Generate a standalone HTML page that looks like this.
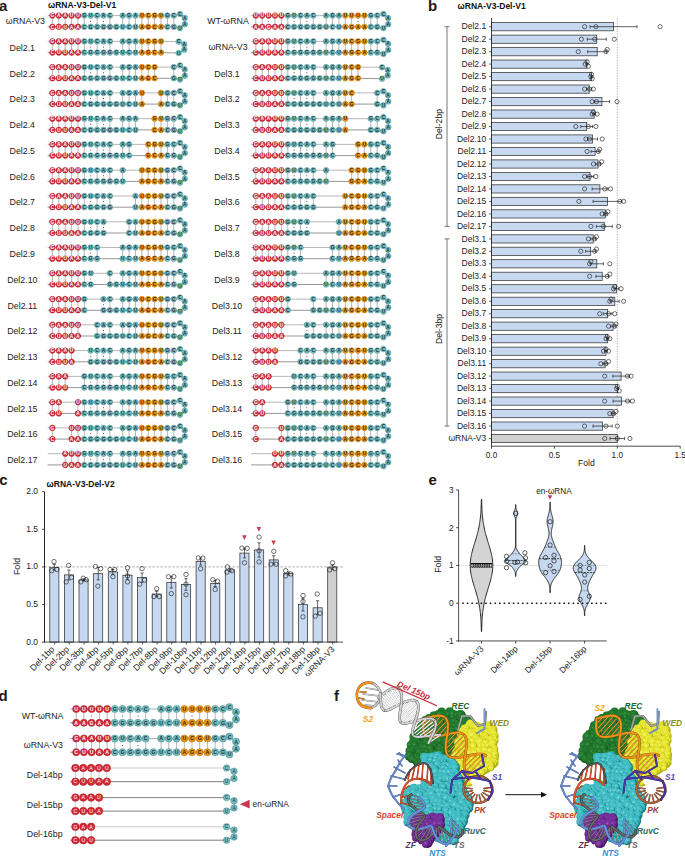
<!DOCTYPE html><html><head><meta charset="utf-8"><style>html,body{margin:0;padding:0;background:#fff;}svg{display:block;font-family:"Liberation Sans",sans-serif;}</style></head><body><svg width="685" height="856" viewBox="0 0 685 856"><rect width="685" height="856" fill="#fff"/><defs><g id="rG280"><circle r="2.8" fill="#d62a38" stroke="#a01e28" stroke-width="0.5"/><text y="1.7" font-size="4.8" text-anchor="middle" fill="#fff" font-weight="bold">G</text></g><g id="rA280"><circle r="2.8" fill="#d62a38" stroke="#a01e28" stroke-width="0.5"/><text y="1.7" font-size="4.8" text-anchor="middle" fill="#fff" font-weight="bold">A</text></g><g id="rU280"><circle r="2.8" fill="#d62a38" stroke="#a01e28" stroke-width="0.5"/><text y="1.7" font-size="4.8" text-anchor="middle" fill="#fff" font-weight="bold">U</text></g><g id="tG280"><circle r="2.8" fill="#74bdc1" stroke="#4a8e92" stroke-width="0.5"/><text y="1.7" font-size="4.8" text-anchor="middle" fill="#1a3436" font-weight="bold">G</text></g><g id="tU280"><circle r="2.8" fill="#74bdc1" stroke="#4a8e92" stroke-width="0.5"/><text y="1.7" font-size="4.8" text-anchor="middle" fill="#1a3436" font-weight="bold">U</text></g><g id="tC280"><circle r="2.8" fill="#74bdc1" stroke="#4a8e92" stroke-width="0.5"/><text y="1.7" font-size="4.8" text-anchor="middle" fill="#1a3436" font-weight="bold">C</text></g><g id="tA280"><circle r="2.8" fill="#74bdc1" stroke="#4a8e92" stroke-width="0.5"/><text y="1.7" font-size="4.8" text-anchor="middle" fill="#1a3436" font-weight="bold">A</text></g><g id="oU280"><circle r="2.8" fill="#e8961a" stroke="#bb7410" stroke-width="0.5"/><text y="1.7" font-size="4.8" text-anchor="middle" fill="#3a2400" font-weight="bold">U</text></g><g id="oC280"><circle r="2.8" fill="#e8961a" stroke="#bb7410" stroke-width="0.5"/><text y="1.7" font-size="4.8" text-anchor="middle" fill="#3a2400" font-weight="bold">C</text></g><g id="oG280"><circle r="2.8" fill="#e8961a" stroke="#bb7410" stroke-width="0.5"/><text y="1.7" font-size="4.8" text-anchor="middle" fill="#3a2400" font-weight="bold">G</text></g><g id="rC280"><circle r="2.8" fill="#d62a38" stroke="#a01e28" stroke-width="0.5"/><text y="1.7" font-size="4.8" text-anchor="middle" fill="#fff" font-weight="bold">C</text></g><g id="oA280"><circle r="2.8" fill="#e8961a" stroke="#bb7410" stroke-width="0.5"/><text y="1.7" font-size="4.8" text-anchor="middle" fill="#3a2400" font-weight="bold">A</text></g><g id="rU355"><circle r="3.55" fill="#d62a38" stroke="#a01e28" stroke-width="0.6"/><text y="1.9" font-size="5.2" text-anchor="middle" fill="#fff" font-weight="bold">U</text></g><g id="tG355"><circle r="3.55" fill="#74bdc1" stroke="#4a8e92" stroke-width="0.6"/><text y="1.9" font-size="5.2" text-anchor="middle" fill="#1a3436" font-weight="bold">G</text></g><g id="tU355"><circle r="3.55" fill="#74bdc1" stroke="#4a8e92" stroke-width="0.6"/><text y="1.9" font-size="5.2" text-anchor="middle" fill="#1a3436" font-weight="bold">U</text></g><g id="tC355"><circle r="3.55" fill="#74bdc1" stroke="#4a8e92" stroke-width="0.6"/><text y="1.9" font-size="5.2" text-anchor="middle" fill="#1a3436" font-weight="bold">C</text></g><g id="tA355"><circle r="3.55" fill="#74bdc1" stroke="#4a8e92" stroke-width="0.6"/><text y="1.9" font-size="5.2" text-anchor="middle" fill="#1a3436" font-weight="bold">A</text></g><g id="oU355"><circle r="3.55" fill="#e8961a" stroke="#bb7410" stroke-width="0.6"/><text y="1.9" font-size="5.2" text-anchor="middle" fill="#3a2400" font-weight="bold">U</text></g><g id="rA355"><circle r="3.55" fill="#d62a38" stroke="#a01e28" stroke-width="0.6"/><text y="1.9" font-size="5.2" text-anchor="middle" fill="#fff" font-weight="bold">A</text></g><g id="rG355"><circle r="3.55" fill="#d62a38" stroke="#a01e28" stroke-width="0.6"/><text y="1.9" font-size="5.2" text-anchor="middle" fill="#fff" font-weight="bold">G</text></g><g id="oA355"><circle r="3.55" fill="#e8961a" stroke="#bb7410" stroke-width="0.6"/><text y="1.9" font-size="5.2" text-anchor="middle" fill="#3a2400" font-weight="bold">A</text></g><g id="oG355"><circle r="3.55" fill="#e8961a" stroke="#bb7410" stroke-width="0.6"/><text y="1.9" font-size="5.2" text-anchor="middle" fill="#3a2400" font-weight="bold">G</text></g><g id="oC355"><circle r="3.55" fill="#e8961a" stroke="#bb7410" stroke-width="0.6"/><text y="1.9" font-size="5.2" text-anchor="middle" fill="#3a2400" font-weight="bold">C</text></g><g id="rC355"><circle r="3.55" fill="#d62a38" stroke="#a01e28" stroke-width="0.6"/><text y="1.9" font-size="5.2" text-anchor="middle" fill="#fff" font-weight="bold">C</text></g></defs><text x="-1.0" y="10.8" font-size="15" text-anchor="start" font-weight="bold" font-style="normal" fill="#231815" >a</text><text x="48.0" y="7.9" font-size="8.5" text-anchor="start" font-weight="bold" font-style="normal" fill="#111" >ωRNA-V3-Del-V1</text><line x1="52.4" y1="18.4" x2="52.4" y2="24.0" stroke="#ababab" stroke-width="0.85"/><line x1="58.8" y1="18.4" x2="58.8" y2="24.0" stroke="#ababab" stroke-width="0.85"/><line x1="65.2" y1="18.4" x2="65.2" y2="24.0" stroke="#ababab" stroke-width="0.85"/><line x1="71.6" y1="18.4" x2="71.6" y2="24.0" stroke="#ababab" stroke-width="0.85"/><line x1="78.0" y1="18.4" x2="78.0" y2="24.0" stroke="#ababab" stroke-width="0.85"/><line x1="84.3" y1="18.4" x2="84.3" y2="24.0" stroke="#ababab" stroke-width="0.85"/><circle cx="90.7" cy="21.2" r="0.5" fill="#222"/><line x1="97.1" y1="18.4" x2="97.1" y2="24.0" stroke="#ababab" stroke-width="0.85"/><circle cx="103.5" cy="21.2" r="0.5" fill="#222"/><line x1="109.9" y1="18.4" x2="109.9" y2="24.0" stroke="#ababab" stroke-width="0.85"/><line x1="122.7" y1="18.4" x2="122.7" y2="24.0" stroke="#ababab" stroke-width="0.85"/><line x1="129.1" y1="18.4" x2="129.1" y2="24.0" stroke="#ababab" stroke-width="0.85"/><line x1="135.5" y1="18.4" x2="135.5" y2="24.0" stroke="#ababab" stroke-width="0.85"/><line x1="141.9" y1="18.4" x2="141.9" y2="24.0" stroke="#ababab" stroke-width="0.85"/><line x1="148.2" y1="18.4" x2="148.2" y2="24.0" stroke="#ababab" stroke-width="0.85"/><line x1="154.6" y1="18.4" x2="154.6" y2="24.0" stroke="#ababab" stroke-width="0.85"/><line x1="161.0" y1="18.4" x2="161.0" y2="24.0" stroke="#ababab" stroke-width="0.85"/><line x1="167.4" y1="18.4" x2="167.4" y2="24.0" stroke="#ababab" stroke-width="0.85"/><line x1="173.8" y1="18.4" x2="173.8" y2="24.0" stroke="#ababab" stroke-width="0.85"/><path d="M47.7,15.6 L52.4,15.6 L58.8,15.6 L65.2,15.6 L71.6,15.6 L78.0,15.6 L84.3,15.6 L90.7,15.6 L97.1,15.6 L103.5,15.6 L109.9,15.6 L122.7,15.6 L129.1,15.6 L135.5,15.6 L141.9,15.6 L148.2,15.6 L154.6,15.6 L161.0,15.6 L167.4,15.6 L173.8,15.6 L180.0,14.0 " fill="none" stroke="#9a9a9a" stroke-width="0.7"/><path d="M47.7,26.8 L52.4,26.8 L58.8,26.8 L65.2,26.8 L71.6,26.8 L78.0,26.8 L84.3,26.8 L90.7,26.8 L97.1,26.8 L103.5,26.8 L109.9,26.8 L116.3,26.8 L122.7,26.8 L129.1,26.8 L135.5,26.8 L141.9,26.8 L148.2,26.8 L154.6,26.8 L161.0,26.8 L167.4,26.8 L173.8,26.8 L180.0,28.1 " fill="none" stroke="#6a6a6a" stroke-width="0.7"/><line x1="180.0" y1="14.0" x2="184.7" y2="17.9" stroke="#6a6a6a" stroke-width="0.7"/><line x1="184.7" y1="17.9" x2="184.8" y2="24.2" stroke="#6a6a6a" stroke-width="0.7"/><line x1="184.8" y1="24.2" x2="180.0" y2="28.1" stroke="#6a6a6a" stroke-width="0.7"/><use href="#rG280" x="52.4" y="15.6"/><use href="#rA280" x="58.8" y="15.6"/><use href="#rA280" x="65.2" y="15.6"/><use href="#rU280" x="71.6" y="15.6"/><use href="#rU280" x="78.0" y="15.6"/><use href="#tG280" x="84.3" y="15.6"/><use href="#tU280" x="90.7" y="15.6"/><use href="#tC280" x="97.1" y="15.6"/><use href="#tA280" x="103.5" y="15.6"/><use href="#tC280" x="109.9" y="15.6"/><use href="#tA280" x="122.7" y="15.6"/><use href="#tG280" x="129.1" y="15.6"/><use href="#tA280" x="135.5" y="15.6"/><use href="#oU280" x="141.9" y="15.6"/><use href="#oC280" x="148.2" y="15.6"/><use href="#oG280" x="154.6" y="15.6"/><use href="#oU280" x="161.0" y="15.6"/><use href="#tG280" x="167.4" y="15.6"/><use href="#tC280" x="173.8" y="15.6"/><use href="#rC280" x="52.4" y="26.8"/><use href="#rU280" x="58.8" y="26.8"/><use href="#rU280" x="65.2" y="26.8"/><use href="#rA280" x="71.6" y="26.8"/><use href="#rA280" x="78.0" y="26.8"/><use href="#tC280" x="84.3" y="26.8"/><use href="#tG280" x="90.7" y="26.8"/><use href="#tG280" x="97.1" y="26.8"/><use href="#tG280" x="103.5" y="26.8"/><use href="#tG280" x="109.9" y="26.8"/><use href="#tG280" x="116.3" y="26.8"/><use href="#tU280" x="122.7" y="26.8"/><use href="#tC280" x="129.1" y="26.8"/><use href="#tU280" x="135.5" y="26.8"/><use href="#oA280" x="141.9" y="26.8"/><use href="#oG280" x="148.2" y="26.8"/><use href="#oC280" x="154.6" y="26.8"/><use href="#oA280" x="161.0" y="26.8"/><use href="#tC280" x="167.4" y="26.8"/><use href="#tG280" x="173.8" y="26.8"/><use href="#tC280" x="180.0" y="14.0"/><use href="#tA280" x="184.7" y="17.9"/><use href="#tA280" x="184.8" y="24.2"/><use href="#tU280" x="180.0" y="28.1"/><text x="25.4" y="23.8" font-size="8.8" text-anchor="middle" font-weight="normal" font-style="normal" fill="#222" >ωRNA-V3</text><line x1="52.4" y1="44.2" x2="52.4" y2="49.8" stroke="#ababab" stroke-width="0.85"/><line x1="58.8" y1="44.2" x2="58.8" y2="49.8" stroke="#ababab" stroke-width="0.85"/><line x1="65.2" y1="44.2" x2="65.2" y2="49.8" stroke="#ababab" stroke-width="0.85"/><line x1="71.6" y1="44.2" x2="71.6" y2="49.8" stroke="#ababab" stroke-width="0.85"/><line x1="78.0" y1="44.2" x2="78.0" y2="49.8" stroke="#ababab" stroke-width="0.85"/><line x1="84.3" y1="44.2" x2="84.3" y2="49.8" stroke="#ababab" stroke-width="0.85"/><circle cx="90.7" cy="47.0" r="0.5" fill="#222"/><line x1="97.1" y1="44.2" x2="97.1" y2="49.8" stroke="#ababab" stroke-width="0.85"/><circle cx="103.5" cy="47.0" r="0.5" fill="#222"/><line x1="109.9" y1="44.2" x2="109.9" y2="49.8" stroke="#ababab" stroke-width="0.85"/><line x1="122.7" y1="44.2" x2="122.7" y2="49.8" stroke="#ababab" stroke-width="0.85"/><line x1="129.1" y1="44.2" x2="129.1" y2="49.8" stroke="#ababab" stroke-width="0.85"/><line x1="135.5" y1="44.2" x2="135.5" y2="49.8" stroke="#ababab" stroke-width="0.85"/><line x1="141.9" y1="44.2" x2="141.9" y2="49.8" stroke="#ababab" stroke-width="0.85"/><line x1="148.2" y1="44.2" x2="148.2" y2="49.8" stroke="#ababab" stroke-width="0.85"/><line x1="154.6" y1="44.2" x2="154.6" y2="49.8" stroke="#ababab" stroke-width="0.85"/><line x1="161.0" y1="44.2" x2="161.0" y2="49.8" stroke="#ababab" stroke-width="0.85"/><path d="M47.7,41.4 L52.4,41.4 L58.8,41.4 L65.2,41.4 L71.6,41.4 L78.0,41.4 L84.3,41.4 L90.7,41.4 L97.1,41.4 L103.5,41.4 L109.9,41.4 L122.7,41.4 L129.1,41.4 L135.5,41.4 L141.9,41.4 L148.2,41.4 L154.6,41.4 L161.0,41.4 L178.7,41.6 " fill="none" stroke="#9a9a9a" stroke-width="0.7"/><path d="M47.7,52.6 L52.4,52.6 L58.8,52.6 L65.2,52.6 L71.6,52.6 L78.0,52.6 L84.3,52.6 L90.7,52.6 L97.1,52.6 L103.5,52.6 L109.9,52.6 L116.3,52.6 L122.7,52.6 L129.1,52.6 L135.5,52.6 L141.9,52.6 L148.2,52.6 L154.6,52.6 L161.0,52.6 L178.7,53.0 " fill="none" stroke="#6a6a6a" stroke-width="0.7"/><line x1="178.7" y1="41.6" x2="184.3" y2="44.2" stroke="#6a6a6a" stroke-width="0.7"/><line x1="184.3" y1="44.2" x2="184.3" y2="49.7" stroke="#6a6a6a" stroke-width="0.7"/><line x1="184.3" y1="49.7" x2="178.7" y2="53.0" stroke="#6a6a6a" stroke-width="0.7"/><use href="#rG280" x="52.4" y="41.4"/><use href="#rA280" x="58.8" y="41.4"/><use href="#rA280" x="65.2" y="41.4"/><use href="#rU280" x="71.6" y="41.4"/><use href="#rU280" x="78.0" y="41.4"/><use href="#tG280" x="84.3" y="41.4"/><use href="#tU280" x="90.7" y="41.4"/><use href="#tC280" x="97.1" y="41.4"/><use href="#tA280" x="103.5" y="41.4"/><use href="#tC280" x="109.9" y="41.4"/><use href="#tA280" x="122.7" y="41.4"/><use href="#tG280" x="129.1" y="41.4"/><use href="#tA280" x="135.5" y="41.4"/><use href="#oU280" x="141.9" y="41.4"/><use href="#oC280" x="148.2" y="41.4"/><use href="#oG280" x="154.6" y="41.4"/><use href="#oU280" x="161.0" y="41.4"/><use href="#rC280" x="52.4" y="52.6"/><use href="#rU280" x="58.8" y="52.6"/><use href="#rU280" x="65.2" y="52.6"/><use href="#rA280" x="71.6" y="52.6"/><use href="#rA280" x="78.0" y="52.6"/><use href="#tC280" x="84.3" y="52.6"/><use href="#tG280" x="90.7" y="52.6"/><use href="#tG280" x="97.1" y="52.6"/><use href="#tG280" x="103.5" y="52.6"/><use href="#tG280" x="109.9" y="52.6"/><use href="#tG280" x="116.3" y="52.6"/><use href="#tU280" x="122.7" y="52.6"/><use href="#tC280" x="129.1" y="52.6"/><use href="#tU280" x="135.5" y="52.6"/><use href="#oA280" x="141.9" y="52.6"/><use href="#oG280" x="148.2" y="52.6"/><use href="#oC280" x="154.6" y="52.6"/><use href="#oA280" x="161.0" y="52.6"/><use href="#tC280" x="178.7" y="41.6"/><use href="#tA280" x="184.3" y="44.2"/><use href="#tA280" x="184.3" y="49.7"/><use href="#tU280" x="178.7" y="53.0"/><text x="22.3" y="50.8" font-size="8.8" text-anchor="middle" font-weight="normal" font-style="normal" fill="#222" >Del2.1</text><line x1="52.4" y1="69.9" x2="52.4" y2="75.5" stroke="#ababab" stroke-width="0.85"/><line x1="58.8" y1="69.9" x2="58.8" y2="75.5" stroke="#ababab" stroke-width="0.85"/><line x1="65.2" y1="69.9" x2="65.2" y2="75.5" stroke="#ababab" stroke-width="0.85"/><line x1="71.6" y1="69.9" x2="71.6" y2="75.5" stroke="#ababab" stroke-width="0.85"/><line x1="78.0" y1="69.9" x2="78.0" y2="75.5" stroke="#ababab" stroke-width="0.85"/><line x1="84.3" y1="69.9" x2="84.3" y2="75.5" stroke="#ababab" stroke-width="0.85"/><circle cx="90.7" cy="72.7" r="0.5" fill="#222"/><line x1="97.1" y1="69.9" x2="97.1" y2="75.5" stroke="#ababab" stroke-width="0.85"/><circle cx="103.5" cy="72.7" r="0.5" fill="#222"/><line x1="109.9" y1="69.9" x2="109.9" y2="75.5" stroke="#ababab" stroke-width="0.85"/><line x1="122.7" y1="69.9" x2="122.7" y2="75.5" stroke="#ababab" stroke-width="0.85"/><line x1="129.1" y1="69.9" x2="129.1" y2="75.5" stroke="#ababab" stroke-width="0.85"/><line x1="135.5" y1="69.9" x2="135.5" y2="75.5" stroke="#ababab" stroke-width="0.85"/><line x1="141.9" y1="69.9" x2="141.9" y2="75.5" stroke="#ababab" stroke-width="0.85"/><line x1="148.2" y1="69.9" x2="148.2" y2="75.5" stroke="#ababab" stroke-width="0.85"/><line x1="154.6" y1="69.9" x2="154.6" y2="75.5" stroke="#ababab" stroke-width="0.85"/><line x1="173.8" y1="69.9" x2="173.8" y2="75.5" stroke="#ababab" stroke-width="0.85"/><path d="M47.7,67.1 L52.4,67.1 L58.8,67.1 L65.2,67.1 L71.6,67.1 L78.0,67.1 L84.3,67.1 L90.7,67.1 L97.1,67.1 L103.5,67.1 L109.9,67.1 L122.7,67.1 L129.1,67.1 L135.5,67.1 L141.9,67.1 L148.2,67.1 L154.6,67.1 L173.8,67.1 L180.0,65.5 " fill="none" stroke="#9a9a9a" stroke-width="0.7"/><path d="M47.7,78.3 L52.4,78.3 L58.8,78.3 L65.2,78.3 L71.6,78.3 L78.0,78.3 L84.3,78.3 L90.7,78.3 L97.1,78.3 L103.5,78.3 L109.9,78.3 L116.3,78.3 L122.7,78.3 L129.1,78.3 L135.5,78.3 L141.9,78.3 L148.2,78.3 L154.6,78.3 L173.8,78.3 L180.0,79.6 " fill="none" stroke="#6a6a6a" stroke-width="0.7"/><line x1="180.0" y1="65.5" x2="184.7" y2="69.4" stroke="#6a6a6a" stroke-width="0.7"/><line x1="184.7" y1="69.4" x2="184.8" y2="75.7" stroke="#6a6a6a" stroke-width="0.7"/><line x1="184.8" y1="75.7" x2="180.0" y2="79.6" stroke="#6a6a6a" stroke-width="0.7"/><use href="#rG280" x="52.4" y="67.1"/><use href="#rA280" x="58.8" y="67.1"/><use href="#rA280" x="65.2" y="67.1"/><use href="#rU280" x="71.6" y="67.1"/><use href="#rU280" x="78.0" y="67.1"/><use href="#tG280" x="84.3" y="67.1"/><use href="#tU280" x="90.7" y="67.1"/><use href="#tC280" x="97.1" y="67.1"/><use href="#tA280" x="103.5" y="67.1"/><use href="#tC280" x="109.9" y="67.1"/><use href="#tA280" x="122.7" y="67.1"/><use href="#tG280" x="129.1" y="67.1"/><use href="#tA280" x="135.5" y="67.1"/><use href="#oU280" x="141.9" y="67.1"/><use href="#oC280" x="148.2" y="67.1"/><use href="#oG280" x="154.6" y="67.1"/><use href="#tC280" x="173.8" y="67.1"/><use href="#rC280" x="52.4" y="78.3"/><use href="#rU280" x="58.8" y="78.3"/><use href="#rU280" x="65.2" y="78.3"/><use href="#rA280" x="71.6" y="78.3"/><use href="#rA280" x="78.0" y="78.3"/><use href="#tC280" x="84.3" y="78.3"/><use href="#tG280" x="90.7" y="78.3"/><use href="#tG280" x="97.1" y="78.3"/><use href="#tG280" x="103.5" y="78.3"/><use href="#tG280" x="109.9" y="78.3"/><use href="#tG280" x="116.3" y="78.3"/><use href="#tU280" x="122.7" y="78.3"/><use href="#tC280" x="129.1" y="78.3"/><use href="#tU280" x="135.5" y="78.3"/><use href="#oA280" x="141.9" y="78.3"/><use href="#oG280" x="148.2" y="78.3"/><use href="#oC280" x="154.6" y="78.3"/><use href="#tG280" x="173.8" y="78.3"/><use href="#tC280" x="180.0" y="65.5"/><use href="#tA280" x="184.7" y="69.4"/><use href="#tA280" x="184.8" y="75.7"/><use href="#tU280" x="180.0" y="79.6"/><text x="22.3" y="76.5" font-size="8.8" text-anchor="middle" font-weight="normal" font-style="normal" fill="#222" >Del2.2</text><line x1="52.4" y1="95.7" x2="52.4" y2="101.3" stroke="#ababab" stroke-width="0.85"/><line x1="58.8" y1="95.7" x2="58.8" y2="101.3" stroke="#ababab" stroke-width="0.85"/><line x1="65.2" y1="95.7" x2="65.2" y2="101.3" stroke="#ababab" stroke-width="0.85"/><line x1="71.6" y1="95.7" x2="71.6" y2="101.3" stroke="#ababab" stroke-width="0.85"/><line x1="78.0" y1="95.7" x2="78.0" y2="101.3" stroke="#ababab" stroke-width="0.85"/><line x1="84.3" y1="95.7" x2="84.3" y2="101.3" stroke="#ababab" stroke-width="0.85"/><circle cx="90.7" cy="98.5" r="0.5" fill="#222"/><line x1="97.1" y1="95.7" x2="97.1" y2="101.3" stroke="#ababab" stroke-width="0.85"/><circle cx="103.5" cy="98.5" r="0.5" fill="#222"/><line x1="109.9" y1="95.7" x2="109.9" y2="101.3" stroke="#ababab" stroke-width="0.85"/><line x1="122.7" y1="95.7" x2="122.7" y2="101.3" stroke="#ababab" stroke-width="0.85"/><line x1="129.1" y1="95.7" x2="129.1" y2="101.3" stroke="#ababab" stroke-width="0.85"/><line x1="135.5" y1="95.7" x2="135.5" y2="101.3" stroke="#ababab" stroke-width="0.85"/><line x1="141.9" y1="95.7" x2="141.9" y2="101.3" stroke="#ababab" stroke-width="0.85"/><line x1="161.0" y1="95.7" x2="161.0" y2="101.3" stroke="#ababab" stroke-width="0.85"/><line x1="167.4" y1="95.7" x2="167.4" y2="101.3" stroke="#ababab" stroke-width="0.85"/><line x1="173.8" y1="95.7" x2="173.8" y2="101.3" stroke="#ababab" stroke-width="0.85"/><path d="M47.7,92.9 L52.4,92.9 L58.8,92.9 L65.2,92.9 L71.6,92.9 L78.0,92.9 L84.3,92.9 L90.7,92.9 L97.1,92.9 L103.5,92.9 L109.9,92.9 L122.7,92.9 L129.1,92.9 L135.5,92.9 L141.9,92.9 L161.0,92.9 L167.4,92.9 L173.8,92.9 L180.0,91.3 " fill="none" stroke="#9a9a9a" stroke-width="0.7"/><path d="M47.7,104.1 L52.4,104.1 L58.8,104.1 L65.2,104.1 L71.6,104.1 L78.0,104.1 L84.3,104.1 L90.7,104.1 L97.1,104.1 L103.5,104.1 L109.9,104.1 L116.3,104.1 L122.7,104.1 L129.1,104.1 L135.5,104.1 L141.9,104.1 L161.0,104.1 L167.4,104.1 L173.8,104.1 L180.0,105.4 " fill="none" stroke="#6a6a6a" stroke-width="0.7"/><line x1="180.0" y1="91.3" x2="184.7" y2="95.2" stroke="#6a6a6a" stroke-width="0.7"/><line x1="184.7" y1="95.2" x2="184.8" y2="101.5" stroke="#6a6a6a" stroke-width="0.7"/><line x1="184.8" y1="101.5" x2="180.0" y2="105.4" stroke="#6a6a6a" stroke-width="0.7"/><use href="#rG280" x="52.4" y="92.9"/><use href="#rA280" x="58.8" y="92.9"/><use href="#rA280" x="65.2" y="92.9"/><use href="#rU280" x="71.6" y="92.9"/><use href="#rU280" x="78.0" y="92.9"/><use href="#tG280" x="84.3" y="92.9"/><use href="#tU280" x="90.7" y="92.9"/><use href="#tC280" x="97.1" y="92.9"/><use href="#tA280" x="103.5" y="92.9"/><use href="#tC280" x="109.9" y="92.9"/><use href="#tA280" x="122.7" y="92.9"/><use href="#tG280" x="129.1" y="92.9"/><use href="#tA280" x="135.5" y="92.9"/><use href="#oU280" x="141.9" y="92.9"/><use href="#oU280" x="161.0" y="92.9"/><use href="#tG280" x="167.4" y="92.9"/><use href="#tC280" x="173.8" y="92.9"/><use href="#rC280" x="52.4" y="104.1"/><use href="#rU280" x="58.8" y="104.1"/><use href="#rU280" x="65.2" y="104.1"/><use href="#rA280" x="71.6" y="104.1"/><use href="#rA280" x="78.0" y="104.1"/><use href="#tC280" x="84.3" y="104.1"/><use href="#tG280" x="90.7" y="104.1"/><use href="#tG280" x="97.1" y="104.1"/><use href="#tG280" x="103.5" y="104.1"/><use href="#tG280" x="109.9" y="104.1"/><use href="#tG280" x="116.3" y="104.1"/><use href="#tU280" x="122.7" y="104.1"/><use href="#tC280" x="129.1" y="104.1"/><use href="#tU280" x="135.5" y="104.1"/><use href="#oA280" x="141.9" y="104.1"/><use href="#oA280" x="161.0" y="104.1"/><use href="#tC280" x="167.4" y="104.1"/><use href="#tG280" x="173.8" y="104.1"/><use href="#tC280" x="180.0" y="91.3"/><use href="#tA280" x="184.7" y="95.2"/><use href="#tA280" x="184.8" y="101.5"/><use href="#tU280" x="180.0" y="105.4"/><text x="22.3" y="102.3" font-size="8.8" text-anchor="middle" font-weight="normal" font-style="normal" fill="#222" >Del2.3</text><line x1="52.4" y1="121.5" x2="52.4" y2="127.1" stroke="#ababab" stroke-width="0.85"/><line x1="58.8" y1="121.5" x2="58.8" y2="127.1" stroke="#ababab" stroke-width="0.85"/><line x1="65.2" y1="121.5" x2="65.2" y2="127.1" stroke="#ababab" stroke-width="0.85"/><line x1="71.6" y1="121.5" x2="71.6" y2="127.1" stroke="#ababab" stroke-width="0.85"/><line x1="78.0" y1="121.5" x2="78.0" y2="127.1" stroke="#ababab" stroke-width="0.85"/><line x1="84.3" y1="121.5" x2="84.3" y2="127.1" stroke="#ababab" stroke-width="0.85"/><circle cx="90.7" cy="124.3" r="0.5" fill="#222"/><line x1="97.1" y1="121.5" x2="97.1" y2="127.1" stroke="#ababab" stroke-width="0.85"/><circle cx="103.5" cy="124.3" r="0.5" fill="#222"/><line x1="109.9" y1="121.5" x2="109.9" y2="127.1" stroke="#ababab" stroke-width="0.85"/><line x1="122.7" y1="121.5" x2="122.7" y2="127.1" stroke="#ababab" stroke-width="0.85"/><line x1="129.1" y1="121.5" x2="129.1" y2="127.1" stroke="#ababab" stroke-width="0.85"/><line x1="135.5" y1="121.5" x2="135.5" y2="127.1" stroke="#ababab" stroke-width="0.85"/><line x1="154.6" y1="121.5" x2="154.6" y2="127.1" stroke="#ababab" stroke-width="0.85"/><line x1="161.0" y1="121.5" x2="161.0" y2="127.1" stroke="#ababab" stroke-width="0.85"/><line x1="167.4" y1="121.5" x2="167.4" y2="127.1" stroke="#ababab" stroke-width="0.85"/><line x1="173.8" y1="121.5" x2="173.8" y2="127.1" stroke="#ababab" stroke-width="0.85"/><path d="M47.7,118.7 L52.4,118.7 L58.8,118.7 L65.2,118.7 L71.6,118.7 L78.0,118.7 L84.3,118.7 L90.7,118.7 L97.1,118.7 L103.5,118.7 L109.9,118.7 L122.7,118.7 L129.1,118.7 L135.5,118.7 L154.6,118.7 L161.0,118.7 L167.4,118.7 L173.8,118.7 L180.0,117.1 " fill="none" stroke="#9a9a9a" stroke-width="0.7"/><path d="M47.7,129.9 L52.4,129.9 L58.8,129.9 L65.2,129.9 L71.6,129.9 L78.0,129.9 L84.3,129.9 L90.7,129.9 L97.1,129.9 L103.5,129.9 L109.9,129.9 L116.3,129.9 L122.7,129.9 L129.1,129.9 L135.5,129.9 L154.6,129.9 L161.0,129.9 L167.4,129.9 L173.8,129.9 L180.0,131.2 " fill="none" stroke="#6a6a6a" stroke-width="0.7"/><line x1="180.0" y1="117.1" x2="184.7" y2="121.0" stroke="#6a6a6a" stroke-width="0.7"/><line x1="184.7" y1="121.0" x2="184.8" y2="127.3" stroke="#6a6a6a" stroke-width="0.7"/><line x1="184.8" y1="127.3" x2="180.0" y2="131.2" stroke="#6a6a6a" stroke-width="0.7"/><use href="#rG280" x="52.4" y="118.7"/><use href="#rA280" x="58.8" y="118.7"/><use href="#rA280" x="65.2" y="118.7"/><use href="#rU280" x="71.6" y="118.7"/><use href="#rU280" x="78.0" y="118.7"/><use href="#tG280" x="84.3" y="118.7"/><use href="#tU280" x="90.7" y="118.7"/><use href="#tC280" x="97.1" y="118.7"/><use href="#tA280" x="103.5" y="118.7"/><use href="#tC280" x="109.9" y="118.7"/><use href="#tA280" x="122.7" y="118.7"/><use href="#tG280" x="129.1" y="118.7"/><use href="#tA280" x="135.5" y="118.7"/><use href="#oG280" x="154.6" y="118.7"/><use href="#oU280" x="161.0" y="118.7"/><use href="#tG280" x="167.4" y="118.7"/><use href="#tC280" x="173.8" y="118.7"/><use href="#rC280" x="52.4" y="129.9"/><use href="#rU280" x="58.8" y="129.9"/><use href="#rU280" x="65.2" y="129.9"/><use href="#rA280" x="71.6" y="129.9"/><use href="#rA280" x="78.0" y="129.9"/><use href="#tC280" x="84.3" y="129.9"/><use href="#tG280" x="90.7" y="129.9"/><use href="#tG280" x="97.1" y="129.9"/><use href="#tG280" x="103.5" y="129.9"/><use href="#tG280" x="109.9" y="129.9"/><use href="#tG280" x="116.3" y="129.9"/><use href="#tU280" x="122.7" y="129.9"/><use href="#tC280" x="129.1" y="129.9"/><use href="#tU280" x="135.5" y="129.9"/><use href="#oC280" x="154.6" y="129.9"/><use href="#oA280" x="161.0" y="129.9"/><use href="#tC280" x="167.4" y="129.9"/><use href="#tG280" x="173.8" y="129.9"/><use href="#tC280" x="180.0" y="117.1"/><use href="#tA280" x="184.7" y="121.0"/><use href="#tA280" x="184.8" y="127.3"/><use href="#tU280" x="180.0" y="131.2"/><text x="22.3" y="128.1" font-size="8.8" text-anchor="middle" font-weight="normal" font-style="normal" fill="#222" >Del2.4</text><line x1="52.4" y1="147.2" x2="52.4" y2="152.8" stroke="#ababab" stroke-width="0.85"/><line x1="58.8" y1="147.2" x2="58.8" y2="152.8" stroke="#ababab" stroke-width="0.85"/><line x1="65.2" y1="147.2" x2="65.2" y2="152.8" stroke="#ababab" stroke-width="0.85"/><line x1="71.6" y1="147.2" x2="71.6" y2="152.8" stroke="#ababab" stroke-width="0.85"/><line x1="78.0" y1="147.2" x2="78.0" y2="152.8" stroke="#ababab" stroke-width="0.85"/><line x1="84.3" y1="147.2" x2="84.3" y2="152.8" stroke="#ababab" stroke-width="0.85"/><circle cx="90.7" cy="150.0" r="0.5" fill="#222"/><line x1="97.1" y1="147.2" x2="97.1" y2="152.8" stroke="#ababab" stroke-width="0.85"/><circle cx="103.5" cy="150.0" r="0.5" fill="#222"/><line x1="109.9" y1="147.2" x2="109.9" y2="152.8" stroke="#ababab" stroke-width="0.85"/><line x1="122.7" y1="147.2" x2="122.7" y2="152.8" stroke="#ababab" stroke-width="0.85"/><line x1="129.1" y1="147.2" x2="129.1" y2="152.8" stroke="#ababab" stroke-width="0.85"/><line x1="148.2" y1="147.2" x2="148.2" y2="152.8" stroke="#ababab" stroke-width="0.85"/><line x1="154.6" y1="147.2" x2="154.6" y2="152.8" stroke="#ababab" stroke-width="0.85"/><line x1="161.0" y1="147.2" x2="161.0" y2="152.8" stroke="#ababab" stroke-width="0.85"/><line x1="167.4" y1="147.2" x2="167.4" y2="152.8" stroke="#ababab" stroke-width="0.85"/><line x1="173.8" y1="147.2" x2="173.8" y2="152.8" stroke="#ababab" stroke-width="0.85"/><path d="M47.7,144.4 L52.4,144.4 L58.8,144.4 L65.2,144.4 L71.6,144.4 L78.0,144.4 L84.3,144.4 L90.7,144.4 L97.1,144.4 L103.5,144.4 L109.9,144.4 L122.7,144.4 L129.1,144.4 L148.2,144.4 L154.6,144.4 L161.0,144.4 L167.4,144.4 L173.8,144.4 L180.0,142.8 " fill="none" stroke="#9a9a9a" stroke-width="0.7"/><path d="M47.7,155.6 L52.4,155.6 L58.8,155.6 L65.2,155.6 L71.6,155.6 L78.0,155.6 L84.3,155.6 L90.7,155.6 L97.1,155.6 L103.5,155.6 L109.9,155.6 L116.3,155.6 L122.7,155.6 L129.1,155.6 L148.2,155.6 L154.6,155.6 L161.0,155.6 L167.4,155.6 L173.8,155.6 L180.0,156.9 " fill="none" stroke="#6a6a6a" stroke-width="0.7"/><line x1="180.0" y1="142.8" x2="184.7" y2="146.8" stroke="#6a6a6a" stroke-width="0.7"/><line x1="184.7" y1="146.8" x2="184.8" y2="153.0" stroke="#6a6a6a" stroke-width="0.7"/><line x1="184.8" y1="153.0" x2="180.0" y2="156.9" stroke="#6a6a6a" stroke-width="0.7"/><use href="#rG280" x="52.4" y="144.4"/><use href="#rA280" x="58.8" y="144.4"/><use href="#rA280" x="65.2" y="144.4"/><use href="#rU280" x="71.6" y="144.4"/><use href="#rU280" x="78.0" y="144.4"/><use href="#tG280" x="84.3" y="144.4"/><use href="#tU280" x="90.7" y="144.4"/><use href="#tC280" x="97.1" y="144.4"/><use href="#tA280" x="103.5" y="144.4"/><use href="#tC280" x="109.9" y="144.4"/><use href="#tA280" x="122.7" y="144.4"/><use href="#tG280" x="129.1" y="144.4"/><use href="#oC280" x="148.2" y="144.4"/><use href="#oG280" x="154.6" y="144.4"/><use href="#oU280" x="161.0" y="144.4"/><use href="#tG280" x="167.4" y="144.4"/><use href="#tC280" x="173.8" y="144.4"/><use href="#rC280" x="52.4" y="155.6"/><use href="#rU280" x="58.8" y="155.6"/><use href="#rU280" x="65.2" y="155.6"/><use href="#rA280" x="71.6" y="155.6"/><use href="#rA280" x="78.0" y="155.6"/><use href="#tC280" x="84.3" y="155.6"/><use href="#tG280" x="90.7" y="155.6"/><use href="#tG280" x="97.1" y="155.6"/><use href="#tG280" x="103.5" y="155.6"/><use href="#tG280" x="109.9" y="155.6"/><use href="#tG280" x="116.3" y="155.6"/><use href="#tU280" x="122.7" y="155.6"/><use href="#tC280" x="129.1" y="155.6"/><use href="#oG280" x="148.2" y="155.6"/><use href="#oC280" x="154.6" y="155.6"/><use href="#oA280" x="161.0" y="155.6"/><use href="#tC280" x="167.4" y="155.6"/><use href="#tG280" x="173.8" y="155.6"/><use href="#tC280" x="180.0" y="142.8"/><use href="#tA280" x="184.7" y="146.8"/><use href="#tA280" x="184.8" y="153.0"/><use href="#tU280" x="180.0" y="156.9"/><text x="22.3" y="153.8" font-size="8.8" text-anchor="middle" font-weight="normal" font-style="normal" fill="#222" >Del2.5</text><line x1="52.4" y1="173.0" x2="52.4" y2="178.6" stroke="#ababab" stroke-width="0.85"/><line x1="58.8" y1="173.0" x2="58.8" y2="178.6" stroke="#ababab" stroke-width="0.85"/><line x1="65.2" y1="173.0" x2="65.2" y2="178.6" stroke="#ababab" stroke-width="0.85"/><line x1="71.6" y1="173.0" x2="71.6" y2="178.6" stroke="#ababab" stroke-width="0.85"/><line x1="78.0" y1="173.0" x2="78.0" y2="178.6" stroke="#ababab" stroke-width="0.85"/><line x1="84.3" y1="173.0" x2="84.3" y2="178.6" stroke="#ababab" stroke-width="0.85"/><circle cx="90.7" cy="175.8" r="0.5" fill="#222"/><line x1="97.1" y1="173.0" x2="97.1" y2="178.6" stroke="#ababab" stroke-width="0.85"/><circle cx="103.5" cy="175.8" r="0.5" fill="#222"/><line x1="109.9" y1="173.0" x2="109.9" y2="178.6" stroke="#ababab" stroke-width="0.85"/><line x1="122.7" y1="173.0" x2="122.7" y2="178.6" stroke="#ababab" stroke-width="0.85"/><line x1="141.9" y1="173.0" x2="141.9" y2="178.6" stroke="#ababab" stroke-width="0.85"/><line x1="148.2" y1="173.0" x2="148.2" y2="178.6" stroke="#ababab" stroke-width="0.85"/><line x1="154.6" y1="173.0" x2="154.6" y2="178.6" stroke="#ababab" stroke-width="0.85"/><line x1="161.0" y1="173.0" x2="161.0" y2="178.6" stroke="#ababab" stroke-width="0.85"/><line x1="167.4" y1="173.0" x2="167.4" y2="178.6" stroke="#ababab" stroke-width="0.85"/><line x1="173.8" y1="173.0" x2="173.8" y2="178.6" stroke="#ababab" stroke-width="0.85"/><path d="M47.7,170.2 L52.4,170.2 L58.8,170.2 L65.2,170.2 L71.6,170.2 L78.0,170.2 L84.3,170.2 L90.7,170.2 L97.1,170.2 L103.5,170.2 L109.9,170.2 L122.7,170.2 L141.9,170.2 L148.2,170.2 L154.6,170.2 L161.0,170.2 L167.4,170.2 L173.8,170.2 L180.0,168.6 " fill="none" stroke="#9a9a9a" stroke-width="0.7"/><path d="M47.7,181.4 L52.4,181.4 L58.8,181.4 L65.2,181.4 L71.6,181.4 L78.0,181.4 L84.3,181.4 L90.7,181.4 L97.1,181.4 L103.5,181.4 L109.9,181.4 L116.3,181.4 L122.7,181.4 L141.9,181.4 L148.2,181.4 L154.6,181.4 L161.0,181.4 L167.4,181.4 L173.8,181.4 L180.0,182.7 " fill="none" stroke="#6a6a6a" stroke-width="0.7"/><line x1="180.0" y1="168.6" x2="184.7" y2="172.5" stroke="#6a6a6a" stroke-width="0.7"/><line x1="184.7" y1="172.5" x2="184.8" y2="178.8" stroke="#6a6a6a" stroke-width="0.7"/><line x1="184.8" y1="178.8" x2="180.0" y2="182.7" stroke="#6a6a6a" stroke-width="0.7"/><use href="#rG280" x="52.4" y="170.2"/><use href="#rA280" x="58.8" y="170.2"/><use href="#rA280" x="65.2" y="170.2"/><use href="#rU280" x="71.6" y="170.2"/><use href="#rU280" x="78.0" y="170.2"/><use href="#tG280" x="84.3" y="170.2"/><use href="#tU280" x="90.7" y="170.2"/><use href="#tC280" x="97.1" y="170.2"/><use href="#tA280" x="103.5" y="170.2"/><use href="#tC280" x="109.9" y="170.2"/><use href="#tA280" x="122.7" y="170.2"/><use href="#oU280" x="141.9" y="170.2"/><use href="#oC280" x="148.2" y="170.2"/><use href="#oG280" x="154.6" y="170.2"/><use href="#oU280" x="161.0" y="170.2"/><use href="#tG280" x="167.4" y="170.2"/><use href="#tC280" x="173.8" y="170.2"/><use href="#rC280" x="52.4" y="181.4"/><use href="#rU280" x="58.8" y="181.4"/><use href="#rU280" x="65.2" y="181.4"/><use href="#rA280" x="71.6" y="181.4"/><use href="#rA280" x="78.0" y="181.4"/><use href="#tC280" x="84.3" y="181.4"/><use href="#tG280" x="90.7" y="181.4"/><use href="#tG280" x="97.1" y="181.4"/><use href="#tG280" x="103.5" y="181.4"/><use href="#tG280" x="109.9" y="181.4"/><use href="#tG280" x="116.3" y="181.4"/><use href="#tU280" x="122.7" y="181.4"/><use href="#oA280" x="141.9" y="181.4"/><use href="#oG280" x="148.2" y="181.4"/><use href="#oC280" x="154.6" y="181.4"/><use href="#oA280" x="161.0" y="181.4"/><use href="#tC280" x="167.4" y="181.4"/><use href="#tG280" x="173.8" y="181.4"/><use href="#tC280" x="180.0" y="168.6"/><use href="#tA280" x="184.7" y="172.5"/><use href="#tA280" x="184.8" y="178.8"/><use href="#tU280" x="180.0" y="182.7"/><text x="22.3" y="179.6" font-size="8.8" text-anchor="middle" font-weight="normal" font-style="normal" fill="#222" >Del2.6</text><line x1="52.4" y1="198.8" x2="52.4" y2="204.4" stroke="#ababab" stroke-width="0.85"/><line x1="58.8" y1="198.8" x2="58.8" y2="204.4" stroke="#ababab" stroke-width="0.85"/><line x1="65.2" y1="198.8" x2="65.2" y2="204.4" stroke="#ababab" stroke-width="0.85"/><line x1="71.6" y1="198.8" x2="71.6" y2="204.4" stroke="#ababab" stroke-width="0.85"/><line x1="78.0" y1="198.8" x2="78.0" y2="204.4" stroke="#ababab" stroke-width="0.85"/><line x1="84.3" y1="198.8" x2="84.3" y2="204.4" stroke="#ababab" stroke-width="0.85"/><circle cx="90.7" cy="201.6" r="0.5" fill="#222"/><line x1="97.1" y1="198.8" x2="97.1" y2="204.4" stroke="#ababab" stroke-width="0.85"/><circle cx="103.5" cy="201.6" r="0.5" fill="#222"/><line x1="109.9" y1="198.8" x2="109.9" y2="204.4" stroke="#ababab" stroke-width="0.85"/><line x1="135.5" y1="198.8" x2="135.5" y2="204.4" stroke="#ababab" stroke-width="0.85"/><line x1="141.9" y1="198.8" x2="141.9" y2="204.4" stroke="#ababab" stroke-width="0.85"/><line x1="148.2" y1="198.8" x2="148.2" y2="204.4" stroke="#ababab" stroke-width="0.85"/><line x1="154.6" y1="198.8" x2="154.6" y2="204.4" stroke="#ababab" stroke-width="0.85"/><line x1="161.0" y1="198.8" x2="161.0" y2="204.4" stroke="#ababab" stroke-width="0.85"/><line x1="167.4" y1="198.8" x2="167.4" y2="204.4" stroke="#ababab" stroke-width="0.85"/><line x1="173.8" y1="198.8" x2="173.8" y2="204.4" stroke="#ababab" stroke-width="0.85"/><path d="M47.7,196.0 L52.4,196.0 L58.8,196.0 L65.2,196.0 L71.6,196.0 L78.0,196.0 L84.3,196.0 L90.7,196.0 L97.1,196.0 L103.5,196.0 L109.9,196.0 L135.5,196.0 L141.9,196.0 L148.2,196.0 L154.6,196.0 L161.0,196.0 L167.4,196.0 L173.8,196.0 L180.0,194.4 " fill="none" stroke="#9a9a9a" stroke-width="0.7"/><path d="M47.7,207.2 L52.4,207.2 L58.8,207.2 L65.2,207.2 L71.6,207.2 L78.0,207.2 L84.3,207.2 L90.7,207.2 L97.1,207.2 L103.5,207.2 L109.9,207.2 L135.5,207.2 L141.9,207.2 L148.2,207.2 L154.6,207.2 L161.0,207.2 L167.4,207.2 L173.8,207.2 L180.0,208.5 " fill="none" stroke="#6a6a6a" stroke-width="0.7"/><line x1="180.0" y1="194.4" x2="184.7" y2="198.3" stroke="#6a6a6a" stroke-width="0.7"/><line x1="184.7" y1="198.3" x2="184.8" y2="204.6" stroke="#6a6a6a" stroke-width="0.7"/><line x1="184.8" y1="204.6" x2="180.0" y2="208.5" stroke="#6a6a6a" stroke-width="0.7"/><use href="#rG280" x="52.4" y="196.0"/><use href="#rA280" x="58.8" y="196.0"/><use href="#rA280" x="65.2" y="196.0"/><use href="#rU280" x="71.6" y="196.0"/><use href="#rU280" x="78.0" y="196.0"/><use href="#tG280" x="84.3" y="196.0"/><use href="#tU280" x="90.7" y="196.0"/><use href="#tC280" x="97.1" y="196.0"/><use href="#tA280" x="103.5" y="196.0"/><use href="#tC280" x="109.9" y="196.0"/><use href="#tA280" x="135.5" y="196.0"/><use href="#oU280" x="141.9" y="196.0"/><use href="#oC280" x="148.2" y="196.0"/><use href="#oG280" x="154.6" y="196.0"/><use href="#oU280" x="161.0" y="196.0"/><use href="#tG280" x="167.4" y="196.0"/><use href="#tC280" x="173.8" y="196.0"/><use href="#rC280" x="52.4" y="207.2"/><use href="#rU280" x="58.8" y="207.2"/><use href="#rU280" x="65.2" y="207.2"/><use href="#rA280" x="71.6" y="207.2"/><use href="#rA280" x="78.0" y="207.2"/><use href="#tC280" x="84.3" y="207.2"/><use href="#tG280" x="90.7" y="207.2"/><use href="#tG280" x="97.1" y="207.2"/><use href="#tG280" x="103.5" y="207.2"/><use href="#tG280" x="109.9" y="207.2"/><use href="#tU280" x="135.5" y="207.2"/><use href="#oA280" x="141.9" y="207.2"/><use href="#oG280" x="148.2" y="207.2"/><use href="#oC280" x="154.6" y="207.2"/><use href="#oA280" x="161.0" y="207.2"/><use href="#tC280" x="167.4" y="207.2"/><use href="#tG280" x="173.8" y="207.2"/><use href="#tC280" x="180.0" y="194.4"/><use href="#tA280" x="184.7" y="198.3"/><use href="#tA280" x="184.8" y="204.6"/><use href="#tU280" x="180.0" y="208.5"/><text x="22.3" y="205.4" font-size="8.8" text-anchor="middle" font-weight="normal" font-style="normal" fill="#222" >Del2.7</text><line x1="52.4" y1="224.6" x2="52.4" y2="230.2" stroke="#ababab" stroke-width="0.85"/><line x1="58.8" y1="224.6" x2="58.8" y2="230.2" stroke="#ababab" stroke-width="0.85"/><line x1="65.2" y1="224.6" x2="65.2" y2="230.2" stroke="#ababab" stroke-width="0.85"/><line x1="71.6" y1="224.6" x2="71.6" y2="230.2" stroke="#ababab" stroke-width="0.85"/><line x1="78.0" y1="224.6" x2="78.0" y2="230.2" stroke="#ababab" stroke-width="0.85"/><line x1="84.3" y1="224.6" x2="84.3" y2="230.2" stroke="#ababab" stroke-width="0.85"/><circle cx="90.7" cy="227.4" r="0.5" fill="#222"/><line x1="97.1" y1="224.6" x2="97.1" y2="230.2" stroke="#ababab" stroke-width="0.85"/><circle cx="103.5" cy="227.4" r="0.5" fill="#222"/><line x1="129.1" y1="224.6" x2="129.1" y2="230.2" stroke="#ababab" stroke-width="0.85"/><line x1="135.5" y1="224.6" x2="135.5" y2="230.2" stroke="#ababab" stroke-width="0.85"/><line x1="141.9" y1="224.6" x2="141.9" y2="230.2" stroke="#ababab" stroke-width="0.85"/><line x1="148.2" y1="224.6" x2="148.2" y2="230.2" stroke="#ababab" stroke-width="0.85"/><line x1="154.6" y1="224.6" x2="154.6" y2="230.2" stroke="#ababab" stroke-width="0.85"/><line x1="161.0" y1="224.6" x2="161.0" y2="230.2" stroke="#ababab" stroke-width="0.85"/><line x1="167.4" y1="224.6" x2="167.4" y2="230.2" stroke="#ababab" stroke-width="0.85"/><line x1="173.8" y1="224.6" x2="173.8" y2="230.2" stroke="#ababab" stroke-width="0.85"/><path d="M47.7,221.8 L52.4,221.8 L58.8,221.8 L65.2,221.8 L71.6,221.8 L78.0,221.8 L84.3,221.8 L90.7,221.8 L97.1,221.8 L103.5,221.8 L129.1,221.8 L135.5,221.8 L141.9,221.8 L148.2,221.8 L154.6,221.8 L161.0,221.8 L167.4,221.8 L173.8,221.8 L180.0,220.2 " fill="none" stroke="#9a9a9a" stroke-width="0.7"/><path d="M47.7,233.0 L52.4,233.0 L58.8,233.0 L65.2,233.0 L71.6,233.0 L78.0,233.0 L84.3,233.0 L90.7,233.0 L97.1,233.0 L103.5,233.0 L129.1,233.0 L135.5,233.0 L141.9,233.0 L148.2,233.0 L154.6,233.0 L161.0,233.0 L167.4,233.0 L173.8,233.0 L180.0,234.3 " fill="none" stroke="#6a6a6a" stroke-width="0.7"/><line x1="180.0" y1="220.2" x2="184.7" y2="224.1" stroke="#6a6a6a" stroke-width="0.7"/><line x1="184.7" y1="224.1" x2="184.8" y2="230.4" stroke="#6a6a6a" stroke-width="0.7"/><line x1="184.8" y1="230.4" x2="180.0" y2="234.3" stroke="#6a6a6a" stroke-width="0.7"/><use href="#rG280" x="52.4" y="221.8"/><use href="#rA280" x="58.8" y="221.8"/><use href="#rA280" x="65.2" y="221.8"/><use href="#rU280" x="71.6" y="221.8"/><use href="#rU280" x="78.0" y="221.8"/><use href="#tG280" x="84.3" y="221.8"/><use href="#tU280" x="90.7" y="221.8"/><use href="#tC280" x="97.1" y="221.8"/><use href="#tA280" x="103.5" y="221.8"/><use href="#tG280" x="129.1" y="221.8"/><use href="#tA280" x="135.5" y="221.8"/><use href="#oU280" x="141.9" y="221.8"/><use href="#oC280" x="148.2" y="221.8"/><use href="#oG280" x="154.6" y="221.8"/><use href="#oU280" x="161.0" y="221.8"/><use href="#tG280" x="167.4" y="221.8"/><use href="#tC280" x="173.8" y="221.8"/><use href="#rC280" x="52.4" y="233.0"/><use href="#rU280" x="58.8" y="233.0"/><use href="#rU280" x="65.2" y="233.0"/><use href="#rA280" x="71.6" y="233.0"/><use href="#rA280" x="78.0" y="233.0"/><use href="#tC280" x="84.3" y="233.0"/><use href="#tG280" x="90.7" y="233.0"/><use href="#tG280" x="97.1" y="233.0"/><use href="#tG280" x="103.5" y="233.0"/><use href="#tC280" x="129.1" y="233.0"/><use href="#tU280" x="135.5" y="233.0"/><use href="#oA280" x="141.9" y="233.0"/><use href="#oG280" x="148.2" y="233.0"/><use href="#oC280" x="154.6" y="233.0"/><use href="#oA280" x="161.0" y="233.0"/><use href="#tC280" x="167.4" y="233.0"/><use href="#tG280" x="173.8" y="233.0"/><use href="#tC280" x="180.0" y="220.2"/><use href="#tA280" x="184.7" y="224.1"/><use href="#tA280" x="184.8" y="230.4"/><use href="#tU280" x="180.0" y="234.3"/><text x="22.3" y="231.2" font-size="8.8" text-anchor="middle" font-weight="normal" font-style="normal" fill="#222" >Del2.8</text><line x1="52.4" y1="250.3" x2="52.4" y2="255.9" stroke="#ababab" stroke-width="0.85"/><line x1="58.8" y1="250.3" x2="58.8" y2="255.9" stroke="#ababab" stroke-width="0.85"/><line x1="65.2" y1="250.3" x2="65.2" y2="255.9" stroke="#ababab" stroke-width="0.85"/><line x1="71.6" y1="250.3" x2="71.6" y2="255.9" stroke="#ababab" stroke-width="0.85"/><line x1="78.0" y1="250.3" x2="78.0" y2="255.9" stroke="#ababab" stroke-width="0.85"/><line x1="84.3" y1="250.3" x2="84.3" y2="255.9" stroke="#ababab" stroke-width="0.85"/><circle cx="90.7" cy="253.1" r="0.5" fill="#222"/><line x1="97.1" y1="250.3" x2="97.1" y2="255.9" stroke="#ababab" stroke-width="0.85"/><line x1="122.7" y1="250.3" x2="122.7" y2="255.9" stroke="#ababab" stroke-width="0.85"/><line x1="129.1" y1="250.3" x2="129.1" y2="255.9" stroke="#ababab" stroke-width="0.85"/><line x1="135.5" y1="250.3" x2="135.5" y2="255.9" stroke="#ababab" stroke-width="0.85"/><line x1="141.9" y1="250.3" x2="141.9" y2="255.9" stroke="#ababab" stroke-width="0.85"/><line x1="148.2" y1="250.3" x2="148.2" y2="255.9" stroke="#ababab" stroke-width="0.85"/><line x1="154.6" y1="250.3" x2="154.6" y2="255.9" stroke="#ababab" stroke-width="0.85"/><line x1="161.0" y1="250.3" x2="161.0" y2="255.9" stroke="#ababab" stroke-width="0.85"/><line x1="167.4" y1="250.3" x2="167.4" y2="255.9" stroke="#ababab" stroke-width="0.85"/><line x1="173.8" y1="250.3" x2="173.8" y2="255.9" stroke="#ababab" stroke-width="0.85"/><path d="M47.7,247.5 L52.4,247.5 L58.8,247.5 L65.2,247.5 L71.6,247.5 L78.0,247.5 L84.3,247.5 L90.7,247.5 L97.1,247.5 L122.7,247.5 L129.1,247.5 L135.5,247.5 L141.9,247.5 L148.2,247.5 L154.6,247.5 L161.0,247.5 L167.4,247.5 L173.8,247.5 L180.0,245.9 " fill="none" stroke="#9a9a9a" stroke-width="0.7"/><path d="M47.7,258.7 L52.4,258.7 L58.8,258.7 L65.2,258.7 L71.6,258.7 L78.0,258.7 L84.3,258.7 L90.7,258.7 L97.1,258.7 L122.7,258.7 L129.1,258.7 L135.5,258.7 L141.9,258.7 L148.2,258.7 L154.6,258.7 L161.0,258.7 L167.4,258.7 L173.8,258.7 L180.0,260.0 " fill="none" stroke="#6a6a6a" stroke-width="0.7"/><line x1="180.0" y1="245.9" x2="184.7" y2="249.8" stroke="#6a6a6a" stroke-width="0.7"/><line x1="184.7" y1="249.8" x2="184.8" y2="256.1" stroke="#6a6a6a" stroke-width="0.7"/><line x1="184.8" y1="256.1" x2="180.0" y2="260.0" stroke="#6a6a6a" stroke-width="0.7"/><use href="#rG280" x="52.4" y="247.5"/><use href="#rA280" x="58.8" y="247.5"/><use href="#rA280" x="65.2" y="247.5"/><use href="#rU280" x="71.6" y="247.5"/><use href="#rU280" x="78.0" y="247.5"/><use href="#tG280" x="84.3" y="247.5"/><use href="#tU280" x="90.7" y="247.5"/><use href="#tC280" x="97.1" y="247.5"/><use href="#tA280" x="122.7" y="247.5"/><use href="#tG280" x="129.1" y="247.5"/><use href="#tA280" x="135.5" y="247.5"/><use href="#oU280" x="141.9" y="247.5"/><use href="#oC280" x="148.2" y="247.5"/><use href="#oG280" x="154.6" y="247.5"/><use href="#oU280" x="161.0" y="247.5"/><use href="#tG280" x="167.4" y="247.5"/><use href="#tC280" x="173.8" y="247.5"/><use href="#rC280" x="52.4" y="258.7"/><use href="#rU280" x="58.8" y="258.7"/><use href="#rU280" x="65.2" y="258.7"/><use href="#rA280" x="71.6" y="258.7"/><use href="#rA280" x="78.0" y="258.7"/><use href="#tC280" x="84.3" y="258.7"/><use href="#tG280" x="90.7" y="258.7"/><use href="#tG280" x="97.1" y="258.7"/><use href="#tU280" x="122.7" y="258.7"/><use href="#tC280" x="129.1" y="258.7"/><use href="#tU280" x="135.5" y="258.7"/><use href="#oA280" x="141.9" y="258.7"/><use href="#oG280" x="148.2" y="258.7"/><use href="#oC280" x="154.6" y="258.7"/><use href="#oA280" x="161.0" y="258.7"/><use href="#tC280" x="167.4" y="258.7"/><use href="#tG280" x="173.8" y="258.7"/><use href="#tC280" x="180.0" y="245.9"/><use href="#tA280" x="184.7" y="249.8"/><use href="#tA280" x="184.8" y="256.1"/><use href="#tU280" x="180.0" y="260.0"/><text x="22.3" y="256.9" font-size="8.8" text-anchor="middle" font-weight="normal" font-style="normal" fill="#222" >Del2.9</text><line x1="52.4" y1="276.1" x2="52.4" y2="281.7" stroke="#ababab" stroke-width="0.85"/><line x1="58.8" y1="276.1" x2="58.8" y2="281.7" stroke="#ababab" stroke-width="0.85"/><line x1="65.2" y1="276.1" x2="65.2" y2="281.7" stroke="#ababab" stroke-width="0.85"/><line x1="71.6" y1="276.1" x2="71.6" y2="281.7" stroke="#ababab" stroke-width="0.85"/><line x1="78.0" y1="276.1" x2="78.0" y2="281.7" stroke="#ababab" stroke-width="0.85"/><line x1="84.3" y1="276.1" x2="84.3" y2="281.7" stroke="#ababab" stroke-width="0.85"/><circle cx="90.7" cy="278.9" r="0.5" fill="#222"/><line x1="109.9" y1="276.1" x2="109.9" y2="281.7" stroke="#ababab" stroke-width="0.85"/><line x1="122.7" y1="276.1" x2="122.7" y2="281.7" stroke="#ababab" stroke-width="0.85"/><line x1="129.1" y1="276.1" x2="129.1" y2="281.7" stroke="#ababab" stroke-width="0.85"/><line x1="135.5" y1="276.1" x2="135.5" y2="281.7" stroke="#ababab" stroke-width="0.85"/><line x1="141.9" y1="276.1" x2="141.9" y2="281.7" stroke="#ababab" stroke-width="0.85"/><line x1="148.2" y1="276.1" x2="148.2" y2="281.7" stroke="#ababab" stroke-width="0.85"/><line x1="154.6" y1="276.1" x2="154.6" y2="281.7" stroke="#ababab" stroke-width="0.85"/><line x1="161.0" y1="276.1" x2="161.0" y2="281.7" stroke="#ababab" stroke-width="0.85"/><line x1="167.4" y1="276.1" x2="167.4" y2="281.7" stroke="#ababab" stroke-width="0.85"/><line x1="173.8" y1="276.1" x2="173.8" y2="281.7" stroke="#ababab" stroke-width="0.85"/><path d="M47.7,273.3 L52.4,273.3 L58.8,273.3 L65.2,273.3 L71.6,273.3 L78.0,273.3 L84.3,273.3 L90.7,273.3 L109.9,273.3 L122.7,273.3 L129.1,273.3 L135.5,273.3 L141.9,273.3 L148.2,273.3 L154.6,273.3 L161.0,273.3 L167.4,273.3 L173.8,273.3 L180.0,271.7 " fill="none" stroke="#9a9a9a" stroke-width="0.7"/><path d="M47.7,284.5 L52.4,284.5 L58.8,284.5 L65.2,284.5 L71.6,284.5 L78.0,284.5 L84.3,284.5 L90.7,284.5 L109.9,284.5 L116.3,284.5 L122.7,284.5 L129.1,284.5 L135.5,284.5 L141.9,284.5 L148.2,284.5 L154.6,284.5 L161.0,284.5 L167.4,284.5 L173.8,284.5 L180.0,285.8 " fill="none" stroke="#6a6a6a" stroke-width="0.7"/><line x1="180.0" y1="271.7" x2="184.7" y2="275.6" stroke="#6a6a6a" stroke-width="0.7"/><line x1="184.7" y1="275.6" x2="184.8" y2="281.9" stroke="#6a6a6a" stroke-width="0.7"/><line x1="184.8" y1="281.9" x2="180.0" y2="285.8" stroke="#6a6a6a" stroke-width="0.7"/><use href="#rG280" x="52.4" y="273.3"/><use href="#rA280" x="58.8" y="273.3"/><use href="#rA280" x="65.2" y="273.3"/><use href="#rU280" x="71.6" y="273.3"/><use href="#rU280" x="78.0" y="273.3"/><use href="#tG280" x="84.3" y="273.3"/><use href="#tU280" x="90.7" y="273.3"/><use href="#tC280" x="109.9" y="273.3"/><use href="#tA280" x="122.7" y="273.3"/><use href="#tG280" x="129.1" y="273.3"/><use href="#tA280" x="135.5" y="273.3"/><use href="#oU280" x="141.9" y="273.3"/><use href="#oC280" x="148.2" y="273.3"/><use href="#oG280" x="154.6" y="273.3"/><use href="#oU280" x="161.0" y="273.3"/><use href="#tG280" x="167.4" y="273.3"/><use href="#tC280" x="173.8" y="273.3"/><use href="#rC280" x="52.4" y="284.5"/><use href="#rU280" x="58.8" y="284.5"/><use href="#rU280" x="65.2" y="284.5"/><use href="#rA280" x="71.6" y="284.5"/><use href="#rA280" x="78.0" y="284.5"/><use href="#tC280" x="84.3" y="284.5"/><use href="#tG280" x="90.7" y="284.5"/><use href="#tG280" x="109.9" y="284.5"/><use href="#tG280" x="116.3" y="284.5"/><use href="#tU280" x="122.7" y="284.5"/><use href="#tC280" x="129.1" y="284.5"/><use href="#tU280" x="135.5" y="284.5"/><use href="#oA280" x="141.9" y="284.5"/><use href="#oG280" x="148.2" y="284.5"/><use href="#oC280" x="154.6" y="284.5"/><use href="#oA280" x="161.0" y="284.5"/><use href="#tC280" x="167.4" y="284.5"/><use href="#tG280" x="173.8" y="284.5"/><use href="#tC280" x="180.0" y="271.7"/><use href="#tA280" x="184.7" y="275.6"/><use href="#tA280" x="184.8" y="281.9"/><use href="#tU280" x="180.0" y="285.8"/><text x="22.3" y="282.7" font-size="8.8" text-anchor="middle" font-weight="normal" font-style="normal" fill="#222" >Del2.10</text><line x1="52.4" y1="301.9" x2="52.4" y2="307.5" stroke="#ababab" stroke-width="0.85"/><line x1="58.8" y1="301.9" x2="58.8" y2="307.5" stroke="#ababab" stroke-width="0.85"/><line x1="65.2" y1="301.9" x2="65.2" y2="307.5" stroke="#ababab" stroke-width="0.85"/><line x1="71.6" y1="301.9" x2="71.6" y2="307.5" stroke="#ababab" stroke-width="0.85"/><line x1="78.0" y1="301.9" x2="78.0" y2="307.5" stroke="#ababab" stroke-width="0.85"/><line x1="84.3" y1="301.9" x2="84.3" y2="307.5" stroke="#ababab" stroke-width="0.85"/><circle cx="103.5" cy="304.7" r="0.5" fill="#222"/><line x1="109.9" y1="301.9" x2="109.9" y2="307.5" stroke="#ababab" stroke-width="0.85"/><line x1="122.7" y1="301.9" x2="122.7" y2="307.5" stroke="#ababab" stroke-width="0.85"/><line x1="129.1" y1="301.9" x2="129.1" y2="307.5" stroke="#ababab" stroke-width="0.85"/><line x1="135.5" y1="301.9" x2="135.5" y2="307.5" stroke="#ababab" stroke-width="0.85"/><line x1="141.9" y1="301.9" x2="141.9" y2="307.5" stroke="#ababab" stroke-width="0.85"/><line x1="148.2" y1="301.9" x2="148.2" y2="307.5" stroke="#ababab" stroke-width="0.85"/><line x1="154.6" y1="301.9" x2="154.6" y2="307.5" stroke="#ababab" stroke-width="0.85"/><line x1="161.0" y1="301.9" x2="161.0" y2="307.5" stroke="#ababab" stroke-width="0.85"/><line x1="167.4" y1="301.9" x2="167.4" y2="307.5" stroke="#ababab" stroke-width="0.85"/><line x1="173.8" y1="301.9" x2="173.8" y2="307.5" stroke="#ababab" stroke-width="0.85"/><path d="M47.7,299.1 L52.4,299.1 L58.8,299.1 L65.2,299.1 L71.6,299.1 L78.0,299.1 L84.3,299.1 L103.5,299.1 L109.9,299.1 L122.7,299.1 L129.1,299.1 L135.5,299.1 L141.9,299.1 L148.2,299.1 L154.6,299.1 L161.0,299.1 L167.4,299.1 L173.8,299.1 L180.0,297.5 " fill="none" stroke="#9a9a9a" stroke-width="0.7"/><path d="M47.7,310.3 L52.4,310.3 L58.8,310.3 L65.2,310.3 L71.6,310.3 L78.0,310.3 L84.3,310.3 L103.5,310.3 L109.9,310.3 L116.3,310.3 L122.7,310.3 L129.1,310.3 L135.5,310.3 L141.9,310.3 L148.2,310.3 L154.6,310.3 L161.0,310.3 L167.4,310.3 L173.8,310.3 L180.0,311.6 " fill="none" stroke="#6a6a6a" stroke-width="0.7"/><line x1="180.0" y1="297.5" x2="184.7" y2="301.4" stroke="#6a6a6a" stroke-width="0.7"/><line x1="184.7" y1="301.4" x2="184.8" y2="307.7" stroke="#6a6a6a" stroke-width="0.7"/><line x1="184.8" y1="307.7" x2="180.0" y2="311.6" stroke="#6a6a6a" stroke-width="0.7"/><use href="#rG280" x="52.4" y="299.1"/><use href="#rA280" x="58.8" y="299.1"/><use href="#rA280" x="65.2" y="299.1"/><use href="#rU280" x="71.6" y="299.1"/><use href="#rU280" x="78.0" y="299.1"/><use href="#tG280" x="84.3" y="299.1"/><use href="#tA280" x="103.5" y="299.1"/><use href="#tC280" x="109.9" y="299.1"/><use href="#tA280" x="122.7" y="299.1"/><use href="#tG280" x="129.1" y="299.1"/><use href="#tA280" x="135.5" y="299.1"/><use href="#oU280" x="141.9" y="299.1"/><use href="#oC280" x="148.2" y="299.1"/><use href="#oG280" x="154.6" y="299.1"/><use href="#oU280" x="161.0" y="299.1"/><use href="#tG280" x="167.4" y="299.1"/><use href="#tC280" x="173.8" y="299.1"/><use href="#rC280" x="52.4" y="310.3"/><use href="#rU280" x="58.8" y="310.3"/><use href="#rU280" x="65.2" y="310.3"/><use href="#rA280" x="71.6" y="310.3"/><use href="#rA280" x="78.0" y="310.3"/><use href="#tC280" x="84.3" y="310.3"/><use href="#tG280" x="103.5" y="310.3"/><use href="#tG280" x="109.9" y="310.3"/><use href="#tG280" x="116.3" y="310.3"/><use href="#tU280" x="122.7" y="310.3"/><use href="#tC280" x="129.1" y="310.3"/><use href="#tU280" x="135.5" y="310.3"/><use href="#oA280" x="141.9" y="310.3"/><use href="#oG280" x="148.2" y="310.3"/><use href="#oC280" x="154.6" y="310.3"/><use href="#oA280" x="161.0" y="310.3"/><use href="#tC280" x="167.4" y="310.3"/><use href="#tG280" x="173.8" y="310.3"/><use href="#tC280" x="180.0" y="297.5"/><use href="#tA280" x="184.7" y="301.4"/><use href="#tA280" x="184.8" y="307.7"/><use href="#tU280" x="180.0" y="311.6"/><text x="22.3" y="308.5" font-size="8.8" text-anchor="middle" font-weight="normal" font-style="normal" fill="#222" >Del2.11</text><line x1="52.4" y1="327.6" x2="52.4" y2="333.2" stroke="#ababab" stroke-width="0.85"/><line x1="58.8" y1="327.6" x2="58.8" y2="333.2" stroke="#ababab" stroke-width="0.85"/><line x1="65.2" y1="327.6" x2="65.2" y2="333.2" stroke="#ababab" stroke-width="0.85"/><line x1="71.6" y1="327.6" x2="71.6" y2="333.2" stroke="#ababab" stroke-width="0.85"/><line x1="78.0" y1="327.6" x2="78.0" y2="333.2" stroke="#ababab" stroke-width="0.85"/><line x1="97.1" y1="327.6" x2="97.1" y2="333.2" stroke="#ababab" stroke-width="0.85"/><circle cx="103.5" cy="330.4" r="0.5" fill="#222"/><line x1="109.9" y1="327.6" x2="109.9" y2="333.2" stroke="#ababab" stroke-width="0.85"/><line x1="122.7" y1="327.6" x2="122.7" y2="333.2" stroke="#ababab" stroke-width="0.85"/><line x1="129.1" y1="327.6" x2="129.1" y2="333.2" stroke="#ababab" stroke-width="0.85"/><line x1="135.5" y1="327.6" x2="135.5" y2="333.2" stroke="#ababab" stroke-width="0.85"/><line x1="141.9" y1="327.6" x2="141.9" y2="333.2" stroke="#ababab" stroke-width="0.85"/><line x1="148.2" y1="327.6" x2="148.2" y2="333.2" stroke="#ababab" stroke-width="0.85"/><line x1="154.6" y1="327.6" x2="154.6" y2="333.2" stroke="#ababab" stroke-width="0.85"/><line x1="161.0" y1="327.6" x2="161.0" y2="333.2" stroke="#ababab" stroke-width="0.85"/><line x1="167.4" y1="327.6" x2="167.4" y2="333.2" stroke="#ababab" stroke-width="0.85"/><line x1="173.8" y1="327.6" x2="173.8" y2="333.2" stroke="#ababab" stroke-width="0.85"/><path d="M47.7,324.8 L52.4,324.8 L58.8,324.8 L65.2,324.8 L71.6,324.8 L78.0,324.8 L97.1,324.8 L103.5,324.8 L109.9,324.8 L122.7,324.8 L129.1,324.8 L135.5,324.8 L141.9,324.8 L148.2,324.8 L154.6,324.8 L161.0,324.8 L167.4,324.8 L173.8,324.8 L180.0,323.2 " fill="none" stroke="#9a9a9a" stroke-width="0.7"/><path d="M47.7,336.0 L52.4,336.0 L58.8,336.0 L65.2,336.0 L71.6,336.0 L78.0,336.0 L97.1,336.0 L103.5,336.0 L109.9,336.0 L116.3,336.0 L122.7,336.0 L129.1,336.0 L135.5,336.0 L141.9,336.0 L148.2,336.0 L154.6,336.0 L161.0,336.0 L167.4,336.0 L173.8,336.0 L180.0,337.3 " fill="none" stroke="#6a6a6a" stroke-width="0.7"/><line x1="180.0" y1="323.2" x2="184.7" y2="327.1" stroke="#6a6a6a" stroke-width="0.7"/><line x1="184.7" y1="327.1" x2="184.8" y2="333.4" stroke="#6a6a6a" stroke-width="0.7"/><line x1="184.8" y1="333.4" x2="180.0" y2="337.3" stroke="#6a6a6a" stroke-width="0.7"/><use href="#rG280" x="52.4" y="324.8"/><use href="#rA280" x="58.8" y="324.8"/><use href="#rA280" x="65.2" y="324.8"/><use href="#rU280" x="71.6" y="324.8"/><use href="#rU280" x="78.0" y="324.8"/><use href="#tC280" x="97.1" y="324.8"/><use href="#tA280" x="103.5" y="324.8"/><use href="#tC280" x="109.9" y="324.8"/><use href="#tA280" x="122.7" y="324.8"/><use href="#tG280" x="129.1" y="324.8"/><use href="#tA280" x="135.5" y="324.8"/><use href="#oU280" x="141.9" y="324.8"/><use href="#oC280" x="148.2" y="324.8"/><use href="#oG280" x="154.6" y="324.8"/><use href="#oU280" x="161.0" y="324.8"/><use href="#tG280" x="167.4" y="324.8"/><use href="#tC280" x="173.8" y="324.8"/><use href="#rC280" x="52.4" y="336.0"/><use href="#rU280" x="58.8" y="336.0"/><use href="#rU280" x="65.2" y="336.0"/><use href="#rA280" x="71.6" y="336.0"/><use href="#rA280" x="78.0" y="336.0"/><use href="#tG280" x="97.1" y="336.0"/><use href="#tG280" x="103.5" y="336.0"/><use href="#tG280" x="109.9" y="336.0"/><use href="#tG280" x="116.3" y="336.0"/><use href="#tU280" x="122.7" y="336.0"/><use href="#tC280" x="129.1" y="336.0"/><use href="#tU280" x="135.5" y="336.0"/><use href="#oA280" x="141.9" y="336.0"/><use href="#oG280" x="148.2" y="336.0"/><use href="#oC280" x="154.6" y="336.0"/><use href="#oA280" x="161.0" y="336.0"/><use href="#tC280" x="167.4" y="336.0"/><use href="#tG280" x="173.8" y="336.0"/><use href="#tC280" x="180.0" y="323.2"/><use href="#tA280" x="184.7" y="327.1"/><use href="#tA280" x="184.8" y="333.4"/><use href="#tU280" x="180.0" y="337.3"/><text x="22.3" y="334.2" font-size="8.8" text-anchor="middle" font-weight="normal" font-style="normal" fill="#222" >Del2.12</text><line x1="52.4" y1="353.4" x2="52.4" y2="359.0" stroke="#ababab" stroke-width="0.85"/><line x1="58.8" y1="353.4" x2="58.8" y2="359.0" stroke="#ababab" stroke-width="0.85"/><line x1="65.2" y1="353.4" x2="65.2" y2="359.0" stroke="#ababab" stroke-width="0.85"/><line x1="71.6" y1="353.4" x2="71.6" y2="359.0" stroke="#ababab" stroke-width="0.85"/><circle cx="90.7" cy="356.2" r="0.5" fill="#222"/><line x1="97.1" y1="353.4" x2="97.1" y2="359.0" stroke="#ababab" stroke-width="0.85"/><circle cx="103.5" cy="356.2" r="0.5" fill="#222"/><line x1="109.9" y1="353.4" x2="109.9" y2="359.0" stroke="#ababab" stroke-width="0.85"/><line x1="122.7" y1="353.4" x2="122.7" y2="359.0" stroke="#ababab" stroke-width="0.85"/><line x1="129.1" y1="353.4" x2="129.1" y2="359.0" stroke="#ababab" stroke-width="0.85"/><line x1="135.5" y1="353.4" x2="135.5" y2="359.0" stroke="#ababab" stroke-width="0.85"/><line x1="141.9" y1="353.4" x2="141.9" y2="359.0" stroke="#ababab" stroke-width="0.85"/><line x1="148.2" y1="353.4" x2="148.2" y2="359.0" stroke="#ababab" stroke-width="0.85"/><line x1="154.6" y1="353.4" x2="154.6" y2="359.0" stroke="#ababab" stroke-width="0.85"/><line x1="161.0" y1="353.4" x2="161.0" y2="359.0" stroke="#ababab" stroke-width="0.85"/><line x1="167.4" y1="353.4" x2="167.4" y2="359.0" stroke="#ababab" stroke-width="0.85"/><line x1="173.8" y1="353.4" x2="173.8" y2="359.0" stroke="#ababab" stroke-width="0.85"/><path d="M47.7,350.6 L52.4,350.6 L58.8,350.6 L65.2,350.6 L71.6,350.6 L90.7,350.6 L97.1,350.6 L103.5,350.6 L109.9,350.6 L122.7,350.6 L129.1,350.6 L135.5,350.6 L141.9,350.6 L148.2,350.6 L154.6,350.6 L161.0,350.6 L167.4,350.6 L173.8,350.6 L180.0,349.0 " fill="none" stroke="#9a9a9a" stroke-width="0.7"/><path d="M47.7,361.8 L52.4,361.8 L58.8,361.8 L65.2,361.8 L71.6,361.8 L90.7,361.8 L97.1,361.8 L103.5,361.8 L109.9,361.8 L116.3,361.8 L122.7,361.8 L129.1,361.8 L135.5,361.8 L141.9,361.8 L148.2,361.8 L154.6,361.8 L161.0,361.8 L167.4,361.8 L173.8,361.8 L180.0,363.1 " fill="none" stroke="#6a6a6a" stroke-width="0.7"/><line x1="180.0" y1="349.0" x2="184.7" y2="352.9" stroke="#6a6a6a" stroke-width="0.7"/><line x1="184.7" y1="352.9" x2="184.8" y2="359.2" stroke="#6a6a6a" stroke-width="0.7"/><line x1="184.8" y1="359.2" x2="180.0" y2="363.1" stroke="#6a6a6a" stroke-width="0.7"/><use href="#rG280" x="52.4" y="350.6"/><use href="#rA280" x="58.8" y="350.6"/><use href="#rA280" x="65.2" y="350.6"/><use href="#rU280" x="71.6" y="350.6"/><use href="#tU280" x="90.7" y="350.6"/><use href="#tC280" x="97.1" y="350.6"/><use href="#tA280" x="103.5" y="350.6"/><use href="#tC280" x="109.9" y="350.6"/><use href="#tA280" x="122.7" y="350.6"/><use href="#tG280" x="129.1" y="350.6"/><use href="#tA280" x="135.5" y="350.6"/><use href="#oU280" x="141.9" y="350.6"/><use href="#oC280" x="148.2" y="350.6"/><use href="#oG280" x="154.6" y="350.6"/><use href="#oU280" x="161.0" y="350.6"/><use href="#tG280" x="167.4" y="350.6"/><use href="#tC280" x="173.8" y="350.6"/><use href="#rC280" x="52.4" y="361.8"/><use href="#rU280" x="58.8" y="361.8"/><use href="#rU280" x="65.2" y="361.8"/><use href="#rA280" x="71.6" y="361.8"/><use href="#tG280" x="90.7" y="361.8"/><use href="#tG280" x="97.1" y="361.8"/><use href="#tG280" x="103.5" y="361.8"/><use href="#tG280" x="109.9" y="361.8"/><use href="#tG280" x="116.3" y="361.8"/><use href="#tU280" x="122.7" y="361.8"/><use href="#tC280" x="129.1" y="361.8"/><use href="#tU280" x="135.5" y="361.8"/><use href="#oA280" x="141.9" y="361.8"/><use href="#oG280" x="148.2" y="361.8"/><use href="#oC280" x="154.6" y="361.8"/><use href="#oA280" x="161.0" y="361.8"/><use href="#tC280" x="167.4" y="361.8"/><use href="#tG280" x="173.8" y="361.8"/><use href="#tC280" x="180.0" y="349.0"/><use href="#tA280" x="184.7" y="352.9"/><use href="#tA280" x="184.8" y="359.2"/><use href="#tU280" x="180.0" y="363.1"/><text x="22.3" y="360.0" font-size="8.8" text-anchor="middle" font-weight="normal" font-style="normal" fill="#222" >Del2.13</text><line x1="52.4" y1="379.2" x2="52.4" y2="384.8" stroke="#ababab" stroke-width="0.85"/><line x1="58.8" y1="379.2" x2="58.8" y2="384.8" stroke="#ababab" stroke-width="0.85"/><line x1="65.2" y1="379.2" x2="65.2" y2="384.8" stroke="#ababab" stroke-width="0.85"/><line x1="84.3" y1="379.2" x2="84.3" y2="384.8" stroke="#ababab" stroke-width="0.85"/><circle cx="90.7" cy="382.0" r="0.5" fill="#222"/><line x1="97.1" y1="379.2" x2="97.1" y2="384.8" stroke="#ababab" stroke-width="0.85"/><circle cx="103.5" cy="382.0" r="0.5" fill="#222"/><line x1="109.9" y1="379.2" x2="109.9" y2="384.8" stroke="#ababab" stroke-width="0.85"/><line x1="122.7" y1="379.2" x2="122.7" y2="384.8" stroke="#ababab" stroke-width="0.85"/><line x1="129.1" y1="379.2" x2="129.1" y2="384.8" stroke="#ababab" stroke-width="0.85"/><line x1="135.5" y1="379.2" x2="135.5" y2="384.8" stroke="#ababab" stroke-width="0.85"/><line x1="141.9" y1="379.2" x2="141.9" y2="384.8" stroke="#ababab" stroke-width="0.85"/><line x1="148.2" y1="379.2" x2="148.2" y2="384.8" stroke="#ababab" stroke-width="0.85"/><line x1="154.6" y1="379.2" x2="154.6" y2="384.8" stroke="#ababab" stroke-width="0.85"/><line x1="161.0" y1="379.2" x2="161.0" y2="384.8" stroke="#ababab" stroke-width="0.85"/><line x1="167.4" y1="379.2" x2="167.4" y2="384.8" stroke="#ababab" stroke-width="0.85"/><line x1="173.8" y1="379.2" x2="173.8" y2="384.8" stroke="#ababab" stroke-width="0.85"/><path d="M47.7,376.4 L52.4,376.4 L58.8,376.4 L65.2,376.4 L84.3,376.4 L90.7,376.4 L97.1,376.4 L103.5,376.4 L109.9,376.4 L122.7,376.4 L129.1,376.4 L135.5,376.4 L141.9,376.4 L148.2,376.4 L154.6,376.4 L161.0,376.4 L167.4,376.4 L173.8,376.4 L180.0,374.8 " fill="none" stroke="#9a9a9a" stroke-width="0.7"/><path d="M47.7,387.6 L52.4,387.6 L58.8,387.6 L65.2,387.6 L84.3,387.6 L90.7,387.6 L97.1,387.6 L103.5,387.6 L109.9,387.6 L116.3,387.6 L122.7,387.6 L129.1,387.6 L135.5,387.6 L141.9,387.6 L148.2,387.6 L154.6,387.6 L161.0,387.6 L167.4,387.6 L173.8,387.6 L180.0,388.9 " fill="none" stroke="#6a6a6a" stroke-width="0.7"/><line x1="180.0" y1="374.8" x2="184.7" y2="378.7" stroke="#6a6a6a" stroke-width="0.7"/><line x1="184.7" y1="378.7" x2="184.8" y2="385.0" stroke="#6a6a6a" stroke-width="0.7"/><line x1="184.8" y1="385.0" x2="180.0" y2="388.9" stroke="#6a6a6a" stroke-width="0.7"/><use href="#rG280" x="52.4" y="376.4"/><use href="#rA280" x="58.8" y="376.4"/><use href="#rA280" x="65.2" y="376.4"/><use href="#tG280" x="84.3" y="376.4"/><use href="#tU280" x="90.7" y="376.4"/><use href="#tC280" x="97.1" y="376.4"/><use href="#tA280" x="103.5" y="376.4"/><use href="#tC280" x="109.9" y="376.4"/><use href="#tA280" x="122.7" y="376.4"/><use href="#tG280" x="129.1" y="376.4"/><use href="#tA280" x="135.5" y="376.4"/><use href="#oU280" x="141.9" y="376.4"/><use href="#oC280" x="148.2" y="376.4"/><use href="#oG280" x="154.6" y="376.4"/><use href="#oU280" x="161.0" y="376.4"/><use href="#tG280" x="167.4" y="376.4"/><use href="#tC280" x="173.8" y="376.4"/><use href="#rC280" x="52.4" y="387.6"/><use href="#rU280" x="58.8" y="387.6"/><use href="#rU280" x="65.2" y="387.6"/><use href="#tC280" x="84.3" y="387.6"/><use href="#tG280" x="90.7" y="387.6"/><use href="#tG280" x="97.1" y="387.6"/><use href="#tG280" x="103.5" y="387.6"/><use href="#tG280" x="109.9" y="387.6"/><use href="#tG280" x="116.3" y="387.6"/><use href="#tU280" x="122.7" y="387.6"/><use href="#tC280" x="129.1" y="387.6"/><use href="#tU280" x="135.5" y="387.6"/><use href="#oA280" x="141.9" y="387.6"/><use href="#oG280" x="148.2" y="387.6"/><use href="#oC280" x="154.6" y="387.6"/><use href="#oA280" x="161.0" y="387.6"/><use href="#tC280" x="167.4" y="387.6"/><use href="#tG280" x="173.8" y="387.6"/><use href="#tC280" x="180.0" y="374.8"/><use href="#tA280" x="184.7" y="378.7"/><use href="#tA280" x="184.8" y="385.0"/><use href="#tU280" x="180.0" y="388.9"/><text x="22.3" y="385.8" font-size="8.8" text-anchor="middle" font-weight="normal" font-style="normal" fill="#222" >Del2.14</text><line x1="52.4" y1="405.0" x2="52.4" y2="410.6" stroke="#ababab" stroke-width="0.85"/><line x1="58.8" y1="405.0" x2="58.8" y2="410.6" stroke="#ababab" stroke-width="0.85"/><line x1="78.0" y1="405.0" x2="78.0" y2="410.6" stroke="#ababab" stroke-width="0.85"/><line x1="84.3" y1="405.0" x2="84.3" y2="410.6" stroke="#ababab" stroke-width="0.85"/><circle cx="90.7" cy="407.8" r="0.5" fill="#222"/><line x1="97.1" y1="405.0" x2="97.1" y2="410.6" stroke="#ababab" stroke-width="0.85"/><circle cx="103.5" cy="407.8" r="0.5" fill="#222"/><line x1="109.9" y1="405.0" x2="109.9" y2="410.6" stroke="#ababab" stroke-width="0.85"/><line x1="122.7" y1="405.0" x2="122.7" y2="410.6" stroke="#ababab" stroke-width="0.85"/><line x1="129.1" y1="405.0" x2="129.1" y2="410.6" stroke="#ababab" stroke-width="0.85"/><line x1="135.5" y1="405.0" x2="135.5" y2="410.6" stroke="#ababab" stroke-width="0.85"/><line x1="141.9" y1="405.0" x2="141.9" y2="410.6" stroke="#ababab" stroke-width="0.85"/><line x1="148.2" y1="405.0" x2="148.2" y2="410.6" stroke="#ababab" stroke-width="0.85"/><line x1="154.6" y1="405.0" x2="154.6" y2="410.6" stroke="#ababab" stroke-width="0.85"/><line x1="161.0" y1="405.0" x2="161.0" y2="410.6" stroke="#ababab" stroke-width="0.85"/><line x1="167.4" y1="405.0" x2="167.4" y2="410.6" stroke="#ababab" stroke-width="0.85"/><line x1="173.8" y1="405.0" x2="173.8" y2="410.6" stroke="#ababab" stroke-width="0.85"/><path d="M47.7,402.2 L52.4,402.2 L58.8,402.2 L78.0,402.2 L84.3,402.2 L90.7,402.2 L97.1,402.2 L103.5,402.2 L109.9,402.2 L122.7,402.2 L129.1,402.2 L135.5,402.2 L141.9,402.2 L148.2,402.2 L154.6,402.2 L161.0,402.2 L167.4,402.2 L173.8,402.2 L180.0,400.6 " fill="none" stroke="#9a9a9a" stroke-width="0.7"/><path d="M47.7,413.4 L52.4,413.4 L58.8,413.4 L78.0,413.4 L84.3,413.4 L90.7,413.4 L97.1,413.4 L103.5,413.4 L109.9,413.4 L116.3,413.4 L122.7,413.4 L129.1,413.4 L135.5,413.4 L141.9,413.4 L148.2,413.4 L154.6,413.4 L161.0,413.4 L167.4,413.4 L173.8,413.4 L180.0,414.7 " fill="none" stroke="#6a6a6a" stroke-width="0.7"/><line x1="180.0" y1="400.6" x2="184.7" y2="404.5" stroke="#6a6a6a" stroke-width="0.7"/><line x1="184.7" y1="404.5" x2="184.8" y2="410.8" stroke="#6a6a6a" stroke-width="0.7"/><line x1="184.8" y1="410.8" x2="180.0" y2="414.7" stroke="#6a6a6a" stroke-width="0.7"/><use href="#rG280" x="52.4" y="402.2"/><use href="#rA280" x="58.8" y="402.2"/><use href="#rU280" x="78.0" y="402.2"/><use href="#tG280" x="84.3" y="402.2"/><use href="#tU280" x="90.7" y="402.2"/><use href="#tC280" x="97.1" y="402.2"/><use href="#tA280" x="103.5" y="402.2"/><use href="#tC280" x="109.9" y="402.2"/><use href="#tA280" x="122.7" y="402.2"/><use href="#tG280" x="129.1" y="402.2"/><use href="#tA280" x="135.5" y="402.2"/><use href="#oU280" x="141.9" y="402.2"/><use href="#oC280" x="148.2" y="402.2"/><use href="#oG280" x="154.6" y="402.2"/><use href="#oU280" x="161.0" y="402.2"/><use href="#tG280" x="167.4" y="402.2"/><use href="#tC280" x="173.8" y="402.2"/><use href="#rC280" x="52.4" y="413.4"/><use href="#rU280" x="58.8" y="413.4"/><use href="#rA280" x="78.0" y="413.4"/><use href="#tC280" x="84.3" y="413.4"/><use href="#tG280" x="90.7" y="413.4"/><use href="#tG280" x="97.1" y="413.4"/><use href="#tG280" x="103.5" y="413.4"/><use href="#tG280" x="109.9" y="413.4"/><use href="#tG280" x="116.3" y="413.4"/><use href="#tU280" x="122.7" y="413.4"/><use href="#tC280" x="129.1" y="413.4"/><use href="#tU280" x="135.5" y="413.4"/><use href="#oA280" x="141.9" y="413.4"/><use href="#oG280" x="148.2" y="413.4"/><use href="#oC280" x="154.6" y="413.4"/><use href="#oA280" x="161.0" y="413.4"/><use href="#tC280" x="167.4" y="413.4"/><use href="#tG280" x="173.8" y="413.4"/><use href="#tC280" x="180.0" y="400.6"/><use href="#tA280" x="184.7" y="404.5"/><use href="#tA280" x="184.8" y="410.8"/><use href="#tU280" x="180.0" y="414.7"/><text x="22.3" y="411.6" font-size="8.8" text-anchor="middle" font-weight="normal" font-style="normal" fill="#222" >Del2.15</text><line x1="52.4" y1="430.7" x2="52.4" y2="436.3" stroke="#ababab" stroke-width="0.85"/><line x1="71.6" y1="430.7" x2="71.6" y2="436.3" stroke="#ababab" stroke-width="0.85"/><line x1="78.0" y1="430.7" x2="78.0" y2="436.3" stroke="#ababab" stroke-width="0.85"/><line x1="84.3" y1="430.7" x2="84.3" y2="436.3" stroke="#ababab" stroke-width="0.85"/><circle cx="90.7" cy="433.5" r="0.5" fill="#222"/><line x1="97.1" y1="430.7" x2="97.1" y2="436.3" stroke="#ababab" stroke-width="0.85"/><circle cx="103.5" cy="433.5" r="0.5" fill="#222"/><line x1="109.9" y1="430.7" x2="109.9" y2="436.3" stroke="#ababab" stroke-width="0.85"/><line x1="122.7" y1="430.7" x2="122.7" y2="436.3" stroke="#ababab" stroke-width="0.85"/><line x1="129.1" y1="430.7" x2="129.1" y2="436.3" stroke="#ababab" stroke-width="0.85"/><line x1="135.5" y1="430.7" x2="135.5" y2="436.3" stroke="#ababab" stroke-width="0.85"/><line x1="141.9" y1="430.7" x2="141.9" y2="436.3" stroke="#ababab" stroke-width="0.85"/><line x1="148.2" y1="430.7" x2="148.2" y2="436.3" stroke="#ababab" stroke-width="0.85"/><line x1="154.6" y1="430.7" x2="154.6" y2="436.3" stroke="#ababab" stroke-width="0.85"/><line x1="161.0" y1="430.7" x2="161.0" y2="436.3" stroke="#ababab" stroke-width="0.85"/><line x1="167.4" y1="430.7" x2="167.4" y2="436.3" stroke="#ababab" stroke-width="0.85"/><line x1="173.8" y1="430.7" x2="173.8" y2="436.3" stroke="#ababab" stroke-width="0.85"/><path d="M47.7,427.9 L52.4,427.9 L71.6,427.9 L78.0,427.9 L84.3,427.9 L90.7,427.9 L97.1,427.9 L103.5,427.9 L109.9,427.9 L122.7,427.9 L129.1,427.9 L135.5,427.9 L141.9,427.9 L148.2,427.9 L154.6,427.9 L161.0,427.9 L167.4,427.9 L173.8,427.9 L180.0,426.3 " fill="none" stroke="#9a9a9a" stroke-width="0.7"/><path d="M47.7,439.1 L52.4,439.1 L71.6,439.1 L78.0,439.1 L84.3,439.1 L90.7,439.1 L97.1,439.1 L103.5,439.1 L109.9,439.1 L116.3,439.1 L122.7,439.1 L129.1,439.1 L135.5,439.1 L141.9,439.1 L148.2,439.1 L154.6,439.1 L161.0,439.1 L167.4,439.1 L173.8,439.1 L180.0,440.4 " fill="none" stroke="#6a6a6a" stroke-width="0.7"/><line x1="180.0" y1="426.3" x2="184.7" y2="430.2" stroke="#6a6a6a" stroke-width="0.7"/><line x1="184.7" y1="430.2" x2="184.8" y2="436.5" stroke="#6a6a6a" stroke-width="0.7"/><line x1="184.8" y1="436.5" x2="180.0" y2="440.4" stroke="#6a6a6a" stroke-width="0.7"/><use href="#rG280" x="52.4" y="427.9"/><use href="#rU280" x="71.6" y="427.9"/><use href="#rU280" x="78.0" y="427.9"/><use href="#tG280" x="84.3" y="427.9"/><use href="#tU280" x="90.7" y="427.9"/><use href="#tC280" x="97.1" y="427.9"/><use href="#tA280" x="103.5" y="427.9"/><use href="#tC280" x="109.9" y="427.9"/><use href="#tA280" x="122.7" y="427.9"/><use href="#tG280" x="129.1" y="427.9"/><use href="#tA280" x="135.5" y="427.9"/><use href="#oU280" x="141.9" y="427.9"/><use href="#oC280" x="148.2" y="427.9"/><use href="#oG280" x="154.6" y="427.9"/><use href="#oU280" x="161.0" y="427.9"/><use href="#tG280" x="167.4" y="427.9"/><use href="#tC280" x="173.8" y="427.9"/><use href="#rC280" x="52.4" y="439.1"/><use href="#rA280" x="71.6" y="439.1"/><use href="#rA280" x="78.0" y="439.1"/><use href="#tC280" x="84.3" y="439.1"/><use href="#tG280" x="90.7" y="439.1"/><use href="#tG280" x="97.1" y="439.1"/><use href="#tG280" x="103.5" y="439.1"/><use href="#tG280" x="109.9" y="439.1"/><use href="#tG280" x="116.3" y="439.1"/><use href="#tU280" x="122.7" y="439.1"/><use href="#tC280" x="129.1" y="439.1"/><use href="#tU280" x="135.5" y="439.1"/><use href="#oA280" x="141.9" y="439.1"/><use href="#oG280" x="148.2" y="439.1"/><use href="#oC280" x="154.6" y="439.1"/><use href="#oA280" x="161.0" y="439.1"/><use href="#tC280" x="167.4" y="439.1"/><use href="#tG280" x="173.8" y="439.1"/><use href="#tC280" x="180.0" y="426.3"/><use href="#tA280" x="184.7" y="430.2"/><use href="#tA280" x="184.8" y="436.5"/><use href="#tU280" x="180.0" y="440.4"/><text x="22.3" y="437.3" font-size="8.8" text-anchor="middle" font-weight="normal" font-style="normal" fill="#222" >Del2.16</text><line x1="65.2" y1="456.5" x2="65.2" y2="462.1" stroke="#ababab" stroke-width="0.85"/><line x1="71.6" y1="456.5" x2="71.6" y2="462.1" stroke="#ababab" stroke-width="0.85"/><line x1="78.0" y1="456.5" x2="78.0" y2="462.1" stroke="#ababab" stroke-width="0.85"/><line x1="84.3" y1="456.5" x2="84.3" y2="462.1" stroke="#ababab" stroke-width="0.85"/><circle cx="90.7" cy="459.3" r="0.5" fill="#222"/><line x1="97.1" y1="456.5" x2="97.1" y2="462.1" stroke="#ababab" stroke-width="0.85"/><circle cx="103.5" cy="459.3" r="0.5" fill="#222"/><line x1="109.9" y1="456.5" x2="109.9" y2="462.1" stroke="#ababab" stroke-width="0.85"/><line x1="122.7" y1="456.5" x2="122.7" y2="462.1" stroke="#ababab" stroke-width="0.85"/><line x1="129.1" y1="456.5" x2="129.1" y2="462.1" stroke="#ababab" stroke-width="0.85"/><line x1="135.5" y1="456.5" x2="135.5" y2="462.1" stroke="#ababab" stroke-width="0.85"/><line x1="141.9" y1="456.5" x2="141.9" y2="462.1" stroke="#ababab" stroke-width="0.85"/><line x1="148.2" y1="456.5" x2="148.2" y2="462.1" stroke="#ababab" stroke-width="0.85"/><line x1="154.6" y1="456.5" x2="154.6" y2="462.1" stroke="#ababab" stroke-width="0.85"/><line x1="161.0" y1="456.5" x2="161.0" y2="462.1" stroke="#ababab" stroke-width="0.85"/><line x1="167.4" y1="456.5" x2="167.4" y2="462.1" stroke="#ababab" stroke-width="0.85"/><line x1="173.8" y1="456.5" x2="173.8" y2="462.1" stroke="#ababab" stroke-width="0.85"/><path d="M47.7,453.7 L65.2,453.7 L71.6,453.7 L78.0,453.7 L84.3,453.7 L90.7,453.7 L97.1,453.7 L103.5,453.7 L109.9,453.7 L122.7,453.7 L129.1,453.7 L135.5,453.7 L141.9,453.7 L148.2,453.7 L154.6,453.7 L161.0,453.7 L167.4,453.7 L173.8,453.7 L180.0,452.1 " fill="none" stroke="#9a9a9a" stroke-width="0.7"/><path d="M47.7,464.9 L65.2,464.9 L71.6,464.9 L78.0,464.9 L84.3,464.9 L90.7,464.9 L97.1,464.9 L103.5,464.9 L109.9,464.9 L116.3,464.9 L122.7,464.9 L129.1,464.9 L135.5,464.9 L141.9,464.9 L148.2,464.9 L154.6,464.9 L161.0,464.9 L167.4,464.9 L173.8,464.9 L180.0,466.2 " fill="none" stroke="#6a6a6a" stroke-width="0.7"/><line x1="180.0" y1="452.1" x2="184.7" y2="456.0" stroke="#6a6a6a" stroke-width="0.7"/><line x1="184.7" y1="456.0" x2="184.8" y2="462.3" stroke="#6a6a6a" stroke-width="0.7"/><line x1="184.8" y1="462.3" x2="180.0" y2="466.2" stroke="#6a6a6a" stroke-width="0.7"/><use href="#rA280" x="65.2" y="453.7"/><use href="#rU280" x="71.6" y="453.7"/><use href="#rU280" x="78.0" y="453.7"/><use href="#tG280" x="84.3" y="453.7"/><use href="#tU280" x="90.7" y="453.7"/><use href="#tC280" x="97.1" y="453.7"/><use href="#tA280" x="103.5" y="453.7"/><use href="#tC280" x="109.9" y="453.7"/><use href="#tA280" x="122.7" y="453.7"/><use href="#tG280" x="129.1" y="453.7"/><use href="#tA280" x="135.5" y="453.7"/><use href="#oU280" x="141.9" y="453.7"/><use href="#oC280" x="148.2" y="453.7"/><use href="#oG280" x="154.6" y="453.7"/><use href="#oU280" x="161.0" y="453.7"/><use href="#tG280" x="167.4" y="453.7"/><use href="#tC280" x="173.8" y="453.7"/><use href="#rU280" x="65.2" y="464.9"/><use href="#rA280" x="71.6" y="464.9"/><use href="#rA280" x="78.0" y="464.9"/><use href="#tC280" x="84.3" y="464.9"/><use href="#tG280" x="90.7" y="464.9"/><use href="#tG280" x="97.1" y="464.9"/><use href="#tG280" x="103.5" y="464.9"/><use href="#tG280" x="109.9" y="464.9"/><use href="#tG280" x="116.3" y="464.9"/><use href="#tU280" x="122.7" y="464.9"/><use href="#tC280" x="129.1" y="464.9"/><use href="#tU280" x="135.5" y="464.9"/><use href="#oA280" x="141.9" y="464.9"/><use href="#oG280" x="148.2" y="464.9"/><use href="#oC280" x="154.6" y="464.9"/><use href="#oA280" x="161.0" y="464.9"/><use href="#tC280" x="167.4" y="464.9"/><use href="#tG280" x="173.8" y="464.9"/><use href="#tC280" x="180.0" y="452.1"/><use href="#tA280" x="184.7" y="456.0"/><use href="#tA280" x="184.8" y="462.3"/><use href="#tU280" x="180.0" y="466.2"/><text x="22.3" y="463.1" font-size="8.8" text-anchor="middle" font-weight="normal" font-style="normal" fill="#222" >Del2.17</text><line x1="255.8" y1="18.4" x2="255.8" y2="24.0" stroke="#ababab" stroke-width="0.85"/><line x1="262.2" y1="18.4" x2="262.2" y2="24.0" stroke="#ababab" stroke-width="0.85"/><circle cx="268.6" cy="21.2" r="0.5" fill="#222"/><line x1="275.0" y1="18.4" x2="275.0" y2="24.0" stroke="#ababab" stroke-width="0.85"/><line x1="281.4" y1="18.4" x2="281.4" y2="24.0" stroke="#ababab" stroke-width="0.85"/><line x1="287.8" y1="18.4" x2="287.8" y2="24.0" stroke="#ababab" stroke-width="0.85"/><circle cx="294.1" cy="21.2" r="0.5" fill="#222"/><line x1="300.5" y1="18.4" x2="300.5" y2="24.0" stroke="#ababab" stroke-width="0.85"/><circle cx="306.9" cy="21.2" r="0.5" fill="#222"/><line x1="313.3" y1="18.4" x2="313.3" y2="24.0" stroke="#ababab" stroke-width="0.85"/><line x1="326.1" y1="18.4" x2="326.1" y2="24.0" stroke="#ababab" stroke-width="0.85"/><line x1="332.5" y1="18.4" x2="332.5" y2="24.0" stroke="#ababab" stroke-width="0.85"/><line x1="338.9" y1="18.4" x2="338.9" y2="24.0" stroke="#ababab" stroke-width="0.85"/><line x1="345.3" y1="18.4" x2="345.3" y2="24.0" stroke="#ababab" stroke-width="0.85"/><line x1="351.6" y1="18.4" x2="351.6" y2="24.0" stroke="#ababab" stroke-width="0.85"/><circle cx="358.0" cy="21.2" r="0.5" fill="#222"/><line x1="364.4" y1="18.4" x2="364.4" y2="24.0" stroke="#ababab" stroke-width="0.85"/><line x1="370.8" y1="18.4" x2="370.8" y2="24.0" stroke="#ababab" stroke-width="0.85"/><line x1="377.2" y1="18.4" x2="377.2" y2="24.0" stroke="#ababab" stroke-width="0.85"/><path d="M251.1,15.6 L255.8,15.6 L262.2,15.6 L268.6,15.6 L275.0,15.6 L281.4,15.6 L287.8,15.6 L294.1,15.6 L300.5,15.6 L306.9,15.6 L313.3,15.6 L326.1,15.6 L332.5,15.6 L338.9,15.6 L345.3,15.6 L351.6,15.6 L358.0,15.6 L364.4,15.6 L370.8,15.6 L377.2,15.6 L383.4,14.0 " fill="none" stroke="#9a9a9a" stroke-width="0.7"/><path d="M251.1,26.8 L255.8,26.8 L262.2,26.8 L268.6,26.8 L275.0,26.8 L281.4,26.8 L287.8,26.8 L294.1,26.8 L300.5,26.8 L306.9,26.8 L313.3,26.8 L319.7,26.8 L326.1,26.8 L332.5,26.8 L338.9,26.8 L345.3,26.8 L351.6,26.8 L358.0,26.8 L364.4,26.8 L370.8,26.8 L377.2,26.8 L383.4,28.1 " fill="none" stroke="#6a6a6a" stroke-width="0.7"/><line x1="383.4" y1="14.0" x2="388.1" y2="17.9" stroke="#6a6a6a" stroke-width="0.7"/><line x1="388.1" y1="17.9" x2="388.2" y2="24.2" stroke="#6a6a6a" stroke-width="0.7"/><line x1="388.2" y1="24.2" x2="383.4" y2="28.1" stroke="#6a6a6a" stroke-width="0.7"/><use href="#rU280" x="255.8" y="15.6"/><use href="#rU280" x="262.2" y="15.6"/><use href="#rU280" x="268.6" y="15.6"/><use href="#rU280" x="275.0" y="15.6"/><use href="#rU280" x="281.4" y="15.6"/><use href="#tG280" x="287.8" y="15.6"/><use href="#tU280" x="294.1" y="15.6"/><use href="#tC280" x="300.5" y="15.6"/><use href="#tA280" x="306.9" y="15.6"/><use href="#tC280" x="313.3" y="15.6"/><use href="#tA280" x="326.1" y="15.6"/><use href="#tG280" x="332.5" y="15.6"/><use href="#tA280" x="338.9" y="15.6"/><use href="#oU280" x="345.3" y="15.6"/><use href="#oU280" x="351.6" y="15.6"/><use href="#oU280" x="358.0" y="15.6"/><use href="#oU280" x="364.4" y="15.6"/><use href="#tG280" x="370.8" y="15.6"/><use href="#tC280" x="377.2" y="15.6"/><use href="#rA280" x="255.8" y="26.8"/><use href="#rA280" x="262.2" y="26.8"/><use href="#rG280" x="268.6" y="26.8"/><use href="#rA280" x="275.0" y="26.8"/><use href="#rA280" x="281.4" y="26.8"/><use href="#tC280" x="287.8" y="26.8"/><use href="#tG280" x="294.1" y="26.8"/><use href="#tG280" x="300.5" y="26.8"/><use href="#tG280" x="306.9" y="26.8"/><use href="#tG280" x="313.3" y="26.8"/><use href="#tG280" x="319.7" y="26.8"/><use href="#tU280" x="326.1" y="26.8"/><use href="#tC280" x="332.5" y="26.8"/><use href="#tU280" x="338.9" y="26.8"/><use href="#oA280" x="345.3" y="26.8"/><use href="#oG280" x="351.6" y="26.8"/><use href="#oA280" x="358.0" y="26.8"/><use href="#oA280" x="364.4" y="26.8"/><use href="#tC280" x="370.8" y="26.8"/><use href="#tG280" x="377.2" y="26.8"/><use href="#tC280" x="383.4" y="14.0"/><use href="#tA280" x="388.1" y="17.9"/><use href="#tA280" x="388.2" y="24.2"/><use href="#tU280" x="383.4" y="28.1"/><text x="228.0" y="23.8" font-size="8.8" text-anchor="middle" font-weight="normal" font-style="normal" fill="#222" >WT-ωRNA</text><line x1="255.8" y1="44.2" x2="255.8" y2="49.8" stroke="#ababab" stroke-width="0.85"/><line x1="262.2" y1="44.2" x2="262.2" y2="49.8" stroke="#ababab" stroke-width="0.85"/><line x1="268.6" y1="44.2" x2="268.6" y2="49.8" stroke="#ababab" stroke-width="0.85"/><line x1="275.0" y1="44.2" x2="275.0" y2="49.8" stroke="#ababab" stroke-width="0.85"/><line x1="281.4" y1="44.2" x2="281.4" y2="49.8" stroke="#ababab" stroke-width="0.85"/><line x1="287.8" y1="44.2" x2="287.8" y2="49.8" stroke="#ababab" stroke-width="0.85"/><circle cx="294.1" cy="47.0" r="0.5" fill="#222"/><line x1="300.5" y1="44.2" x2="300.5" y2="49.8" stroke="#ababab" stroke-width="0.85"/><circle cx="306.9" cy="47.0" r="0.5" fill="#222"/><line x1="313.3" y1="44.2" x2="313.3" y2="49.8" stroke="#ababab" stroke-width="0.85"/><line x1="326.1" y1="44.2" x2="326.1" y2="49.8" stroke="#ababab" stroke-width="0.85"/><line x1="332.5" y1="44.2" x2="332.5" y2="49.8" stroke="#ababab" stroke-width="0.85"/><line x1="338.9" y1="44.2" x2="338.9" y2="49.8" stroke="#ababab" stroke-width="0.85"/><line x1="345.3" y1="44.2" x2="345.3" y2="49.8" stroke="#ababab" stroke-width="0.85"/><line x1="351.6" y1="44.2" x2="351.6" y2="49.8" stroke="#ababab" stroke-width="0.85"/><line x1="358.0" y1="44.2" x2="358.0" y2="49.8" stroke="#ababab" stroke-width="0.85"/><line x1="364.4" y1="44.2" x2="364.4" y2="49.8" stroke="#ababab" stroke-width="0.85"/><line x1="370.8" y1="44.2" x2="370.8" y2="49.8" stroke="#ababab" stroke-width="0.85"/><line x1="377.2" y1="44.2" x2="377.2" y2="49.8" stroke="#ababab" stroke-width="0.85"/><path d="M251.1,41.4 L255.8,41.4 L262.2,41.4 L268.6,41.4 L275.0,41.4 L281.4,41.4 L287.8,41.4 L294.1,41.4 L300.5,41.4 L306.9,41.4 L313.3,41.4 L326.1,41.4 L332.5,41.4 L338.9,41.4 L345.3,41.4 L351.6,41.4 L358.0,41.4 L364.4,41.4 L370.8,41.4 L377.2,41.4 L383.4,39.8 " fill="none" stroke="#9a9a9a" stroke-width="0.7"/><path d="M251.1,52.6 L255.8,52.6 L262.2,52.6 L268.6,52.6 L275.0,52.6 L281.4,52.6 L287.8,52.6 L294.1,52.6 L300.5,52.6 L306.9,52.6 L313.3,52.6 L319.7,52.6 L326.1,52.6 L332.5,52.6 L338.9,52.6 L345.3,52.6 L351.6,52.6 L358.0,52.6 L364.4,52.6 L370.8,52.6 L377.2,52.6 L383.4,53.9 " fill="none" stroke="#6a6a6a" stroke-width="0.7"/><line x1="383.4" y1="39.8" x2="388.1" y2="43.7" stroke="#6a6a6a" stroke-width="0.7"/><line x1="388.1" y1="43.7" x2="388.2" y2="50.0" stroke="#6a6a6a" stroke-width="0.7"/><line x1="388.2" y1="50.0" x2="383.4" y2="53.9" stroke="#6a6a6a" stroke-width="0.7"/><use href="#rG280" x="255.8" y="41.4"/><use href="#rA280" x="262.2" y="41.4"/><use href="#rA280" x="268.6" y="41.4"/><use href="#rU280" x="275.0" y="41.4"/><use href="#rU280" x="281.4" y="41.4"/><use href="#tG280" x="287.8" y="41.4"/><use href="#tU280" x="294.1" y="41.4"/><use href="#tC280" x="300.5" y="41.4"/><use href="#tA280" x="306.9" y="41.4"/><use href="#tC280" x="313.3" y="41.4"/><use href="#tA280" x="326.1" y="41.4"/><use href="#tG280" x="332.5" y="41.4"/><use href="#tA280" x="338.9" y="41.4"/><use href="#oU280" x="345.3" y="41.4"/><use href="#oC280" x="351.6" y="41.4"/><use href="#oG280" x="358.0" y="41.4"/><use href="#oU280" x="364.4" y="41.4"/><use href="#tG280" x="370.8" y="41.4"/><use href="#tC280" x="377.2" y="41.4"/><use href="#rC280" x="255.8" y="52.6"/><use href="#rU280" x="262.2" y="52.6"/><use href="#rU280" x="268.6" y="52.6"/><use href="#rA280" x="275.0" y="52.6"/><use href="#rA280" x="281.4" y="52.6"/><use href="#tC280" x="287.8" y="52.6"/><use href="#tG280" x="294.1" y="52.6"/><use href="#tG280" x="300.5" y="52.6"/><use href="#tG280" x="306.9" y="52.6"/><use href="#tG280" x="313.3" y="52.6"/><use href="#tG280" x="319.7" y="52.6"/><use href="#tU280" x="326.1" y="52.6"/><use href="#tC280" x="332.5" y="52.6"/><use href="#tU280" x="338.9" y="52.6"/><use href="#oA280" x="345.3" y="52.6"/><use href="#oG280" x="351.6" y="52.6"/><use href="#oC280" x="358.0" y="52.6"/><use href="#oA280" x="364.4" y="52.6"/><use href="#tC280" x="370.8" y="52.6"/><use href="#tG280" x="377.2" y="52.6"/><use href="#tC280" x="383.4" y="39.8"/><use href="#tA280" x="388.1" y="43.7"/><use href="#tA280" x="388.2" y="50.0"/><use href="#tU280" x="383.4" y="53.9"/><text x="228.0" y="49.6" font-size="8.8" text-anchor="middle" font-weight="normal" font-style="normal" fill="#222" >ωRNA-V3</text><line x1="255.8" y1="69.9" x2="255.8" y2="75.5" stroke="#ababab" stroke-width="0.85"/><line x1="262.2" y1="69.9" x2="262.2" y2="75.5" stroke="#ababab" stroke-width="0.85"/><line x1="268.6" y1="69.9" x2="268.6" y2="75.5" stroke="#ababab" stroke-width="0.85"/><line x1="275.0" y1="69.9" x2="275.0" y2="75.5" stroke="#ababab" stroke-width="0.85"/><line x1="281.4" y1="69.9" x2="281.4" y2="75.5" stroke="#ababab" stroke-width="0.85"/><line x1="287.8" y1="69.9" x2="287.8" y2="75.5" stroke="#ababab" stroke-width="0.85"/><circle cx="294.1" cy="72.7" r="0.5" fill="#222"/><line x1="300.5" y1="69.9" x2="300.5" y2="75.5" stroke="#ababab" stroke-width="0.85"/><circle cx="306.9" cy="72.7" r="0.5" fill="#222"/><line x1="313.3" y1="69.9" x2="313.3" y2="75.5" stroke="#ababab" stroke-width="0.85"/><line x1="326.1" y1="69.9" x2="326.1" y2="75.5" stroke="#ababab" stroke-width="0.85"/><line x1="332.5" y1="69.9" x2="332.5" y2="75.5" stroke="#ababab" stroke-width="0.85"/><line x1="338.9" y1="69.9" x2="338.9" y2="75.5" stroke="#ababab" stroke-width="0.85"/><line x1="345.3" y1="69.9" x2="345.3" y2="75.5" stroke="#ababab" stroke-width="0.85"/><line x1="351.6" y1="69.9" x2="351.6" y2="75.5" stroke="#ababab" stroke-width="0.85"/><line x1="358.0" y1="69.9" x2="358.0" y2="75.5" stroke="#ababab" stroke-width="0.85"/><path d="M251.1,67.1 L255.8,67.1 L262.2,67.1 L268.6,67.1 L275.0,67.1 L281.4,67.1 L287.8,67.1 L294.1,67.1 L300.5,67.1 L306.9,67.1 L313.3,67.1 L326.1,67.1 L332.5,67.1 L338.9,67.1 L345.3,67.1 L351.6,67.1 L358.0,67.1 L382.1,67.3 " fill="none" stroke="#9a9a9a" stroke-width="0.7"/><path d="M251.1,78.3 L255.8,78.3 L262.2,78.3 L268.6,78.3 L275.0,78.3 L281.4,78.3 L287.8,78.3 L294.1,78.3 L300.5,78.3 L306.9,78.3 L313.3,78.3 L319.7,78.3 L326.1,78.3 L332.5,78.3 L338.9,78.3 L345.3,78.3 L351.6,78.3 L358.0,78.3 L382.1,78.7 " fill="none" stroke="#6a6a6a" stroke-width="0.7"/><line x1="382.1" y1="67.3" x2="387.7" y2="69.9" stroke="#6a6a6a" stroke-width="0.7"/><line x1="387.7" y1="69.9" x2="387.7" y2="75.4" stroke="#6a6a6a" stroke-width="0.7"/><line x1="387.7" y1="75.4" x2="382.1" y2="78.7" stroke="#6a6a6a" stroke-width="0.7"/><use href="#rG280" x="255.8" y="67.1"/><use href="#rA280" x="262.2" y="67.1"/><use href="#rA280" x="268.6" y="67.1"/><use href="#rU280" x="275.0" y="67.1"/><use href="#rU280" x="281.4" y="67.1"/><use href="#tG280" x="287.8" y="67.1"/><use href="#tU280" x="294.1" y="67.1"/><use href="#tC280" x="300.5" y="67.1"/><use href="#tA280" x="306.9" y="67.1"/><use href="#tC280" x="313.3" y="67.1"/><use href="#tA280" x="326.1" y="67.1"/><use href="#tG280" x="332.5" y="67.1"/><use href="#tA280" x="338.9" y="67.1"/><use href="#oU280" x="345.3" y="67.1"/><use href="#oC280" x="351.6" y="67.1"/><use href="#oG280" x="358.0" y="67.1"/><use href="#rC280" x="255.8" y="78.3"/><use href="#rU280" x="262.2" y="78.3"/><use href="#rU280" x="268.6" y="78.3"/><use href="#rA280" x="275.0" y="78.3"/><use href="#rA280" x="281.4" y="78.3"/><use href="#tC280" x="287.8" y="78.3"/><use href="#tG280" x="294.1" y="78.3"/><use href="#tG280" x="300.5" y="78.3"/><use href="#tG280" x="306.9" y="78.3"/><use href="#tG280" x="313.3" y="78.3"/><use href="#tG280" x="319.7" y="78.3"/><use href="#tU280" x="326.1" y="78.3"/><use href="#tC280" x="332.5" y="78.3"/><use href="#tU280" x="338.9" y="78.3"/><use href="#oA280" x="345.3" y="78.3"/><use href="#oG280" x="351.6" y="78.3"/><use href="#oC280" x="358.0" y="78.3"/><use href="#tC280" x="382.1" y="67.3"/><use href="#tA280" x="387.7" y="69.9"/><use href="#tA280" x="387.7" y="75.4"/><use href="#tU280" x="382.1" y="78.7"/><text x="227.0" y="76.5" font-size="8.8" text-anchor="middle" font-weight="normal" font-style="normal" fill="#222" >Del3.1</text><line x1="255.8" y1="95.7" x2="255.8" y2="101.3" stroke="#ababab" stroke-width="0.85"/><line x1="262.2" y1="95.7" x2="262.2" y2="101.3" stroke="#ababab" stroke-width="0.85"/><line x1="268.6" y1="95.7" x2="268.6" y2="101.3" stroke="#ababab" stroke-width="0.85"/><line x1="275.0" y1="95.7" x2="275.0" y2="101.3" stroke="#ababab" stroke-width="0.85"/><line x1="281.4" y1="95.7" x2="281.4" y2="101.3" stroke="#ababab" stroke-width="0.85"/><line x1="287.8" y1="95.7" x2="287.8" y2="101.3" stroke="#ababab" stroke-width="0.85"/><circle cx="294.1" cy="98.5" r="0.5" fill="#222"/><line x1="300.5" y1="95.7" x2="300.5" y2="101.3" stroke="#ababab" stroke-width="0.85"/><circle cx="306.9" cy="98.5" r="0.5" fill="#222"/><line x1="313.3" y1="95.7" x2="313.3" y2="101.3" stroke="#ababab" stroke-width="0.85"/><line x1="326.1" y1="95.7" x2="326.1" y2="101.3" stroke="#ababab" stroke-width="0.85"/><line x1="332.5" y1="95.7" x2="332.5" y2="101.3" stroke="#ababab" stroke-width="0.85"/><line x1="338.9" y1="95.7" x2="338.9" y2="101.3" stroke="#ababab" stroke-width="0.85"/><line x1="345.3" y1="95.7" x2="345.3" y2="101.3" stroke="#ababab" stroke-width="0.85"/><line x1="351.6" y1="95.7" x2="351.6" y2="101.3" stroke="#ababab" stroke-width="0.85"/><line x1="377.2" y1="95.7" x2="377.2" y2="101.3" stroke="#ababab" stroke-width="0.85"/><path d="M251.1,92.9 L255.8,92.9 L262.2,92.9 L268.6,92.9 L275.0,92.9 L281.4,92.9 L287.8,92.9 L294.1,92.9 L300.5,92.9 L306.9,92.9 L313.3,92.9 L326.1,92.9 L332.5,92.9 L338.9,92.9 L345.3,92.9 L351.6,92.9 L377.2,92.9 L383.4,91.3 " fill="none" stroke="#9a9a9a" stroke-width="0.7"/><path d="M251.1,104.1 L255.8,104.1 L262.2,104.1 L268.6,104.1 L275.0,104.1 L281.4,104.1 L287.8,104.1 L294.1,104.1 L300.5,104.1 L306.9,104.1 L313.3,104.1 L319.7,104.1 L326.1,104.1 L332.5,104.1 L338.9,104.1 L345.3,104.1 L351.6,104.1 L377.2,104.1 L383.4,105.4 " fill="none" stroke="#6a6a6a" stroke-width="0.7"/><line x1="383.4" y1="91.3" x2="388.1" y2="95.2" stroke="#6a6a6a" stroke-width="0.7"/><line x1="388.1" y1="95.2" x2="388.2" y2="101.5" stroke="#6a6a6a" stroke-width="0.7"/><line x1="388.2" y1="101.5" x2="383.4" y2="105.4" stroke="#6a6a6a" stroke-width="0.7"/><use href="#rG280" x="255.8" y="92.9"/><use href="#rA280" x="262.2" y="92.9"/><use href="#rA280" x="268.6" y="92.9"/><use href="#rU280" x="275.0" y="92.9"/><use href="#rU280" x="281.4" y="92.9"/><use href="#tG280" x="287.8" y="92.9"/><use href="#tU280" x="294.1" y="92.9"/><use href="#tC280" x="300.5" y="92.9"/><use href="#tA280" x="306.9" y="92.9"/><use href="#tC280" x="313.3" y="92.9"/><use href="#tA280" x="326.1" y="92.9"/><use href="#tG280" x="332.5" y="92.9"/><use href="#tA280" x="338.9" y="92.9"/><use href="#oU280" x="345.3" y="92.9"/><use href="#oC280" x="351.6" y="92.9"/><use href="#tC280" x="377.2" y="92.9"/><use href="#rC280" x="255.8" y="104.1"/><use href="#rU280" x="262.2" y="104.1"/><use href="#rU280" x="268.6" y="104.1"/><use href="#rA280" x="275.0" y="104.1"/><use href="#rA280" x="281.4" y="104.1"/><use href="#tC280" x="287.8" y="104.1"/><use href="#tG280" x="294.1" y="104.1"/><use href="#tG280" x="300.5" y="104.1"/><use href="#tG280" x="306.9" y="104.1"/><use href="#tG280" x="313.3" y="104.1"/><use href="#tG280" x="319.7" y="104.1"/><use href="#tU280" x="326.1" y="104.1"/><use href="#tC280" x="332.5" y="104.1"/><use href="#tU280" x="338.9" y="104.1"/><use href="#oA280" x="345.3" y="104.1"/><use href="#oG280" x="351.6" y="104.1"/><use href="#tG280" x="377.2" y="104.1"/><use href="#tC280" x="383.4" y="91.3"/><use href="#tA280" x="388.1" y="95.2"/><use href="#tA280" x="388.2" y="101.5"/><use href="#tU280" x="383.4" y="105.4"/><text x="227.0" y="102.3" font-size="8.8" text-anchor="middle" font-weight="normal" font-style="normal" fill="#222" >Del3.2</text><line x1="255.8" y1="121.5" x2="255.8" y2="127.1" stroke="#ababab" stroke-width="0.85"/><line x1="262.2" y1="121.5" x2="262.2" y2="127.1" stroke="#ababab" stroke-width="0.85"/><line x1="268.6" y1="121.5" x2="268.6" y2="127.1" stroke="#ababab" stroke-width="0.85"/><line x1="275.0" y1="121.5" x2="275.0" y2="127.1" stroke="#ababab" stroke-width="0.85"/><line x1="281.4" y1="121.5" x2="281.4" y2="127.1" stroke="#ababab" stroke-width="0.85"/><line x1="287.8" y1="121.5" x2="287.8" y2="127.1" stroke="#ababab" stroke-width="0.85"/><circle cx="294.1" cy="124.3" r="0.5" fill="#222"/><line x1="300.5" y1="121.5" x2="300.5" y2="127.1" stroke="#ababab" stroke-width="0.85"/><circle cx="306.9" cy="124.3" r="0.5" fill="#222"/><line x1="313.3" y1="121.5" x2="313.3" y2="127.1" stroke="#ababab" stroke-width="0.85"/><line x1="326.1" y1="121.5" x2="326.1" y2="127.1" stroke="#ababab" stroke-width="0.85"/><line x1="332.5" y1="121.5" x2="332.5" y2="127.1" stroke="#ababab" stroke-width="0.85"/><line x1="338.9" y1="121.5" x2="338.9" y2="127.1" stroke="#ababab" stroke-width="0.85"/><line x1="345.3" y1="121.5" x2="345.3" y2="127.1" stroke="#ababab" stroke-width="0.85"/><line x1="370.8" y1="121.5" x2="370.8" y2="127.1" stroke="#ababab" stroke-width="0.85"/><line x1="377.2" y1="121.5" x2="377.2" y2="127.1" stroke="#ababab" stroke-width="0.85"/><path d="M251.1,118.7 L255.8,118.7 L262.2,118.7 L268.6,118.7 L275.0,118.7 L281.4,118.7 L287.8,118.7 L294.1,118.7 L300.5,118.7 L306.9,118.7 L313.3,118.7 L326.1,118.7 L332.5,118.7 L338.9,118.7 L345.3,118.7 L370.8,118.7 L377.2,118.7 L383.4,117.1 " fill="none" stroke="#9a9a9a" stroke-width="0.7"/><path d="M251.1,129.9 L255.8,129.9 L262.2,129.9 L268.6,129.9 L275.0,129.9 L281.4,129.9 L287.8,129.9 L294.1,129.9 L300.5,129.9 L306.9,129.9 L313.3,129.9 L319.7,129.9 L326.1,129.9 L332.5,129.9 L338.9,129.9 L345.3,129.9 L370.8,129.9 L377.2,129.9 L383.4,131.2 " fill="none" stroke="#6a6a6a" stroke-width="0.7"/><line x1="383.4" y1="117.1" x2="388.1" y2="121.0" stroke="#6a6a6a" stroke-width="0.7"/><line x1="388.1" y1="121.0" x2="388.2" y2="127.3" stroke="#6a6a6a" stroke-width="0.7"/><line x1="388.2" y1="127.3" x2="383.4" y2="131.2" stroke="#6a6a6a" stroke-width="0.7"/><use href="#rG280" x="255.8" y="118.7"/><use href="#rA280" x="262.2" y="118.7"/><use href="#rA280" x="268.6" y="118.7"/><use href="#rU280" x="275.0" y="118.7"/><use href="#rU280" x="281.4" y="118.7"/><use href="#tG280" x="287.8" y="118.7"/><use href="#tU280" x="294.1" y="118.7"/><use href="#tC280" x="300.5" y="118.7"/><use href="#tA280" x="306.9" y="118.7"/><use href="#tC280" x="313.3" y="118.7"/><use href="#tA280" x="326.1" y="118.7"/><use href="#tG280" x="332.5" y="118.7"/><use href="#tA280" x="338.9" y="118.7"/><use href="#oU280" x="345.3" y="118.7"/><use href="#tG280" x="370.8" y="118.7"/><use href="#tC280" x="377.2" y="118.7"/><use href="#rC280" x="255.8" y="129.9"/><use href="#rU280" x="262.2" y="129.9"/><use href="#rU280" x="268.6" y="129.9"/><use href="#rA280" x="275.0" y="129.9"/><use href="#rA280" x="281.4" y="129.9"/><use href="#tC280" x="287.8" y="129.9"/><use href="#tG280" x="294.1" y="129.9"/><use href="#tG280" x="300.5" y="129.9"/><use href="#tG280" x="306.9" y="129.9"/><use href="#tG280" x="313.3" y="129.9"/><use href="#tG280" x="319.7" y="129.9"/><use href="#tU280" x="326.1" y="129.9"/><use href="#tC280" x="332.5" y="129.9"/><use href="#tU280" x="338.9" y="129.9"/><use href="#oA280" x="345.3" y="129.9"/><use href="#tC280" x="370.8" y="129.9"/><use href="#tG280" x="377.2" y="129.9"/><use href="#tC280" x="383.4" y="117.1"/><use href="#tA280" x="388.1" y="121.0"/><use href="#tA280" x="388.2" y="127.3"/><use href="#tU280" x="383.4" y="131.2"/><text x="227.0" y="128.1" font-size="8.8" text-anchor="middle" font-weight="normal" font-style="normal" fill="#222" >Del3.3</text><line x1="255.8" y1="147.2" x2="255.8" y2="152.8" stroke="#ababab" stroke-width="0.85"/><line x1="262.2" y1="147.2" x2="262.2" y2="152.8" stroke="#ababab" stroke-width="0.85"/><line x1="268.6" y1="147.2" x2="268.6" y2="152.8" stroke="#ababab" stroke-width="0.85"/><line x1="275.0" y1="147.2" x2="275.0" y2="152.8" stroke="#ababab" stroke-width="0.85"/><line x1="281.4" y1="147.2" x2="281.4" y2="152.8" stroke="#ababab" stroke-width="0.85"/><line x1="287.8" y1="147.2" x2="287.8" y2="152.8" stroke="#ababab" stroke-width="0.85"/><circle cx="294.1" cy="150.0" r="0.5" fill="#222"/><line x1="300.5" y1="147.2" x2="300.5" y2="152.8" stroke="#ababab" stroke-width="0.85"/><circle cx="306.9" cy="150.0" r="0.5" fill="#222"/><line x1="313.3" y1="147.2" x2="313.3" y2="152.8" stroke="#ababab" stroke-width="0.85"/><line x1="326.1" y1="147.2" x2="326.1" y2="152.8" stroke="#ababab" stroke-width="0.85"/><line x1="332.5" y1="147.2" x2="332.5" y2="152.8" stroke="#ababab" stroke-width="0.85"/><line x1="358.0" y1="147.2" x2="358.0" y2="152.8" stroke="#ababab" stroke-width="0.85"/><line x1="364.4" y1="147.2" x2="364.4" y2="152.8" stroke="#ababab" stroke-width="0.85"/><line x1="370.8" y1="147.2" x2="370.8" y2="152.8" stroke="#ababab" stroke-width="0.85"/><line x1="377.2" y1="147.2" x2="377.2" y2="152.8" stroke="#ababab" stroke-width="0.85"/><path d="M251.1,144.4 L255.8,144.4 L262.2,144.4 L268.6,144.4 L275.0,144.4 L281.4,144.4 L287.8,144.4 L294.1,144.4 L300.5,144.4 L306.9,144.4 L313.3,144.4 L326.1,144.4 L332.5,144.4 L358.0,144.4 L364.4,144.4 L370.8,144.4 L377.2,144.4 L383.4,142.8 " fill="none" stroke="#9a9a9a" stroke-width="0.7"/><path d="M251.1,155.6 L255.8,155.6 L262.2,155.6 L268.6,155.6 L275.0,155.6 L281.4,155.6 L287.8,155.6 L294.1,155.6 L300.5,155.6 L306.9,155.6 L313.3,155.6 L319.7,155.6 L326.1,155.6 L332.5,155.6 L358.0,155.6 L364.4,155.6 L370.8,155.6 L377.2,155.6 L383.4,156.9 " fill="none" stroke="#6a6a6a" stroke-width="0.7"/><line x1="383.4" y1="142.8" x2="388.1" y2="146.8" stroke="#6a6a6a" stroke-width="0.7"/><line x1="388.1" y1="146.8" x2="388.2" y2="153.0" stroke="#6a6a6a" stroke-width="0.7"/><line x1="388.2" y1="153.0" x2="383.4" y2="156.9" stroke="#6a6a6a" stroke-width="0.7"/><use href="#rG280" x="255.8" y="144.4"/><use href="#rA280" x="262.2" y="144.4"/><use href="#rA280" x="268.6" y="144.4"/><use href="#rU280" x="275.0" y="144.4"/><use href="#rU280" x="281.4" y="144.4"/><use href="#tG280" x="287.8" y="144.4"/><use href="#tU280" x="294.1" y="144.4"/><use href="#tC280" x="300.5" y="144.4"/><use href="#tA280" x="306.9" y="144.4"/><use href="#tC280" x="313.3" y="144.4"/><use href="#tA280" x="326.1" y="144.4"/><use href="#tG280" x="332.5" y="144.4"/><use href="#oG280" x="358.0" y="144.4"/><use href="#oU280" x="364.4" y="144.4"/><use href="#tG280" x="370.8" y="144.4"/><use href="#tC280" x="377.2" y="144.4"/><use href="#rC280" x="255.8" y="155.6"/><use href="#rU280" x="262.2" y="155.6"/><use href="#rU280" x="268.6" y="155.6"/><use href="#rA280" x="275.0" y="155.6"/><use href="#rA280" x="281.4" y="155.6"/><use href="#tC280" x="287.8" y="155.6"/><use href="#tG280" x="294.1" y="155.6"/><use href="#tG280" x="300.5" y="155.6"/><use href="#tG280" x="306.9" y="155.6"/><use href="#tG280" x="313.3" y="155.6"/><use href="#tG280" x="319.7" y="155.6"/><use href="#tU280" x="326.1" y="155.6"/><use href="#tC280" x="332.5" y="155.6"/><use href="#oC280" x="358.0" y="155.6"/><use href="#oA280" x="364.4" y="155.6"/><use href="#tC280" x="370.8" y="155.6"/><use href="#tG280" x="377.2" y="155.6"/><use href="#tC280" x="383.4" y="142.8"/><use href="#tA280" x="388.1" y="146.8"/><use href="#tA280" x="388.2" y="153.0"/><use href="#tU280" x="383.4" y="156.9"/><text x="227.0" y="153.8" font-size="8.8" text-anchor="middle" font-weight="normal" font-style="normal" fill="#222" >Del3.4</text><line x1="255.8" y1="173.0" x2="255.8" y2="178.6" stroke="#ababab" stroke-width="0.85"/><line x1="262.2" y1="173.0" x2="262.2" y2="178.6" stroke="#ababab" stroke-width="0.85"/><line x1="268.6" y1="173.0" x2="268.6" y2="178.6" stroke="#ababab" stroke-width="0.85"/><line x1="275.0" y1="173.0" x2="275.0" y2="178.6" stroke="#ababab" stroke-width="0.85"/><line x1="281.4" y1="173.0" x2="281.4" y2="178.6" stroke="#ababab" stroke-width="0.85"/><line x1="287.8" y1="173.0" x2="287.8" y2="178.6" stroke="#ababab" stroke-width="0.85"/><circle cx="294.1" cy="175.8" r="0.5" fill="#222"/><line x1="300.5" y1="173.0" x2="300.5" y2="178.6" stroke="#ababab" stroke-width="0.85"/><circle cx="306.9" cy="175.8" r="0.5" fill="#222"/><line x1="313.3" y1="173.0" x2="313.3" y2="178.6" stroke="#ababab" stroke-width="0.85"/><line x1="326.1" y1="173.0" x2="326.1" y2="178.6" stroke="#ababab" stroke-width="0.85"/><line x1="351.6" y1="173.0" x2="351.6" y2="178.6" stroke="#ababab" stroke-width="0.85"/><line x1="358.0" y1="173.0" x2="358.0" y2="178.6" stroke="#ababab" stroke-width="0.85"/><line x1="364.4" y1="173.0" x2="364.4" y2="178.6" stroke="#ababab" stroke-width="0.85"/><line x1="370.8" y1="173.0" x2="370.8" y2="178.6" stroke="#ababab" stroke-width="0.85"/><line x1="377.2" y1="173.0" x2="377.2" y2="178.6" stroke="#ababab" stroke-width="0.85"/><path d="M251.1,170.2 L255.8,170.2 L262.2,170.2 L268.6,170.2 L275.0,170.2 L281.4,170.2 L287.8,170.2 L294.1,170.2 L300.5,170.2 L306.9,170.2 L313.3,170.2 L326.1,170.2 L351.6,170.2 L358.0,170.2 L364.4,170.2 L370.8,170.2 L377.2,170.2 L383.4,168.6 " fill="none" stroke="#9a9a9a" stroke-width="0.7"/><path d="M251.1,181.4 L255.8,181.4 L262.2,181.4 L268.6,181.4 L275.0,181.4 L281.4,181.4 L287.8,181.4 L294.1,181.4 L300.5,181.4 L306.9,181.4 L313.3,181.4 L319.7,181.4 L326.1,181.4 L351.6,181.4 L358.0,181.4 L364.4,181.4 L370.8,181.4 L377.2,181.4 L383.4,182.7 " fill="none" stroke="#6a6a6a" stroke-width="0.7"/><line x1="383.4" y1="168.6" x2="388.1" y2="172.5" stroke="#6a6a6a" stroke-width="0.7"/><line x1="388.1" y1="172.5" x2="388.2" y2="178.8" stroke="#6a6a6a" stroke-width="0.7"/><line x1="388.2" y1="178.8" x2="383.4" y2="182.7" stroke="#6a6a6a" stroke-width="0.7"/><use href="#rG280" x="255.8" y="170.2"/><use href="#rA280" x="262.2" y="170.2"/><use href="#rA280" x="268.6" y="170.2"/><use href="#rU280" x="275.0" y="170.2"/><use href="#rU280" x="281.4" y="170.2"/><use href="#tG280" x="287.8" y="170.2"/><use href="#tU280" x="294.1" y="170.2"/><use href="#tC280" x="300.5" y="170.2"/><use href="#tA280" x="306.9" y="170.2"/><use href="#tC280" x="313.3" y="170.2"/><use href="#tA280" x="326.1" y="170.2"/><use href="#oC280" x="351.6" y="170.2"/><use href="#oG280" x="358.0" y="170.2"/><use href="#oU280" x="364.4" y="170.2"/><use href="#tG280" x="370.8" y="170.2"/><use href="#tC280" x="377.2" y="170.2"/><use href="#rC280" x="255.8" y="181.4"/><use href="#rU280" x="262.2" y="181.4"/><use href="#rU280" x="268.6" y="181.4"/><use href="#rA280" x="275.0" y="181.4"/><use href="#rA280" x="281.4" y="181.4"/><use href="#tC280" x="287.8" y="181.4"/><use href="#tG280" x="294.1" y="181.4"/><use href="#tG280" x="300.5" y="181.4"/><use href="#tG280" x="306.9" y="181.4"/><use href="#tG280" x="313.3" y="181.4"/><use href="#tG280" x="319.7" y="181.4"/><use href="#tU280" x="326.1" y="181.4"/><use href="#oG280" x="351.6" y="181.4"/><use href="#oC280" x="358.0" y="181.4"/><use href="#oA280" x="364.4" y="181.4"/><use href="#tC280" x="370.8" y="181.4"/><use href="#tG280" x="377.2" y="181.4"/><use href="#tC280" x="383.4" y="168.6"/><use href="#tA280" x="388.1" y="172.5"/><use href="#tA280" x="388.2" y="178.8"/><use href="#tU280" x="383.4" y="182.7"/><text x="227.0" y="179.6" font-size="8.8" text-anchor="middle" font-weight="normal" font-style="normal" fill="#222" >Del3.5</text><line x1="255.8" y1="198.8" x2="255.8" y2="204.4" stroke="#ababab" stroke-width="0.85"/><line x1="262.2" y1="198.8" x2="262.2" y2="204.4" stroke="#ababab" stroke-width="0.85"/><line x1="268.6" y1="198.8" x2="268.6" y2="204.4" stroke="#ababab" stroke-width="0.85"/><line x1="275.0" y1="198.8" x2="275.0" y2="204.4" stroke="#ababab" stroke-width="0.85"/><line x1="281.4" y1="198.8" x2="281.4" y2="204.4" stroke="#ababab" stroke-width="0.85"/><line x1="287.8" y1="198.8" x2="287.8" y2="204.4" stroke="#ababab" stroke-width="0.85"/><circle cx="294.1" cy="201.6" r="0.5" fill="#222"/><line x1="300.5" y1="198.8" x2="300.5" y2="204.4" stroke="#ababab" stroke-width="0.85"/><circle cx="306.9" cy="201.6" r="0.5" fill="#222"/><line x1="313.3" y1="198.8" x2="313.3" y2="204.4" stroke="#ababab" stroke-width="0.85"/><line x1="345.3" y1="198.8" x2="345.3" y2="204.4" stroke="#ababab" stroke-width="0.85"/><line x1="351.6" y1="198.8" x2="351.6" y2="204.4" stroke="#ababab" stroke-width="0.85"/><line x1="358.0" y1="198.8" x2="358.0" y2="204.4" stroke="#ababab" stroke-width="0.85"/><line x1="364.4" y1="198.8" x2="364.4" y2="204.4" stroke="#ababab" stroke-width="0.85"/><line x1="370.8" y1="198.8" x2="370.8" y2="204.4" stroke="#ababab" stroke-width="0.85"/><line x1="377.2" y1="198.8" x2="377.2" y2="204.4" stroke="#ababab" stroke-width="0.85"/><path d="M251.1,196.0 L255.8,196.0 L262.2,196.0 L268.6,196.0 L275.0,196.0 L281.4,196.0 L287.8,196.0 L294.1,196.0 L300.5,196.0 L306.9,196.0 L313.3,196.0 L345.3,196.0 L351.6,196.0 L358.0,196.0 L364.4,196.0 L370.8,196.0 L377.2,196.0 L383.4,194.4 " fill="none" stroke="#9a9a9a" stroke-width="0.7"/><path d="M251.1,207.2 L255.8,207.2 L262.2,207.2 L268.6,207.2 L275.0,207.2 L281.4,207.2 L287.8,207.2 L294.1,207.2 L300.5,207.2 L306.9,207.2 L313.3,207.2 L345.3,207.2 L351.6,207.2 L358.0,207.2 L364.4,207.2 L370.8,207.2 L377.2,207.2 L383.4,208.5 " fill="none" stroke="#6a6a6a" stroke-width="0.7"/><line x1="383.4" y1="194.4" x2="388.1" y2="198.3" stroke="#6a6a6a" stroke-width="0.7"/><line x1="388.1" y1="198.3" x2="388.2" y2="204.6" stroke="#6a6a6a" stroke-width="0.7"/><line x1="388.2" y1="204.6" x2="383.4" y2="208.5" stroke="#6a6a6a" stroke-width="0.7"/><use href="#rG280" x="255.8" y="196.0"/><use href="#rA280" x="262.2" y="196.0"/><use href="#rA280" x="268.6" y="196.0"/><use href="#rU280" x="275.0" y="196.0"/><use href="#rU280" x="281.4" y="196.0"/><use href="#tG280" x="287.8" y="196.0"/><use href="#tU280" x="294.1" y="196.0"/><use href="#tC280" x="300.5" y="196.0"/><use href="#tA280" x="306.9" y="196.0"/><use href="#tC280" x="313.3" y="196.0"/><use href="#oU280" x="345.3" y="196.0"/><use href="#oC280" x="351.6" y="196.0"/><use href="#oG280" x="358.0" y="196.0"/><use href="#oU280" x="364.4" y="196.0"/><use href="#tG280" x="370.8" y="196.0"/><use href="#tC280" x="377.2" y="196.0"/><use href="#rC280" x="255.8" y="207.2"/><use href="#rU280" x="262.2" y="207.2"/><use href="#rU280" x="268.6" y="207.2"/><use href="#rA280" x="275.0" y="207.2"/><use href="#rA280" x="281.4" y="207.2"/><use href="#tC280" x="287.8" y="207.2"/><use href="#tG280" x="294.1" y="207.2"/><use href="#tG280" x="300.5" y="207.2"/><use href="#tG280" x="306.9" y="207.2"/><use href="#tG280" x="313.3" y="207.2"/><use href="#oA280" x="345.3" y="207.2"/><use href="#oG280" x="351.6" y="207.2"/><use href="#oC280" x="358.0" y="207.2"/><use href="#oA280" x="364.4" y="207.2"/><use href="#tC280" x="370.8" y="207.2"/><use href="#tG280" x="377.2" y="207.2"/><use href="#tC280" x="383.4" y="194.4"/><use href="#tA280" x="388.1" y="198.3"/><use href="#tA280" x="388.2" y="204.6"/><use href="#tU280" x="383.4" y="208.5"/><text x="227.0" y="205.4" font-size="8.8" text-anchor="middle" font-weight="normal" font-style="normal" fill="#222" >Del3.6</text><line x1="255.8" y1="224.6" x2="255.8" y2="230.2" stroke="#ababab" stroke-width="0.85"/><line x1="262.2" y1="224.6" x2="262.2" y2="230.2" stroke="#ababab" stroke-width="0.85"/><line x1="268.6" y1="224.6" x2="268.6" y2="230.2" stroke="#ababab" stroke-width="0.85"/><line x1="275.0" y1="224.6" x2="275.0" y2="230.2" stroke="#ababab" stroke-width="0.85"/><line x1="281.4" y1="224.6" x2="281.4" y2="230.2" stroke="#ababab" stroke-width="0.85"/><line x1="287.8" y1="224.6" x2="287.8" y2="230.2" stroke="#ababab" stroke-width="0.85"/><circle cx="294.1" cy="227.4" r="0.5" fill="#222"/><line x1="300.5" y1="224.6" x2="300.5" y2="230.2" stroke="#ababab" stroke-width="0.85"/><circle cx="306.9" cy="227.4" r="0.5" fill="#222"/><line x1="338.9" y1="224.6" x2="338.9" y2="230.2" stroke="#ababab" stroke-width="0.85"/><line x1="345.3" y1="224.6" x2="345.3" y2="230.2" stroke="#ababab" stroke-width="0.85"/><line x1="351.6" y1="224.6" x2="351.6" y2="230.2" stroke="#ababab" stroke-width="0.85"/><line x1="358.0" y1="224.6" x2="358.0" y2="230.2" stroke="#ababab" stroke-width="0.85"/><line x1="364.4" y1="224.6" x2="364.4" y2="230.2" stroke="#ababab" stroke-width="0.85"/><line x1="370.8" y1="224.6" x2="370.8" y2="230.2" stroke="#ababab" stroke-width="0.85"/><line x1="377.2" y1="224.6" x2="377.2" y2="230.2" stroke="#ababab" stroke-width="0.85"/><path d="M251.1,221.8 L255.8,221.8 L262.2,221.8 L268.6,221.8 L275.0,221.8 L281.4,221.8 L287.8,221.8 L294.1,221.8 L300.5,221.8 L306.9,221.8 L338.9,221.8 L345.3,221.8 L351.6,221.8 L358.0,221.8 L364.4,221.8 L370.8,221.8 L377.2,221.8 L383.4,220.2 " fill="none" stroke="#9a9a9a" stroke-width="0.7"/><path d="M251.1,233.0 L255.8,233.0 L262.2,233.0 L268.6,233.0 L275.0,233.0 L281.4,233.0 L287.8,233.0 L294.1,233.0 L300.5,233.0 L306.9,233.0 L338.9,233.0 L345.3,233.0 L351.6,233.0 L358.0,233.0 L364.4,233.0 L370.8,233.0 L377.2,233.0 L383.4,234.3 " fill="none" stroke="#6a6a6a" stroke-width="0.7"/><line x1="383.4" y1="220.2" x2="388.1" y2="224.1" stroke="#6a6a6a" stroke-width="0.7"/><line x1="388.1" y1="224.1" x2="388.2" y2="230.4" stroke="#6a6a6a" stroke-width="0.7"/><line x1="388.2" y1="230.4" x2="383.4" y2="234.3" stroke="#6a6a6a" stroke-width="0.7"/><use href="#rG280" x="255.8" y="221.8"/><use href="#rA280" x="262.2" y="221.8"/><use href="#rA280" x="268.6" y="221.8"/><use href="#rU280" x="275.0" y="221.8"/><use href="#rU280" x="281.4" y="221.8"/><use href="#tG280" x="287.8" y="221.8"/><use href="#tU280" x="294.1" y="221.8"/><use href="#tC280" x="300.5" y="221.8"/><use href="#tA280" x="306.9" y="221.8"/><use href="#tA280" x="338.9" y="221.8"/><use href="#oU280" x="345.3" y="221.8"/><use href="#oC280" x="351.6" y="221.8"/><use href="#oG280" x="358.0" y="221.8"/><use href="#oU280" x="364.4" y="221.8"/><use href="#tG280" x="370.8" y="221.8"/><use href="#tC280" x="377.2" y="221.8"/><use href="#rC280" x="255.8" y="233.0"/><use href="#rU280" x="262.2" y="233.0"/><use href="#rU280" x="268.6" y="233.0"/><use href="#rA280" x="275.0" y="233.0"/><use href="#rA280" x="281.4" y="233.0"/><use href="#tC280" x="287.8" y="233.0"/><use href="#tG280" x="294.1" y="233.0"/><use href="#tG280" x="300.5" y="233.0"/><use href="#tG280" x="306.9" y="233.0"/><use href="#tU280" x="338.9" y="233.0"/><use href="#oA280" x="345.3" y="233.0"/><use href="#oG280" x="351.6" y="233.0"/><use href="#oC280" x="358.0" y="233.0"/><use href="#oA280" x="364.4" y="233.0"/><use href="#tC280" x="370.8" y="233.0"/><use href="#tG280" x="377.2" y="233.0"/><use href="#tC280" x="383.4" y="220.2"/><use href="#tA280" x="388.1" y="224.1"/><use href="#tA280" x="388.2" y="230.4"/><use href="#tU280" x="383.4" y="234.3"/><text x="227.0" y="231.2" font-size="8.8" text-anchor="middle" font-weight="normal" font-style="normal" fill="#222" >Del3.7</text><line x1="255.8" y1="250.3" x2="255.8" y2="255.9" stroke="#ababab" stroke-width="0.85"/><line x1="262.2" y1="250.3" x2="262.2" y2="255.9" stroke="#ababab" stroke-width="0.85"/><line x1="268.6" y1="250.3" x2="268.6" y2="255.9" stroke="#ababab" stroke-width="0.85"/><line x1="275.0" y1="250.3" x2="275.0" y2="255.9" stroke="#ababab" stroke-width="0.85"/><line x1="281.4" y1="250.3" x2="281.4" y2="255.9" stroke="#ababab" stroke-width="0.85"/><line x1="287.8" y1="250.3" x2="287.8" y2="255.9" stroke="#ababab" stroke-width="0.85"/><circle cx="294.1" cy="253.1" r="0.5" fill="#222"/><line x1="300.5" y1="250.3" x2="300.5" y2="255.9" stroke="#ababab" stroke-width="0.85"/><line x1="332.5" y1="250.3" x2="332.5" y2="255.9" stroke="#ababab" stroke-width="0.85"/><line x1="338.9" y1="250.3" x2="338.9" y2="255.9" stroke="#ababab" stroke-width="0.85"/><line x1="345.3" y1="250.3" x2="345.3" y2="255.9" stroke="#ababab" stroke-width="0.85"/><line x1="351.6" y1="250.3" x2="351.6" y2="255.9" stroke="#ababab" stroke-width="0.85"/><line x1="358.0" y1="250.3" x2="358.0" y2="255.9" stroke="#ababab" stroke-width="0.85"/><line x1="364.4" y1="250.3" x2="364.4" y2="255.9" stroke="#ababab" stroke-width="0.85"/><line x1="370.8" y1="250.3" x2="370.8" y2="255.9" stroke="#ababab" stroke-width="0.85"/><line x1="377.2" y1="250.3" x2="377.2" y2="255.9" stroke="#ababab" stroke-width="0.85"/><path d="M251.1,247.5 L255.8,247.5 L262.2,247.5 L268.6,247.5 L275.0,247.5 L281.4,247.5 L287.8,247.5 L294.1,247.5 L300.5,247.5 L332.5,247.5 L338.9,247.5 L345.3,247.5 L351.6,247.5 L358.0,247.5 L364.4,247.5 L370.8,247.5 L377.2,247.5 L383.4,245.9 " fill="none" stroke="#9a9a9a" stroke-width="0.7"/><path d="M251.1,258.7 L255.8,258.7 L262.2,258.7 L268.6,258.7 L275.0,258.7 L281.4,258.7 L287.8,258.7 L294.1,258.7 L300.5,258.7 L332.5,258.7 L338.9,258.7 L345.3,258.7 L351.6,258.7 L358.0,258.7 L364.4,258.7 L370.8,258.7 L377.2,258.7 L383.4,260.0 " fill="none" stroke="#6a6a6a" stroke-width="0.7"/><line x1="383.4" y1="245.9" x2="388.1" y2="249.8" stroke="#6a6a6a" stroke-width="0.7"/><line x1="388.1" y1="249.8" x2="388.2" y2="256.1" stroke="#6a6a6a" stroke-width="0.7"/><line x1="388.2" y1="256.1" x2="383.4" y2="260.0" stroke="#6a6a6a" stroke-width="0.7"/><use href="#rG280" x="255.8" y="247.5"/><use href="#rA280" x="262.2" y="247.5"/><use href="#rA280" x="268.6" y="247.5"/><use href="#rU280" x="275.0" y="247.5"/><use href="#rU280" x="281.4" y="247.5"/><use href="#tG280" x="287.8" y="247.5"/><use href="#tU280" x="294.1" y="247.5"/><use href="#tC280" x="300.5" y="247.5"/><use href="#tG280" x="332.5" y="247.5"/><use href="#tA280" x="338.9" y="247.5"/><use href="#oU280" x="345.3" y="247.5"/><use href="#oC280" x="351.6" y="247.5"/><use href="#oG280" x="358.0" y="247.5"/><use href="#oU280" x="364.4" y="247.5"/><use href="#tG280" x="370.8" y="247.5"/><use href="#tC280" x="377.2" y="247.5"/><use href="#rC280" x="255.8" y="258.7"/><use href="#rU280" x="262.2" y="258.7"/><use href="#rU280" x="268.6" y="258.7"/><use href="#rA280" x="275.0" y="258.7"/><use href="#rA280" x="281.4" y="258.7"/><use href="#tC280" x="287.8" y="258.7"/><use href="#tG280" x="294.1" y="258.7"/><use href="#tG280" x="300.5" y="258.7"/><use href="#tC280" x="332.5" y="258.7"/><use href="#tU280" x="338.9" y="258.7"/><use href="#oA280" x="345.3" y="258.7"/><use href="#oG280" x="351.6" y="258.7"/><use href="#oC280" x="358.0" y="258.7"/><use href="#oA280" x="364.4" y="258.7"/><use href="#tC280" x="370.8" y="258.7"/><use href="#tG280" x="377.2" y="258.7"/><use href="#tC280" x="383.4" y="245.9"/><use href="#tA280" x="388.1" y="249.8"/><use href="#tA280" x="388.2" y="256.1"/><use href="#tU280" x="383.4" y="260.0"/><text x="227.0" y="256.9" font-size="8.8" text-anchor="middle" font-weight="normal" font-style="normal" fill="#222" >Del3.8</text><line x1="255.8" y1="276.1" x2="255.8" y2="281.7" stroke="#ababab" stroke-width="0.85"/><line x1="262.2" y1="276.1" x2="262.2" y2="281.7" stroke="#ababab" stroke-width="0.85"/><line x1="268.6" y1="276.1" x2="268.6" y2="281.7" stroke="#ababab" stroke-width="0.85"/><line x1="275.0" y1="276.1" x2="275.0" y2="281.7" stroke="#ababab" stroke-width="0.85"/><line x1="281.4" y1="276.1" x2="281.4" y2="281.7" stroke="#ababab" stroke-width="0.85"/><line x1="287.8" y1="276.1" x2="287.8" y2="281.7" stroke="#ababab" stroke-width="0.85"/><circle cx="294.1" cy="278.9" r="0.5" fill="#222"/><line x1="326.1" y1="276.1" x2="326.1" y2="281.7" stroke="#ababab" stroke-width="0.85"/><line x1="332.5" y1="276.1" x2="332.5" y2="281.7" stroke="#ababab" stroke-width="0.85"/><line x1="338.9" y1="276.1" x2="338.9" y2="281.7" stroke="#ababab" stroke-width="0.85"/><line x1="345.3" y1="276.1" x2="345.3" y2="281.7" stroke="#ababab" stroke-width="0.85"/><line x1="351.6" y1="276.1" x2="351.6" y2="281.7" stroke="#ababab" stroke-width="0.85"/><line x1="358.0" y1="276.1" x2="358.0" y2="281.7" stroke="#ababab" stroke-width="0.85"/><line x1="364.4" y1="276.1" x2="364.4" y2="281.7" stroke="#ababab" stroke-width="0.85"/><line x1="370.8" y1="276.1" x2="370.8" y2="281.7" stroke="#ababab" stroke-width="0.85"/><line x1="377.2" y1="276.1" x2="377.2" y2="281.7" stroke="#ababab" stroke-width="0.85"/><path d="M251.1,273.3 L255.8,273.3 L262.2,273.3 L268.6,273.3 L275.0,273.3 L281.4,273.3 L287.8,273.3 L294.1,273.3 L326.1,273.3 L332.5,273.3 L338.9,273.3 L345.3,273.3 L351.6,273.3 L358.0,273.3 L364.4,273.3 L370.8,273.3 L377.2,273.3 L383.4,271.7 " fill="none" stroke="#9a9a9a" stroke-width="0.7"/><path d="M251.1,284.5 L255.8,284.5 L262.2,284.5 L268.6,284.5 L275.0,284.5 L281.4,284.5 L287.8,284.5 L294.1,284.5 L326.1,284.5 L332.5,284.5 L338.9,284.5 L345.3,284.5 L351.6,284.5 L358.0,284.5 L364.4,284.5 L370.8,284.5 L377.2,284.5 L383.4,285.8 " fill="none" stroke="#6a6a6a" stroke-width="0.7"/><line x1="383.4" y1="271.7" x2="388.1" y2="275.6" stroke="#6a6a6a" stroke-width="0.7"/><line x1="388.1" y1="275.6" x2="388.2" y2="281.9" stroke="#6a6a6a" stroke-width="0.7"/><line x1="388.2" y1="281.9" x2="383.4" y2="285.8" stroke="#6a6a6a" stroke-width="0.7"/><use href="#rG280" x="255.8" y="273.3"/><use href="#rA280" x="262.2" y="273.3"/><use href="#rA280" x="268.6" y="273.3"/><use href="#rU280" x="275.0" y="273.3"/><use href="#rU280" x="281.4" y="273.3"/><use href="#tG280" x="287.8" y="273.3"/><use href="#tU280" x="294.1" y="273.3"/><use href="#tA280" x="326.1" y="273.3"/><use href="#tG280" x="332.5" y="273.3"/><use href="#tA280" x="338.9" y="273.3"/><use href="#oU280" x="345.3" y="273.3"/><use href="#oC280" x="351.6" y="273.3"/><use href="#oG280" x="358.0" y="273.3"/><use href="#oU280" x="364.4" y="273.3"/><use href="#tG280" x="370.8" y="273.3"/><use href="#tC280" x="377.2" y="273.3"/><use href="#rC280" x="255.8" y="284.5"/><use href="#rU280" x="262.2" y="284.5"/><use href="#rU280" x="268.6" y="284.5"/><use href="#rA280" x="275.0" y="284.5"/><use href="#rA280" x="281.4" y="284.5"/><use href="#tC280" x="287.8" y="284.5"/><use href="#tG280" x="294.1" y="284.5"/><use href="#tU280" x="326.1" y="284.5"/><use href="#tC280" x="332.5" y="284.5"/><use href="#tU280" x="338.9" y="284.5"/><use href="#oA280" x="345.3" y="284.5"/><use href="#oG280" x="351.6" y="284.5"/><use href="#oC280" x="358.0" y="284.5"/><use href="#oA280" x="364.4" y="284.5"/><use href="#tC280" x="370.8" y="284.5"/><use href="#tG280" x="377.2" y="284.5"/><use href="#tC280" x="383.4" y="271.7"/><use href="#tA280" x="388.1" y="275.6"/><use href="#tA280" x="388.2" y="281.9"/><use href="#tU280" x="383.4" y="285.8"/><text x="227.0" y="282.7" font-size="8.8" text-anchor="middle" font-weight="normal" font-style="normal" fill="#222" >Del3.9</text><line x1="255.8" y1="301.9" x2="255.8" y2="307.5" stroke="#ababab" stroke-width="0.85"/><line x1="262.2" y1="301.9" x2="262.2" y2="307.5" stroke="#ababab" stroke-width="0.85"/><line x1="268.6" y1="301.9" x2="268.6" y2="307.5" stroke="#ababab" stroke-width="0.85"/><line x1="275.0" y1="301.9" x2="275.0" y2="307.5" stroke="#ababab" stroke-width="0.85"/><line x1="281.4" y1="301.9" x2="281.4" y2="307.5" stroke="#ababab" stroke-width="0.85"/><line x1="287.8" y1="301.9" x2="287.8" y2="307.5" stroke="#ababab" stroke-width="0.85"/><line x1="313.3" y1="301.9" x2="313.3" y2="307.5" stroke="#ababab" stroke-width="0.85"/><line x1="326.1" y1="301.9" x2="326.1" y2="307.5" stroke="#ababab" stroke-width="0.85"/><line x1="332.5" y1="301.9" x2="332.5" y2="307.5" stroke="#ababab" stroke-width="0.85"/><line x1="338.9" y1="301.9" x2="338.9" y2="307.5" stroke="#ababab" stroke-width="0.85"/><line x1="345.3" y1="301.9" x2="345.3" y2="307.5" stroke="#ababab" stroke-width="0.85"/><line x1="351.6" y1="301.9" x2="351.6" y2="307.5" stroke="#ababab" stroke-width="0.85"/><line x1="358.0" y1="301.9" x2="358.0" y2="307.5" stroke="#ababab" stroke-width="0.85"/><line x1="364.4" y1="301.9" x2="364.4" y2="307.5" stroke="#ababab" stroke-width="0.85"/><line x1="370.8" y1="301.9" x2="370.8" y2="307.5" stroke="#ababab" stroke-width="0.85"/><line x1="377.2" y1="301.9" x2="377.2" y2="307.5" stroke="#ababab" stroke-width="0.85"/><path d="M251.1,299.1 L255.8,299.1 L262.2,299.1 L268.6,299.1 L275.0,299.1 L281.4,299.1 L287.8,299.1 L313.3,299.1 L326.1,299.1 L332.5,299.1 L338.9,299.1 L345.3,299.1 L351.6,299.1 L358.0,299.1 L364.4,299.1 L370.8,299.1 L377.2,299.1 L383.4,297.5 " fill="none" stroke="#9a9a9a" stroke-width="0.7"/><path d="M251.1,310.3 L255.8,310.3 L262.2,310.3 L268.6,310.3 L275.0,310.3 L281.4,310.3 L287.8,310.3 L313.3,310.3 L319.7,310.3 L326.1,310.3 L332.5,310.3 L338.9,310.3 L345.3,310.3 L351.6,310.3 L358.0,310.3 L364.4,310.3 L370.8,310.3 L377.2,310.3 L383.4,311.6 " fill="none" stroke="#6a6a6a" stroke-width="0.7"/><line x1="383.4" y1="297.5" x2="388.1" y2="301.4" stroke="#6a6a6a" stroke-width="0.7"/><line x1="388.1" y1="301.4" x2="388.2" y2="307.7" stroke="#6a6a6a" stroke-width="0.7"/><line x1="388.2" y1="307.7" x2="383.4" y2="311.6" stroke="#6a6a6a" stroke-width="0.7"/><use href="#rG280" x="255.8" y="299.1"/><use href="#rA280" x="262.2" y="299.1"/><use href="#rA280" x="268.6" y="299.1"/><use href="#rU280" x="275.0" y="299.1"/><use href="#rU280" x="281.4" y="299.1"/><use href="#tG280" x="287.8" y="299.1"/><use href="#tC280" x="313.3" y="299.1"/><use href="#tA280" x="326.1" y="299.1"/><use href="#tG280" x="332.5" y="299.1"/><use href="#tA280" x="338.9" y="299.1"/><use href="#oU280" x="345.3" y="299.1"/><use href="#oC280" x="351.6" y="299.1"/><use href="#oG280" x="358.0" y="299.1"/><use href="#oU280" x="364.4" y="299.1"/><use href="#tG280" x="370.8" y="299.1"/><use href="#tC280" x="377.2" y="299.1"/><use href="#rC280" x="255.8" y="310.3"/><use href="#rU280" x="262.2" y="310.3"/><use href="#rU280" x="268.6" y="310.3"/><use href="#rA280" x="275.0" y="310.3"/><use href="#rA280" x="281.4" y="310.3"/><use href="#tC280" x="287.8" y="310.3"/><use href="#tG280" x="313.3" y="310.3"/><use href="#tG280" x="319.7" y="310.3"/><use href="#tU280" x="326.1" y="310.3"/><use href="#tC280" x="332.5" y="310.3"/><use href="#tU280" x="338.9" y="310.3"/><use href="#oA280" x="345.3" y="310.3"/><use href="#oG280" x="351.6" y="310.3"/><use href="#oC280" x="358.0" y="310.3"/><use href="#oA280" x="364.4" y="310.3"/><use href="#tC280" x="370.8" y="310.3"/><use href="#tG280" x="377.2" y="310.3"/><use href="#tC280" x="383.4" y="297.5"/><use href="#tA280" x="388.1" y="301.4"/><use href="#tA280" x="388.2" y="307.7"/><use href="#tU280" x="383.4" y="311.6"/><text x="227.0" y="308.5" font-size="8.8" text-anchor="middle" font-weight="normal" font-style="normal" fill="#222" >Del3.10</text><line x1="255.8" y1="327.6" x2="255.8" y2="333.2" stroke="#ababab" stroke-width="0.85"/><line x1="262.2" y1="327.6" x2="262.2" y2="333.2" stroke="#ababab" stroke-width="0.85"/><line x1="268.6" y1="327.6" x2="268.6" y2="333.2" stroke="#ababab" stroke-width="0.85"/><line x1="275.0" y1="327.6" x2="275.0" y2="333.2" stroke="#ababab" stroke-width="0.85"/><line x1="281.4" y1="327.6" x2="281.4" y2="333.2" stroke="#ababab" stroke-width="0.85"/><circle cx="306.9" cy="330.4" r="0.5" fill="#222"/><line x1="313.3" y1="327.6" x2="313.3" y2="333.2" stroke="#ababab" stroke-width="0.85"/><line x1="326.1" y1="327.6" x2="326.1" y2="333.2" stroke="#ababab" stroke-width="0.85"/><line x1="332.5" y1="327.6" x2="332.5" y2="333.2" stroke="#ababab" stroke-width="0.85"/><line x1="338.9" y1="327.6" x2="338.9" y2="333.2" stroke="#ababab" stroke-width="0.85"/><line x1="345.3" y1="327.6" x2="345.3" y2="333.2" stroke="#ababab" stroke-width="0.85"/><line x1="351.6" y1="327.6" x2="351.6" y2="333.2" stroke="#ababab" stroke-width="0.85"/><line x1="358.0" y1="327.6" x2="358.0" y2="333.2" stroke="#ababab" stroke-width="0.85"/><line x1="364.4" y1="327.6" x2="364.4" y2="333.2" stroke="#ababab" stroke-width="0.85"/><line x1="370.8" y1="327.6" x2="370.8" y2="333.2" stroke="#ababab" stroke-width="0.85"/><line x1="377.2" y1="327.6" x2="377.2" y2="333.2" stroke="#ababab" stroke-width="0.85"/><path d="M251.1,324.8 L255.8,324.8 L262.2,324.8 L268.6,324.8 L275.0,324.8 L281.4,324.8 L306.9,324.8 L313.3,324.8 L326.1,324.8 L332.5,324.8 L338.9,324.8 L345.3,324.8 L351.6,324.8 L358.0,324.8 L364.4,324.8 L370.8,324.8 L377.2,324.8 L383.4,323.2 " fill="none" stroke="#9a9a9a" stroke-width="0.7"/><path d="M251.1,336.0 L255.8,336.0 L262.2,336.0 L268.6,336.0 L275.0,336.0 L281.4,336.0 L306.9,336.0 L313.3,336.0 L319.7,336.0 L326.1,336.0 L332.5,336.0 L338.9,336.0 L345.3,336.0 L351.6,336.0 L358.0,336.0 L364.4,336.0 L370.8,336.0 L377.2,336.0 L383.4,337.3 " fill="none" stroke="#6a6a6a" stroke-width="0.7"/><line x1="383.4" y1="323.2" x2="388.1" y2="327.1" stroke="#6a6a6a" stroke-width="0.7"/><line x1="388.1" y1="327.1" x2="388.2" y2="333.4" stroke="#6a6a6a" stroke-width="0.7"/><line x1="388.2" y1="333.4" x2="383.4" y2="337.3" stroke="#6a6a6a" stroke-width="0.7"/><use href="#rG280" x="255.8" y="324.8"/><use href="#rA280" x="262.2" y="324.8"/><use href="#rA280" x="268.6" y="324.8"/><use href="#rU280" x="275.0" y="324.8"/><use href="#rU280" x="281.4" y="324.8"/><use href="#tA280" x="306.9" y="324.8"/><use href="#tC280" x="313.3" y="324.8"/><use href="#tA280" x="326.1" y="324.8"/><use href="#tG280" x="332.5" y="324.8"/><use href="#tA280" x="338.9" y="324.8"/><use href="#oU280" x="345.3" y="324.8"/><use href="#oC280" x="351.6" y="324.8"/><use href="#oG280" x="358.0" y="324.8"/><use href="#oU280" x="364.4" y="324.8"/><use href="#tG280" x="370.8" y="324.8"/><use href="#tC280" x="377.2" y="324.8"/><use href="#rC280" x="255.8" y="336.0"/><use href="#rU280" x="262.2" y="336.0"/><use href="#rU280" x="268.6" y="336.0"/><use href="#rA280" x="275.0" y="336.0"/><use href="#rA280" x="281.4" y="336.0"/><use href="#tG280" x="306.9" y="336.0"/><use href="#tG280" x="313.3" y="336.0"/><use href="#tG280" x="319.7" y="336.0"/><use href="#tU280" x="326.1" y="336.0"/><use href="#tC280" x="332.5" y="336.0"/><use href="#tU280" x="338.9" y="336.0"/><use href="#oA280" x="345.3" y="336.0"/><use href="#oG280" x="351.6" y="336.0"/><use href="#oC280" x="358.0" y="336.0"/><use href="#oA280" x="364.4" y="336.0"/><use href="#tC280" x="370.8" y="336.0"/><use href="#tG280" x="377.2" y="336.0"/><use href="#tC280" x="383.4" y="323.2"/><use href="#tA280" x="388.1" y="327.1"/><use href="#tA280" x="388.2" y="333.4"/><use href="#tU280" x="383.4" y="337.3"/><text x="227.0" y="334.2" font-size="8.8" text-anchor="middle" font-weight="normal" font-style="normal" fill="#222" >Del3.11</text><line x1="255.8" y1="353.4" x2="255.8" y2="359.0" stroke="#ababab" stroke-width="0.85"/><line x1="262.2" y1="353.4" x2="262.2" y2="359.0" stroke="#ababab" stroke-width="0.85"/><line x1="268.6" y1="353.4" x2="268.6" y2="359.0" stroke="#ababab" stroke-width="0.85"/><line x1="275.0" y1="353.4" x2="275.0" y2="359.0" stroke="#ababab" stroke-width="0.85"/><line x1="300.5" y1="353.4" x2="300.5" y2="359.0" stroke="#ababab" stroke-width="0.85"/><circle cx="306.9" cy="356.2" r="0.5" fill="#222"/><line x1="313.3" y1="353.4" x2="313.3" y2="359.0" stroke="#ababab" stroke-width="0.85"/><line x1="326.1" y1="353.4" x2="326.1" y2="359.0" stroke="#ababab" stroke-width="0.85"/><line x1="332.5" y1="353.4" x2="332.5" y2="359.0" stroke="#ababab" stroke-width="0.85"/><line x1="338.9" y1="353.4" x2="338.9" y2="359.0" stroke="#ababab" stroke-width="0.85"/><line x1="345.3" y1="353.4" x2="345.3" y2="359.0" stroke="#ababab" stroke-width="0.85"/><line x1="351.6" y1="353.4" x2="351.6" y2="359.0" stroke="#ababab" stroke-width="0.85"/><line x1="358.0" y1="353.4" x2="358.0" y2="359.0" stroke="#ababab" stroke-width="0.85"/><line x1="364.4" y1="353.4" x2="364.4" y2="359.0" stroke="#ababab" stroke-width="0.85"/><line x1="370.8" y1="353.4" x2="370.8" y2="359.0" stroke="#ababab" stroke-width="0.85"/><line x1="377.2" y1="353.4" x2="377.2" y2="359.0" stroke="#ababab" stroke-width="0.85"/><path d="M251.1,350.6 L255.8,350.6 L262.2,350.6 L268.6,350.6 L275.0,350.6 L300.5,350.6 L306.9,350.6 L313.3,350.6 L326.1,350.6 L332.5,350.6 L338.9,350.6 L345.3,350.6 L351.6,350.6 L358.0,350.6 L364.4,350.6 L370.8,350.6 L377.2,350.6 L383.4,349.0 " fill="none" stroke="#9a9a9a" stroke-width="0.7"/><path d="M251.1,361.8 L255.8,361.8 L262.2,361.8 L268.6,361.8 L275.0,361.8 L300.5,361.8 L306.9,361.8 L313.3,361.8 L319.7,361.8 L326.1,361.8 L332.5,361.8 L338.9,361.8 L345.3,361.8 L351.6,361.8 L358.0,361.8 L364.4,361.8 L370.8,361.8 L377.2,361.8 L383.4,363.1 " fill="none" stroke="#6a6a6a" stroke-width="0.7"/><line x1="383.4" y1="349.0" x2="388.1" y2="352.9" stroke="#6a6a6a" stroke-width="0.7"/><line x1="388.1" y1="352.9" x2="388.2" y2="359.2" stroke="#6a6a6a" stroke-width="0.7"/><line x1="388.2" y1="359.2" x2="383.4" y2="363.1" stroke="#6a6a6a" stroke-width="0.7"/><use href="#rG280" x="255.8" y="350.6"/><use href="#rA280" x="262.2" y="350.6"/><use href="#rA280" x="268.6" y="350.6"/><use href="#rU280" x="275.0" y="350.6"/><use href="#tC280" x="300.5" y="350.6"/><use href="#tA280" x="306.9" y="350.6"/><use href="#tC280" x="313.3" y="350.6"/><use href="#tA280" x="326.1" y="350.6"/><use href="#tG280" x="332.5" y="350.6"/><use href="#tA280" x="338.9" y="350.6"/><use href="#oU280" x="345.3" y="350.6"/><use href="#oC280" x="351.6" y="350.6"/><use href="#oG280" x="358.0" y="350.6"/><use href="#oU280" x="364.4" y="350.6"/><use href="#tG280" x="370.8" y="350.6"/><use href="#tC280" x="377.2" y="350.6"/><use href="#rC280" x="255.8" y="361.8"/><use href="#rU280" x="262.2" y="361.8"/><use href="#rU280" x="268.6" y="361.8"/><use href="#rA280" x="275.0" y="361.8"/><use href="#tG280" x="300.5" y="361.8"/><use href="#tG280" x="306.9" y="361.8"/><use href="#tG280" x="313.3" y="361.8"/><use href="#tG280" x="319.7" y="361.8"/><use href="#tU280" x="326.1" y="361.8"/><use href="#tC280" x="332.5" y="361.8"/><use href="#tU280" x="338.9" y="361.8"/><use href="#oA280" x="345.3" y="361.8"/><use href="#oG280" x="351.6" y="361.8"/><use href="#oC280" x="358.0" y="361.8"/><use href="#oA280" x="364.4" y="361.8"/><use href="#tC280" x="370.8" y="361.8"/><use href="#tG280" x="377.2" y="361.8"/><use href="#tC280" x="383.4" y="349.0"/><use href="#tA280" x="388.1" y="352.9"/><use href="#tA280" x="388.2" y="359.2"/><use href="#tU280" x="383.4" y="363.1"/><text x="227.0" y="360.0" font-size="8.8" text-anchor="middle" font-weight="normal" font-style="normal" fill="#222" >Del3.12</text><line x1="255.8" y1="379.2" x2="255.8" y2="384.8" stroke="#ababab" stroke-width="0.85"/><line x1="262.2" y1="379.2" x2="262.2" y2="384.8" stroke="#ababab" stroke-width="0.85"/><line x1="268.6" y1="379.2" x2="268.6" y2="384.8" stroke="#ababab" stroke-width="0.85"/><circle cx="294.1" cy="382.0" r="0.5" fill="#222"/><line x1="300.5" y1="379.2" x2="300.5" y2="384.8" stroke="#ababab" stroke-width="0.85"/><circle cx="306.9" cy="382.0" r="0.5" fill="#222"/><line x1="313.3" y1="379.2" x2="313.3" y2="384.8" stroke="#ababab" stroke-width="0.85"/><line x1="326.1" y1="379.2" x2="326.1" y2="384.8" stroke="#ababab" stroke-width="0.85"/><line x1="332.5" y1="379.2" x2="332.5" y2="384.8" stroke="#ababab" stroke-width="0.85"/><line x1="338.9" y1="379.2" x2="338.9" y2="384.8" stroke="#ababab" stroke-width="0.85"/><line x1="345.3" y1="379.2" x2="345.3" y2="384.8" stroke="#ababab" stroke-width="0.85"/><line x1="351.6" y1="379.2" x2="351.6" y2="384.8" stroke="#ababab" stroke-width="0.85"/><line x1="358.0" y1="379.2" x2="358.0" y2="384.8" stroke="#ababab" stroke-width="0.85"/><line x1="364.4" y1="379.2" x2="364.4" y2="384.8" stroke="#ababab" stroke-width="0.85"/><line x1="370.8" y1="379.2" x2="370.8" y2="384.8" stroke="#ababab" stroke-width="0.85"/><line x1="377.2" y1="379.2" x2="377.2" y2="384.8" stroke="#ababab" stroke-width="0.85"/><path d="M251.1,376.4 L255.8,376.4 L262.2,376.4 L268.6,376.4 L294.1,376.4 L300.5,376.4 L306.9,376.4 L313.3,376.4 L326.1,376.4 L332.5,376.4 L338.9,376.4 L345.3,376.4 L351.6,376.4 L358.0,376.4 L364.4,376.4 L370.8,376.4 L377.2,376.4 L383.4,374.8 " fill="none" stroke="#9a9a9a" stroke-width="0.7"/><path d="M251.1,387.6 L255.8,387.6 L262.2,387.6 L268.6,387.6 L294.1,387.6 L300.5,387.6 L306.9,387.6 L313.3,387.6 L319.7,387.6 L326.1,387.6 L332.5,387.6 L338.9,387.6 L345.3,387.6 L351.6,387.6 L358.0,387.6 L364.4,387.6 L370.8,387.6 L377.2,387.6 L383.4,388.9 " fill="none" stroke="#6a6a6a" stroke-width="0.7"/><line x1="383.4" y1="374.8" x2="388.1" y2="378.7" stroke="#6a6a6a" stroke-width="0.7"/><line x1="388.1" y1="378.7" x2="388.2" y2="385.0" stroke="#6a6a6a" stroke-width="0.7"/><line x1="388.2" y1="385.0" x2="383.4" y2="388.9" stroke="#6a6a6a" stroke-width="0.7"/><use href="#rG280" x="255.8" y="376.4"/><use href="#rA280" x="262.2" y="376.4"/><use href="#rA280" x="268.6" y="376.4"/><use href="#tU280" x="294.1" y="376.4"/><use href="#tC280" x="300.5" y="376.4"/><use href="#tA280" x="306.9" y="376.4"/><use href="#tC280" x="313.3" y="376.4"/><use href="#tA280" x="326.1" y="376.4"/><use href="#tG280" x="332.5" y="376.4"/><use href="#tA280" x="338.9" y="376.4"/><use href="#oU280" x="345.3" y="376.4"/><use href="#oC280" x="351.6" y="376.4"/><use href="#oG280" x="358.0" y="376.4"/><use href="#oU280" x="364.4" y="376.4"/><use href="#tG280" x="370.8" y="376.4"/><use href="#tC280" x="377.2" y="376.4"/><use href="#rC280" x="255.8" y="387.6"/><use href="#rU280" x="262.2" y="387.6"/><use href="#rU280" x="268.6" y="387.6"/><use href="#tG280" x="294.1" y="387.6"/><use href="#tG280" x="300.5" y="387.6"/><use href="#tG280" x="306.9" y="387.6"/><use href="#tG280" x="313.3" y="387.6"/><use href="#tG280" x="319.7" y="387.6"/><use href="#tU280" x="326.1" y="387.6"/><use href="#tC280" x="332.5" y="387.6"/><use href="#tU280" x="338.9" y="387.6"/><use href="#oA280" x="345.3" y="387.6"/><use href="#oG280" x="351.6" y="387.6"/><use href="#oC280" x="358.0" y="387.6"/><use href="#oA280" x="364.4" y="387.6"/><use href="#tC280" x="370.8" y="387.6"/><use href="#tG280" x="377.2" y="387.6"/><use href="#tC280" x="383.4" y="374.8"/><use href="#tA280" x="388.1" y="378.7"/><use href="#tA280" x="388.2" y="385.0"/><use href="#tU280" x="383.4" y="388.9"/><text x="227.0" y="385.8" font-size="8.8" text-anchor="middle" font-weight="normal" font-style="normal" fill="#222" >Del3.13</text><line x1="255.8" y1="405.0" x2="255.8" y2="410.6" stroke="#ababab" stroke-width="0.85"/><line x1="262.2" y1="405.0" x2="262.2" y2="410.6" stroke="#ababab" stroke-width="0.85"/><line x1="287.8" y1="405.0" x2="287.8" y2="410.6" stroke="#ababab" stroke-width="0.85"/><circle cx="294.1" cy="407.8" r="0.5" fill="#222"/><line x1="300.5" y1="405.0" x2="300.5" y2="410.6" stroke="#ababab" stroke-width="0.85"/><circle cx="306.9" cy="407.8" r="0.5" fill="#222"/><line x1="313.3" y1="405.0" x2="313.3" y2="410.6" stroke="#ababab" stroke-width="0.85"/><line x1="326.1" y1="405.0" x2="326.1" y2="410.6" stroke="#ababab" stroke-width="0.85"/><line x1="332.5" y1="405.0" x2="332.5" y2="410.6" stroke="#ababab" stroke-width="0.85"/><line x1="338.9" y1="405.0" x2="338.9" y2="410.6" stroke="#ababab" stroke-width="0.85"/><line x1="345.3" y1="405.0" x2="345.3" y2="410.6" stroke="#ababab" stroke-width="0.85"/><line x1="351.6" y1="405.0" x2="351.6" y2="410.6" stroke="#ababab" stroke-width="0.85"/><line x1="358.0" y1="405.0" x2="358.0" y2="410.6" stroke="#ababab" stroke-width="0.85"/><line x1="364.4" y1="405.0" x2="364.4" y2="410.6" stroke="#ababab" stroke-width="0.85"/><line x1="370.8" y1="405.0" x2="370.8" y2="410.6" stroke="#ababab" stroke-width="0.85"/><line x1="377.2" y1="405.0" x2="377.2" y2="410.6" stroke="#ababab" stroke-width="0.85"/><path d="M251.1,402.2 L255.8,402.2 L262.2,402.2 L287.8,402.2 L294.1,402.2 L300.5,402.2 L306.9,402.2 L313.3,402.2 L326.1,402.2 L332.5,402.2 L338.9,402.2 L345.3,402.2 L351.6,402.2 L358.0,402.2 L364.4,402.2 L370.8,402.2 L377.2,402.2 L383.4,400.6 " fill="none" stroke="#9a9a9a" stroke-width="0.7"/><path d="M251.1,413.4 L255.8,413.4 L262.2,413.4 L287.8,413.4 L294.1,413.4 L300.5,413.4 L306.9,413.4 L313.3,413.4 L319.7,413.4 L326.1,413.4 L332.5,413.4 L338.9,413.4 L345.3,413.4 L351.6,413.4 L358.0,413.4 L364.4,413.4 L370.8,413.4 L377.2,413.4 L383.4,414.7 " fill="none" stroke="#6a6a6a" stroke-width="0.7"/><line x1="383.4" y1="400.6" x2="388.1" y2="404.5" stroke="#6a6a6a" stroke-width="0.7"/><line x1="388.1" y1="404.5" x2="388.2" y2="410.8" stroke="#6a6a6a" stroke-width="0.7"/><line x1="388.2" y1="410.8" x2="383.4" y2="414.7" stroke="#6a6a6a" stroke-width="0.7"/><use href="#rG280" x="255.8" y="402.2"/><use href="#rA280" x="262.2" y="402.2"/><use href="#tG280" x="287.8" y="402.2"/><use href="#tU280" x="294.1" y="402.2"/><use href="#tC280" x="300.5" y="402.2"/><use href="#tA280" x="306.9" y="402.2"/><use href="#tC280" x="313.3" y="402.2"/><use href="#tA280" x="326.1" y="402.2"/><use href="#tG280" x="332.5" y="402.2"/><use href="#tA280" x="338.9" y="402.2"/><use href="#oU280" x="345.3" y="402.2"/><use href="#oC280" x="351.6" y="402.2"/><use href="#oG280" x="358.0" y="402.2"/><use href="#oU280" x="364.4" y="402.2"/><use href="#tG280" x="370.8" y="402.2"/><use href="#tC280" x="377.2" y="402.2"/><use href="#rC280" x="255.8" y="413.4"/><use href="#rU280" x="262.2" y="413.4"/><use href="#tC280" x="287.8" y="413.4"/><use href="#tG280" x="294.1" y="413.4"/><use href="#tG280" x="300.5" y="413.4"/><use href="#tG280" x="306.9" y="413.4"/><use href="#tG280" x="313.3" y="413.4"/><use href="#tG280" x="319.7" y="413.4"/><use href="#tU280" x="326.1" y="413.4"/><use href="#tC280" x="332.5" y="413.4"/><use href="#tU280" x="338.9" y="413.4"/><use href="#oA280" x="345.3" y="413.4"/><use href="#oG280" x="351.6" y="413.4"/><use href="#oC280" x="358.0" y="413.4"/><use href="#oA280" x="364.4" y="413.4"/><use href="#tC280" x="370.8" y="413.4"/><use href="#tG280" x="377.2" y="413.4"/><use href="#tC280" x="383.4" y="400.6"/><use href="#tA280" x="388.1" y="404.5"/><use href="#tA280" x="388.2" y="410.8"/><use href="#tU280" x="383.4" y="414.7"/><text x="227.0" y="411.6" font-size="8.8" text-anchor="middle" font-weight="normal" font-style="normal" fill="#222" >Del3.14</text><line x1="255.8" y1="430.7" x2="255.8" y2="436.3" stroke="#ababab" stroke-width="0.85"/><line x1="281.4" y1="430.7" x2="281.4" y2="436.3" stroke="#ababab" stroke-width="0.85"/><line x1="287.8" y1="430.7" x2="287.8" y2="436.3" stroke="#ababab" stroke-width="0.85"/><circle cx="294.1" cy="433.5" r="0.5" fill="#222"/><line x1="300.5" y1="430.7" x2="300.5" y2="436.3" stroke="#ababab" stroke-width="0.85"/><circle cx="306.9" cy="433.5" r="0.5" fill="#222"/><line x1="313.3" y1="430.7" x2="313.3" y2="436.3" stroke="#ababab" stroke-width="0.85"/><line x1="326.1" y1="430.7" x2="326.1" y2="436.3" stroke="#ababab" stroke-width="0.85"/><line x1="332.5" y1="430.7" x2="332.5" y2="436.3" stroke="#ababab" stroke-width="0.85"/><line x1="338.9" y1="430.7" x2="338.9" y2="436.3" stroke="#ababab" stroke-width="0.85"/><line x1="345.3" y1="430.7" x2="345.3" y2="436.3" stroke="#ababab" stroke-width="0.85"/><line x1="351.6" y1="430.7" x2="351.6" y2="436.3" stroke="#ababab" stroke-width="0.85"/><line x1="358.0" y1="430.7" x2="358.0" y2="436.3" stroke="#ababab" stroke-width="0.85"/><line x1="364.4" y1="430.7" x2="364.4" y2="436.3" stroke="#ababab" stroke-width="0.85"/><line x1="370.8" y1="430.7" x2="370.8" y2="436.3" stroke="#ababab" stroke-width="0.85"/><line x1="377.2" y1="430.7" x2="377.2" y2="436.3" stroke="#ababab" stroke-width="0.85"/><path d="M251.1,427.9 L255.8,427.9 L281.4,427.9 L287.8,427.9 L294.1,427.9 L300.5,427.9 L306.9,427.9 L313.3,427.9 L326.1,427.9 L332.5,427.9 L338.9,427.9 L345.3,427.9 L351.6,427.9 L358.0,427.9 L364.4,427.9 L370.8,427.9 L377.2,427.9 L383.4,426.3 " fill="none" stroke="#9a9a9a" stroke-width="0.7"/><path d="M251.1,439.1 L255.8,439.1 L281.4,439.1 L287.8,439.1 L294.1,439.1 L300.5,439.1 L306.9,439.1 L313.3,439.1 L319.7,439.1 L326.1,439.1 L332.5,439.1 L338.9,439.1 L345.3,439.1 L351.6,439.1 L358.0,439.1 L364.4,439.1 L370.8,439.1 L377.2,439.1 L383.4,440.4 " fill="none" stroke="#6a6a6a" stroke-width="0.7"/><line x1="383.4" y1="426.3" x2="388.1" y2="430.2" stroke="#6a6a6a" stroke-width="0.7"/><line x1="388.1" y1="430.2" x2="388.2" y2="436.5" stroke="#6a6a6a" stroke-width="0.7"/><line x1="388.2" y1="436.5" x2="383.4" y2="440.4" stroke="#6a6a6a" stroke-width="0.7"/><use href="#rG280" x="255.8" y="427.9"/><use href="#rU280" x="281.4" y="427.9"/><use href="#tG280" x="287.8" y="427.9"/><use href="#tU280" x="294.1" y="427.9"/><use href="#tC280" x="300.5" y="427.9"/><use href="#tA280" x="306.9" y="427.9"/><use href="#tC280" x="313.3" y="427.9"/><use href="#tA280" x="326.1" y="427.9"/><use href="#tG280" x="332.5" y="427.9"/><use href="#tA280" x="338.9" y="427.9"/><use href="#oU280" x="345.3" y="427.9"/><use href="#oC280" x="351.6" y="427.9"/><use href="#oG280" x="358.0" y="427.9"/><use href="#oU280" x="364.4" y="427.9"/><use href="#tG280" x="370.8" y="427.9"/><use href="#tC280" x="377.2" y="427.9"/><use href="#rC280" x="255.8" y="439.1"/><use href="#rA280" x="281.4" y="439.1"/><use href="#tC280" x="287.8" y="439.1"/><use href="#tG280" x="294.1" y="439.1"/><use href="#tG280" x="300.5" y="439.1"/><use href="#tG280" x="306.9" y="439.1"/><use href="#tG280" x="313.3" y="439.1"/><use href="#tG280" x="319.7" y="439.1"/><use href="#tU280" x="326.1" y="439.1"/><use href="#tC280" x="332.5" y="439.1"/><use href="#tU280" x="338.9" y="439.1"/><use href="#oA280" x="345.3" y="439.1"/><use href="#oG280" x="351.6" y="439.1"/><use href="#oC280" x="358.0" y="439.1"/><use href="#oA280" x="364.4" y="439.1"/><use href="#tC280" x="370.8" y="439.1"/><use href="#tG280" x="377.2" y="439.1"/><use href="#tC280" x="383.4" y="426.3"/><use href="#tA280" x="388.1" y="430.2"/><use href="#tA280" x="388.2" y="436.5"/><use href="#tU280" x="383.4" y="440.4"/><text x="227.0" y="437.3" font-size="8.8" text-anchor="middle" font-weight="normal" font-style="normal" fill="#222" >Del3.15</text><line x1="275.0" y1="456.5" x2="275.0" y2="462.1" stroke="#ababab" stroke-width="0.85"/><line x1="281.4" y1="456.5" x2="281.4" y2="462.1" stroke="#ababab" stroke-width="0.85"/><line x1="287.8" y1="456.5" x2="287.8" y2="462.1" stroke="#ababab" stroke-width="0.85"/><circle cx="294.1" cy="459.3" r="0.5" fill="#222"/><line x1="300.5" y1="456.5" x2="300.5" y2="462.1" stroke="#ababab" stroke-width="0.85"/><circle cx="306.9" cy="459.3" r="0.5" fill="#222"/><line x1="313.3" y1="456.5" x2="313.3" y2="462.1" stroke="#ababab" stroke-width="0.85"/><line x1="326.1" y1="456.5" x2="326.1" y2="462.1" stroke="#ababab" stroke-width="0.85"/><line x1="332.5" y1="456.5" x2="332.5" y2="462.1" stroke="#ababab" stroke-width="0.85"/><line x1="338.9" y1="456.5" x2="338.9" y2="462.1" stroke="#ababab" stroke-width="0.85"/><line x1="345.3" y1="456.5" x2="345.3" y2="462.1" stroke="#ababab" stroke-width="0.85"/><line x1="351.6" y1="456.5" x2="351.6" y2="462.1" stroke="#ababab" stroke-width="0.85"/><line x1="358.0" y1="456.5" x2="358.0" y2="462.1" stroke="#ababab" stroke-width="0.85"/><line x1="364.4" y1="456.5" x2="364.4" y2="462.1" stroke="#ababab" stroke-width="0.85"/><line x1="370.8" y1="456.5" x2="370.8" y2="462.1" stroke="#ababab" stroke-width="0.85"/><line x1="377.2" y1="456.5" x2="377.2" y2="462.1" stroke="#ababab" stroke-width="0.85"/><path d="M251.1,453.7 L275.0,453.7 L281.4,453.7 L287.8,453.7 L294.1,453.7 L300.5,453.7 L306.9,453.7 L313.3,453.7 L326.1,453.7 L332.5,453.7 L338.9,453.7 L345.3,453.7 L351.6,453.7 L358.0,453.7 L364.4,453.7 L370.8,453.7 L377.2,453.7 L383.4,452.1 " fill="none" stroke="#9a9a9a" stroke-width="0.7"/><path d="M251.1,464.9 L275.0,464.9 L281.4,464.9 L287.8,464.9 L294.1,464.9 L300.5,464.9 L306.9,464.9 L313.3,464.9 L319.7,464.9 L326.1,464.9 L332.5,464.9 L338.9,464.9 L345.3,464.9 L351.6,464.9 L358.0,464.9 L364.4,464.9 L370.8,464.9 L377.2,464.9 L383.4,466.2 " fill="none" stroke="#6a6a6a" stroke-width="0.7"/><line x1="383.4" y1="452.1" x2="388.1" y2="456.0" stroke="#6a6a6a" stroke-width="0.7"/><line x1="388.1" y1="456.0" x2="388.2" y2="462.3" stroke="#6a6a6a" stroke-width="0.7"/><line x1="388.2" y1="462.3" x2="383.4" y2="466.2" stroke="#6a6a6a" stroke-width="0.7"/><use href="#rU280" x="275.0" y="453.7"/><use href="#rU280" x="281.4" y="453.7"/><use href="#tG280" x="287.8" y="453.7"/><use href="#tU280" x="294.1" y="453.7"/><use href="#tC280" x="300.5" y="453.7"/><use href="#tA280" x="306.9" y="453.7"/><use href="#tC280" x="313.3" y="453.7"/><use href="#tA280" x="326.1" y="453.7"/><use href="#tG280" x="332.5" y="453.7"/><use href="#tA280" x="338.9" y="453.7"/><use href="#oU280" x="345.3" y="453.7"/><use href="#oC280" x="351.6" y="453.7"/><use href="#oG280" x="358.0" y="453.7"/><use href="#oU280" x="364.4" y="453.7"/><use href="#tG280" x="370.8" y="453.7"/><use href="#tC280" x="377.2" y="453.7"/><use href="#rA280" x="275.0" y="464.9"/><use href="#rA280" x="281.4" y="464.9"/><use href="#tC280" x="287.8" y="464.9"/><use href="#tG280" x="294.1" y="464.9"/><use href="#tG280" x="300.5" y="464.9"/><use href="#tG280" x="306.9" y="464.9"/><use href="#tG280" x="313.3" y="464.9"/><use href="#tG280" x="319.7" y="464.9"/><use href="#tU280" x="326.1" y="464.9"/><use href="#tC280" x="332.5" y="464.9"/><use href="#tU280" x="338.9" y="464.9"/><use href="#oA280" x="345.3" y="464.9"/><use href="#oG280" x="351.6" y="464.9"/><use href="#oC280" x="358.0" y="464.9"/><use href="#oA280" x="364.4" y="464.9"/><use href="#tC280" x="370.8" y="464.9"/><use href="#tG280" x="377.2" y="464.9"/><use href="#tC280" x="383.4" y="452.1"/><use href="#tA280" x="388.1" y="456.0"/><use href="#tA280" x="388.2" y="462.3"/><use href="#tU280" x="383.4" y="466.2"/><text x="227.0" y="463.1" font-size="8.8" text-anchor="middle" font-weight="normal" font-style="normal" fill="#222" >Del3.16</text><text x="427.9" y="10.7" font-size="15" text-anchor="start" font-weight="bold" font-style="normal" fill="#231815" >b</text><text x="457.6" y="9.2" font-size="8.5" text-anchor="start" font-weight="bold" font-style="normal" fill="#111" >ωRNA-V3-Del-V1</text><line x1="617.3" y1="18" x2="617.3" y2="446.2" stroke="#9a9a9a" stroke-width="0.7" stroke-dasharray="1.4,1.2"/><rect x="491.5" y="22.6" width="122.0" height="8.2" fill="#c6d9f0" stroke="#333" stroke-width="0.75"/><path d="M590.0,26.7H637.0M590.0,25.1V28.3M637.0,25.1V28.3" stroke="#222" stroke-width="0.7" fill="none"/><circle cx="584.6" cy="26.7" r="2.1" fill="none" stroke="#222" stroke-width="0.65"/><circle cx="595.9" cy="26.7" r="2.1" fill="none" stroke="#222" stroke-width="0.65"/><circle cx="660.1" cy="26.7" r="2.1" fill="none" stroke="#222" stroke-width="0.65"/><line x1="489.0" y1="26.7" x2="491.5" y2="26.7" stroke="#333" stroke-width="0.7"/><text x="486.2" y="29.3" font-size="8.5" text-anchor="end" font-weight="normal" font-style="normal" fill="#222" >Del2.1</text><rect x="491.5" y="35.1" width="105.3" height="8.2" fill="#c6d9f0" stroke="#333" stroke-width="0.75"/><path d="M587.3,39.2H606.3M587.3,37.6V40.8M606.3,37.6V40.8" stroke="#222" stroke-width="0.7" fill="none"/><circle cx="581.4" cy="39.2" r="2.1" fill="none" stroke="#222" stroke-width="0.65"/><circle cx="594.7" cy="39.2" r="2.1" fill="none" stroke="#222" stroke-width="0.65"/><circle cx="614.3" cy="39.2" r="2.1" fill="none" stroke="#222" stroke-width="0.65"/><line x1="489.0" y1="39.2" x2="491.5" y2="39.2" stroke="#333" stroke-width="0.7"/><text x="486.2" y="41.8" font-size="8.5" text-anchor="end" font-weight="normal" font-style="normal" fill="#222" >Del2.2</text><rect x="491.5" y="47.6" width="105.7" height="8.2" fill="#c6d9f0" stroke="#333" stroke-width="0.75"/><path d="M587.7,51.7H606.6M587.7,50.1V53.3M606.6,50.1V53.3" stroke="#222" stroke-width="0.7" fill="none"/><circle cx="578.3" cy="51.7" r="2.1" fill="none" stroke="#222" stroke-width="0.65"/><circle cx="606.0" cy="51.7" r="2.1" fill="none" stroke="#222" stroke-width="0.65"/><circle cx="607.2" cy="49.5" r="2.1" fill="none" stroke="#222" stroke-width="0.65"/><line x1="489.0" y1="51.7" x2="491.5" y2="51.7" stroke="#333" stroke-width="0.7"/><text x="486.2" y="54.3" font-size="8.5" text-anchor="end" font-weight="normal" font-style="normal" fill="#222" >Del2.3</text><rect x="491.5" y="60.0" width="95.4" height="8.2" fill="#c6d9f0" stroke="#333" stroke-width="0.75"/><path d="M586.0,64.1H587.8M586.0,62.5V65.7M587.8,62.5V65.7" stroke="#222" stroke-width="0.7" fill="none"/><circle cx="585.2" cy="64.1" r="2.1" fill="none" stroke="#222" stroke-width="0.65"/><circle cx="587.1" cy="61.9" r="2.1" fill="none" stroke="#222" stroke-width="0.65"/><circle cx="588.4" cy="66.3" r="2.1" fill="none" stroke="#222" stroke-width="0.65"/><line x1="489.0" y1="64.1" x2="491.5" y2="64.1" stroke="#333" stroke-width="0.7"/><text x="486.2" y="66.7" font-size="8.5" text-anchor="end" font-weight="normal" font-style="normal" fill="#222" >Del2.4</text><rect x="491.5" y="72.5" width="100.0" height="8.2" fill="#c6d9f0" stroke="#333" stroke-width="0.75"/><path d="M591.1,76.6H591.9M591.1,75.0V78.2M591.9,75.0V78.2" stroke="#222" stroke-width="0.7" fill="none"/><circle cx="590.9" cy="76.6" r="2.1" fill="none" stroke="#222" stroke-width="0.65"/><circle cx="591.5" cy="74.4" r="2.1" fill="none" stroke="#222" stroke-width="0.65"/><circle cx="592.1" cy="78.8" r="2.1" fill="none" stroke="#222" stroke-width="0.65"/><line x1="489.0" y1="76.6" x2="491.5" y2="76.6" stroke="#333" stroke-width="0.7"/><text x="486.2" y="79.2" font-size="8.5" text-anchor="end" font-weight="normal" font-style="normal" fill="#222" >Del2.5</text><rect x="491.5" y="85.0" width="97.7" height="8.2" fill="#c6d9f0" stroke="#333" stroke-width="0.75"/><path d="M586.7,89.1H591.8M586.7,87.5V90.7M591.8,87.5V90.7" stroke="#222" stroke-width="0.7" fill="none"/><circle cx="584.6" cy="89.1" r="2.1" fill="none" stroke="#222" stroke-width="0.65"/><circle cx="589.6" cy="89.1" r="2.1" fill="none" stroke="#222" stroke-width="0.65"/><circle cx="593.4" cy="89.1" r="2.1" fill="none" stroke="#222" stroke-width="0.65"/><line x1="489.0" y1="89.1" x2="491.5" y2="89.1" stroke="#333" stroke-width="0.7"/><text x="486.2" y="91.7" font-size="8.5" text-anchor="end" font-weight="normal" font-style="normal" fill="#222" >Del2.6</text><rect x="491.5" y="97.5" width="110.4" height="8.2" fill="#c6d9f0" stroke="#333" stroke-width="0.75"/><path d="M594.2,101.6H609.6M594.2,100.0V103.2M609.6,100.0V103.2" stroke="#222" stroke-width="0.7" fill="none"/><circle cx="592.1" cy="101.6" r="2.1" fill="none" stroke="#222" stroke-width="0.65"/><circle cx="596.5" cy="101.6" r="2.1" fill="none" stroke="#222" stroke-width="0.65"/><circle cx="617.0" cy="101.6" r="2.1" fill="none" stroke="#222" stroke-width="0.65"/><line x1="489.0" y1="101.6" x2="491.5" y2="101.6" stroke="#333" stroke-width="0.7"/><text x="486.2" y="104.2" font-size="8.5" text-anchor="end" font-weight="normal" font-style="normal" fill="#222" >Del2.7</text><rect x="491.5" y="110.0" width="102.7" height="8.2" fill="#c6d9f0" stroke="#333" stroke-width="0.75"/><path d="M592.7,114.1H595.7M592.7,112.5V115.7M595.7,112.5V115.7" stroke="#222" stroke-width="0.7" fill="none"/><circle cx="592.1" cy="114.1" r="2.1" fill="none" stroke="#222" stroke-width="0.65"/><circle cx="593.4" cy="111.9" r="2.1" fill="none" stroke="#222" stroke-width="0.65"/><circle cx="597.2" cy="114.1" r="2.1" fill="none" stroke="#222" stroke-width="0.65"/><line x1="489.0" y1="114.1" x2="491.5" y2="114.1" stroke="#333" stroke-width="0.7"/><text x="486.2" y="116.7" font-size="8.5" text-anchor="end" font-weight="normal" font-style="normal" fill="#222" >Del2.8</text><rect x="491.5" y="122.4" width="95.2" height="8.2" fill="#c6d9f0" stroke="#333" stroke-width="0.75"/><path d="M580.8,126.5H592.6M580.8,124.9V128.1M592.6,124.9V128.1" stroke="#222" stroke-width="0.7" fill="none"/><circle cx="575.8" cy="126.5" r="2.1" fill="none" stroke="#222" stroke-width="0.65"/><circle cx="588.4" cy="126.5" r="2.1" fill="none" stroke="#222" stroke-width="0.65"/><circle cx="595.9" cy="126.5" r="2.1" fill="none" stroke="#222" stroke-width="0.65"/><line x1="489.0" y1="126.5" x2="491.5" y2="126.5" stroke="#333" stroke-width="0.7"/><text x="486.2" y="129.1" font-size="8.5" text-anchor="end" font-weight="normal" font-style="normal" fill="#222" >Del2.9</text><rect x="491.5" y="134.9" width="101.1" height="8.2" fill="#c6d9f0" stroke="#333" stroke-width="0.75"/><path d="M587.6,139.0H597.5M587.6,137.4V140.6M597.5,137.4V140.6" stroke="#222" stroke-width="0.7" fill="none"/><circle cx="585.9" cy="139.0" r="2.1" fill="none" stroke="#222" stroke-width="0.65"/><circle cx="589.6" cy="139.0" r="2.1" fill="none" stroke="#222" stroke-width="0.65"/><circle cx="602.2" cy="139.0" r="2.1" fill="none" stroke="#222" stroke-width="0.65"/><line x1="489.0" y1="139.0" x2="491.5" y2="139.0" stroke="#333" stroke-width="0.7"/><text x="486.2" y="141.6" font-size="8.5" text-anchor="end" font-weight="normal" font-style="normal" fill="#222" >Del2.10</text><rect x="491.5" y="147.4" width="103.6" height="8.2" fill="#c6d9f0" stroke="#333" stroke-width="0.75"/><path d="M591.1,151.5H599.1M591.1,149.9V153.1M599.1,149.9V153.1" stroke="#222" stroke-width="0.7" fill="none"/><circle cx="587.1" cy="151.5" r="2.1" fill="none" stroke="#222" stroke-width="0.65"/><circle cx="598.4" cy="151.5" r="2.1" fill="none" stroke="#222" stroke-width="0.65"/><circle cx="599.7" cy="149.3" r="2.1" fill="none" stroke="#222" stroke-width="0.65"/><line x1="489.0" y1="151.5" x2="491.5" y2="151.5" stroke="#333" stroke-width="0.7"/><text x="486.2" y="154.1" font-size="8.5" text-anchor="end" font-weight="normal" font-style="normal" fill="#222" >Del2.11</text><rect x="491.5" y="159.9" width="106.5" height="8.2" fill="#c6d9f0" stroke="#333" stroke-width="0.75"/><path d="M595.6,164.0H600.4M595.6,162.4V165.6M600.4,162.4V165.6" stroke="#222" stroke-width="0.7" fill="none"/><circle cx="593.4" cy="164.0" r="2.1" fill="none" stroke="#222" stroke-width="0.65"/><circle cx="599.1" cy="164.0" r="2.1" fill="none" stroke="#222" stroke-width="0.65"/><circle cx="601.6" cy="161.8" r="2.1" fill="none" stroke="#222" stroke-width="0.65"/><line x1="489.0" y1="164.0" x2="491.5" y2="164.0" stroke="#333" stroke-width="0.7"/><text x="486.2" y="166.6" font-size="8.5" text-anchor="end" font-weight="normal" font-style="normal" fill="#222" >Del2.12</text><rect x="491.5" y="172.4" width="98.5" height="8.2" fill="#c6d9f0" stroke="#333" stroke-width="0.75"/><path d="M586.8,176.5H593.3M586.8,174.9V178.1M593.3,174.9V178.1" stroke="#222" stroke-width="0.7" fill="none"/><circle cx="584.6" cy="176.5" r="2.1" fill="none" stroke="#222" stroke-width="0.65"/><circle cx="589.6" cy="176.5" r="2.1" fill="none" stroke="#222" stroke-width="0.65"/><circle cx="595.9" cy="176.5" r="2.1" fill="none" stroke="#222" stroke-width="0.65"/><line x1="489.0" y1="176.5" x2="491.5" y2="176.5" stroke="#333" stroke-width="0.7"/><text x="486.2" y="179.1" font-size="8.5" text-anchor="end" font-weight="normal" font-style="normal" fill="#222" >Del2.13</text><rect x="491.5" y="184.8" width="108.4" height="8.2" fill="#c6d9f0" stroke="#333" stroke-width="0.75"/><path d="M592.1,188.9H607.8M592.1,187.3V190.5M607.8,187.3V190.5" stroke="#222" stroke-width="0.7" fill="none"/><circle cx="584.6" cy="188.9" r="2.1" fill="none" stroke="#222" stroke-width="0.65"/><circle cx="604.7" cy="188.9" r="2.1" fill="none" stroke="#222" stroke-width="0.65"/><circle cx="610.5" cy="188.9" r="2.1" fill="none" stroke="#222" stroke-width="0.65"/><line x1="489.0" y1="188.9" x2="491.5" y2="188.9" stroke="#333" stroke-width="0.7"/><text x="486.2" y="191.5" font-size="8.5" text-anchor="end" font-weight="normal" font-style="normal" fill="#222" >Del2.14</text><rect x="491.5" y="197.3" width="115.9" height="8.2" fill="#c6d9f0" stroke="#333" stroke-width="0.75"/><path d="M593.1,201.4H621.7M593.1,199.8V203.0M621.7,199.8V203.0" stroke="#222" stroke-width="0.7" fill="none"/><circle cx="578.9" cy="201.4" r="2.1" fill="none" stroke="#222" stroke-width="0.65"/><circle cx="619.8" cy="201.4" r="2.1" fill="none" stroke="#222" stroke-width="0.65"/><circle cx="623.6" cy="201.4" r="2.1" fill="none" stroke="#222" stroke-width="0.65"/><line x1="489.0" y1="201.4" x2="491.5" y2="201.4" stroke="#333" stroke-width="0.7"/><text x="486.2" y="204.0" font-size="8.5" text-anchor="end" font-weight="normal" font-style="normal" fill="#222" >Del2.15</text><rect x="491.5" y="209.8" width="113.8" height="8.2" fill="#c6d9f0" stroke="#333" stroke-width="0.75"/><path d="M603.7,213.9H607.0M603.7,212.3V215.5M607.0,212.3V215.5" stroke="#222" stroke-width="0.7" fill="none"/><circle cx="602.2" cy="213.9" r="2.1" fill="none" stroke="#222" stroke-width="0.65"/><circle cx="606.0" cy="213.9" r="2.1" fill="none" stroke="#222" stroke-width="0.65"/><circle cx="607.9" cy="211.7" r="2.1" fill="none" stroke="#222" stroke-width="0.65"/><line x1="489.0" y1="213.9" x2="491.5" y2="213.9" stroke="#333" stroke-width="0.7"/><text x="486.2" y="216.5" font-size="8.5" text-anchor="end" font-weight="normal" font-style="normal" fill="#222" >Del2.16</text><rect x="491.5" y="222.3" width="112.8" height="8.2" fill="#c6d9f0" stroke="#333" stroke-width="0.75"/><path d="M596.3,226.4H612.3M596.3,224.8V228.0M612.3,224.8V228.0" stroke="#222" stroke-width="0.7" fill="none"/><circle cx="590.9" cy="226.4" r="2.1" fill="none" stroke="#222" stroke-width="0.65"/><circle cx="603.5" cy="226.4" r="2.1" fill="none" stroke="#222" stroke-width="0.65"/><circle cx="618.6" cy="226.4" r="2.1" fill="none" stroke="#222" stroke-width="0.65"/><line x1="489.0" y1="226.4" x2="491.5" y2="226.4" stroke="#333" stroke-width="0.7"/><text x="486.2" y="229.0" font-size="8.5" text-anchor="end" font-weight="normal" font-style="normal" fill="#222" >Del2.17</text><rect x="491.5" y="234.8" width="101.7" height="8.2" fill="#c6d9f0" stroke="#333" stroke-width="0.75"/><path d="M590.7,238.9H595.7M590.7,237.3V240.5M595.7,237.3V240.5" stroke="#222" stroke-width="0.7" fill="none"/><circle cx="588.4" cy="238.9" r="2.1" fill="none" stroke="#222" stroke-width="0.65"/><circle cx="594.7" cy="238.9" r="2.1" fill="none" stroke="#222" stroke-width="0.65"/><circle cx="596.5" cy="236.7" r="2.1" fill="none" stroke="#222" stroke-width="0.65"/><line x1="489.0" y1="238.9" x2="491.5" y2="238.9" stroke="#333" stroke-width="0.7"/><text x="486.2" y="241.5" font-size="8.5" text-anchor="end" font-weight="normal" font-style="normal" fill="#222" >Del3.1</text><rect x="491.5" y="247.2" width="99.2" height="8.2" fill="#c6d9f0" stroke="#333" stroke-width="0.75"/><path d="M585.7,251.3H595.6M585.7,249.7V252.9M595.6,249.7V252.9" stroke="#222" stroke-width="0.7" fill="none"/><circle cx="580.8" cy="251.3" r="2.1" fill="none" stroke="#222" stroke-width="0.65"/><circle cx="594.7" cy="251.3" r="2.1" fill="none" stroke="#222" stroke-width="0.65"/><circle cx="596.5" cy="249.1" r="2.1" fill="none" stroke="#222" stroke-width="0.65"/><line x1="489.0" y1="251.3" x2="491.5" y2="251.3" stroke="#333" stroke-width="0.7"/><text x="486.2" y="253.9" font-size="8.5" text-anchor="end" font-weight="normal" font-style="normal" fill="#222" >Del3.2</text><rect x="491.5" y="259.7" width="105.3" height="8.2" fill="#c6d9f0" stroke="#333" stroke-width="0.75"/><path d="M590.2,263.8H603.3M590.2,262.2V265.4M603.3,262.2V265.4" stroke="#222" stroke-width="0.7" fill="none"/><circle cx="589.6" cy="263.8" r="2.1" fill="none" stroke="#222" stroke-width="0.65"/><circle cx="590.9" cy="261.6" r="2.1" fill="none" stroke="#222" stroke-width="0.65"/><circle cx="609.8" cy="263.8" r="2.1" fill="none" stroke="#222" stroke-width="0.65"/><line x1="489.0" y1="263.8" x2="491.5" y2="263.8" stroke="#333" stroke-width="0.7"/><text x="486.2" y="266.4" font-size="8.5" text-anchor="end" font-weight="normal" font-style="normal" fill="#222" >Del3.3</text><rect x="491.5" y="272.2" width="110.7" height="8.2" fill="#c6d9f0" stroke="#333" stroke-width="0.75"/><path d="M595.9,276.3H608.5M595.9,274.7V277.9M608.5,274.7V277.9" stroke="#222" stroke-width="0.7" fill="none"/><circle cx="589.6" cy="276.3" r="2.1" fill="none" stroke="#222" stroke-width="0.65"/><circle cx="607.2" cy="276.3" r="2.1" fill="none" stroke="#222" stroke-width="0.65"/><circle cx="609.8" cy="274.1" r="2.1" fill="none" stroke="#222" stroke-width="0.65"/><line x1="489.0" y1="276.3" x2="491.5" y2="276.3" stroke="#333" stroke-width="0.7"/><text x="486.2" y="278.9" font-size="8.5" text-anchor="end" font-weight="normal" font-style="normal" fill="#222" >Del3.4</text><rect x="491.5" y="284.7" width="125.0" height="8.2" fill="#c6d9f0" stroke="#333" stroke-width="0.75"/><path d="M614.1,288.8H618.8M614.1,287.2V290.4M618.8,287.2V290.4" stroke="#222" stroke-width="0.7" fill="none"/><circle cx="613.5" cy="288.8" r="2.1" fill="none" stroke="#222" stroke-width="0.65"/><circle cx="614.8" cy="286.6" r="2.1" fill="none" stroke="#222" stroke-width="0.65"/><circle cx="621.1" cy="288.8" r="2.1" fill="none" stroke="#222" stroke-width="0.65"/><line x1="489.0" y1="288.8" x2="491.5" y2="288.8" stroke="#333" stroke-width="0.7"/><text x="486.2" y="291.4" font-size="8.5" text-anchor="end" font-weight="normal" font-style="normal" fill="#222" >Del3.5</text><rect x="491.5" y="297.2" width="123.3" height="8.2" fill="#c6d9f0" stroke="#333" stroke-width="0.75"/><path d="M610.4,301.3H619.2M610.4,299.7V302.9M619.2,299.7V302.9" stroke="#222" stroke-width="0.7" fill="none"/><circle cx="609.8" cy="301.3" r="2.1" fill="none" stroke="#222" stroke-width="0.65"/><circle cx="611.0" cy="299.1" r="2.1" fill="none" stroke="#222" stroke-width="0.65"/><circle cx="623.6" cy="301.3" r="2.1" fill="none" stroke="#222" stroke-width="0.65"/><line x1="489.0" y1="301.3" x2="491.5" y2="301.3" stroke="#333" stroke-width="0.7"/><text x="486.2" y="303.9" font-size="8.5" text-anchor="end" font-weight="normal" font-style="normal" fill="#222" >Del3.6</text><rect x="491.5" y="309.6" width="116.2" height="8.2" fill="#c6d9f0" stroke="#333" stroke-width="0.75"/><path d="M603.3,313.7H612.0M603.3,312.1V315.3M612.0,312.1V315.3" stroke="#222" stroke-width="0.7" fill="none"/><circle cx="599.7" cy="313.7" r="2.1" fill="none" stroke="#222" stroke-width="0.65"/><circle cx="608.5" cy="313.7" r="2.1" fill="none" stroke="#222" stroke-width="0.65"/><circle cx="614.8" cy="313.7" r="2.1" fill="none" stroke="#222" stroke-width="0.65"/><line x1="489.0" y1="313.7" x2="491.5" y2="313.7" stroke="#333" stroke-width="0.7"/><text x="486.2" y="316.3" font-size="8.5" text-anchor="end" font-weight="normal" font-style="normal" fill="#222" >Del3.7</text><rect x="491.5" y="322.1" width="121.6" height="8.2" fill="#c6d9f0" stroke="#333" stroke-width="0.75"/><path d="M610.8,326.2H615.4M610.8,324.6V327.8M615.4,324.6V327.8" stroke="#222" stroke-width="0.7" fill="none"/><circle cx="608.5" cy="326.2" r="2.1" fill="none" stroke="#222" stroke-width="0.65"/><circle cx="614.8" cy="326.2" r="2.1" fill="none" stroke="#222" stroke-width="0.65"/><circle cx="616.0" cy="324.0" r="2.1" fill="none" stroke="#222" stroke-width="0.65"/><line x1="489.0" y1="326.2" x2="491.5" y2="326.2" stroke="#333" stroke-width="0.7"/><text x="486.2" y="328.8" font-size="8.5" text-anchor="end" font-weight="normal" font-style="normal" fill="#222" >Del3.8</text><rect x="491.5" y="334.6" width="116.2" height="8.2" fill="#c6d9f0" stroke="#333" stroke-width="0.75"/><path d="M606.5,338.7H608.8M606.5,337.1V340.3M608.8,337.1V340.3" stroke="#222" stroke-width="0.7" fill="none"/><circle cx="606.0" cy="338.7" r="2.1" fill="none" stroke="#222" stroke-width="0.65"/><circle cx="607.2" cy="336.5" r="2.1" fill="none" stroke="#222" stroke-width="0.65"/><circle cx="609.8" cy="338.7" r="2.1" fill="none" stroke="#222" stroke-width="0.65"/><line x1="489.0" y1="338.7" x2="491.5" y2="338.7" stroke="#333" stroke-width="0.7"/><text x="486.2" y="341.3" font-size="8.5" text-anchor="end" font-weight="normal" font-style="normal" fill="#222" >Del3.9</text><rect x="491.5" y="347.1" width="114.5" height="8.2" fill="#c6d9f0" stroke="#333" stroke-width="0.75"/><path d="M604.5,351.2H607.4M604.5,349.6V352.8M607.4,349.6V352.8" stroke="#222" stroke-width="0.7" fill="none"/><circle cx="603.5" cy="351.2" r="2.1" fill="none" stroke="#222" stroke-width="0.65"/><circle cx="606.0" cy="349.0" r="2.1" fill="none" stroke="#222" stroke-width="0.65"/><circle cx="608.5" cy="351.2" r="2.1" fill="none" stroke="#222" stroke-width="0.65"/><line x1="489.0" y1="351.2" x2="491.5" y2="351.2" stroke="#333" stroke-width="0.7"/><text x="486.2" y="353.8" font-size="8.5" text-anchor="end" font-weight="normal" font-style="normal" fill="#222" >Del3.10</text><rect x="491.5" y="359.6" width="113.6" height="8.2" fill="#c6d9f0" stroke="#333" stroke-width="0.75"/><path d="M602.9,363.7H607.4M602.9,362.1V365.3M607.4,362.1V365.3" stroke="#222" stroke-width="0.7" fill="none"/><circle cx="600.9" cy="363.7" r="2.1" fill="none" stroke="#222" stroke-width="0.65"/><circle cx="606.0" cy="363.7" r="2.1" fill="none" stroke="#222" stroke-width="0.65"/><circle cx="608.5" cy="361.5" r="2.1" fill="none" stroke="#222" stroke-width="0.65"/><line x1="489.0" y1="363.7" x2="491.5" y2="363.7" stroke="#333" stroke-width="0.7"/><text x="486.2" y="366.3" font-size="8.5" text-anchor="end" font-weight="normal" font-style="normal" fill="#222" >Del3.11</text><rect x="491.5" y="372.0" width="129.6" height="8.2" fill="#c6d9f0" stroke="#333" stroke-width="0.75"/><path d="M612.8,376.1H629.3M612.8,374.5V377.7M629.3,374.5V377.7" stroke="#222" stroke-width="0.7" fill="none"/><circle cx="604.7" cy="376.1" r="2.1" fill="none" stroke="#222" stroke-width="0.65"/><circle cx="627.4" cy="376.1" r="2.1" fill="none" stroke="#222" stroke-width="0.65"/><circle cx="631.1" cy="376.1" r="2.1" fill="none" stroke="#222" stroke-width="0.65"/><line x1="489.0" y1="376.1" x2="491.5" y2="376.1" stroke="#333" stroke-width="0.7"/><text x="486.2" y="378.7" font-size="8.5" text-anchor="end" font-weight="normal" font-style="normal" fill="#222" >Del3.12</text><rect x="491.5" y="384.5" width="126.2" height="8.2" fill="#c6d9f0" stroke="#333" stroke-width="0.75"/><path d="M617.0,388.6H618.5M617.0,387.0V390.2M618.5,387.0V390.2" stroke="#222" stroke-width="0.7" fill="none"/><circle cx="616.7" cy="388.6" r="2.1" fill="none" stroke="#222" stroke-width="0.65"/><circle cx="617.3" cy="386.4" r="2.1" fill="none" stroke="#222" stroke-width="0.65"/><circle cx="619.2" cy="390.8" r="2.1" fill="none" stroke="#222" stroke-width="0.65"/><line x1="489.0" y1="388.6" x2="491.5" y2="388.6" stroke="#333" stroke-width="0.7"/><text x="486.2" y="391.2" font-size="8.5" text-anchor="end" font-weight="normal" font-style="normal" fill="#222" >Del3.13</text><rect x="491.5" y="397.0" width="130.0" height="8.2" fill="#c6d9f0" stroke="#333" stroke-width="0.75"/><path d="M613.0,401.1H630.0M613.0,399.5V402.7M630.0,399.5V402.7" stroke="#222" stroke-width="0.7" fill="none"/><circle cx="604.7" cy="401.1" r="2.1" fill="none" stroke="#222" stroke-width="0.65"/><circle cx="627.4" cy="401.1" r="2.1" fill="none" stroke="#222" stroke-width="0.65"/><circle cx="632.4" cy="401.1" r="2.1" fill="none" stroke="#222" stroke-width="0.65"/><line x1="489.0" y1="401.1" x2="491.5" y2="401.1" stroke="#333" stroke-width="0.7"/><text x="486.2" y="403.7" font-size="8.5" text-anchor="end" font-weight="normal" font-style="normal" fill="#222" >Del3.14</text><rect x="491.5" y="409.5" width="121.6" height="8.2" fill="#c6d9f0" stroke="#333" stroke-width="0.75"/><path d="M611.3,413.6H614.9M611.3,412.0V415.2M614.9,412.0V415.2" stroke="#222" stroke-width="0.7" fill="none"/><circle cx="609.8" cy="413.6" r="2.1" fill="none" stroke="#222" stroke-width="0.65"/><circle cx="613.5" cy="413.6" r="2.1" fill="none" stroke="#222" stroke-width="0.65"/><circle cx="616.0" cy="411.4" r="2.1" fill="none" stroke="#222" stroke-width="0.65"/><line x1="489.0" y1="413.6" x2="491.5" y2="413.6" stroke="#333" stroke-width="0.7"/><text x="486.2" y="416.2" font-size="8.5" text-anchor="end" font-weight="normal" font-style="normal" fill="#222" >Del3.15</text><rect x="491.5" y="422.0" width="111.1" height="8.2" fill="#c6d9f0" stroke="#333" stroke-width="0.75"/><path d="M593.0,426.1H612.2M593.0,424.5V427.7M612.2,424.5V427.7" stroke="#222" stroke-width="0.7" fill="none"/><circle cx="584.6" cy="426.1" r="2.1" fill="none" stroke="#222" stroke-width="0.65"/><circle cx="606.0" cy="426.1" r="2.1" fill="none" stroke="#222" stroke-width="0.65"/><circle cx="617.3" cy="426.1" r="2.1" fill="none" stroke="#222" stroke-width="0.65"/><line x1="489.0" y1="426.1" x2="491.5" y2="426.1" stroke="#333" stroke-width="0.7"/><text x="486.2" y="428.7" font-size="8.5" text-anchor="end" font-weight="normal" font-style="normal" fill="#222" >Del3.16</text><rect x="491.5" y="434.4" width="125.8" height="8.2" fill="#d0d0d0" stroke="#333" stroke-width="0.75"/><path d="M610.0,438.5H624.6M610.0,436.9V440.1M624.6,436.9V440.1" stroke="#222" stroke-width="0.7" fill="none"/><circle cx="604.7" cy="438.5" r="2.1" fill="none" stroke="#222" stroke-width="0.65"/><circle cx="617.3" cy="438.5" r="2.1" fill="none" stroke="#222" stroke-width="0.65"/><circle cx="629.9" cy="438.5" r="2.1" fill="none" stroke="#222" stroke-width="0.65"/><line x1="489.0" y1="438.5" x2="491.5" y2="438.5" stroke="#333" stroke-width="0.7"/><text x="486.2" y="441.1" font-size="8.5" text-anchor="end" font-weight="normal" font-style="normal" fill="#222" >ωRNA-V3</text><line x1="491.5" y1="18" x2="491.5" y2="446.2" stroke="#222" stroke-width="0.8"/><line x1="491.1" y1="446.2" x2="680.2" y2="446.2" stroke="#222" stroke-width="0.8"/><line x1="491.5" y1="446.2" x2="491.5" y2="448.7" stroke="#222" stroke-width="0.8"/><text x="491.5" y="457.7" font-size="8.2" text-anchor="middle" font-weight="normal" font-style="normal" fill="#222" >0.0</text><line x1="554.4" y1="446.2" x2="554.4" y2="448.7" stroke="#222" stroke-width="0.8"/><text x="554.4" y="457.7" font-size="8.2" text-anchor="middle" font-weight="normal" font-style="normal" fill="#222" >0.5</text><line x1="617.3" y1="446.2" x2="617.3" y2="448.7" stroke="#222" stroke-width="0.8"/><text x="617.3" y="457.7" font-size="8.2" text-anchor="middle" font-weight="normal" font-style="normal" fill="#222" >1.0</text><line x1="680.2" y1="446.2" x2="680.2" y2="448.7" stroke="#222" stroke-width="0.8"/><text x="680.2" y="457.7" font-size="8.2" text-anchor="middle" font-weight="normal" font-style="normal" fill="#222" >1.5</text><text x="586.3" y="465.6" font-size="8.6" text-anchor="middle" font-weight="normal" font-style="normal" fill="#222" >Fold</text><path d="M447,26.7V226.4M444.5,26.7H449.5M444.5,226.4H449.5" stroke="#555" stroke-width="0.8" fill="none"/><text x="0.0" y="0.0" font-size="8.6" text-anchor="middle" font-weight="normal" font-style="normal" fill="#222" transform="translate(442.3,124.1) rotate(-90)">Del-2bp</text><path d="M447,238.9V426.1M444.5,238.9H449.5M444.5,426.1H449.5" stroke="#555" stroke-width="0.8" fill="none"/><text x="0.0" y="0.0" font-size="8.6" text-anchor="middle" font-weight="normal" font-style="normal" fill="#222" transform="translate(442.3,329.0) rotate(-90)">Del-3bp</text><text x="-0.8" y="484.6" font-size="15" text-anchor="start" font-weight="bold" font-style="normal" fill="#231815" >c</text><text x="46.6" y="487.0" font-size="8.5" text-anchor="start" font-weight="bold" font-style="normal" fill="#111" >ωRNA-V3-Del-V2</text><line x1="44.5" y1="566.9" x2="343" y2="566.9" stroke="#8a8a8a" stroke-width="0.8" stroke-dasharray="2.2,1.8"/><rect x="49.8" y="567.3" width="9.1" height="74.8" fill="#c6d9f0" stroke="#333" stroke-width="0.75"/><path d="M54.3,570.1V564.4M52.7,570.1H55.9M52.7,564.4H55.9" stroke="#222" stroke-width="0.7" fill="none"/><circle cx="54.0" cy="561.6" r="2.2" fill="none" stroke="#222" stroke-width="0.65"/><circle cx="51.7" cy="570.7" r="2.2" fill="none" stroke="#222" stroke-width="0.65"/><circle cx="56.8" cy="569.5" r="2.2" fill="none" stroke="#222" stroke-width="0.65"/><line x1="54.7" y1="642.1" x2="54.7" y2="644.6" stroke="#222" stroke-width="0.7"/><text x="0.0" y="0.0" font-size="8.7" text-anchor="end" font-weight="normal" font-style="normal" fill="#222" transform="translate(55.0,649.9) rotate(-45)">Del-1bp</text><rect x="64.4" y="574.9" width="9.1" height="67.2" fill="#c6d9f0" stroke="#333" stroke-width="0.75"/><path d="M68.9,579.9V570.0M67.3,579.9H70.5M67.3,570.0H70.5" stroke="#222" stroke-width="0.7" fill="none"/><circle cx="68.7" cy="565.4" r="2.2" fill="none" stroke="#222" stroke-width="0.65"/><circle cx="66.2" cy="581.9" r="2.2" fill="none" stroke="#222" stroke-width="0.65"/><circle cx="71.5" cy="577.4" r="2.2" fill="none" stroke="#222" stroke-width="0.65"/><line x1="69.3" y1="642.1" x2="69.3" y2="644.6" stroke="#222" stroke-width="0.7"/><text x="0.0" y="0.0" font-size="8.7" text-anchor="end" font-weight="normal" font-style="normal" fill="#222" transform="translate(69.7,649.9) rotate(-45)">Del-2bp</text><rect x="79.0" y="579.9" width="9.1" height="62.2" fill="#c6d9f0" stroke="#333" stroke-width="0.75"/><path d="M83.6,581.0V578.8M82.0,581.0H85.2M82.0,578.8H85.2" stroke="#222" stroke-width="0.7" fill="none"/><circle cx="83.2" cy="578.2" r="2.2" fill="none" stroke="#222" stroke-width="0.65"/><circle cx="80.9" cy="581.9" r="2.2" fill="none" stroke="#222" stroke-width="0.65"/><circle cx="86.3" cy="579.7" r="2.2" fill="none" stroke="#222" stroke-width="0.65"/><line x1="84.0" y1="642.1" x2="84.0" y2="644.6" stroke="#222" stroke-width="0.7"/><text x="0.0" y="0.0" font-size="8.7" text-anchor="end" font-weight="normal" font-style="normal" fill="#222" transform="translate(84.5,649.9) rotate(-45)">Del-3bp</text><rect x="93.6" y="573.7" width="9.1" height="68.4" fill="#c6d9f0" stroke="#333" stroke-width="0.75"/><path d="M98.2,579.9V567.5M96.6,579.9H99.8M96.6,567.5H99.8" stroke="#222" stroke-width="0.7" fill="none"/><circle cx="95.4" cy="566.5" r="2.2" fill="none" stroke="#222" stroke-width="0.65"/><circle cx="100.7" cy="568.6" r="2.2" fill="none" stroke="#222" stroke-width="0.65"/><circle cx="97.9" cy="586.1" r="2.2" fill="none" stroke="#222" stroke-width="0.65"/><line x1="98.6" y1="642.1" x2="98.6" y2="644.6" stroke="#222" stroke-width="0.7"/><text x="0.0" y="0.0" font-size="8.7" text-anchor="end" font-weight="normal" font-style="normal" fill="#222" transform="translate(99.2,649.9) rotate(-45)">Del-4bp</text><rect x="108.3" y="571.9" width="9.1" height="70.2" fill="#c6d9f0" stroke="#333" stroke-width="0.75"/><path d="M112.8,574.3V569.5M111.2,574.3H114.4M111.2,569.5H114.4" stroke="#222" stroke-width="0.7" fill="none"/><circle cx="110.1" cy="569.5" r="2.2" fill="none" stroke="#222" stroke-width="0.65"/><circle cx="114.7" cy="569.5" r="2.2" fill="none" stroke="#222" stroke-width="0.65"/><circle cx="112.9" cy="576.7" r="2.2" fill="none" stroke="#222" stroke-width="0.65"/><line x1="113.2" y1="642.1" x2="113.2" y2="644.6" stroke="#222" stroke-width="0.7"/><text x="0.0" y="0.0" font-size="8.7" text-anchor="end" font-weight="normal" font-style="normal" fill="#222" transform="translate(114.0,649.9) rotate(-45)">Del-5bp</text><rect x="122.9" y="575.2" width="9.1" height="66.9" fill="#c6d9f0" stroke="#333" stroke-width="0.75"/><path d="M127.5,579.3V571.0M125.9,579.3H129.1M125.9,571.0H129.1" stroke="#222" stroke-width="0.7" fill="none"/><circle cx="127.5" cy="567.7" r="2.2" fill="none" stroke="#222" stroke-width="0.65"/><circle cx="127.5" cy="575.9" r="2.2" fill="none" stroke="#222" stroke-width="0.65"/><circle cx="127.5" cy="581.9" r="2.2" fill="none" stroke="#222" stroke-width="0.65"/><line x1="127.9" y1="642.1" x2="127.9" y2="644.6" stroke="#222" stroke-width="0.7"/><text x="0.0" y="0.0" font-size="8.7" text-anchor="end" font-weight="normal" font-style="normal" fill="#222" transform="translate(128.7,649.9) rotate(-45)">Del-6bp</text><rect x="137.5" y="577.6" width="9.1" height="64.5" fill="#c6d9f0" stroke="#333" stroke-width="0.75"/><path d="M142.1,582.3V573.0M140.5,582.3H143.7M140.5,573.0H143.7" stroke="#222" stroke-width="0.7" fill="none"/><circle cx="142.1" cy="568.6" r="2.2" fill="none" stroke="#222" stroke-width="0.65"/><circle cx="139.7" cy="584.2" r="2.2" fill="none" stroke="#222" stroke-width="0.65"/><circle cx="144.6" cy="580.1" r="2.2" fill="none" stroke="#222" stroke-width="0.65"/><line x1="142.5" y1="642.1" x2="142.5" y2="644.6" stroke="#222" stroke-width="0.7"/><text x="0.0" y="0.0" font-size="8.7" text-anchor="end" font-weight="normal" font-style="normal" fill="#222" transform="translate(143.5,649.9) rotate(-45)">Del-7bp</text><rect x="152.2" y="594.0" width="9.1" height="48.1" fill="#c6d9f0" stroke="#333" stroke-width="0.75"/><path d="M156.7,596.6V591.3M155.1,596.6H158.3M155.1,591.3H158.3" stroke="#222" stroke-width="0.7" fill="none"/><circle cx="156.7" cy="588.7" r="2.2" fill="none" stroke="#222" stroke-width="0.65"/><circle cx="154.0" cy="596.6" r="2.2" fill="none" stroke="#222" stroke-width="0.65"/><circle cx="159.1" cy="596.6" r="2.2" fill="none" stroke="#222" stroke-width="0.65"/><line x1="157.1" y1="642.1" x2="157.1" y2="644.6" stroke="#222" stroke-width="0.7"/><text x="0.0" y="0.0" font-size="8.7" text-anchor="end" font-weight="normal" font-style="normal" fill="#222" transform="translate(158.2,649.9) rotate(-45)">Del-8bp</text><rect x="166.8" y="582.3" width="9.1" height="59.8" fill="#c6d9f0" stroke="#333" stroke-width="0.75"/><path d="M171.3,588.0V576.7M169.7,588.0H172.9M169.7,576.7H172.9" stroke="#222" stroke-width="0.7" fill="none"/><circle cx="168.5" cy="576.7" r="2.2" fill="none" stroke="#222" stroke-width="0.65"/><circle cx="173.8" cy="576.7" r="2.2" fill="none" stroke="#222" stroke-width="0.65"/><circle cx="171.3" cy="593.6" r="2.2" fill="none" stroke="#222" stroke-width="0.65"/><line x1="171.7" y1="642.1" x2="171.7" y2="644.6" stroke="#222" stroke-width="0.7"/><text x="0.0" y="0.0" font-size="8.7" text-anchor="end" font-weight="normal" font-style="normal" fill="#222" transform="translate(173.0,649.9) rotate(-45)">Del-9bp</text><rect x="181.4" y="584.4" width="9.1" height="57.7" fill="#c6d9f0" stroke="#333" stroke-width="0.75"/><path d="M186.0,590.3V578.6M184.4,590.3H187.6M184.4,578.6H187.6" stroke="#222" stroke-width="0.7" fill="none"/><circle cx="186.0" cy="574.4" r="2.2" fill="none" stroke="#222" stroke-width="0.65"/><circle cx="186.0" cy="584.2" r="2.2" fill="none" stroke="#222" stroke-width="0.65"/><circle cx="186.0" cy="594.7" r="2.2" fill="none" stroke="#222" stroke-width="0.65"/><line x1="186.4" y1="642.1" x2="186.4" y2="644.6" stroke="#222" stroke-width="0.7"/><text x="0.0" y="0.0" font-size="8.7" text-anchor="end" font-weight="normal" font-style="normal" fill="#222" transform="translate(187.7,649.9) rotate(-45)">Del-10bp</text><rect x="196.1" y="561.6" width="9.1" height="80.5" fill="#c6d9f0" stroke="#333" stroke-width="0.75"/><path d="M200.6,565.1V558.0M199.0,565.1H202.2M199.0,558.0H202.2" stroke="#222" stroke-width="0.7" fill="none"/><circle cx="198.3" cy="557.9" r="2.2" fill="none" stroke="#222" stroke-width="0.65"/><circle cx="202.9" cy="558.1" r="2.2" fill="none" stroke="#222" stroke-width="0.65"/><circle cx="200.6" cy="568.7" r="2.2" fill="none" stroke="#222" stroke-width="0.65"/><line x1="201.0" y1="642.1" x2="201.0" y2="644.6" stroke="#222" stroke-width="0.7"/><text x="0.0" y="0.0" font-size="8.7" text-anchor="end" font-weight="normal" font-style="normal" fill="#222" transform="translate(202.5,649.9) rotate(-45)">Del-11bp</text><rect x="210.7" y="583.4" width="9.1" height="58.7" fill="#c6d9f0" stroke="#333" stroke-width="0.75"/><path d="M215.2,586.5V580.4M213.6,586.5H216.8M213.6,580.4H216.8" stroke="#222" stroke-width="0.7" fill="none"/><circle cx="212.8" cy="579.7" r="2.2" fill="none" stroke="#222" stroke-width="0.65"/><circle cx="217.5" cy="581.2" r="2.2" fill="none" stroke="#222" stroke-width="0.65"/><circle cx="215.2" cy="589.5" r="2.2" fill="none" stroke="#222" stroke-width="0.65"/><line x1="215.6" y1="642.1" x2="215.6" y2="644.6" stroke="#222" stroke-width="0.7"/><text x="0.0" y="0.0" font-size="8.7" text-anchor="end" font-weight="normal" font-style="normal" fill="#222" transform="translate(217.2,649.9) rotate(-45)">Del-12bp</text><rect x="225.3" y="569.9" width="9.1" height="72.2" fill="#c6d9f0" stroke="#333" stroke-width="0.75"/><path d="M229.9,571.5V568.3M228.3,571.5H231.5M228.3,568.3H231.5" stroke="#222" stroke-width="0.7" fill="none"/><circle cx="227.4" cy="566.9" r="2.2" fill="none" stroke="#222" stroke-width="0.65"/><circle cx="226.9" cy="572.2" r="2.2" fill="none" stroke="#222" stroke-width="0.65"/><circle cx="232.0" cy="570.7" r="2.2" fill="none" stroke="#222" stroke-width="0.65"/><line x1="230.3" y1="642.1" x2="230.3" y2="644.6" stroke="#222" stroke-width="0.7"/><text x="0.0" y="0.0" font-size="8.7" text-anchor="end" font-weight="normal" font-style="normal" fill="#222" transform="translate(231.9,649.9) rotate(-45)">Del-12bp</text><rect x="239.9" y="553.1" width="9.1" height="89.0" fill="#c6d9f0" stroke="#333" stroke-width="0.75"/><path d="M244.5,557.9V548.2M242.9,557.9H246.1M242.9,548.2H246.1" stroke="#222" stroke-width="0.7" fill="none"/><circle cx="241.9" cy="548.1" r="2.2" fill="none" stroke="#222" stroke-width="0.65"/><circle cx="247.2" cy="548.3" r="2.2" fill="none" stroke="#222" stroke-width="0.65"/><circle cx="244.5" cy="562.8" r="2.2" fill="none" stroke="#222" stroke-width="0.65"/><line x1="244.9" y1="642.1" x2="244.9" y2="644.6" stroke="#222" stroke-width="0.7"/><text x="0.0" y="0.0" font-size="8.7" text-anchor="end" font-weight="normal" font-style="normal" fill="#222" transform="translate(246.7,649.9) rotate(-45)">Del-14bp</text><rect x="254.6" y="549.9" width="9.1" height="92.2" fill="#c6d9f0" stroke="#333" stroke-width="0.75"/><path d="M259.1,557.1V542.8M257.5,557.1H260.7M257.5,542.8H260.7" stroke="#222" stroke-width="0.7" fill="none"/><circle cx="259.1" cy="537.1" r="2.2" fill="none" stroke="#222" stroke-width="0.65"/><circle cx="259.1" cy="550.7" r="2.2" fill="none" stroke="#222" stroke-width="0.65"/><circle cx="259.1" cy="561.9" r="2.2" fill="none" stroke="#222" stroke-width="0.65"/><line x1="259.5" y1="642.1" x2="259.5" y2="644.6" stroke="#222" stroke-width="0.7"/><text x="0.0" y="0.0" font-size="8.7" text-anchor="end" font-weight="normal" font-style="normal" fill="#222" transform="translate(261.4,649.9) rotate(-45)">Del-15bp</text><rect x="269.2" y="559.9" width="9.1" height="82.2" fill="#c6d9f0" stroke="#333" stroke-width="0.75"/><path d="M273.8,564.2V555.7M272.1,564.2H275.4M272.1,555.7H275.4" stroke="#222" stroke-width="0.7" fill="none"/><circle cx="273.8" cy="551.4" r="2.2" fill="none" stroke="#222" stroke-width="0.65"/><circle cx="271.1" cy="564.2" r="2.2" fill="none" stroke="#222" stroke-width="0.65"/><circle cx="275.9" cy="564.2" r="2.2" fill="none" stroke="#222" stroke-width="0.65"/><line x1="274.1" y1="642.1" x2="274.1" y2="644.6" stroke="#222" stroke-width="0.7"/><text x="0.0" y="0.0" font-size="8.7" text-anchor="end" font-weight="normal" font-style="normal" fill="#222" transform="translate(276.2,649.9) rotate(-45)">Del-16bp</text><rect x="283.8" y="573.5" width="9.1" height="68.6" fill="#c6d9f0" stroke="#333" stroke-width="0.75"/><path d="M288.4,575.1V572.0M286.8,575.1H290.0M286.8,572.0H290.0" stroke="#222" stroke-width="0.7" fill="none"/><circle cx="285.7" cy="570.7" r="2.2" fill="none" stroke="#222" stroke-width="0.65"/><circle cx="285.7" cy="575.9" r="2.2" fill="none" stroke="#222" stroke-width="0.65"/><circle cx="290.8" cy="574.0" r="2.2" fill="none" stroke="#222" stroke-width="0.65"/><line x1="288.8" y1="642.1" x2="288.8" y2="644.6" stroke="#222" stroke-width="0.7"/><text x="0.0" y="0.0" font-size="8.7" text-anchor="end" font-weight="normal" font-style="normal" fill="#222" transform="translate(290.9,649.9) rotate(-45)">Del-17bp</text><rect x="298.5" y="604.6" width="9.1" height="37.5" fill="#c6d9f0" stroke="#333" stroke-width="0.75"/><path d="M303.0,611.0V598.2M301.4,611.0H304.6M301.4,598.2H304.6" stroke="#222" stroke-width="0.7" fill="none"/><circle cx="303.0" cy="595.5" r="2.2" fill="none" stroke="#222" stroke-width="0.65"/><circle cx="303.0" cy="601.5" r="2.2" fill="none" stroke="#222" stroke-width="0.65"/><circle cx="303.0" cy="616.8" r="2.2" fill="none" stroke="#222" stroke-width="0.65"/><line x1="303.4" y1="642.1" x2="303.4" y2="644.6" stroke="#222" stroke-width="0.7"/><text x="0.0" y="0.0" font-size="8.7" text-anchor="end" font-weight="normal" font-style="normal" fill="#222" transform="translate(305.7,649.9) rotate(-45)">Del-18bp</text><rect x="313.1" y="607.8" width="9.1" height="34.3" fill="#c6d9f0" stroke="#333" stroke-width="0.75"/><path d="M317.6,614.7V600.8M316.0,614.7H319.2M316.0,600.8H319.2" stroke="#222" stroke-width="0.7" fill="none"/><circle cx="317.2" cy="594.0" r="2.2" fill="none" stroke="#222" stroke-width="0.65"/><circle cx="315.3" cy="616.1" r="2.2" fill="none" stroke="#222" stroke-width="0.65"/><circle cx="320.0" cy="613.3" r="2.2" fill="none" stroke="#222" stroke-width="0.65"/><line x1="318.0" y1="642.1" x2="318.0" y2="644.6" stroke="#222" stroke-width="0.7"/><text x="0.0" y="0.0" font-size="8.7" text-anchor="end" font-weight="normal" font-style="normal" fill="#222" transform="translate(320.4,649.9) rotate(-45)">Del-19bp</text><rect x="327.7" y="567.1" width="9.1" height="75.0" fill="#d0d0d0" stroke="#333" stroke-width="0.75"/><path d="M332.3,569.3V564.9M330.7,569.3H333.9M330.7,564.9H333.9" stroke="#222" stroke-width="0.7" fill="none"/><circle cx="332.5" cy="562.8" r="2.2" fill="none" stroke="#222" stroke-width="0.65"/><circle cx="329.7" cy="569.9" r="2.2" fill="none" stroke="#222" stroke-width="0.65"/><circle cx="334.8" cy="568.7" r="2.2" fill="none" stroke="#222" stroke-width="0.65"/><line x1="332.7" y1="642.1" x2="332.7" y2="644.6" stroke="#222" stroke-width="0.7"/><text x="0.0" y="0.0" font-size="8.7" text-anchor="end" font-weight="normal" font-style="normal" fill="#222" transform="translate(335.2,649.9) rotate(-45)">ωRNA-V3</text><line x1="44.5" y1="491.7" x2="44.5" y2="642.5" stroke="#111" stroke-width="0.9"/><line x1="44.1" y1="642.1" x2="343" y2="642.1" stroke="#222" stroke-width="0.8"/><line x1="42.0" y1="642.1" x2="44.5" y2="642.1" stroke="#222" stroke-width="0.8"/><text x="38.1" y="644.5" font-size="8.5" text-anchor="end" font-weight="normal" font-style="normal" fill="#222" >0.0</text><line x1="42.0" y1="604.5" x2="44.5" y2="604.5" stroke="#222" stroke-width="0.8"/><text x="38.1" y="606.9" font-size="8.5" text-anchor="end" font-weight="normal" font-style="normal" fill="#222" >0.5</text><line x1="42.0" y1="566.9" x2="44.5" y2="566.9" stroke="#222" stroke-width="0.8"/><text x="38.1" y="569.3" font-size="8.5" text-anchor="end" font-weight="normal" font-style="normal" fill="#222" >1.0</text><line x1="42.0" y1="529.3" x2="44.5" y2="529.3" stroke="#222" stroke-width="0.8"/><text x="38.1" y="531.7" font-size="8.5" text-anchor="end" font-weight="normal" font-style="normal" fill="#222" >1.5</text><line x1="42.0" y1="491.7" x2="44.5" y2="491.7" stroke="#222" stroke-width="0.8"/><text x="38.1" y="494.1" font-size="8.5" text-anchor="end" font-weight="normal" font-style="normal" fill="#222" >2.0</text><text x="0.0" y="0.0" font-size="8.8" text-anchor="middle" font-weight="normal" font-style="normal" fill="#222" transform="translate(19.9,566.5) rotate(-90)">Fold</text><path d="M242.2,535.2H246.6L244.4,539.9Z" fill="#c8384f"/><path d="M256.7,527.0H261.1L258.9,531.7Z" fill="#c8384f"/><path d="M271.4,540.6H275.8L273.6,545.3Z" fill="#c8384f"/><text x="428.6" y="484.5" font-size="15" text-anchor="start" font-weight="bold" font-style="normal" fill="#231815" >e</text><line x1="458.6" y1="565.45" x2="606.8" y2="565.45" stroke="#b0b0b0" stroke-width="0.6" stroke-dasharray="1.2,0.8"/><path d="M481.64,499.39 L481.66,500.49 L481.69,501.59 L481.71,502.69 L481.74,503.79 L481.78,504.89 L481.82,505.99 L481.87,507.09 L481.92,508.20 L481.97,509.30 L482.03,510.40 L482.10,511.50 L482.18,512.60 L482.26,513.70 L482.35,514.80 L482.45,515.90 L482.56,517.00 L482.68,518.11 L482.81,519.21 L482.95,520.31 L483.10,521.41 L483.26,522.51 L483.44,523.61 L483.62,524.71 L483.82,525.81 L484.03,526.91 L484.25,528.01 L484.49,529.12 L484.73,530.22 L484.99,531.32 L485.26,532.42 L485.54,533.52 L485.84,534.62 L486.14,535.72 L486.45,536.82 L486.77,537.92 L487.09,539.03 L487.42,540.13 L487.76,541.23 L488.09,542.33 L488.43,543.43 L488.77,544.53 L489.11,545.63 L489.44,546.73 L489.76,547.83 L490.08,548.93 L490.39,550.04 L490.69,551.14 L490.98,552.24 L491.25,553.34 L491.50,554.44 L491.74,555.54 L491.95,556.64 L492.14,557.74 L492.31,558.84 L492.46,559.94 L492.58,561.05 L492.68,562.15 L492.74,563.25 L492.79,564.35 L492.80,565.45 L492.79,566.55 L492.74,567.65 L492.68,568.75 L492.58,569.85 L492.46,570.96 L492.31,572.06 L492.14,573.16 L491.95,574.26 L491.74,575.36 L491.50,576.46 L491.25,577.56 L490.98,578.66 L490.69,579.76 L490.39,580.86 L490.08,581.97 L489.76,583.07 L489.44,584.17 L489.11,585.27 L488.77,586.37 L488.43,587.47 L488.09,588.57 L487.76,589.67 L487.42,590.77 L487.09,591.88 L486.77,592.98 L486.45,594.08 L486.14,595.18 L485.84,596.28 L485.54,597.38 L485.26,598.48 L484.99,599.58 L484.73,600.68 L484.49,601.78 L484.25,602.89 L484.03,603.99 L483.82,605.09 L483.62,606.19 L483.44,607.29 L483.26,608.39 L483.10,609.49 L482.95,610.59 L482.81,611.69 L482.68,612.79 L482.56,613.90 L482.45,615.00 L482.35,616.10 L482.26,617.20 L482.18,618.30 L482.10,619.40 L482.03,620.50 L481.97,621.60 L481.92,622.70 L481.87,623.81 L481.82,624.91 L481.78,626.01 L481.74,627.11 L481.71,628.21 L481.69,629.31 L481.66,630.41 L481.64,631.51 L481.36,631.51 L481.34,630.41 L481.31,629.31 L481.29,628.21 L481.26,627.11 L481.22,626.01 L481.18,624.91 L481.13,623.81 L481.08,622.70 L481.03,621.60 L480.97,620.50 L480.90,619.40 L480.82,618.30 L480.74,617.20 L480.65,616.10 L480.55,615.00 L480.44,613.90 L480.32,612.79 L480.19,611.69 L480.05,610.59 L479.90,609.49 L479.74,608.39 L479.56,607.29 L479.38,606.19 L479.18,605.09 L478.97,603.99 L478.75,602.89 L478.51,601.78 L478.27,600.68 L478.01,599.58 L477.74,598.48 L477.46,597.38 L477.16,596.28 L476.86,595.18 L476.55,594.08 L476.23,592.98 L475.91,591.88 L475.58,590.77 L475.24,589.67 L474.91,588.57 L474.57,587.47 L474.23,586.37 L473.89,585.27 L473.56,584.17 L473.24,583.07 L472.92,581.97 L472.61,580.86 L472.31,579.76 L472.02,578.66 L471.75,577.56 L471.50,576.46 L471.26,575.36 L471.05,574.26 L470.86,573.16 L470.69,572.06 L470.54,570.96 L470.42,569.85 L470.32,568.75 L470.26,567.65 L470.21,566.55 L470.20,565.45 L470.21,564.35 L470.26,563.25 L470.32,562.15 L470.42,561.05 L470.54,559.94 L470.69,558.84 L470.86,557.74 L471.05,556.64 L471.26,555.54 L471.50,554.44 L471.75,553.34 L472.02,552.24 L472.31,551.14 L472.61,550.04 L472.92,548.93 L473.24,547.83 L473.56,546.73 L473.89,545.63 L474.23,544.53 L474.57,543.43 L474.91,542.33 L475.24,541.23 L475.58,540.13 L475.91,539.03 L476.23,537.92 L476.55,536.82 L476.86,535.72 L477.16,534.62 L477.46,533.52 L477.74,532.42 L478.01,531.32 L478.27,530.22 L478.51,529.12 L478.75,528.01 L478.97,526.91 L479.18,525.81 L479.38,524.71 L479.56,523.61 L479.74,522.51 L479.90,521.41 L480.05,520.31 L480.19,519.21 L480.32,518.11 L480.44,517.00 L480.55,515.90 L480.65,514.80 L480.74,513.70 L480.82,512.60 L480.90,511.50 L480.97,510.40 L481.03,509.30 L481.08,508.20 L481.13,507.09 L481.18,505.99 L481.22,504.89 L481.26,503.79 L481.29,502.69 L481.31,501.59 L481.34,500.49 L481.36,499.39Z" fill="#d3d4d4" stroke="#111" stroke-width="0.9"/><path d="M515.85,504.67 L515.85,504.91 L515.85,505.15 L515.85,505.39 L515.85,505.63 L515.85,505.87 L515.85,506.11 L515.85,506.35 L515.85,506.59 L515.85,506.82 L515.86,507.06 L515.89,507.30 L515.93,507.54 L515.97,507.78 L516.02,508.02 L516.08,508.26 L516.14,508.50 L516.20,508.74 L516.27,508.98 L516.35,509.22 L516.44,509.45 L516.52,509.69 L516.62,509.93 L516.71,510.17 L516.81,510.41 L516.90,510.65 L517.00,510.89 L517.09,511.13 L517.19,511.37 L517.27,511.61 L517.35,511.85 L517.42,512.08 L517.48,512.32 L517.53,512.56 L517.56,512.80 L517.59,513.04 L517.60,513.28 L517.60,513.52 L517.58,513.76 L517.55,514.00 L517.51,514.24 L517.46,514.47 L517.39,514.71 L517.32,514.95 L517.24,515.19 L517.15,515.43 L517.06,515.67 L516.96,515.91 L516.87,516.15 L516.77,516.39 L516.67,516.63 L516.58,516.87 L516.49,517.10 L516.40,517.34 L516.32,517.58 L516.25,517.82 L516.18,518.06 L516.11,518.30 L516.06,518.54 L516.00,518.78 L515.96,519.02 L515.92,519.26 L515.88,519.50 L515.85,519.73 L515.85,519.97 L515.85,520.21 L515.85,520.45 L515.85,520.69 L515.85,520.93 L515.85,521.17 L515.85,521.41 L515.85,521.65 L515.85,521.89 L515.85,522.13 L515.85,522.36 L515.85,522.60 L515.85,522.84 L515.85,523.08 L515.85,523.32 L515.85,523.56 L515.85,523.80 L515.85,524.04 L515.85,524.28 L515.85,524.52 L515.85,524.76 L515.85,524.99 L515.85,525.23 L515.85,525.47 L515.85,525.71 L515.85,525.95 L515.85,526.19 L515.85,526.43 L515.85,526.67 L515.85,526.91 L515.85,527.15 L515.85,527.39 L515.85,527.62 L515.85,527.86 L515.85,528.10 L515.85,528.34 L515.85,528.58 L515.85,528.82 L515.85,529.06 L515.85,529.30 L515.85,529.54 L515.85,529.78 L515.85,530.02 L515.85,530.25 L515.85,530.49 L515.85,530.73 L515.85,530.97 L515.85,531.21 L515.85,531.45 L515.85,531.69 L515.85,531.93 L515.85,532.17 L515.85,532.41 L515.85,532.65 L515.85,532.88 L515.85,533.12 L515.85,533.36 L515.85,533.60 L515.85,533.84 L515.85,534.08 L515.85,534.32 L515.85,534.56 L515.85,534.80 L515.85,535.04 L515.85,535.28 L515.85,535.51 L515.85,535.75 L515.85,535.99 L515.85,536.23 L515.85,536.47 L515.85,536.71 L515.85,536.95 L515.85,537.19 L515.85,537.43 L515.85,537.67 L515.85,537.91 L515.85,538.14 L515.85,538.38 L515.85,538.62 L515.85,538.86 L515.85,539.10 L515.85,539.34 L515.85,539.58 L515.85,539.82 L515.85,540.06 L515.85,540.30 L515.85,540.54 L515.85,540.77 L515.85,541.01 L515.85,541.25 L515.85,541.49 L515.85,541.73 L515.85,541.97 L515.85,542.21 L515.85,542.45 L515.85,542.69 L515.85,542.93 L515.85,543.16 L515.85,543.40 L515.85,543.64 L515.85,543.88 L515.85,544.12 L515.85,544.36 L515.85,544.60 L515.85,544.84 L515.85,545.08 L515.85,545.32 L515.85,545.56 L515.85,545.79 L515.85,546.03 L515.85,546.27 L515.87,546.51 L515.90,546.75 L515.94,546.99 L515.99,547.23 L516.04,547.47 L516.10,547.71 L516.16,547.95 L516.24,548.19 L516.32,548.42 L516.41,548.66 L516.51,548.90 L516.61,549.14 L516.73,549.38 L516.85,549.62 L516.98,549.86 L517.12,550.10 L517.26,550.34 L517.41,550.58 L517.56,550.82 L517.72,551.05 L517.89,551.29 L518.05,551.53 L518.22,551.77 L518.40,552.01 L518.57,552.25 L518.75,552.49 L518.94,552.73 L519.12,552.97 L519.31,553.21 L519.50,553.45 L519.69,553.68 L519.89,553.92 L520.09,554.16 L520.29,554.40 L520.50,554.64 L520.72,554.88 L520.94,555.12 L521.17,555.36 L521.40,555.60 L521.63,555.84 L521.87,556.08 L522.12,556.31 L522.37,556.55 L522.62,556.79 L522.88,557.03 L523.13,557.27 L523.39,557.51 L523.64,557.75 L523.89,557.99 L524.14,558.23 L524.38,558.47 L524.62,558.71 L524.84,558.94 L525.04,559.18 L525.24,559.42 L525.41,559.66 L525.56,559.90 L525.69,560.14 L525.79,560.38 L525.86,560.62 L525.89,560.86 L525.90,561.10 L525.87,561.34 L525.80,561.57 L525.69,561.81 L525.55,562.05 L525.38,562.29 L525.17,562.53 L524.93,562.77 L524.66,563.01 L524.37,563.25 L524.05,563.49 L523.72,563.73 L523.38,563.97 L523.03,564.20 L522.67,564.44 L522.32,564.68 L521.96,564.92 L521.62,565.16 L521.29,565.40 L520.97,565.64 L520.66,565.88 L520.37,566.12 L520.09,566.36 L519.83,566.60 L519.58,566.83 L519.35,567.07 L519.13,567.31 L518.92,567.55 L518.73,567.79 L518.54,568.03 L518.37,568.27 L518.20,568.51 L518.03,568.75 L517.87,568.99 L517.72,569.23 L517.57,569.46 L517.43,569.70 L517.29,569.94 L517.16,570.18 L517.03,570.42 L516.90,570.66 L516.78,570.90 L516.67,571.14 L516.57,571.38 L516.47,571.62 L516.38,571.85 L516.29,572.09 L516.22,572.33 L516.15,572.57 L516.08,572.81 L516.03,573.05 L515.98,573.29 L515.93,573.53 L515.90,573.77 L515.86,574.01 L515.85,574.25 L515.85,574.48 L515.85,574.72 L515.85,574.96 L515.85,575.20 L515.85,575.44 L515.85,575.68 L515.85,575.92 L515.85,576.16 L515.85,576.40 L515.55,576.40 L515.55,576.16 L515.55,575.92 L515.55,575.68 L515.55,575.44 L515.55,575.20 L515.55,574.96 L515.55,574.72 L515.55,574.48 L515.55,574.25 L515.54,574.01 L515.50,573.77 L515.47,573.53 L515.42,573.29 L515.37,573.05 L515.32,572.81 L515.25,572.57 L515.18,572.33 L515.11,572.09 L515.02,571.85 L514.93,571.62 L514.83,571.38 L514.73,571.14 L514.62,570.90 L514.50,570.66 L514.37,570.42 L514.24,570.18 L514.11,569.94 L513.97,569.70 L513.83,569.46 L513.68,569.23 L513.53,568.99 L513.37,568.75 L513.20,568.51 L513.03,568.27 L512.86,568.03 L512.67,567.79 L512.48,567.55 L512.27,567.31 L512.05,567.07 L511.82,566.83 L511.57,566.60 L511.31,566.36 L511.03,566.12 L510.74,565.88 L510.43,565.64 L510.11,565.40 L509.78,565.16 L509.44,564.92 L509.08,564.68 L508.73,564.44 L508.37,564.20 L508.02,563.97 L507.68,563.73 L507.35,563.49 L507.03,563.25 L506.74,563.01 L506.47,562.77 L506.23,562.53 L506.02,562.29 L505.85,562.05 L505.71,561.81 L505.60,561.57 L505.53,561.34 L505.50,561.10 L505.51,560.86 L505.54,560.62 L505.61,560.38 L505.71,560.14 L505.84,559.90 L505.99,559.66 L506.16,559.42 L506.36,559.18 L506.56,558.94 L506.78,558.71 L507.02,558.47 L507.26,558.23 L507.51,557.99 L507.76,557.75 L508.01,557.51 L508.27,557.27 L508.52,557.03 L508.78,556.79 L509.03,556.55 L509.28,556.31 L509.53,556.08 L509.77,555.84 L510.00,555.60 L510.23,555.36 L510.46,555.12 L510.68,554.88 L510.90,554.64 L511.11,554.40 L511.31,554.16 L511.51,553.92 L511.71,553.68 L511.90,553.45 L512.09,553.21 L512.28,552.97 L512.46,552.73 L512.65,552.49 L512.83,552.25 L513.00,552.01 L513.18,551.77 L513.35,551.53 L513.51,551.29 L513.68,551.05 L513.84,550.82 L513.99,550.58 L514.14,550.34 L514.28,550.10 L514.42,549.86 L514.55,549.62 L514.67,549.38 L514.79,549.14 L514.89,548.90 L514.99,548.66 L515.08,548.42 L515.16,548.19 L515.24,547.95 L515.30,547.71 L515.36,547.47 L515.41,547.23 L515.46,546.99 L515.50,546.75 L515.53,546.51 L515.55,546.27 L515.55,546.03 L515.55,545.79 L515.55,545.56 L515.55,545.32 L515.55,545.08 L515.55,544.84 L515.55,544.60 L515.55,544.36 L515.55,544.12 L515.55,543.88 L515.55,543.64 L515.55,543.40 L515.55,543.16 L515.55,542.93 L515.55,542.69 L515.55,542.45 L515.55,542.21 L515.55,541.97 L515.55,541.73 L515.55,541.49 L515.55,541.25 L515.55,541.01 L515.55,540.77 L515.55,540.54 L515.55,540.30 L515.55,540.06 L515.55,539.82 L515.55,539.58 L515.55,539.34 L515.55,539.10 L515.55,538.86 L515.55,538.62 L515.55,538.38 L515.55,538.14 L515.55,537.91 L515.55,537.67 L515.55,537.43 L515.55,537.19 L515.55,536.95 L515.55,536.71 L515.55,536.47 L515.55,536.23 L515.55,535.99 L515.55,535.75 L515.55,535.51 L515.55,535.28 L515.55,535.04 L515.55,534.80 L515.55,534.56 L515.55,534.32 L515.55,534.08 L515.55,533.84 L515.55,533.60 L515.55,533.36 L515.55,533.12 L515.55,532.88 L515.55,532.65 L515.55,532.41 L515.55,532.17 L515.55,531.93 L515.55,531.69 L515.55,531.45 L515.55,531.21 L515.55,530.97 L515.55,530.73 L515.55,530.49 L515.55,530.25 L515.55,530.02 L515.55,529.78 L515.55,529.54 L515.55,529.30 L515.55,529.06 L515.55,528.82 L515.55,528.58 L515.55,528.34 L515.55,528.10 L515.55,527.86 L515.55,527.62 L515.55,527.39 L515.55,527.15 L515.55,526.91 L515.55,526.67 L515.55,526.43 L515.55,526.19 L515.55,525.95 L515.55,525.71 L515.55,525.47 L515.55,525.23 L515.55,524.99 L515.55,524.76 L515.55,524.52 L515.55,524.28 L515.55,524.04 L515.55,523.80 L515.55,523.56 L515.55,523.32 L515.55,523.08 L515.55,522.84 L515.55,522.60 L515.55,522.36 L515.55,522.13 L515.55,521.89 L515.55,521.65 L515.55,521.41 L515.55,521.17 L515.55,520.93 L515.55,520.69 L515.55,520.45 L515.55,520.21 L515.55,519.97 L515.55,519.73 L515.52,519.50 L515.48,519.26 L515.44,519.02 L515.40,518.78 L515.34,518.54 L515.29,518.30 L515.22,518.06 L515.15,517.82 L515.08,517.58 L515.00,517.34 L514.91,517.10 L514.82,516.87 L514.73,516.63 L514.63,516.39 L514.53,516.15 L514.44,515.91 L514.34,515.67 L514.25,515.43 L514.16,515.19 L514.08,514.95 L514.01,514.71 L513.94,514.47 L513.89,514.24 L513.85,514.00 L513.82,513.76 L513.80,513.52 L513.80,513.28 L513.81,513.04 L513.84,512.80 L513.87,512.56 L513.92,512.32 L513.98,512.08 L514.05,511.85 L514.13,511.61 L514.21,511.37 L514.31,511.13 L514.40,510.89 L514.50,510.65 L514.59,510.41 L514.69,510.17 L514.78,509.93 L514.88,509.69 L514.96,509.45 L515.05,509.22 L515.13,508.98 L515.20,508.74 L515.26,508.50 L515.32,508.26 L515.38,508.02 L515.43,507.78 L515.47,507.54 L515.51,507.30 L515.54,507.06 L515.55,506.82 L515.55,506.59 L515.55,506.35 L515.55,506.11 L515.55,505.87 L515.55,505.63 L515.55,505.39 L515.55,505.15 L515.55,504.91 L515.55,504.67Z" fill="#c6d9f0" stroke="#111" stroke-width="0.9"/><line x1="511.66" y1="553.75" x2="519.74" y2="553.75" stroke="#333" stroke-width="0.6" stroke-dasharray="0.8,0.8"/><line x1="505.56" y1="560.54" x2="525.84" y2="560.54" stroke="#111" stroke-width="0.8" stroke-dasharray="2,1"/><line x1="507.45" y1="563.56" x2="523.95" y2="563.56" stroke="#333" stroke-width="0.6" stroke-dasharray="0.8,0.8"/><path d="M550.25,502.22 L550.25,502.52 L550.25,502.82 L550.25,503.12 L550.25,503.42 L550.25,503.73 L550.25,504.03 L550.25,504.33 L550.25,504.63 L550.25,504.93 L550.25,505.23 L550.25,505.53 L550.25,505.84 L550.26,506.14 L550.28,506.44 L550.30,506.74 L550.32,507.04 L550.35,507.34 L550.38,507.64 L550.41,507.94 L550.44,508.25 L550.47,508.55 L550.51,508.85 L550.55,509.15 L550.59,509.45 L550.64,509.75 L550.68,510.05 L550.74,510.36 L550.79,510.66 L550.85,510.96 L550.91,511.26 L550.97,511.56 L551.03,511.86 L551.10,512.16 L551.17,512.47 L551.25,512.77 L551.32,513.07 L551.40,513.37 L551.48,513.67 L551.56,513.97 L551.65,514.27 L551.73,514.57 L551.81,514.88 L551.90,515.18 L551.99,515.48 L552.07,515.78 L552.15,516.08 L552.24,516.38 L552.32,516.68 L552.40,516.99 L552.48,517.29 L552.55,517.59 L552.62,517.89 L552.69,518.19 L552.75,518.49 L552.81,518.79 L552.87,519.10 L552.92,519.40 L552.96,519.70 L553.00,520.00 L553.03,520.30 L553.06,520.60 L553.08,520.90 L553.09,521.21 L553.10,521.51 L553.10,521.81 L553.10,522.11 L553.08,522.41 L553.06,522.71 L553.04,523.01 L553.01,523.31 L552.97,523.62 L552.93,523.92 L552.88,524.22 L552.83,524.52 L552.78,524.82 L552.72,525.12 L552.65,525.42 L552.58,525.73 L552.52,526.03 L552.44,526.33 L552.37,526.63 L552.29,526.93 L552.22,527.23 L552.14,527.53 L552.07,527.84 L551.99,528.14 L551.92,528.44 L551.85,528.74 L551.78,529.04 L551.71,529.34 L551.65,529.64 L551.59,529.94 L551.54,530.25 L551.48,530.55 L551.44,530.85 L551.39,531.15 L551.36,531.45 L551.32,531.75 L551.30,532.05 L551.28,532.36 L551.26,532.66 L551.25,532.96 L551.25,533.26 L551.25,533.56 L551.26,533.86 L551.28,534.16 L551.30,534.47 L551.32,534.77 L551.36,535.07 L551.40,535.37 L551.44,535.67 L551.49,535.97 L551.55,536.27 L551.61,536.58 L551.68,536.88 L551.75,537.18 L551.83,537.48 L551.91,537.78 L551.99,538.08 L552.08,538.38 L552.17,538.68 L552.27,538.99 L552.37,539.29 L552.47,539.59 L552.57,539.89 L552.68,540.19 L552.79,540.49 L552.90,540.79 L553.01,541.10 L553.12,541.40 L553.24,541.70 L553.35,542.00 L553.47,542.30 L553.58,542.60 L553.70,542.90 L553.82,543.21 L553.94,543.51 L554.06,543.81 L554.18,544.11 L554.30,544.41 L554.42,544.71 L554.54,545.01 L554.67,545.31 L554.79,545.62 L554.92,545.92 L555.05,546.22 L555.18,546.52 L555.31,546.82 L555.44,547.12 L555.58,547.42 L555.72,547.73 L555.86,548.03 L556.00,548.33 L556.15,548.63 L556.29,548.93 L556.45,549.23 L556.60,549.53 L556.76,549.84 L556.92,550.14 L557.08,550.44 L557.25,550.74 L557.42,551.04 L557.58,551.34 L557.76,551.64 L557.93,551.94 L558.10,552.25 L558.27,552.55 L558.45,552.85 L558.62,553.15 L558.79,553.45 L558.96,553.75 L559.13,554.05 L559.29,554.36 L559.46,554.66 L559.61,554.96 L559.77,555.26 L559.92,555.56 L560.06,555.86 L560.20,556.16 L560.33,556.47 L560.46,556.77 L560.58,557.07 L560.69,557.37 L560.79,557.67 L560.89,557.97 L560.98,558.27 L561.06,558.58 L561.14,558.88 L561.21,559.18 L561.27,559.48 L561.32,559.78 L561.36,560.08 L561.40,560.38 L561.43,560.68 L561.46,560.99 L561.48,561.29 L561.49,561.59 L561.50,561.89 L561.50,562.19 L561.50,562.49 L561.49,562.79 L561.47,563.10 L561.46,563.40 L561.43,563.70 L561.41,564.00 L561.38,564.30 L561.34,564.60 L561.30,564.90 L561.26,565.21 L561.22,565.51 L561.17,565.81 L561.11,566.11 L561.06,566.41 L560.99,566.71 L560.93,567.01 L560.85,567.31 L560.78,567.62 L560.70,567.92 L560.61,568.22 L560.52,568.52 L560.42,568.82 L560.31,569.12 L560.20,569.42 L560.09,569.73 L559.96,570.03 L559.83,570.33 L559.69,570.63 L559.55,570.93 L559.39,571.23 L559.23,571.53 L559.06,571.84 L558.89,572.14 L558.71,572.44 L558.52,572.74 L558.33,573.04 L558.13,573.34 L557.92,573.64 L557.71,573.95 L557.49,574.25 L557.27,574.55 L557.04,574.85 L556.82,575.15 L556.58,575.45 L556.35,575.75 L556.12,576.05 L555.88,576.36 L555.64,576.66 L555.41,576.96 L555.18,577.26 L554.94,577.56 L554.71,577.86 L554.49,578.16 L554.26,578.47 L554.04,578.77 L553.83,579.07 L553.62,579.37 L553.41,579.67 L553.22,579.97 L553.02,580.27 L552.84,580.58 L552.66,580.88 L552.49,581.18 L552.32,581.48 L552.17,581.78 L552.02,582.08 L551.87,582.38 L551.74,582.68 L551.61,582.99 L551.49,583.29 L551.37,583.59 L551.27,583.89 L551.17,584.19 L551.07,584.49 L550.99,584.79 L550.91,585.10 L550.83,585.40 L550.76,585.70 L550.70,586.00 L550.64,586.30 L550.58,586.60 L550.53,586.90 L550.49,587.21 L550.45,587.51 L550.41,587.81 L550.38,588.11 L550.34,588.41 L550.32,588.71 L550.29,589.01 L550.27,589.31 L550.25,589.62 L550.25,589.92 L550.25,590.22 L550.25,590.52 L550.25,590.82 L550.25,591.12 L550.25,591.42 L550.25,591.73 L550.25,592.03 L550.25,592.33 L550.25,592.63 L549.95,592.63 L549.95,592.33 L549.95,592.03 L549.95,591.73 L549.95,591.42 L549.95,591.12 L549.95,590.82 L549.95,590.52 L549.95,590.22 L549.95,589.92 L549.95,589.62 L549.93,589.31 L549.91,589.01 L549.88,588.71 L549.86,588.41 L549.82,588.11 L549.79,587.81 L549.75,587.51 L549.71,587.21 L549.67,586.90 L549.62,586.60 L549.56,586.30 L549.50,586.00 L549.44,585.70 L549.37,585.40 L549.29,585.10 L549.21,584.79 L549.13,584.49 L549.03,584.19 L548.93,583.89 L548.83,583.59 L548.71,583.29 L548.59,582.99 L548.46,582.68 L548.33,582.38 L548.18,582.08 L548.03,581.78 L547.88,581.48 L547.71,581.18 L547.54,580.88 L547.36,580.58 L547.18,580.27 L546.98,579.97 L546.79,579.67 L546.58,579.37 L546.37,579.07 L546.16,578.77 L545.94,578.47 L545.71,578.16 L545.49,577.86 L545.26,577.56 L545.02,577.26 L544.79,576.96 L544.56,576.66 L544.32,576.36 L544.08,576.05 L543.85,575.75 L543.62,575.45 L543.38,575.15 L543.16,574.85 L542.93,574.55 L542.71,574.25 L542.49,573.95 L542.28,573.64 L542.07,573.34 L541.87,573.04 L541.68,572.74 L541.49,572.44 L541.31,572.14 L541.14,571.84 L540.97,571.53 L540.81,571.23 L540.65,570.93 L540.51,570.63 L540.37,570.33 L540.24,570.03 L540.11,569.73 L540.00,569.42 L539.89,569.12 L539.78,568.82 L539.68,568.52 L539.59,568.22 L539.50,567.92 L539.42,567.62 L539.35,567.31 L539.27,567.01 L539.21,566.71 L539.14,566.41 L539.09,566.11 L539.03,565.81 L538.98,565.51 L538.94,565.21 L538.90,564.90 L538.86,564.60 L538.82,564.30 L538.79,564.00 L538.77,563.70 L538.74,563.40 L538.73,563.10 L538.71,562.79 L538.70,562.49 L538.70,562.19 L538.70,561.89 L538.71,561.59 L538.72,561.29 L538.74,560.99 L538.77,560.68 L538.80,560.38 L538.84,560.08 L538.88,559.78 L538.93,559.48 L538.99,559.18 L539.06,558.88 L539.14,558.58 L539.22,558.27 L539.31,557.97 L539.41,557.67 L539.51,557.37 L539.62,557.07 L539.74,556.77 L539.87,556.47 L540.00,556.16 L540.14,555.86 L540.28,555.56 L540.43,555.26 L540.59,554.96 L540.74,554.66 L540.91,554.36 L541.07,554.05 L541.24,553.75 L541.41,553.45 L541.58,553.15 L541.75,552.85 L541.93,552.55 L542.10,552.25 L542.27,551.94 L542.44,551.64 L542.62,551.34 L542.78,551.04 L542.95,550.74 L543.12,550.44 L543.28,550.14 L543.44,549.84 L543.60,549.53 L543.75,549.23 L543.91,548.93 L544.05,548.63 L544.20,548.33 L544.34,548.03 L544.48,547.73 L544.62,547.42 L544.76,547.12 L544.89,546.82 L545.02,546.52 L545.15,546.22 L545.28,545.92 L545.41,545.62 L545.53,545.31 L545.66,545.01 L545.78,544.71 L545.90,544.41 L546.02,544.11 L546.14,543.81 L546.26,543.51 L546.38,543.21 L546.50,542.90 L546.62,542.60 L546.73,542.30 L546.85,542.00 L546.96,541.70 L547.08,541.40 L547.19,541.10 L547.30,540.79 L547.41,540.49 L547.52,540.19 L547.63,539.89 L547.73,539.59 L547.83,539.29 L547.93,538.99 L548.03,538.68 L548.12,538.38 L548.21,538.08 L548.29,537.78 L548.37,537.48 L548.45,537.18 L548.52,536.88 L548.59,536.58 L548.65,536.27 L548.71,535.97 L548.76,535.67 L548.80,535.37 L548.84,535.07 L548.88,534.77 L548.90,534.47 L548.92,534.16 L548.94,533.86 L548.95,533.56 L548.95,533.26 L548.95,532.96 L548.94,532.66 L548.92,532.36 L548.90,532.05 L548.88,531.75 L548.84,531.45 L548.81,531.15 L548.76,530.85 L548.72,530.55 L548.66,530.25 L548.61,529.94 L548.55,529.64 L548.49,529.34 L548.42,529.04 L548.35,528.74 L548.28,528.44 L548.21,528.14 L548.13,527.84 L548.06,527.53 L547.98,527.23 L547.91,526.93 L547.83,526.63 L547.76,526.33 L547.68,526.03 L547.62,525.73 L547.55,525.42 L547.48,525.12 L547.42,524.82 L547.37,524.52 L547.32,524.22 L547.27,523.92 L547.23,523.62 L547.19,523.31 L547.16,523.01 L547.14,522.71 L547.12,522.41 L547.10,522.11 L547.10,521.81 L547.10,521.51 L547.11,521.21 L547.12,520.90 L547.14,520.60 L547.17,520.30 L547.20,520.00 L547.24,519.70 L547.28,519.40 L547.33,519.10 L547.39,518.79 L547.45,518.49 L547.51,518.19 L547.58,517.89 L547.65,517.59 L547.72,517.29 L547.80,516.99 L547.88,516.68 L547.96,516.38 L548.05,516.08 L548.13,515.78 L548.21,515.48 L548.30,515.18 L548.39,514.88 L548.47,514.57 L548.55,514.27 L548.64,513.97 L548.72,513.67 L548.80,513.37 L548.88,513.07 L548.95,512.77 L549.03,512.47 L549.10,512.16 L549.17,511.86 L549.23,511.56 L549.29,511.26 L549.35,510.96 L549.41,510.66 L549.46,510.36 L549.52,510.05 L549.56,509.75 L549.61,509.45 L549.65,509.15 L549.69,508.85 L549.73,508.55 L549.76,508.25 L549.79,507.94 L549.82,507.64 L549.85,507.34 L549.88,507.04 L549.90,506.74 L549.92,506.44 L549.94,506.14 L549.95,505.84 L549.95,505.53 L549.95,505.23 L549.95,504.93 L549.95,504.63 L549.95,504.33 L549.95,504.03 L549.95,503.73 L549.95,503.42 L549.95,503.12 L549.95,502.82 L549.95,502.52 L549.95,502.22Z" fill="#c6d9f0" stroke="#111" stroke-width="0.9"/><line x1="544.67" y1="547.33" x2="555.53" y2="547.33" stroke="#333" stroke-width="0.6" stroke-dasharray="0.8,0.8"/><line x1="539.12" y1="558.66" x2="561.08" y2="558.66" stroke="#111" stroke-width="0.8" stroke-dasharray="2,1"/><line x1="540.38" y1="570.36" x2="559.82" y2="570.36" stroke="#333" stroke-width="0.6" stroke-dasharray="0.8,0.8"/><path d="M584.75,545.44 L584.75,545.68 L584.75,545.91 L584.75,546.14 L584.75,546.38 L584.75,546.61 L584.75,546.85 L584.75,547.08 L584.75,547.31 L584.75,547.55 L584.75,547.78 L584.75,548.02 L584.75,548.25 L584.75,548.49 L584.76,548.72 L584.78,548.95 L584.80,549.19 L584.82,549.42 L584.85,549.66 L584.88,549.89 L584.91,550.12 L584.94,550.36 L584.98,550.59 L585.02,550.83 L585.06,551.06 L585.10,551.29 L585.15,551.53 L585.21,551.76 L585.27,552.00 L585.33,552.23 L585.40,552.46 L585.47,552.70 L585.54,552.93 L585.63,553.17 L585.71,553.40 L585.81,553.63 L585.91,553.87 L586.01,554.10 L586.12,554.34 L586.24,554.57 L586.36,554.80 L586.49,555.04 L586.62,555.27 L586.77,555.51 L586.91,555.74 L587.07,555.97 L587.23,556.21 L587.40,556.44 L587.57,556.68 L587.75,556.91 L587.94,557.15 L588.13,557.38 L588.33,557.61 L588.53,557.85 L588.74,558.08 L588.96,558.32 L589.18,558.55 L589.40,558.78 L589.62,559.02 L589.85,559.25 L590.09,559.49 L590.32,559.72 L590.56,559.95 L590.80,560.19 L591.04,560.42 L591.28,560.66 L591.52,560.89 L591.76,561.12 L592.00,561.36 L592.23,561.59 L592.47,561.83 L592.70,562.06 L592.93,562.29 L593.15,562.53 L593.37,562.76 L593.58,563.00 L593.79,563.23 L593.99,563.46 L594.18,563.70 L594.36,563.93 L594.54,564.17 L594.71,564.40 L594.87,564.63 L595.02,564.87 L595.16,565.10 L595.29,565.34 L595.41,565.57 L595.52,565.80 L595.62,566.04 L595.70,566.27 L595.78,566.51 L595.84,566.74 L595.90,566.98 L595.94,567.21 L595.97,567.44 L595.99,567.68 L596.00,567.91 L596.00,568.15 L595.99,568.38 L595.96,568.61 L595.93,568.85 L595.89,569.08 L595.84,569.32 L595.77,569.55 L595.70,569.78 L595.63,570.02 L595.54,570.25 L595.45,570.49 L595.34,570.72 L595.24,570.95 L595.12,571.19 L595.01,571.42 L594.88,571.66 L594.75,571.89 L594.62,572.12 L594.49,572.36 L594.35,572.59 L594.21,572.83 L594.06,573.06 L593.92,573.29 L593.77,573.53 L593.62,573.76 L593.47,574.00 L593.33,574.23 L593.18,574.46 L593.03,574.70 L592.88,574.93 L592.74,575.17 L592.59,575.40 L592.45,575.63 L592.31,575.87 L592.17,576.10 L592.03,576.34 L591.90,576.57 L591.76,576.81 L591.63,577.04 L591.50,577.27 L591.38,577.51 L591.25,577.74 L591.13,577.98 L591.01,578.21 L590.89,578.44 L590.77,578.68 L590.66,578.91 L590.55,579.15 L590.44,579.38 L590.33,579.61 L590.22,579.85 L590.11,580.08 L590.01,580.32 L589.91,580.55 L589.80,580.78 L589.70,581.02 L589.60,581.25 L589.50,581.49 L589.40,581.72 L589.31,581.95 L589.21,582.19 L589.12,582.42 L589.02,582.66 L588.93,582.89 L588.84,583.12 L588.75,583.36 L588.66,583.59 L588.58,583.83 L588.50,584.06 L588.42,584.29 L588.34,584.53 L588.26,584.76 L588.19,585.00 L588.12,585.23 L588.06,585.47 L588.00,585.70 L587.94,585.93 L587.89,586.17 L587.84,586.40 L587.80,586.64 L587.76,586.87 L587.73,587.10 L587.71,587.34 L587.69,587.57 L587.67,587.81 L587.67,588.04 L587.67,588.27 L587.67,588.51 L587.69,588.74 L587.71,588.98 L587.73,589.21 L587.77,589.44 L587.81,589.68 L587.85,589.91 L587.90,590.15 L587.96,590.38 L588.03,590.61 L588.10,590.85 L588.17,591.08 L588.25,591.32 L588.33,591.55 L588.42,591.78 L588.51,592.02 L588.60,592.25 L588.70,592.49 L588.80,592.72 L588.90,592.95 L589.00,593.19 L589.09,593.42 L589.19,593.66 L589.29,593.89 L589.39,594.12 L589.48,594.36 L589.57,594.59 L589.66,594.83 L589.74,595.06 L589.82,595.30 L589.89,595.53 L589.95,595.76 L590.01,596.00 L590.07,596.23 L590.11,596.47 L590.15,596.70 L590.18,596.93 L590.20,597.17 L590.22,597.40 L590.22,597.64 L590.22,597.87 L590.21,598.10 L590.19,598.34 L590.16,598.57 L590.12,598.81 L590.07,599.04 L590.02,599.27 L589.95,599.51 L589.88,599.74 L589.81,599.98 L589.72,600.21 L589.63,600.44 L589.53,600.68 L589.42,600.91 L589.31,601.15 L589.20,601.38 L589.08,601.61 L588.95,601.85 L588.83,602.08 L588.70,602.32 L588.56,602.55 L588.43,602.78 L588.29,603.02 L588.15,603.25 L588.01,603.49 L587.88,603.72 L587.74,603.96 L587.60,604.19 L587.46,604.42 L587.33,604.66 L587.20,604.89 L587.07,605.13 L586.94,605.36 L586.81,605.59 L586.69,605.83 L586.57,606.06 L586.46,606.30 L586.35,606.53 L586.24,606.76 L586.14,607.00 L586.04,607.23 L585.94,607.47 L585.85,607.70 L585.76,607.93 L585.68,608.17 L585.60,608.40 L585.53,608.64 L585.46,608.87 L585.39,609.10 L585.33,609.34 L585.27,609.57 L585.21,609.81 L585.16,610.04 L585.12,610.27 L585.07,610.51 L585.03,610.74 L584.99,610.98 L584.95,611.21 L584.92,611.44 L584.89,611.68 L584.86,611.91 L584.84,612.15 L584.81,612.38 L584.79,612.61 L584.77,612.85 L584.75,613.08 L584.75,613.32 L584.75,613.55 L584.75,613.79 L584.75,614.02 L584.75,614.25 L584.75,614.49 L584.75,614.72 L584.75,614.96 L584.75,615.19 L584.75,615.42 L584.75,615.66 L584.45,615.66 L584.45,615.42 L584.45,615.19 L584.45,614.96 L584.45,614.72 L584.45,614.49 L584.45,614.25 L584.45,614.02 L584.45,613.79 L584.45,613.55 L584.45,613.32 L584.45,613.08 L584.43,612.85 L584.41,612.61 L584.39,612.38 L584.36,612.15 L584.34,611.91 L584.31,611.68 L584.28,611.44 L584.25,611.21 L584.21,610.98 L584.17,610.74 L584.13,610.51 L584.08,610.27 L584.04,610.04 L583.99,609.81 L583.93,609.57 L583.87,609.34 L583.81,609.10 L583.74,608.87 L583.67,608.64 L583.60,608.40 L583.52,608.17 L583.44,607.93 L583.35,607.70 L583.26,607.47 L583.16,607.23 L583.06,607.00 L582.96,606.76 L582.85,606.53 L582.74,606.30 L582.63,606.06 L582.51,605.83 L582.39,605.59 L582.26,605.36 L582.13,605.13 L582.00,604.89 L581.87,604.66 L581.74,604.42 L581.60,604.19 L581.46,603.96 L581.32,603.72 L581.19,603.49 L581.05,603.25 L580.91,603.02 L580.77,602.78 L580.64,602.55 L580.50,602.32 L580.37,602.08 L580.25,601.85 L580.12,601.61 L580.00,601.38 L579.89,601.15 L579.78,600.91 L579.67,600.68 L579.57,600.44 L579.48,600.21 L579.39,599.98 L579.32,599.74 L579.25,599.51 L579.18,599.27 L579.13,599.04 L579.08,598.81 L579.04,598.57 L579.01,598.34 L578.99,598.10 L578.98,597.87 L578.98,597.64 L578.98,597.40 L579.00,597.17 L579.02,596.93 L579.05,596.70 L579.09,596.47 L579.13,596.23 L579.19,596.00 L579.25,595.76 L579.31,595.53 L579.38,595.30 L579.46,595.06 L579.54,594.83 L579.63,594.59 L579.72,594.36 L579.81,594.12 L579.91,593.89 L580.01,593.66 L580.11,593.42 L580.20,593.19 L580.30,592.95 L580.40,592.72 L580.50,592.49 L580.60,592.25 L580.69,592.02 L580.78,591.78 L580.87,591.55 L580.95,591.32 L581.03,591.08 L581.10,590.85 L581.17,590.61 L581.24,590.38 L581.30,590.15 L581.35,589.91 L581.39,589.68 L581.43,589.44 L581.47,589.21 L581.49,588.98 L581.51,588.74 L581.53,588.51 L581.53,588.27 L581.53,588.04 L581.53,587.81 L581.51,587.57 L581.49,587.34 L581.47,587.10 L581.44,586.87 L581.40,586.64 L581.36,586.40 L581.31,586.17 L581.26,585.93 L581.20,585.70 L581.14,585.47 L581.08,585.23 L581.01,585.00 L580.94,584.76 L580.86,584.53 L580.78,584.29 L580.70,584.06 L580.62,583.83 L580.54,583.59 L580.45,583.36 L580.36,583.12 L580.27,582.89 L580.18,582.66 L580.08,582.42 L579.99,582.19 L579.89,581.95 L579.80,581.72 L579.70,581.49 L579.60,581.25 L579.50,581.02 L579.40,580.78 L579.29,580.55 L579.19,580.32 L579.09,580.08 L578.98,579.85 L578.87,579.61 L578.76,579.38 L578.65,579.15 L578.54,578.91 L578.43,578.68 L578.31,578.44 L578.19,578.21 L578.07,577.98 L577.95,577.74 L577.82,577.51 L577.70,577.27 L577.57,577.04 L577.44,576.81 L577.30,576.57 L577.17,576.34 L577.03,576.10 L576.89,575.87 L576.75,575.63 L576.61,575.40 L576.46,575.17 L576.32,574.93 L576.17,574.70 L576.02,574.46 L575.87,574.23 L575.73,574.00 L575.58,573.76 L575.43,573.53 L575.28,573.29 L575.14,573.06 L574.99,572.83 L574.85,572.59 L574.71,572.36 L574.58,572.12 L574.45,571.89 L574.32,571.66 L574.19,571.42 L574.08,571.19 L573.96,570.95 L573.86,570.72 L573.75,570.49 L573.66,570.25 L573.57,570.02 L573.50,569.78 L573.43,569.55 L573.36,569.32 L573.31,569.08 L573.27,568.85 L573.24,568.61 L573.21,568.38 L573.20,568.15 L573.20,567.91 L573.21,567.68 L573.23,567.44 L573.26,567.21 L573.30,566.98 L573.36,566.74 L573.42,566.51 L573.50,566.27 L573.58,566.04 L573.68,565.80 L573.79,565.57 L573.91,565.34 L574.04,565.10 L574.18,564.87 L574.33,564.63 L574.49,564.40 L574.66,564.17 L574.84,563.93 L575.02,563.70 L575.21,563.46 L575.41,563.23 L575.62,563.00 L575.83,562.76 L576.05,562.53 L576.27,562.29 L576.50,562.06 L576.73,561.83 L576.97,561.59 L577.20,561.36 L577.44,561.12 L577.68,560.89 L577.92,560.66 L578.16,560.42 L578.40,560.19 L578.64,559.95 L578.88,559.72 L579.11,559.49 L579.35,559.25 L579.58,559.02 L579.80,558.78 L580.02,558.55 L580.24,558.32 L580.46,558.08 L580.67,557.85 L580.87,557.61 L581.07,557.38 L581.26,557.15 L581.45,556.91 L581.63,556.68 L581.80,556.44 L581.97,556.21 L582.13,555.97 L582.29,555.74 L582.43,555.51 L582.58,555.27 L582.71,555.04 L582.84,554.80 L582.96,554.57 L583.08,554.34 L583.19,554.10 L583.29,553.87 L583.39,553.63 L583.49,553.40 L583.57,553.17 L583.66,552.93 L583.73,552.70 L583.80,552.46 L583.87,552.23 L583.93,552.00 L583.99,551.76 L584.05,551.53 L584.10,551.29 L584.14,551.06 L584.18,550.83 L584.22,550.59 L584.26,550.36 L584.29,550.12 L584.32,549.89 L584.35,549.66 L584.38,549.42 L584.40,549.19 L584.42,548.95 L584.44,548.72 L584.45,548.49 L584.45,548.25 L584.45,548.02 L584.45,547.78 L584.45,547.55 L584.45,547.31 L584.45,547.08 L584.45,546.85 L584.45,546.61 L584.45,546.38 L584.45,546.14 L584.45,545.91 L584.45,545.68 L584.45,545.44Z" fill="#c6d9f0" stroke="#111" stroke-width="0.9"/><line x1="573.85" y1="565.45" x2="595.35" y2="565.45" stroke="#333" stroke-width="0.6" stroke-dasharray="0.8,0.8"/><line x1="574.87" y1="572.62" x2="594.33" y2="572.62" stroke="#111" stroke-width="0.8" stroke-dasharray="2,1"/><line x1="581.14" y1="590.74" x2="588.06" y2="590.74" stroke="#333" stroke-width="0.6" stroke-dasharray="0.8,0.8"/><circle cx="515.70" cy="513.36" r="2.15" fill="none" stroke="#1a1a1a" stroke-width="0.7"/><circle cx="506.50" cy="556.39" r="2.15" fill="none" stroke="#1a1a1a" stroke-width="0.7"/><circle cx="524.90" cy="552.80" r="2.15" fill="none" stroke="#1a1a1a" stroke-width="0.7"/><circle cx="506.50" cy="561.30" r="2.15" fill="none" stroke="#1a1a1a" stroke-width="0.7"/><circle cx="514.90" cy="562.43" r="2.15" fill="none" stroke="#1a1a1a" stroke-width="0.7"/><circle cx="525.50" cy="557.90" r="2.15" fill="none" stroke="#1a1a1a" stroke-width="0.7"/><circle cx="525.70" cy="562.81" r="2.15" fill="none" stroke="#1a1a1a" stroke-width="0.7"/><circle cx="506.50" cy="567.72" r="2.15" fill="none" stroke="#1a1a1a" stroke-width="0.7"/><circle cx="517.50" cy="562.05" r="2.15" fill="none" stroke="#1a1a1a" stroke-width="0.7"/><circle cx="550.10" cy="521.66" r="2.15" fill="none" stroke="#1a1a1a" stroke-width="0.7"/><circle cx="550.10" cy="545.07" r="2.15" fill="none" stroke="#1a1a1a" stroke-width="0.7"/><circle cx="545.60" cy="557.52" r="2.15" fill="none" stroke="#1a1a1a" stroke-width="0.7"/><circle cx="554.00" cy="555.26" r="2.15" fill="none" stroke="#1a1a1a" stroke-width="0.7"/><circle cx="554.00" cy="560.92" r="2.15" fill="none" stroke="#1a1a1a" stroke-width="0.7"/><circle cx="550.10" cy="565.83" r="2.15" fill="none" stroke="#1a1a1a" stroke-width="0.7"/><circle cx="545.60" cy="572.62" r="2.15" fill="none" stroke="#1a1a1a" stroke-width="0.7"/><circle cx="554.00" cy="571.49" r="2.15" fill="none" stroke="#1a1a1a" stroke-width="0.7"/><circle cx="580.10" cy="565.45" r="2.15" fill="none" stroke="#1a1a1a" stroke-width="0.7"/><circle cx="589.30" cy="562.43" r="2.15" fill="none" stroke="#1a1a1a" stroke-width="0.7"/><circle cx="580.10" cy="569.98" r="2.15" fill="none" stroke="#1a1a1a" stroke-width="0.7"/><circle cx="589.30" cy="568.47" r="2.15" fill="none" stroke="#1a1a1a" stroke-width="0.7"/><circle cx="584.70" cy="574.89" r="2.15" fill="none" stroke="#1a1a1a" stroke-width="0.7"/><circle cx="584.70" cy="582.06" r="2.15" fill="none" stroke="#1a1a1a" stroke-width="0.7"/><circle cx="580.10" cy="599.43" r="2.15" fill="none" stroke="#1a1a1a" stroke-width="0.7"/><circle cx="589.30" cy="596.22" r="2.15" fill="none" stroke="#1a1a1a" stroke-width="0.7"/><circle cx="472.40" cy="565.45" r="1.55" fill="none" stroke="#111" stroke-width="0.7"/><circle cx="474.65" cy="565.45" r="1.55" fill="none" stroke="#111" stroke-width="0.7"/><circle cx="476.90" cy="565.45" r="1.55" fill="none" stroke="#111" stroke-width="0.7"/><circle cx="479.15" cy="565.45" r="1.55" fill="none" stroke="#111" stroke-width="0.7"/><circle cx="481.40" cy="565.45" r="1.55" fill="none" stroke="#111" stroke-width="0.7"/><circle cx="483.65" cy="565.45" r="1.55" fill="none" stroke="#111" stroke-width="0.7"/><circle cx="485.90" cy="565.45" r="1.55" fill="none" stroke="#111" stroke-width="0.7"/><circle cx="488.15" cy="565.45" r="1.55" fill="none" stroke="#111" stroke-width="0.7"/><circle cx="490.40" cy="565.45" r="1.55" fill="none" stroke="#111" stroke-width="0.7"/><line x1="470.4" y1="563.55" x2="492.6" y2="563.55" stroke="#111" stroke-width="1.1"/><line x1="470.4" y1="567.45" x2="492.6" y2="567.45" stroke="#222" stroke-width="0.8" stroke-dasharray="1,0.7"/><line x1="462.8" y1="603.20" x2="606.8" y2="603.20" stroke="#111" stroke-width="1.6" stroke-linecap="round" stroke-dasharray="0.4,4.2"/><line x1="458.6" y1="489.95" x2="458.6" y2="641.35" stroke="#222" stroke-width="0.8"/><line x1="458.20000000000005" y1="640.95" x2="606.8" y2="640.95" stroke="#222" stroke-width="0.8"/><line x1="456.1" y1="489.95" x2="458.6" y2="489.95" stroke="#222" stroke-width="0.8"/><text x="453.7" y="492.9" font-size="8.3" text-anchor="end" font-weight="normal" font-style="normal" fill="#222" >3</text><line x1="456.1" y1="527.70" x2="458.6" y2="527.70" stroke="#222" stroke-width="0.8"/><text x="453.7" y="530.6" font-size="8.3" text-anchor="end" font-weight="normal" font-style="normal" fill="#222" >2</text><line x1="456.1" y1="565.45" x2="458.6" y2="565.45" stroke="#222" stroke-width="0.8"/><text x="453.7" y="568.4" font-size="8.3" text-anchor="end" font-weight="normal" font-style="normal" fill="#222" >1</text><line x1="456.1" y1="603.20" x2="458.6" y2="603.20" stroke="#222" stroke-width="0.8"/><text x="453.7" y="606.1" font-size="8.3" text-anchor="end" font-weight="normal" font-style="normal" fill="#222" >0</text><line x1="456.1" y1="640.95" x2="458.6" y2="640.95" stroke="#222" stroke-width="0.8"/><text x="453.7" y="643.9" font-size="8.3" text-anchor="end" font-weight="normal" font-style="normal" fill="#222" >-1</text><text x="0.0" y="0.0" font-size="8.8" text-anchor="middle" font-weight="normal" font-style="normal" fill="#222" transform="translate(441.2,564.3) rotate(-90)">Fold</text><line x1="481.5" y1="640.95" x2="481.5" y2="643.55" stroke="#222" stroke-width="0.8"/><text x="0.0" y="0.0" font-size="8.5" text-anchor="end" font-weight="normal" font-style="normal" fill="#222" transform="translate(484.10,649.35) rotate(-45)">ωRNA-V3</text><line x1="515.7" y1="640.95" x2="515.7" y2="643.55" stroke="#222" stroke-width="0.8"/><text x="0.0" y="0.0" font-size="8.5" text-anchor="end" font-weight="normal" font-style="normal" fill="#222" transform="translate(518.30,649.35) rotate(-45)">Del-14bp</text><line x1="550.1" y1="640.95" x2="550.1" y2="643.55" stroke="#222" stroke-width="0.8"/><text x="0.0" y="0.0" font-size="8.5" text-anchor="end" font-weight="normal" font-style="normal" fill="#222" transform="translate(552.70,649.35) rotate(-45)">Del-15bp</text><line x1="584.6" y1="640.95" x2="584.6" y2="643.55" stroke="#222" stroke-width="0.8"/><text x="0.0" y="0.0" font-size="8.5" text-anchor="end" font-weight="normal" font-style="normal" fill="#222" transform="translate(587.20,649.35) rotate(-45)">Del-16bp</text><text x="553.9" y="493.6" font-size="8.2" text-anchor="middle" font-weight="normal" font-style="normal" fill="#222" >en-ωRNA</text><path d="M547.6,495.2H552.4L550,499.6Z" fill="#c8384f"/><text x="-1.4" y="700.9" font-size="15" text-anchor="start" font-weight="bold" font-style="normal" fill="#231815" >d</text><line x1="76.2" y1="712.5" x2="76.2" y2="719.2" stroke="#ababab" stroke-width="0.85"/><line x1="83.9" y1="712.5" x2="83.9" y2="719.2" stroke="#ababab" stroke-width="0.85"/><circle cx="91.6" cy="715.9" r="0.5" fill="#222"/><line x1="99.4" y1="712.5" x2="99.4" y2="719.2" stroke="#ababab" stroke-width="0.85"/><line x1="107.1" y1="712.5" x2="107.1" y2="719.2" stroke="#ababab" stroke-width="0.85"/><line x1="114.8" y1="712.5" x2="114.8" y2="719.2" stroke="#ababab" stroke-width="0.85"/><circle cx="122.5" cy="715.9" r="0.5" fill="#222"/><line x1="130.2" y1="712.5" x2="130.2" y2="719.2" stroke="#ababab" stroke-width="0.85"/><circle cx="138.0" cy="715.9" r="0.5" fill="#222"/><line x1="145.7" y1="712.5" x2="145.7" y2="719.2" stroke="#ababab" stroke-width="0.85"/><line x1="161.1" y1="712.5" x2="161.1" y2="719.2" stroke="#ababab" stroke-width="0.85"/><line x1="168.8" y1="712.5" x2="168.8" y2="719.2" stroke="#ababab" stroke-width="0.85"/><line x1="176.6" y1="712.5" x2="176.6" y2="719.2" stroke="#ababab" stroke-width="0.85"/><line x1="184.3" y1="712.5" x2="184.3" y2="719.2" stroke="#ababab" stroke-width="0.85"/><circle cx="192.0" cy="715.9" r="0.5" fill="#222"/><line x1="199.7" y1="712.5" x2="199.7" y2="719.2" stroke="#ababab" stroke-width="0.85"/><line x1="207.4" y1="712.5" x2="207.4" y2="719.2" stroke="#ababab" stroke-width="0.85"/><line x1="215.2" y1="712.5" x2="215.2" y2="719.2" stroke="#ababab" stroke-width="0.85"/><line x1="222.9" y1="712.5" x2="222.9" y2="719.2" stroke="#ababab" stroke-width="0.85"/><path d="M70.2,709.0 L76.2,709.0 L83.9,709.0 L91.6,709.0 L99.4,709.0 L107.1,709.0 L114.8,709.0 L122.5,709.0 L130.2,709.0 L138.0,709.0 L145.7,709.0 L161.1,709.0 L168.8,709.0 L176.6,709.0 L184.3,709.0 L192.0,709.0 L199.7,709.0 L207.4,709.0 L215.2,709.0 L222.9,709.0 L229.5,707.1 " fill="none" stroke="#9a9a9a" stroke-width="0.8"/><path d="M70.2,722.8 L76.2,722.8 L83.9,722.8 L91.6,722.8 L99.4,722.8 L107.1,722.8 L114.8,722.8 L122.5,722.8 L130.2,722.8 L138.0,722.8 L145.7,722.8 L153.4,722.8 L161.1,722.8 L168.8,722.8 L176.6,722.8 L184.3,722.8 L192.0,722.8 L199.7,722.8 L207.4,722.8 L215.2,722.8 L222.9,722.8 L229.5,725.1 " fill="none" stroke="#6a6a6a" stroke-width="0.8"/><line x1="229.5" y1="707.1" x2="236.0" y2="712.1" stroke="#6a6a6a" stroke-width="0.8"/><line x1="236.0" y1="712.1" x2="236.0" y2="719.4" stroke="#6a6a6a" stroke-width="0.8"/><line x1="236.0" y1="719.4" x2="229.5" y2="725.1" stroke="#6a6a6a" stroke-width="0.8"/><use href="#rU355" x="76.2" y="709.0"/><use href="#rU355" x="83.9" y="709.0"/><use href="#rU355" x="91.6" y="709.0"/><use href="#rU355" x="99.4" y="709.0"/><use href="#rU355" x="107.1" y="709.0"/><use href="#tG355" x="114.8" y="709.0"/><use href="#tU355" x="122.5" y="709.0"/><use href="#tC355" x="130.2" y="709.0"/><use href="#tA355" x="138.0" y="709.0"/><use href="#tC355" x="145.7" y="709.0"/><use href="#tA355" x="161.1" y="709.0"/><use href="#tG355" x="168.8" y="709.0"/><use href="#tA355" x="176.6" y="709.0"/><use href="#oU355" x="184.3" y="709.0"/><use href="#oU355" x="192.0" y="709.0"/><use href="#oU355" x="199.7" y="709.0"/><use href="#oU355" x="207.4" y="709.0"/><use href="#tG355" x="215.2" y="709.0"/><use href="#tC355" x="222.9" y="709.0"/><use href="#rA355" x="76.2" y="722.8"/><use href="#rA355" x="83.9" y="722.8"/><use href="#rG355" x="91.6" y="722.8"/><use href="#rA355" x="99.4" y="722.8"/><use href="#rA355" x="107.1" y="722.8"/><use href="#tC355" x="114.8" y="722.8"/><use href="#tG355" x="122.5" y="722.8"/><use href="#tG355" x="130.2" y="722.8"/><use href="#tG355" x="138.0" y="722.8"/><use href="#tG355" x="145.7" y="722.8"/><use href="#tG355" x="153.4" y="722.8"/><use href="#tU355" x="161.1" y="722.8"/><use href="#tC355" x="168.8" y="722.8"/><use href="#tU355" x="176.6" y="722.8"/><use href="#oA355" x="184.3" y="722.8"/><use href="#oG355" x="192.0" y="722.8"/><use href="#oA355" x="199.7" y="722.8"/><use href="#oA355" x="207.4" y="722.8"/><use href="#tC355" x="215.2" y="722.8"/><use href="#tG355" x="222.9" y="722.8"/><use href="#tC355" x="229.5" y="707.1"/><use href="#tA355" x="236.0" y="712.1"/><use href="#tA355" x="236.0" y="719.4"/><use href="#tU355" x="229.5" y="725.1"/><text x="42.6" y="718.8" font-size="8.8" text-anchor="middle" font-weight="normal" font-style="normal" fill="#222" >WT-ωRNA</text><line x1="76.2" y1="742.0" x2="76.2" y2="748.7" stroke="#ababab" stroke-width="0.85"/><line x1="83.9" y1="742.0" x2="83.9" y2="748.7" stroke="#ababab" stroke-width="0.85"/><line x1="91.6" y1="742.0" x2="91.6" y2="748.7" stroke="#ababab" stroke-width="0.85"/><line x1="99.4" y1="742.0" x2="99.4" y2="748.7" stroke="#ababab" stroke-width="0.85"/><line x1="107.1" y1="742.0" x2="107.1" y2="748.7" stroke="#ababab" stroke-width="0.85"/><line x1="114.8" y1="742.0" x2="114.8" y2="748.7" stroke="#ababab" stroke-width="0.85"/><circle cx="122.5" cy="745.4" r="0.5" fill="#222"/><line x1="130.2" y1="742.0" x2="130.2" y2="748.7" stroke="#ababab" stroke-width="0.85"/><circle cx="138.0" cy="745.4" r="0.5" fill="#222"/><line x1="145.7" y1="742.0" x2="145.7" y2="748.7" stroke="#ababab" stroke-width="0.85"/><line x1="161.1" y1="742.0" x2="161.1" y2="748.7" stroke="#ababab" stroke-width="0.85"/><line x1="168.8" y1="742.0" x2="168.8" y2="748.7" stroke="#ababab" stroke-width="0.85"/><line x1="176.6" y1="742.0" x2="176.6" y2="748.7" stroke="#ababab" stroke-width="0.85"/><line x1="184.3" y1="742.0" x2="184.3" y2="748.7" stroke="#ababab" stroke-width="0.85"/><line x1="192.0" y1="742.0" x2="192.0" y2="748.7" stroke="#ababab" stroke-width="0.85"/><line x1="199.7" y1="742.0" x2="199.7" y2="748.7" stroke="#ababab" stroke-width="0.85"/><line x1="207.4" y1="742.0" x2="207.4" y2="748.7" stroke="#ababab" stroke-width="0.85"/><line x1="215.2" y1="742.0" x2="215.2" y2="748.7" stroke="#ababab" stroke-width="0.85"/><line x1="222.9" y1="742.0" x2="222.9" y2="748.7" stroke="#ababab" stroke-width="0.85"/><path d="M70.2,738.5 L76.2,738.5 L83.9,738.5 L91.6,738.5 L99.4,738.5 L107.1,738.5 L114.8,738.5 L122.5,738.5 L130.2,738.5 L138.0,738.5 L145.7,738.5 L161.1,738.5 L168.8,738.5 L176.6,738.5 L184.3,738.5 L192.0,738.5 L199.7,738.5 L207.4,738.5 L215.2,738.5 L222.9,738.5 L229.5,736.6 " fill="none" stroke="#9a9a9a" stroke-width="0.8"/><path d="M70.2,752.2 L76.2,752.2 L83.9,752.2 L91.6,752.2 L99.4,752.2 L107.1,752.2 L114.8,752.2 L122.5,752.2 L130.2,752.2 L138.0,752.2 L145.7,752.2 L153.4,752.2 L161.1,752.2 L168.8,752.2 L176.6,752.2 L184.3,752.2 L192.0,752.2 L199.7,752.2 L207.4,752.2 L215.2,752.2 L222.9,752.2 L229.5,754.5 " fill="none" stroke="#6a6a6a" stroke-width="0.8"/><line x1="229.5" y1="736.6" x2="236.0" y2="741.6" stroke="#6a6a6a" stroke-width="0.8"/><line x1="236.0" y1="741.6" x2="236.0" y2="748.8" stroke="#6a6a6a" stroke-width="0.8"/><line x1="236.0" y1="748.8" x2="229.5" y2="754.5" stroke="#6a6a6a" stroke-width="0.8"/><use href="#rG355" x="76.2" y="738.5"/><use href="#rA355" x="83.9" y="738.5"/><use href="#rA355" x="91.6" y="738.5"/><use href="#rU355" x="99.4" y="738.5"/><use href="#rU355" x="107.1" y="738.5"/><use href="#tG355" x="114.8" y="738.5"/><use href="#tU355" x="122.5" y="738.5"/><use href="#tC355" x="130.2" y="738.5"/><use href="#tA355" x="138.0" y="738.5"/><use href="#tC355" x="145.7" y="738.5"/><use href="#tA355" x="161.1" y="738.5"/><use href="#tG355" x="168.8" y="738.5"/><use href="#tA355" x="176.6" y="738.5"/><use href="#oU355" x="184.3" y="738.5"/><use href="#oC355" x="192.0" y="738.5"/><use href="#oG355" x="199.7" y="738.5"/><use href="#oU355" x="207.4" y="738.5"/><use href="#tG355" x="215.2" y="738.5"/><use href="#tC355" x="222.9" y="738.5"/><use href="#rC355" x="76.2" y="752.2"/><use href="#rU355" x="83.9" y="752.2"/><use href="#rU355" x="91.6" y="752.2"/><use href="#rA355" x="99.4" y="752.2"/><use href="#rA355" x="107.1" y="752.2"/><use href="#tC355" x="114.8" y="752.2"/><use href="#tG355" x="122.5" y="752.2"/><use href="#tG355" x="130.2" y="752.2"/><use href="#tG355" x="138.0" y="752.2"/><use href="#tG355" x="145.7" y="752.2"/><use href="#tG355" x="153.4" y="752.2"/><use href="#tU355" x="161.1" y="752.2"/><use href="#tC355" x="168.8" y="752.2"/><use href="#tU355" x="176.6" y="752.2"/><use href="#oA355" x="184.3" y="752.2"/><use href="#oG355" x="192.0" y="752.2"/><use href="#oC355" x="199.7" y="752.2"/><use href="#oA355" x="207.4" y="752.2"/><use href="#tC355" x="215.2" y="752.2"/><use href="#tG355" x="222.9" y="752.2"/><use href="#tC355" x="229.5" y="736.6"/><use href="#tA355" x="236.0" y="741.6"/><use href="#tA355" x="236.0" y="748.8"/><use href="#tU355" x="229.5" y="754.5"/><text x="43.4" y="748.2" font-size="8.8" text-anchor="middle" font-weight="normal" font-style="normal" fill="#222" >ωRNA-V3</text><line x1="70.40" y1="768.0" x2="226.6" y2="768.0" stroke="#c4c4c4" stroke-width="0.9"/><line x1="70.40" y1="781.7" x2="226.6" y2="781.7" stroke="#6e6e6e" stroke-width="0.9"/><line x1="226.60" y1="768.00" x2="234.00" y2="771.20" stroke="#6a6a6a" stroke-width="0.7"/><line x1="234.00" y1="771.20" x2="234.00" y2="778.50" stroke="#6a6a6a" stroke-width="0.7"/><line x1="234.00" y1="778.50" x2="226.60" y2="781.70" stroke="#6a6a6a" stroke-width="0.7"/><line x1="75.40" y1="771.75" x2="75.40" y2="777.95" stroke="#c4c4c4" stroke-width="0.8"/><line x1="83.25" y1="771.75" x2="83.25" y2="777.95" stroke="#c4c4c4" stroke-width="0.8"/><line x1="91.10" y1="771.75" x2="91.10" y2="777.95" stroke="#c4c4c4" stroke-width="0.8"/><line x1="98.95" y1="771.75" x2="98.95" y2="777.95" stroke="#c4c4c4" stroke-width="0.8"/><line x1="106.80" y1="771.75" x2="106.80" y2="777.95" stroke="#c4c4c4" stroke-width="0.8"/><circle cx="75.40" cy="768.00" r="3.75" fill="#d62a38" stroke="#a01e28" stroke-width="0.6"/><text x="75.40" y="769.70" font-size="5.2" text-anchor="middle" fill="#fff">G</text><circle cx="75.40" cy="781.70" r="3.75" fill="#d62a38" stroke="#a01e28" stroke-width="0.6"/><text x="75.40" y="783.40" font-size="5.2" text-anchor="middle" fill="#fff">C</text><circle cx="83.25" cy="768.00" r="3.75" fill="#d62a38" stroke="#a01e28" stroke-width="0.6"/><text x="83.25" y="769.70" font-size="5.2" text-anchor="middle" fill="#fff">A</text><circle cx="83.25" cy="781.70" r="3.75" fill="#d62a38" stroke="#a01e28" stroke-width="0.6"/><text x="83.25" y="783.40" font-size="5.2" text-anchor="middle" fill="#fff">U</text><circle cx="91.10" cy="768.00" r="3.75" fill="#d62a38" stroke="#a01e28" stroke-width="0.6"/><text x="91.10" y="769.70" font-size="5.2" text-anchor="middle" fill="#fff">A</text><circle cx="91.10" cy="781.70" r="3.75" fill="#d62a38" stroke="#a01e28" stroke-width="0.6"/><text x="91.10" y="783.40" font-size="5.2" text-anchor="middle" fill="#fff">U</text><circle cx="98.95" cy="768.00" r="3.75" fill="#d62a38" stroke="#a01e28" stroke-width="0.6"/><text x="98.95" y="769.70" font-size="5.2" text-anchor="middle" fill="#fff">U</text><circle cx="98.95" cy="781.70" r="3.75" fill="#d62a38" stroke="#a01e28" stroke-width="0.6"/><text x="98.95" y="783.40" font-size="5.2" text-anchor="middle" fill="#fff">A</text><circle cx="106.80" cy="768.00" r="3.75" fill="#d62a38" stroke="#a01e28" stroke-width="0.6"/><text x="106.80" y="769.70" font-size="5.2" text-anchor="middle" fill="#fff">U</text><circle cx="106.80" cy="781.70" r="3.75" fill="#d62a38" stroke="#a01e28" stroke-width="0.6"/><text x="106.80" y="783.40" font-size="5.2" text-anchor="middle" fill="#fff">A</text><circle cx="226.60" cy="768.00" r="3.25" fill="#74bdc1" stroke="#4a8e92" stroke-width="0.55"/><text x="226.60" y="769.60" font-size="4.8" text-anchor="middle" fill="#1a3436">C</text><circle cx="234.00" cy="771.20" r="3.25" fill="#74bdc1" stroke="#4a8e92" stroke-width="0.55"/><text x="234.00" y="772.80" font-size="4.8" text-anchor="middle" fill="#1a3436">A</text><circle cx="234.00" cy="778.50" r="3.25" fill="#74bdc1" stroke="#4a8e92" stroke-width="0.55"/><text x="234.00" y="780.10" font-size="4.8" text-anchor="middle" fill="#1a3436">A</text><circle cx="226.60" cy="781.70" r="3.25" fill="#74bdc1" stroke="#4a8e92" stroke-width="0.55"/><text x="226.60" y="783.30" font-size="4.8" text-anchor="middle" fill="#1a3436">U</text><text x="44.7" y="778.0" font-size="8.8" text-anchor="middle" font-weight="normal" font-style="normal" fill="#222" >Del-14bp</text><line x1="70.40" y1="797.6" x2="226.6" y2="797.6" stroke="#777" stroke-width="0.9"/><line x1="70.40" y1="811.1" x2="226.6" y2="811.1" stroke="#6e6e6e" stroke-width="0.9"/><line x1="226.60" y1="797.60" x2="234.00" y2="800.80" stroke="#6a6a6a" stroke-width="0.7"/><line x1="234.00" y1="800.80" x2="234.00" y2="807.90" stroke="#6a6a6a" stroke-width="0.7"/><line x1="234.00" y1="807.90" x2="226.60" y2="811.10" stroke="#6a6a6a" stroke-width="0.7"/><line x1="75.40" y1="801.35" x2="75.40" y2="807.35" stroke="#c4c4c4" stroke-width="0.8"/><line x1="83.25" y1="801.35" x2="83.25" y2="807.35" stroke="#c4c4c4" stroke-width="0.8"/><line x1="91.10" y1="801.35" x2="91.10" y2="807.35" stroke="#c4c4c4" stroke-width="0.8"/><line x1="98.95" y1="801.35" x2="98.95" y2="807.35" stroke="#c4c4c4" stroke-width="0.8"/><circle cx="75.40" cy="797.60" r="3.75" fill="#d62a38" stroke="#a01e28" stroke-width="0.6"/><text x="75.40" y="799.30" font-size="5.2" text-anchor="middle" fill="#fff">G</text><circle cx="75.40" cy="811.10" r="3.75" fill="#d62a38" stroke="#a01e28" stroke-width="0.6"/><text x="75.40" y="812.80" font-size="5.2" text-anchor="middle" fill="#fff">C</text><circle cx="83.25" cy="797.60" r="3.75" fill="#d62a38" stroke="#a01e28" stroke-width="0.6"/><text x="83.25" y="799.30" font-size="5.2" text-anchor="middle" fill="#fff">A</text><circle cx="83.25" cy="811.10" r="3.75" fill="#d62a38" stroke="#a01e28" stroke-width="0.6"/><text x="83.25" y="812.80" font-size="5.2" text-anchor="middle" fill="#fff">U</text><circle cx="91.10" cy="797.60" r="3.75" fill="#d62a38" stroke="#a01e28" stroke-width="0.6"/><text x="91.10" y="799.30" font-size="5.2" text-anchor="middle" fill="#fff">A</text><circle cx="91.10" cy="811.10" r="3.75" fill="#d62a38" stroke="#a01e28" stroke-width="0.6"/><text x="91.10" y="812.80" font-size="5.2" text-anchor="middle" fill="#fff">U</text><circle cx="98.95" cy="797.60" r="3.75" fill="#d62a38" stroke="#a01e28" stroke-width="0.6"/><text x="98.95" y="799.30" font-size="5.2" text-anchor="middle" fill="#fff">U</text><circle cx="98.95" cy="811.10" r="3.75" fill="#d62a38" stroke="#a01e28" stroke-width="0.6"/><text x="98.95" y="812.80" font-size="5.2" text-anchor="middle" fill="#fff">A</text><circle cx="226.60" cy="797.60" r="3.25" fill="#74bdc1" stroke="#4a8e92" stroke-width="0.55"/><text x="226.60" y="799.20" font-size="4.8" text-anchor="middle" fill="#1a3436">C</text><circle cx="234.00" cy="800.80" r="3.25" fill="#74bdc1" stroke="#4a8e92" stroke-width="0.55"/><text x="234.00" y="802.40" font-size="4.8" text-anchor="middle" fill="#1a3436">A</text><circle cx="234.00" cy="807.90" r="3.25" fill="#74bdc1" stroke="#4a8e92" stroke-width="0.55"/><text x="234.00" y="809.50" font-size="4.8" text-anchor="middle" fill="#1a3436">A</text><circle cx="226.60" cy="811.10" r="3.25" fill="#74bdc1" stroke="#4a8e92" stroke-width="0.55"/><text x="226.60" y="812.70" font-size="4.8" text-anchor="middle" fill="#1a3436">U</text><text x="44.7" y="807.5" font-size="8.8" text-anchor="middle" font-weight="normal" font-style="normal" fill="#222" >Del-15bp</text><line x1="70.40" y1="826.8" x2="226.6" y2="826.8" stroke="#c4c4c4" stroke-width="0.9"/><line x1="70.40" y1="840.2" x2="226.6" y2="840.2" stroke="#6e6e6e" stroke-width="0.9"/><line x1="226.60" y1="826.80" x2="234.00" y2="830.00" stroke="#6a6a6a" stroke-width="0.7"/><line x1="234.00" y1="830.00" x2="234.00" y2="837.00" stroke="#6a6a6a" stroke-width="0.7"/><line x1="234.00" y1="837.00" x2="226.60" y2="840.20" stroke="#6a6a6a" stroke-width="0.7"/><line x1="75.40" y1="830.55" x2="75.40" y2="836.45" stroke="#c4c4c4" stroke-width="0.8"/><line x1="83.25" y1="830.55" x2="83.25" y2="836.45" stroke="#c4c4c4" stroke-width="0.8"/><line x1="91.10" y1="830.55" x2="91.10" y2="836.45" stroke="#c4c4c4" stroke-width="0.8"/><circle cx="75.40" cy="826.80" r="3.75" fill="#d62a38" stroke="#a01e28" stroke-width="0.6"/><text x="75.40" y="828.50" font-size="5.2" text-anchor="middle" fill="#fff">G</text><circle cx="75.40" cy="840.20" r="3.75" fill="#d62a38" stroke="#a01e28" stroke-width="0.6"/><text x="75.40" y="841.90" font-size="5.2" text-anchor="middle" fill="#fff">C</text><circle cx="83.25" cy="826.80" r="3.75" fill="#d62a38" stroke="#a01e28" stroke-width="0.6"/><text x="83.25" y="828.50" font-size="5.2" text-anchor="middle" fill="#fff">A</text><circle cx="83.25" cy="840.20" r="3.75" fill="#d62a38" stroke="#a01e28" stroke-width="0.6"/><text x="83.25" y="841.90" font-size="5.2" text-anchor="middle" fill="#fff">U</text><circle cx="91.10" cy="826.80" r="3.75" fill="#d62a38" stroke="#a01e28" stroke-width="0.6"/><text x="91.10" y="828.50" font-size="5.2" text-anchor="middle" fill="#fff">A</text><circle cx="91.10" cy="840.20" r="3.75" fill="#d62a38" stroke="#a01e28" stroke-width="0.6"/><text x="91.10" y="841.90" font-size="5.2" text-anchor="middle" fill="#fff">U</text><circle cx="226.60" cy="826.80" r="3.25" fill="#74bdc1" stroke="#4a8e92" stroke-width="0.55"/><text x="226.60" y="828.40" font-size="4.8" text-anchor="middle" fill="#1a3436">C</text><circle cx="234.00" cy="830.00" r="3.25" fill="#74bdc1" stroke="#4a8e92" stroke-width="0.55"/><text x="234.00" y="831.60" font-size="4.8" text-anchor="middle" fill="#1a3436">A</text><circle cx="234.00" cy="837.00" r="3.25" fill="#74bdc1" stroke="#4a8e92" stroke-width="0.55"/><text x="234.00" y="838.60" font-size="4.8" text-anchor="middle" fill="#1a3436">A</text><circle cx="226.60" cy="840.20" r="3.25" fill="#74bdc1" stroke="#4a8e92" stroke-width="0.55"/><text x="226.60" y="841.80" font-size="4.8" text-anchor="middle" fill="#1a3436">U</text><text x="44.7" y="836.6" font-size="8.8" text-anchor="middle" font-weight="normal" font-style="normal" fill="#222" >Del-16bp</text><path d="M239.8,804.2L249.7,799.8V808.6Z" fill="#c8384f"/><text x="252.6" y="806.9" font-size="8.4" text-anchor="start" font-weight="normal" font-style="normal" fill="#222" >en-ωRNA</text><defs><radialGradient id="sgg" cx="0.42" cy="0.4" r="0.6"><stop offset="0" stop-color="#3f9c46"/><stop offset="0.38" stop-color="#237a2e"/><stop offset="0.62" stop-color="#237a2e"/><stop offset="0.85" stop-color="#124d19"/></radialGradient><circle id="sg" r="3.9" fill="url(#sgg)"/><circle id="tg" r="3.0" fill="url(#sgg)"/><circle id="ug" r="4.8" fill="url(#sgg)"/><radialGradient id="sgy" cx="0.42" cy="0.4" r="0.6"><stop offset="0" stop-color="#f8f878"/><stop offset="0.38" stop-color="#e6e630"/><stop offset="0.62" stop-color="#e6e630"/><stop offset="0.85" stop-color="#b0b015"/></radialGradient><circle id="sy" r="3.9" fill="url(#sgy)"/><circle id="ty" r="3.0" fill="url(#sgy)"/><circle id="uy" r="4.8" fill="url(#sgy)"/><radialGradient id="sgc" cx="0.42" cy="0.4" r="0.6"><stop offset="0" stop-color="#80dade"/><stop offset="0.38" stop-color="#40bec4"/><stop offset="0.62" stop-color="#40bec4"/><stop offset="0.85" stop-color="#157a80"/></radialGradient><circle id="sc" r="3.9" fill="url(#sgc)"/><circle id="tc" r="3.0" fill="url(#sgc)"/><circle id="uc" r="4.8" fill="url(#sgc)"/><radialGradient id="sgp" cx="0.42" cy="0.4" r="0.6"><stop offset="0" stop-color="#9a55c0"/><stop offset="0.38" stop-color="#76309c"/><stop offset="0.62" stop-color="#76309c"/><stop offset="0.85" stop-color="#4a1466"/></radialGradient><circle id="sp" r="3.9" fill="url(#sgp)"/><circle id="tp" r="3.0" fill="url(#sgp)"/><circle id="up" r="4.8" fill="url(#sgp)"/><g id="st"><path d="M408.0,750.0C408.0,746.7 408.8,743.2 410.0,740.0C411.2,736.8 413.3,733.7 415.0,731.0C416.7,728.3 418.0,726.3 420.0,724.0C422.0,721.7 424.7,718.8 427.0,717.0C429.3,715.2 431.5,714.0 434.0,713.0C436.5,712.0 439.3,711.3 442.0,711.0C444.7,710.7 447.3,710.7 450.0,711.0C452.7,711.3 455.3,712.0 458.0,713.0C460.7,714.0 463.3,715.5 466.0,717.0C468.7,718.5 471.7,720.0 474.0,722.0C476.3,724.0 478.7,726.0 480.0,729.0C481.3,732.0 482.2,736.2 482.0,740.0C481.8,743.8 481.0,748.7 479.0,752.0C477.0,755.3 473.5,758.0 470.0,760.0C466.5,762.0 462.3,762.8 458.0,764.0C453.7,765.2 448.7,766.3 444.0,767.0C439.3,767.7 434.3,768.0 430.0,768.0C425.7,768.0 421.3,768.3 418.0,767.0C414.7,765.7 411.7,762.8 410.0,760.0C408.3,757.2 408.0,753.3 408.0,750.0Z" fill="#124d19"/><use href="#tg" x="433.0" y="714.5"/><use href="#ug" x="441.6" y="712.3"/><use href="#sg" x="435.0" y="715.3"/><use href="#sg" x="449.6" y="711.1"/><use href="#tg" x="441.9" y="713.7"/><use href="#ug" x="438.6" y="714.7"/><use href="#sg" x="436.9" y="715.3"/><use href="#ug" x="439.7" y="715.0"/><use href="#tg" x="431.5" y="717.5"/><use href="#sg" x="425.2" y="719.9"/><use href="#ug" x="428.9" y="718.8"/><use href="#sg" x="446.0" y="713.8"/><use href="#sg" x="430.3" y="718.6"/><use href="#tg" x="434.9" y="717.7"/><use href="#sg" x="449.2" y="713.6"/><use href="#sg" x="445.7" y="715.8"/><use href="#sg" x="451.8" y="714.0"/><use href="#sg" x="425.2" y="722.0"/><use href="#ug" x="448.9" y="715.0"/><use href="#ug" x="452.8" y="714.5"/><use href="#sg" x="426.4" y="722.5"/><use href="#sg" x="442.6" y="718.4"/><use href="#ug" x="438.1" y="719.8"/><use href="#sg" x="420.9" y="725.1"/><use href="#sg" x="458.3" y="714.5"/><use href="#sg" x="422.4" y="725.4"/><use href="#sg" x="456.4" y="715.5"/><use href="#sg" x="446.0" y="718.6"/><use href="#tg" x="452.4" y="717.0"/><use href="#tg" x="428.1" y="724.5"/><use href="#tg" x="432.7" y="723.1"/><use href="#ug" x="460.8" y="714.9"/><use href="#tg" x="436.8" y="723.2"/><use href="#sg" x="419.9" y="728.3"/><use href="#tg" x="420.1" y="728.4"/><use href="#ug" x="445.1" y="721.0"/><use href="#tg" x="425.5" y="726.9"/><use href="#sg" x="447.4" y="720.8"/><use href="#sg" x="460.7" y="716.9"/><use href="#ug" x="439.5" y="723.2"/><use href="#tg" x="456.2" y="719.4"/><use href="#sg" x="432.7" y="726.6"/><use href="#tg" x="427.6" y="728.7"/><use href="#tg" x="417.5" y="732.0"/><use href="#tg" x="460.8" y="719.2"/><use href="#sg" x="453.9" y="721.5"/><use href="#sg" x="437.1" y="726.6"/><use href="#sg" x="464.8" y="718.5"/><use href="#sg" x="424.0" y="731.1"/><use href="#ug" x="463.9" y="719.1"/><use href="#sg" x="416.0" y="733.9"/><use href="#tg" x="442.9" y="726.1"/><use href="#tg" x="461.3" y="720.9"/><use href="#tg" x="417.7" y="734.0"/><use href="#tg" x="456.3" y="722.6"/><use href="#tg" x="413.2" y="736.5"/><use href="#sg" x="436.6" y="729.7"/><use href="#ug" x="428.3" y="732.5"/><use href="#sg" x="432.8" y="731.1"/><use href="#ug" x="445.9" y="727.4"/><use href="#ug" x="420.9" y="734.9"/><use href="#ug" x="414.2" y="736.9"/><use href="#sg" x="439.9" y="729.2"/><use href="#sg" x="424.4" y="734.1"/><use href="#ug" x="451.9" y="726.0"/><use href="#sg" x="468.0" y="721.3"/><use href="#sg" x="465.0" y="722.3"/><use href="#ug" x="469.4" y="721.5"/><use href="#sg" x="454.5" y="726.4"/><use href="#tg" x="435.0" y="732.6"/><use href="#sg" x="443.7" y="730.2"/><use href="#sg" x="419.9" y="737.4"/><use href="#sg" x="448.6" y="728.8"/><use href="#tg" x="412.6" y="740.0"/><use href="#ug" x="459.3" y="726.2"/><use href="#sg" x="424.3" y="737.1"/><use href="#tg" x="413.7" y="740.3"/><use href="#sg" x="471.3" y="723.5"/><use href="#ug" x="463.4" y="726.4"/><use href="#sg" x="438.9" y="733.7"/><use href="#sg" x="466.9" y="725.4"/><use href="#sg" x="432.6" y="735.7"/><use href="#tg" x="420.3" y="739.6"/><use href="#sg" x="452.0" y="730.2"/><use href="#sg" x="416.9" y="740.8"/><use href="#tg" x="426.7" y="738.0"/><use href="#ug" x="443.4" y="733.1"/><use href="#ug" x="446.2" y="732.8"/><use href="#sg" x="456.8" y="729.7"/><use href="#sg" x="436.5" y="736.0"/><use href="#sg" x="411.5" y="744.1"/><use href="#tg" x="409.7" y="744.8"/><use href="#sg" x="467.2" y="728.3"/><use href="#sg" x="418.0" y="743.2"/><use href="#tg" x="474.7" y="726.3"/><use href="#ug" x="430.9" y="739.8"/><use href="#tg" x="461.2" y="730.8"/><use href="#sg" x="473.9" y="727.1"/><use href="#tg" x="443.2" y="736.4"/><use href="#sg" x="414.7" y="745.0"/><use href="#ug" x="452.1" y="733.8"/><use href="#tg" x="476.2" y="727.0"/><use href="#ug" x="469.5" y="729.2"/><use href="#tg" x="422.3" y="743.4"/><use href="#tg" x="439.1" y="738.3"/><use href="#ug" x="426.4" y="742.3"/><use href="#ug" x="462.7" y="732.1"/><use href="#sg" x="458.5" y="733.6"/><use href="#sg" x="432.9" y="741.3"/><use href="#sg" x="456.7" y="734.6"/><use href="#tg" x="427.5" y="743.4"/><use href="#sg" x="452.0" y="736.2"/><use href="#sg" x="450.3" y="737.0"/><use href="#tg" x="410.7" y="749.1"/><use href="#sg" x="478.5" y="728.8"/><use href="#ug" x="439.5" y="741.1"/><use href="#tg" x="477.4" y="729.8"/><use href="#sg" x="476.1" y="730.6"/><use href="#sg" x="409.4" y="750.7"/><use href="#sg" x="413.2" y="749.6"/><use href="#sg" x="421.5" y="747.4"/><use href="#tg" x="430.4" y="745.1"/><use href="#tg" x="443.0" y="741.4"/><use href="#tg" x="417.6" y="749.1"/><use href="#sg" x="466.9" y="734.5"/><use href="#ug" x="446.0" y="741.1"/><use href="#sg" x="425.0" y="747.4"/><use href="#sg" x="456.7" y="737.9"/><use href="#sg" x="450.4" y="740.2"/><use href="#ug" x="435.3" y="745.5"/><use href="#sg" x="478.3" y="732.8"/><use href="#ug" x="473.4" y="734.4"/><use href="#ug" x="454.0" y="740.3"/><use href="#ug" x="414.5" y="752.2"/><use href="#ug" x="460.6" y="738.4"/><use href="#ug" x="476.3" y="733.8"/><use href="#ug" x="411.7" y="753.5"/><use href="#ug" x="433.1" y="747.1"/><use href="#sg" x="419.2" y="752.0"/><use href="#tg" x="443.5" y="744.7"/><use href="#tg" x="440.2" y="745.8"/><use href="#ug" x="430.1" y="748.9"/><use href="#tg" x="471.6" y="736.6"/><use href="#tg" x="465.7" y="738.6"/><use href="#tg" x="449.7" y="743.4"/><use href="#sg" x="411.3" y="755.1"/><use href="#ug" x="409.4" y="756.1"/><use href="#tg" x="461.1" y="740.8"/><use href="#sg" x="473.9" y="737.1"/><use href="#sg" x="478.8" y="736.2"/><use href="#ug" x="423.6" y="752.8"/><use href="#tg" x="454.5" y="743.7"/><use href="#sg" x="426.6" y="752.1"/><use href="#sg" x="464.4" y="741.4"/><use href="#tg" x="431.6" y="751.3"/><use href="#tg" x="415.8" y="756.1"/><use href="#ug" x="477.8" y="737.6"/><use href="#sg" x="421.7" y="754.5"/><use href="#sg" x="439.5" y="749.3"/><use href="#tg" x="442.5" y="748.5"/><use href="#sg" x="469.5" y="740.6"/><use href="#sg" x="411.5" y="758.5"/><use href="#tg" x="471.9" y="740.4"/><use href="#sg" x="412.2" y="758.9"/><use href="#sg" x="447.8" y="748.3"/><use href="#sg" x="462.7" y="744.1"/><use href="#tg" x="435.7" y="752.3"/><use href="#tg" x="450.7" y="747.9"/><use href="#sg" x="454.6" y="747.0"/><use href="#sg" x="458.3" y="746.1"/><use href="#ug" x="479.8" y="739.8"/><use href="#tg" x="414.8" y="759.4"/><use href="#sg" x="464.9" y="744.7"/><use href="#ug" x="425.7" y="756.5"/><use href="#sg" x="417.6" y="759.0"/><use href="#sg" x="429.0" y="755.9"/><use href="#ug" x="476.3" y="742.0"/><use href="#tg" x="414.9" y="760.6"/><use href="#sg" x="447.5" y="750.9"/><use href="#ug" x="471.6" y="744.0"/><use href="#tg" x="443.9" y="752.6"/><use href="#ug" x="441.5" y="753.4"/><use href="#ug" x="460.0" y="748.2"/><use href="#sg" x="464.1" y="747.1"/><use href="#tg" x="475.8" y="743.6"/><use href="#tg" x="432.8" y="756.6"/><use href="#ug" x="425.9" y="758.7"/><use href="#tg" x="422.3" y="760.4"/><use href="#tg" x="480.2" y="743.3"/><use href="#ug" x="478.8" y="743.8"/><use href="#ug" x="431.5" y="758.2"/><use href="#sg" x="467.8" y="747.3"/><use href="#sg" x="417.3" y="762.6"/><use href="#tg" x="436.7" y="757.3"/><use href="#tg" x="471.4" y="747.7"/><use href="#tg" x="453.2" y="753.3"/><use href="#sg" x="443.3" y="756.3"/><use href="#sg" x="419.8" y="763.4"/><use href="#ug" x="456.4" y="752.9"/><use href="#tg" x="417.4" y="764.8"/><use href="#tg" x="477.6" y="747.1"/><use href="#sg" x="425.4" y="762.8"/><use href="#ug" x="462.9" y="751.6"/><use href="#sg" x="452.4" y="754.8"/><use href="#sg" x="436.3" y="759.9"/><use href="#sg" x="446.0" y="757.1"/><use href="#tg" x="420.0" y="765.0"/><use href="#sg" x="418.3" y="765.6"/><use href="#sg" x="441.3" y="758.8"/><use href="#sg" x="477.8" y="748.1"/><use href="#ug" x="429.5" y="762.9"/><use href="#tg" x="423.3" y="765.0"/><use href="#ug" x="433.9" y="761.9"/><use href="#tg" x="443.9" y="759.8"/><use href="#tg" x="466.6" y="753.2"/><use href="#tg" x="427.3" y="765.3"/><use href="#tg" x="422.7" y="766.9"/><use href="#tg" x="476.6" y="750.7"/><use href="#ug" x="470.0" y="752.8"/><use href="#ug" x="456.1" y="756.9"/><use href="#sg" x="448.2" y="759.9"/><use href="#tg" x="460.1" y="756.5"/><use href="#sg" x="437.9" y="763.2"/><use href="#sg" x="430.8" y="765.6"/><use href="#tg" x="475.4" y="752.4"/><use href="#tg" x="441.8" y="763.1"/><use href="#tg" x="434.0" y="765.4"/><use href="#ug" x="473.4" y="753.6"/><use href="#sg" x="452.4" y="760.2"/><use href="#tg" x="463.7" y="757.2"/><use href="#ug" x="469.6" y="755.5"/><use href="#tg" x="437.5" y="765.2"/><use href="#tg" x="441.2" y="764.8"/><use href="#sg" x="470.7" y="756.1"/><use href="#sg" x="446.9" y="763.3"/><use href="#ug" x="431.9" y="767.8"/><use href="#ug" x="473.4" y="755.7"/><use href="#tg" x="444.1" y="764.7"/><use href="#ug" x="453.3" y="762.0"/><use href="#ug" x="458.3" y="760.6"/><use href="#ug" x="447.5" y="763.9"/><use href="#sg" x="456.8" y="761.4"/><use href="#sg" x="450.4" y="763.3"/><use href="#tg" x="460.1" y="760.5"/><use href="#sg" x="464.4" y="759.3"/><use href="#tg" x="463.2" y="759.8"/><use href="#sg" x="467.8" y="758.5"/><use href="#sg" x="454.9" y="762.5"/><use href="#sg" x="451.0" y="763.8"/><use href="#sg" x="458.1" y="762.7"/><use href="#sg" x="466.0" y="760.7"/><path d="M461.0,733.0C462.0,730.5 462.5,728.5 464.0,727.0C465.5,725.5 467.8,724.5 470.0,724.0C472.2,723.5 474.8,723.5 477.0,724.0C479.2,724.5 481.0,727.0 483.0,727.0C485.0,727.0 487.2,723.8 489.0,724.0C490.8,724.2 492.8,726.2 494.0,728.0C495.2,729.8 495.8,732.5 496.0,735.0C496.2,737.5 494.8,740.3 495.0,743.0C495.2,745.7 496.8,748.2 497.0,751.0C497.2,753.8 496.7,757.3 496.0,760.0C495.3,762.7 494.3,765.2 493.0,767.0C491.7,768.8 490.0,769.8 488.0,771.0C486.0,772.2 483.2,772.2 481.0,774.0C478.8,775.8 477.2,780.2 475.0,782.0C472.8,783.8 470.5,785.0 468.0,785.0C465.5,785.0 462.2,783.8 460.0,782.0C457.8,780.2 456.2,777.0 455.0,774.0C453.8,771.0 453.0,767.7 453.0,764.0C453.0,760.3 454.2,755.7 455.0,752.0C455.8,748.3 457.0,745.2 458.0,742.0C459.0,738.8 460.0,735.5 461.0,733.0Z" fill="#b0b015"/><use href="#uy" x="470.5" y="724.3"/><use href="#ty" x="467.3" y="726.3"/><use href="#ty" x="463.8" y="727.9"/><use href="#uy" x="470.8" y="726.8"/><use href="#ty" x="471.8" y="726.7"/><use href="#ty" x="474.1" y="726.3"/><use href="#uy" x="465.4" y="729.2"/><use href="#uy" x="476.7" y="726.5"/><use href="#ty" x="488.7" y="724.1"/><use href="#uy" x="462.4" y="732.1"/><use href="#sy" x="481.5" y="726.8"/><use href="#ty" x="465.8" y="731.6"/><use href="#ty" x="476.7" y="729.2"/><use href="#sy" x="487.5" y="726.4"/><use href="#sy" x="460.7" y="734.5"/><use href="#sy" x="470.2" y="732.8"/><use href="#uy" x="462.4" y="735.2"/><use href="#sy" x="482.3" y="729.3"/><use href="#sy" x="465.0" y="734.7"/><use href="#uy" x="486.4" y="728.6"/><use href="#sy" x="474.5" y="732.5"/><use href="#uy" x="490.3" y="729.0"/><use href="#sy" x="478.4" y="732.6"/><use href="#sy" x="484.3" y="731.4"/><use href="#sy" x="469.4" y="735.8"/><use href="#sy" x="462.1" y="738.3"/><use href="#uy" x="472.4" y="735.3"/><use href="#uy" x="492.8" y="730.0"/><use href="#ty" x="461.4" y="739.4"/><use href="#sy" x="480.4" y="734.3"/><use href="#ty" x="477.1" y="735.5"/><use href="#sy" x="487.6" y="732.7"/><use href="#uy" x="492.4" y="731.4"/><use href="#sy" x="458.0" y="742.0"/><use href="#sy" x="465.1" y="740.1"/><use href="#ty" x="469.0" y="739.0"/><use href="#sy" x="475.6" y="738.2"/><use href="#sy" x="489.9" y="733.9"/><use href="#uy" x="464.7" y="741.7"/><use href="#sy" x="493.2" y="733.3"/><use href="#sy" x="460.3" y="743.4"/><use href="#sy" x="485.3" y="736.5"/><use href="#sy" x="472.0" y="741.3"/><use href="#sy" x="467.1" y="743.3"/><use href="#sy" x="477.9" y="740.1"/><use href="#sy" x="459.7" y="746.2"/><use href="#sy" x="494.8" y="735.9"/><use href="#sy" x="486.0" y="738.6"/><use href="#ty" x="482.9" y="739.6"/><use href="#sy" x="458.5" y="747.2"/><use href="#sy" x="478.1" y="741.7"/><use href="#ty" x="493.9" y="736.9"/><use href="#sy" x="465.8" y="745.6"/><use href="#sy" x="462.7" y="747.1"/><use href="#uy" x="479.6" y="742.2"/><use href="#sy" x="458.4" y="748.9"/><use href="#ty" x="458.8" y="748.7"/><use href="#sy" x="490.7" y="739.5"/><use href="#ty" x="470.7" y="745.9"/><use href="#uy" x="462.4" y="749.2"/><use href="#sy" x="473.3" y="746.3"/><use href="#ty" x="493.1" y="740.5"/><use href="#ty" x="488.4" y="742.2"/><use href="#sy" x="494.7" y="740.3"/><use href="#uy" x="457.5" y="751.8"/><use href="#sy" x="485.6" y="743.4"/><use href="#sy" x="455.8" y="752.5"/><use href="#ty" x="479.9" y="745.3"/><use href="#sy" x="492.4" y="742.6"/><use href="#uy" x="466.8" y="750.6"/><use href="#ty" x="483.4" y="746.1"/><use href="#ty" x="461.3" y="752.8"/><use href="#ty" x="487.4" y="745.4"/><use href="#uy" x="492.6" y="744.1"/><use href="#uy" x="456.6" y="755.6"/><use href="#uy" x="455.4" y="756.3"/><use href="#sy" x="466.6" y="753.2"/><use href="#sy" x="472.4" y="751.6"/><use href="#ty" x="493.1" y="745.7"/><use href="#sy" x="469.0" y="753.0"/><use href="#sy" x="480.1" y="750.0"/><use href="#uy" x="478.0" y="751.7"/><use href="#sy" x="473.7" y="753.1"/><use href="#uy" x="462.8" y="756.5"/><use href="#ty" x="493.8" y="747.2"/><use href="#uy" x="459.2" y="757.7"/><use href="#sy" x="455.8" y="758.8"/><use href="#sy" x="484.5" y="750.5"/><use href="#ty" x="478.9" y="753.8"/><use href="#sy" x="494.5" y="749.5"/><use href="#sy" x="469.0" y="757.3"/><use href="#sy" x="489.9" y="751.1"/><use href="#sy" x="457.0" y="761.4"/><use href="#sy" x="482.5" y="754.4"/><use href="#ty" x="494.7" y="750.8"/><use href="#sy" x="455.6" y="762.6"/><use href="#uy" x="460.7" y="761.7"/><use href="#ty" x="477.0" y="757.0"/><use href="#sy" x="464.6" y="760.8"/><use href="#uy" x="472.4" y="758.9"/><use href="#sy" x="486.5" y="755.1"/><use href="#sy" x="460.0" y="763.7"/><use href="#ty" x="482.4" y="757.3"/><use href="#sy" x="493.1" y="754.6"/><use href="#ty" x="495.8" y="754.0"/><use href="#sy" x="455.6" y="766.5"/><use href="#sy" x="483.8" y="758.2"/><use href="#uy" x="494.1" y="755.2"/><use href="#uy" x="488.4" y="757.1"/><use href="#ty" x="469.8" y="762.7"/><use href="#ty" x="473.2" y="762.2"/><use href="#uy" x="456.0" y="767.5"/><use href="#sy" x="477.9" y="761.6"/><use href="#sy" x="464.2" y="766.0"/><use href="#sy" x="468.7" y="765.1"/><use href="#sy" x="482.8" y="761.3"/><use href="#sy" x="457.1" y="769.4"/><use href="#sy" x="471.9" y="765.0"/><use href="#sy" x="494.9" y="758.2"/><use href="#sy" x="493.8" y="758.8"/><use href="#sy" x="490.6" y="760.3"/><use href="#ty" x="488.2" y="761.1"/><use href="#uy" x="477.5" y="764.5"/><use href="#uy" x="466.9" y="767.7"/><use href="#ty" x="462.9" y="769.1"/><use href="#ty" x="455.0" y="772.7"/><use href="#uy" x="481.0" y="765.1"/><use href="#sy" x="492.6" y="761.7"/><use href="#sy" x="457.1" y="772.4"/><use href="#uy" x="458.3" y="772.8"/><use href="#ty" x="473.4" y="768.6"/><use href="#sy" x="494.7" y="762.5"/><use href="#sy" x="477.5" y="767.7"/><use href="#sy" x="469.8" y="770.4"/><use href="#sy" x="486.6" y="766.1"/><use href="#sy" x="493.2" y="764.3"/><use href="#sy" x="491.2" y="765.1"/><use href="#ty" x="466.8" y="772.7"/><use href="#uy" x="465.1" y="773.4"/><use href="#ty" x="459.0" y="775.7"/><use href="#sy" x="490.8" y="766.2"/><use href="#sy" x="473.0" y="771.9"/><use href="#ty" x="487.8" y="767.8"/><use href="#uy" x="461.5" y="776.1"/><use href="#sy" x="486.7" y="769.0"/><use href="#ty" x="483.8" y="770.2"/><use href="#ty" x="480.4" y="771.2"/><use href="#ty" x="491.1" y="768.1"/><use href="#sy" x="484.3" y="770.4"/><use href="#ty" x="477.8" y="772.5"/><use href="#sy" x="481.6" y="772.3"/><use href="#sy" x="470.8" y="776.3"/><use href="#ty" x="466.5" y="777.7"/><use href="#ty" x="461.2" y="779.4"/><use href="#ty" x="477.8" y="775.2"/><use href="#ty" x="475.9" y="775.9"/><use href="#ty" x="460.1" y="781.3"/><use href="#sy" x="464.8" y="780.7"/><use href="#sy" x="464.2" y="781.1"/><use href="#ty" x="466.6" y="781.4"/><use href="#uy" x="475.0" y="779.8"/><use href="#uy" x="473.0" y="780.4"/><use href="#ty" x="471.6" y="781.2"/><use href="#sy" x="468.5" y="782.4"/><use href="#sy" x="468.9" y="782.4"/><path d="M424.0,755.0C426.2,752.0 432.7,753.7 437.0,754.0C441.3,754.3 446.8,755.3 450.0,757.0C453.2,758.7 454.3,760.8 456.0,764.0C457.7,767.2 458.8,772.3 460.0,776.0C461.2,779.7 461.7,783.0 463.0,786.0C464.3,789.0 466.5,791.5 468.0,794.0C469.5,796.5 471.7,798.0 472.0,801.0C472.3,804.0 471.0,808.7 470.0,812.0C469.0,815.3 467.2,818.0 466.0,821.0C464.8,824.0 464.3,827.2 463.0,830.0C461.7,832.8 460.2,835.8 458.0,838.0C455.8,840.2 453.0,842.3 450.0,843.0C447.0,843.7 443.7,842.8 440.0,842.0C436.3,841.2 432.0,839.7 428.0,838.0C424.0,836.3 419.3,834.7 416.0,832.0C412.7,829.3 410.0,825.7 408.0,822.0C406.0,818.3 404.5,814.0 404.0,810.0C403.5,806.0 404.3,801.5 405.0,798.0C405.7,794.5 406.2,790.8 408.0,789.0C409.8,787.2 413.7,787.8 416.0,787.0C418.3,786.2 420.7,786.5 422.0,784.0C423.3,781.5 423.7,776.8 424.0,772.0C424.3,767.2 421.8,758.0 424.0,755.0Z" fill="#157a80"/><use href="#uc" x="424.7" y="757.5"/><use href="#sc" x="425.2" y="757.6"/><use href="#sc" x="428.0" y="757.1"/><use href="#tc" x="429.3" y="757.6"/><use href="#sc" x="438.8" y="755.1"/><use href="#uc" x="432.0" y="757.4"/><use href="#uc" x="433.1" y="757.3"/><use href="#uc" x="437.2" y="756.5"/><use href="#tc" x="426.6" y="760.1"/><use href="#sc" x="425.1" y="760.8"/><use href="#tc" x="435.8" y="758.0"/><use href="#tc" x="430.1" y="760.1"/><use href="#sc" x="441.6" y="757.9"/><use href="#sc" x="440.8" y="759.0"/><use href="#tc" x="434.8" y="761.0"/><use href="#uc" x="424.9" y="764.2"/><use href="#sc" x="445.7" y="758.6"/><use href="#tc" x="424.7" y="765.2"/><use href="#sc" x="445.4" y="759.0"/><use href="#tc" x="431.2" y="764.6"/><use href="#uc" x="427.4" y="765.9"/><use href="#uc" x="446.4" y="760.2"/><use href="#tc" x="450.2" y="759.2"/><use href="#sc" x="449.6" y="759.5"/><use href="#uc" x="439.5" y="762.9"/><use href="#sc" x="425.1" y="767.5"/><use href="#sc" x="451.6" y="760.1"/><use href="#uc" x="442.7" y="763.0"/><use href="#sc" x="440.7" y="763.8"/><use href="#sc" x="424.9" y="768.6"/><use href="#uc" x="437.7" y="765.3"/><use href="#uc" x="430.6" y="767.5"/><use href="#sc" x="444.6" y="765.5"/><use href="#sc" x="425.3" y="771.3"/><use href="#sc" x="452.6" y="763.3"/><use href="#sc" x="437.8" y="768.1"/><use href="#sc" x="447.7" y="765.6"/><use href="#uc" x="434.3" y="769.7"/><use href="#sc" x="453.8" y="763.9"/><use href="#sc" x="443.6" y="768.2"/><use href="#sc" x="425.0" y="774.0"/><use href="#sc" x="428.6" y="773.1"/><use href="#tc" x="432.9" y="772.2"/><use href="#tc" x="446.1" y="768.8"/><use href="#uc" x="435.1" y="772.1"/><use href="#tc" x="426.4" y="775.1"/><use href="#uc" x="454.8" y="766.7"/><use href="#sc" x="451.9" y="767.8"/><use href="#sc" x="441.4" y="772.0"/><use href="#uc" x="455.1" y="768.5"/><use href="#sc" x="424.7" y="778.2"/><use href="#sc" x="444.4" y="772.5"/><use href="#sc" x="424.3" y="778.7"/><use href="#sc" x="431.0" y="777.0"/><use href="#tc" x="455.8" y="770.0"/><use href="#sc" x="448.9" y="772.4"/><use href="#sc" x="454.7" y="771.7"/><use href="#uc" x="435.4" y="777.6"/><use href="#sc" x="439.6" y="776.7"/><use href="#uc" x="430.6" y="779.5"/><use href="#sc" x="424.6" y="782.1"/><use href="#uc" x="441.2" y="777.2"/><use href="#tc" x="446.0" y="775.8"/><use href="#tc" x="428.0" y="781.3"/><use href="#sc" x="456.3" y="774.0"/><use href="#sc" x="435.6" y="780.3"/><use href="#tc" x="457.4" y="774.0"/><use href="#sc" x="425.1" y="784.2"/><use href="#sc" x="451.8" y="776.5"/><use href="#uc" x="440.3" y="780.1"/><use href="#uc" x="445.7" y="778.7"/><use href="#sc" x="410.2" y="789.5"/><use href="#uc" x="413.6" y="788.6"/><use href="#tc" x="430.6" y="783.6"/><use href="#sc" x="408.9" y="790.2"/><use href="#sc" x="424.0" y="786.1"/><use href="#sc" x="447.8" y="779.1"/><use href="#uc" x="414.5" y="789.4"/><use href="#sc" x="418.6" y="788.2"/><use href="#sc" x="455.3" y="777.8"/><use href="#sc" x="452.3" y="778.9"/><use href="#sc" x="419.5" y="788.8"/><use href="#sc" x="435.0" y="784.3"/><use href="#uc" x="438.2" y="783.5"/><use href="#sc" x="424.2" y="788.2"/><use href="#sc" x="415.6" y="790.9"/><use href="#uc" x="458.3" y="778.1"/><use href="#uc" x="407.3" y="794.1"/><use href="#uc" x="428.4" y="787.9"/><use href="#sc" x="409.1" y="793.8"/><use href="#sc" x="413.3" y="792.7"/><use href="#uc" x="434.8" y="786.6"/><use href="#sc" x="430.8" y="787.9"/><use href="#tc" x="442.7" y="784.5"/><use href="#sc" x="424.7" y="790.4"/><use href="#sc" x="460.8" y="780.2"/><use href="#sc" x="451.2" y="783.2"/><use href="#tc" x="446.8" y="784.5"/><use href="#tc" x="409.2" y="795.9"/><use href="#tc" x="441.4" y="786.3"/><use href="#sc" x="421.4" y="792.4"/><use href="#tc" x="458.8" y="781.3"/><use href="#sc" x="459.2" y="781.3"/><use href="#tc" x="443.6" y="786.5"/><use href="#uc" x="416.0" y="795.2"/><use href="#sc" x="429.0" y="791.8"/><use href="#tc" x="407.6" y="798.4"/><use href="#uc" x="422.4" y="794.5"/><use href="#uc" x="455.7" y="784.5"/><use href="#sc" x="458.6" y="783.7"/><use href="#uc" x="418.9" y="795.8"/><use href="#uc" x="434.9" y="791.1"/><use href="#sc" x="450.3" y="786.7"/><use href="#sc" x="459.8" y="784.2"/><use href="#sc" x="408.2" y="799.9"/><use href="#sc" x="438.0" y="791.1"/><use href="#uc" x="413.6" y="799.1"/><use href="#sc" x="426.7" y="795.4"/><use href="#uc" x="431.4" y="794.3"/><use href="#sc" x="442.3" y="791.2"/><use href="#sc" x="452.0" y="788.7"/><use href="#uc" x="407.5" y="802.1"/><use href="#tc" x="416.8" y="799.6"/><use href="#uc" x="404.9" y="803.6"/><use href="#tc" x="445.7" y="791.4"/><use href="#tc" x="409.8" y="802.2"/><use href="#tc" x="422.3" y="798.6"/><use href="#sc" x="456.6" y="788.7"/><use href="#tc" x="460.7" y="787.5"/><use href="#sc" x="452.7" y="791.1"/><use href="#sc" x="429.7" y="798.1"/><use href="#tc" x="456.3" y="790.4"/><use href="#sc" x="406.7" y="805.3"/><use href="#tc" x="417.6" y="802.1"/><use href="#sc" x="462.6" y="788.7"/><use href="#sc" x="436.8" y="796.5"/><use href="#sc" x="415.0" y="803.2"/><use href="#tc" x="408.4" y="805.2"/><use href="#uc" x="439.9" y="795.8"/><use href="#uc" x="426.2" y="800.3"/><use href="#uc" x="405.4" y="806.9"/><use href="#uc" x="449.4" y="794.5"/><use href="#sc" x="452.6" y="793.7"/><use href="#uc" x="433.3" y="799.5"/><use href="#sc" x="423.2" y="802.6"/><use href="#sc" x="444.6" y="796.2"/><use href="#tc" x="412.6" y="805.9"/><use href="#tc" x="463.3" y="790.8"/><use href="#sc" x="460.5" y="792.2"/><use href="#tc" x="464.7" y="791.5"/><use href="#sc" x="426.8" y="802.9"/><use href="#uc" x="443.8" y="798.1"/><use href="#sc" x="405.4" y="809.8"/><use href="#sc" x="406.8" y="809.6"/><use href="#tc" x="421.4" y="805.4"/><use href="#uc" x="438.9" y="800.3"/><use href="#uc" x="446.1" y="798.2"/><use href="#tc" x="457.7" y="794.8"/><use href="#sc" x="417.6" y="806.9"/><use href="#tc" x="411.6" y="808.7"/><use href="#sc" x="433.3" y="802.3"/><use href="#sc" x="436.4" y="801.5"/><use href="#uc" x="461.1" y="794.7"/><use href="#tc" x="414.8" y="809.4"/><use href="#sc" x="465.1" y="794.4"/><use href="#uc" x="425.9" y="806.8"/><use href="#sc" x="450.4" y="799.5"/><use href="#uc" x="439.9" y="803.1"/><use href="#sc" x="409.1" y="812.4"/><use href="#sc" x="407.8" y="813.2"/><use href="#tc" x="434.6" y="805.2"/><use href="#uc" x="419.9" y="809.7"/><use href="#sc" x="465.8" y="796.0"/><use href="#uc" x="428.8" y="807.5"/><use href="#tc" x="450.4" y="801.4"/><use href="#sc" x="422.8" y="809.8"/><use href="#sc" x="443.7" y="803.8"/><use href="#tc" x="456.7" y="800.1"/><use href="#sc" x="439.7" y="805.3"/><use href="#sc" x="467.3" y="797.4"/><use href="#tc" x="459.2" y="800.0"/><use href="#uc" x="463.6" y="798.7"/><use href="#tc" x="469.2" y="797.6"/><use href="#sc" x="454.8" y="802.3"/><use href="#sc" x="407.3" y="816.5"/><use href="#sc" x="418.2" y="813.5"/><use href="#tc" x="413.5" y="815.0"/><use href="#sc" x="427.8" y="810.9"/><use href="#sc" x="408.6" y="816.7"/><use href="#sc" x="442.2" y="807.0"/><use href="#sc" x="435.1" y="809.4"/><use href="#sc" x="421.4" y="814.1"/><use href="#tc" x="431.5" y="811.2"/><use href="#uc" x="447.3" y="806.5"/><use href="#tc" x="439.3" y="809.0"/><use href="#tc" x="458.6" y="803.4"/><use href="#uc" x="413.4" y="817.2"/><use href="#uc" x="411.3" y="818.0"/><use href="#uc" x="461.4" y="803.2"/><use href="#sc" x="451.7" y="806.2"/><use href="#tc" x="418.3" y="816.3"/><use href="#sc" x="469.1" y="801.1"/><use href="#uc" x="455.0" y="805.4"/><use href="#sc" x="430.4" y="813.3"/><use href="#sc" x="425.9" y="815.3"/><use href="#uc" x="410.1" y="820.3"/><use href="#sc" x="466.8" y="803.6"/><use href="#sc" x="448.2" y="809.2"/><use href="#uc" x="408.1" y="821.8"/><use href="#tc" x="435.2" y="813.8"/><use href="#sc" x="469.9" y="803.4"/><use href="#sc" x="445.7" y="810.8"/><use href="#sc" x="458.6" y="807.0"/><use href="#sc" x="412.0" y="821.2"/><use href="#uc" x="468.9" y="804.7"/><use href="#sc" x="423.5" y="818.9"/><use href="#sc" x="465.0" y="806.5"/><use href="#sc" x="438.7" y="814.5"/><use href="#tc" x="432.5" y="816.5"/><use href="#sc" x="417.7" y="821.0"/><use href="#tc" x="469.2" y="806.0"/><use href="#tc" x="453.2" y="810.8"/><use href="#sc" x="427.1" y="818.7"/><use href="#sc" x="441.2" y="814.7"/><use href="#uc" x="411.1" y="823.7"/><use href="#tc" x="412.4" y="823.9"/><use href="#sc" x="462.3" y="809.1"/><use href="#sc" x="447.5" y="813.8"/><use href="#tc" x="458.7" y="810.9"/><use href="#uc" x="468.5" y="808.0"/><use href="#sc" x="420.2" y="822.5"/><use href="#sc" x="426.2" y="820.9"/><use href="#sc" x="466.0" y="809.2"/><use href="#sc" x="437.3" y="817.9"/><use href="#uc" x="414.5" y="824.8"/><use href="#uc" x="451.4" y="813.7"/><use href="#sc" x="429.4" y="821.4"/><use href="#sc" x="454.7" y="813.9"/><use href="#tc" x="422.5" y="823.9"/><use href="#uc" x="441.8" y="818.2"/><use href="#sc" x="445.6" y="817.1"/><use href="#sc" x="434.4" y="820.5"/><use href="#sc" x="414.8" y="826.6"/><use href="#tc" x="467.5" y="810.8"/><use href="#sc" x="458.5" y="813.9"/><use href="#uc" x="436.9" y="820.5"/><use href="#tc" x="417.6" y="826.5"/><use href="#tc" x="427.6" y="824.1"/><use href="#sc" x="464.6" y="813.7"/><use href="#sc" x="443.5" y="820.3"/><use href="#sc" x="418.1" y="827.9"/><use href="#uc" x="454.5" y="817.4"/><use href="#tc" x="450.1" y="818.9"/><use href="#sc" x="435.1" y="823.7"/><use href="#uc" x="432.3" y="824.6"/><use href="#tc" x="446.9" y="820.4"/><use href="#tc" x="460.9" y="816.2"/><use href="#sc" x="465.6" y="815.2"/><use href="#sc" x="417.2" y="829.9"/><use href="#uc" x="458.5" y="817.6"/><use href="#sc" x="450.4" y="820.4"/><use href="#tc" x="422.6" y="828.8"/><use href="#tc" x="465.1" y="816.7"/><use href="#sc" x="431.1" y="827.4"/><use href="#tc" x="441.2" y="824.4"/><use href="#uc" x="455.3" y="820.3"/><use href="#uc" x="458.5" y="820.2"/><use href="#tc" x="421.2" y="831.6"/><use href="#sc" x="426.4" y="830.1"/><use href="#sc" x="464.0" y="819.4"/><use href="#sc" x="445.7" y="825.0"/><use href="#sc" x="419.7" y="832.9"/><use href="#sc" x="433.5" y="829.1"/><use href="#uc" x="424.0" y="832.2"/><use href="#sc" x="439.7" y="827.6"/><use href="#uc" x="450.4" y="824.5"/><use href="#uc" x="427.6" y="831.5"/><use href="#sc" x="452.7" y="824.4"/><use href="#uc" x="463.2" y="821.3"/><use href="#sc" x="424.8" y="833.2"/><use href="#sc" x="432.6" y="831.1"/><use href="#sc" x="445.8" y="828.5"/><use href="#sc" x="461.6" y="823.9"/><use href="#sc" x="442.1" y="829.9"/><use href="#sc" x="462.6" y="823.9"/><use href="#uc" x="458.7" y="825.5"/><use href="#uc" x="441.1" y="831.4"/><use href="#sc" x="429.1" y="835.1"/><use href="#sc" x="436.2" y="833.3"/><use href="#sc" x="450.8" y="829.4"/><use href="#sc" x="456.9" y="827.8"/><use href="#sc" x="429.0" y="836.5"/><use href="#sc" x="461.2" y="827.9"/><use href="#tc" x="444.1" y="833.6"/><use href="#sc" x="432.9" y="837.0"/><use href="#sc" x="433.9" y="837.1"/><use href="#sc" x="460.6" y="829.5"/><use href="#sc" x="442.8" y="835.4"/><use href="#tc" x="449.6" y="833.7"/><use href="#sc" x="454.6" y="832.4"/><use href="#tc" x="438.7" y="837.2"/><use href="#sc" x="446.0" y="835.0"/><use href="#tc" x="436.4" y="838.0"/><use href="#tc" x="436.9" y="838.8"/><use href="#sc" x="459.4" y="832.0"/><use href="#tc" x="461.6" y="832.2"/><use href="#sc" x="452.3" y="835.1"/><use href="#tc" x="458.9" y="833.3"/><use href="#tc" x="439.6" y="839.2"/><use href="#tc" x="440.1" y="840.0"/><use href="#sc" x="456.7" y="835.5"/><use href="#sc" x="444.7" y="839.7"/><use href="#tc" x="443.6" y="840.2"/><use href="#uc" x="453.4" y="837.7"/><use href="#sc" x="454.2" y="837.7"/><use href="#tc" x="449.9" y="839.8"/><use href="#sc" x="449.1" y="840.5"/><use href="#uc" x="453.9" y="840.4"/><path d="M412.0,821.0C412.7,817.7 415.3,817.0 418.0,816.0C420.7,815.0 425.0,815.3 428.0,815.0C431.0,814.7 433.7,813.5 436.0,814.0C438.3,814.5 440.8,816.0 442.0,818.0C443.2,820.0 443.7,823.5 443.0,826.0C442.3,828.5 439.8,830.7 438.0,833.0C436.2,835.3 434.0,838.0 432.0,840.0C430.0,842.0 427.8,844.5 426.0,845.0C424.2,845.5 423.0,844.5 421.0,843.0C419.0,841.5 415.5,839.7 414.0,836.0C412.5,832.3 411.3,824.3 412.0,821.0Z" fill="#4a1466"/><use href="#up" x="419.4" y="816.8"/><use href="#tp" x="415.1" y="818.7"/><use href="#up" x="420.0" y="818.1"/><use href="#tp" x="422.2" y="818.1"/><use href="#up" x="417.5" y="819.9"/><use href="#sp" x="424.2" y="818.1"/><use href="#tp" x="428.0" y="817.3"/><use href="#sp" x="432.5" y="816.5"/><use href="#up" x="414.7" y="822.1"/><use href="#tp" x="431.1" y="817.3"/><use href="#sp" x="420.7" y="820.9"/><use href="#tp" x="435.0" y="816.6"/><use href="#sp" x="427.7" y="818.8"/><use href="#sp" x="417.6" y="822.6"/><use href="#tp" x="415.1" y="823.9"/><use href="#sp" x="440.0" y="816.8"/><use href="#up" x="436.0" y="818.3"/><use href="#tp" x="437.1" y="818.1"/><use href="#sp" x="426.1" y="821.7"/><use href="#sp" x="415.3" y="825.0"/><use href="#tp" x="417.1" y="825.6"/><use href="#tp" x="433.5" y="821.2"/><use href="#sp" x="430.3" y="822.5"/><use href="#up" x="440.1" y="819.6"/><use href="#up" x="422.1" y="825.3"/><use href="#sp" x="438.1" y="821.3"/><use href="#tp" x="415.9" y="828.0"/><use href="#sp" x="427.0" y="824.8"/><use href="#tp" x="441.1" y="820.9"/><use href="#sp" x="415.8" y="829.1"/><use href="#sp" x="432.8" y="824.3"/><use href="#sp" x="421.8" y="827.8"/><use href="#up" x="435.4" y="824.3"/><use href="#sp" x="440.3" y="823.0"/><use href="#sp" x="423.6" y="828.2"/><use href="#tp" x="415.8" y="831.1"/><use href="#up" x="440.3" y="824.6"/><use href="#tp" x="432.7" y="828.5"/><use href="#sp" x="430.0" y="829.3"/><use href="#up" x="421.3" y="832.1"/><use href="#tp" x="440.5" y="826.5"/><use href="#sp" x="415.3" y="834.1"/><use href="#up" x="419.2" y="834.1"/><use href="#sp" x="436.8" y="828.8"/><use href="#sp" x="416.5" y="835.1"/><use href="#up" x="437.7" y="829.5"/><use href="#sp" x="420.1" y="835.0"/><use href="#tp" x="428.4" y="833.5"/><use href="#sp" x="436.1" y="831.5"/><use href="#up" x="423.5" y="835.5"/><use href="#sp" x="415.9" y="837.8"/><use href="#sp" x="431.1" y="834.0"/><use href="#sp" x="419.4" y="837.6"/><use href="#sp" x="436.0" y="833.7"/><use href="#tp" x="419.0" y="839.1"/><use href="#up" x="433.8" y="834.8"/><use href="#tp" x="430.1" y="836.0"/><use href="#sp" x="432.9" y="835.2"/><use href="#sp" x="431.4" y="837.2"/><use href="#tp" x="421.4" y="840.2"/><use href="#sp" x="421.8" y="840.4"/><use href="#tp" x="429.2" y="839.6"/><use href="#sp" x="430.2" y="840.3"/><use href="#sp" x="426.3" y="841.7"/><use href="#sp" x="426.7" y="842.6"/><use href="#up" x="427.8" y="843.2"/><use href="#sp" x="425.9" y="843.9"/><path d="M399,753 L404,757 L400,762 L396,770 L391,778 L388,786 L392,795 L398,803 L404,809" fill="none" stroke="#3f5f9f" stroke-width="2.0" stroke-linecap="round" stroke-linejoin="round"/><path d="M399,753 L404,757 L400,762 L396,770 L391,778 L388,786 L392,795 L398,803 L404,809" fill="none" stroke="#7090cc" stroke-width="1.4" stroke-linecap="round" stroke-linejoin="round"/><path d="M397,754 L406,756 M394,767 L405,773 M391,776 L404,779 M389,786 L397,786 M393,797 L402,794 M398,760 L402,766" fill="none" stroke="#3f5f9f" stroke-width="1.5" stroke-linecap="round" stroke-linejoin="round"/><path d="M397,754 L406,756 M394,767 L405,773 M391,776 L404,779 M389,786 L397,786 M393,797 L402,794 M398,760 L402,766" fill="none" stroke="#7090cc" stroke-width="0.9" stroke-linecap="round" stroke-linejoin="round"/><path d="M458,730 L462,716 L470,716 L478,726 L485,724 L486,712" fill="none" stroke="#555" stroke-width="2.1" stroke-linecap="round" stroke-linejoin="round"/><path d="M458,730 L462,716 L470,716 L478,726 L485,724 L486,712" fill="none" stroke="#a8a8a8" stroke-width="1.5" stroke-linecap="round" stroke-linejoin="round"/><path d="M484.5,709 L484.5,729 L477,733" fill="none" stroke="#4a6aa8" stroke-width="1.7000000000000002" stroke-linecap="round" stroke-linejoin="round"/><path d="M484.5,709 L484.5,729 L477,733" fill="none" stroke="#7b98cf" stroke-width="1.1" stroke-linecap="round" stroke-linejoin="round"/><path d="M426.4,735.6L427.1,736.0L427.9,736.4L428.8,736.6L429.8,736.8L430.8,736.9L431.9,737.0L433.1,737.0L434.3,736.9L435.5,736.7L436.9,736.5L438.2,736.3L439.6,736.0L441.0,735.7L442.4,735.4L443.9,735.0L445.3,734.7L446.8,734.4L448.2,734.1L449.6,733.7L451.0,733.5L452.4,733.2L453.7,733.0L455.0,732.9L456.3,732.8L457.4,732.8L458.6,732.8L459.6,732.9L460.6,733.1L461.5,733.4L462.4,733.7L463.1,734.1L463.8,734.6M466.8,773.2L467.5,773.7L468.2,774.1" fill="none" stroke="#8a5008" stroke-width="2.7" stroke-linecap="round"/><path d="M426.4,735.6L427.1,736.0L427.9,736.4L428.8,736.6L429.8,736.8L430.8,736.9L431.9,737.0L433.1,737.0L434.3,736.9L435.5,736.7L436.9,736.5L438.2,736.3L439.6,736.0L441.0,735.7L442.4,735.4L443.9,735.0L445.3,734.7L446.8,734.4L448.2,734.1L449.6,733.7L451.0,733.5L452.4,733.2L453.7,733.0L455.0,732.9L456.3,732.8L457.4,732.8L458.6,732.8L459.6,732.9L460.6,733.1L461.5,733.4L462.4,733.7L463.1,734.1L463.8,734.6M466.8,773.2L467.5,773.7L468.2,774.1" fill="none" stroke="#f0951e" stroke-width="1.9" stroke-linecap="round"/><path d="M423.6,718.6L425.0,718.2L426.5,717.9L427.9,717.5L429.4,717.2L430.8,716.8L432.2,716.5L433.5,716.3L434.9,716.1L436.2,715.9L437.4,715.8L438.6,715.7L439.7,715.7L440.8,715.8L441.8,716.0L442.7,716.2L443.5,716.5L444.3,717.0L445.0,717.5M448.6,756.0L449.2,756.5L450.0,756.9L450.9,757.2L451.8,757.4L452.8,757.6L453.8,757.7L454.9,757.7L456.1,757.7L457.4,757.6L458.6,757.5L460.0,757.3L461.3,757.0L462.7,756.8L464.2,756.5L465.6,756.2L467.1,755.9L468.5,755.6L470.0,755.3L471.4,755.0L472.8,754.7L474.2,754.5L475.6,754.3L476.9,754.1L478.2,754.0L479.4,754.0L480.5,754.0L481.6,754.1L482.6,754.2L483.6,754.5L484.5,754.8L485.3,755.2L486.0,755.7" fill="none" stroke="#8a5008" stroke-width="2.7" stroke-linecap="round"/><path d="M423.6,718.6L425.0,718.2L426.5,717.9L427.9,717.5L429.4,717.2L430.8,716.8L432.2,716.5L433.5,716.3L434.9,716.1L436.2,715.9L437.4,715.8L438.6,715.7L439.7,715.7L440.8,715.8L441.8,716.0L442.7,716.2L443.5,716.5L444.3,717.0L445.0,717.5M448.6,756.0L449.2,756.5L450.0,756.9L450.9,757.2L451.8,757.4L452.8,757.6L453.8,757.7L454.9,757.7L456.1,757.7L457.4,757.6L458.6,757.5L460.0,757.3L461.3,757.0L462.7,756.8L464.2,756.5L465.6,756.2L467.1,755.9L468.5,755.6L470.0,755.3L471.4,755.0L472.8,754.7L474.2,754.5L475.6,754.3L476.9,754.1L478.2,754.0L479.4,754.0L480.5,754.0L481.6,754.1L482.6,754.2L483.6,754.5L484.5,754.8L485.3,755.2L486.0,755.7" fill="none" stroke="#f0951e" stroke-width="1.9" stroke-linecap="round"/><path d="M423.7,718.5L423.6,718.6M423.7,724.1L429.4,717.6M424.4,728.9L434.9,717.0M426.1,732.5L439.7,717.3M429.1,734.8L443.4,718.8M433.2,735.7L445.9,721.7M438.4,735.5L447.1,725.9M444.1,734.7L447.3,731.2M449.9,733.9L447.1,737.0M455.2,733.7L446.8,742.8M459.6,734.4L447.0,748.0M462.8,736.5L448.2,752.2M464.7,740.0L450.6,755.0M465.5,744.6L454.3,756.5M465.4,750.2L459.1,756.8M465.0,756.0L464.7,756.4M464.8,761.7L470.5,755.6M465.2,766.5L476.1,755.2M466.8,770.3L480.9,755.6M469.7,772.6L484.6,757.1" stroke="#8a5008" stroke-width="1.3" fill="none" stroke-opacity="0.7"/><path d="M423.7,718.5L423.6,718.6M423.7,724.1L429.4,717.6M424.4,728.9L434.9,717.0M426.1,732.5L439.7,717.3M429.1,734.8L443.4,718.8M433.2,735.7L445.9,721.7M438.4,735.5L447.1,725.9M444.1,734.7L447.3,731.2M449.9,733.9L447.1,737.0M455.2,733.7L446.8,742.8M459.6,734.4L447.0,748.0M462.8,736.5L448.2,752.2M464.7,740.0L450.6,755.0M465.5,744.6L454.3,756.5M465.4,750.2L459.1,756.8M465.0,756.0L464.7,756.4M464.8,761.7L470.5,755.6M465.2,766.5L476.1,755.2M466.8,770.3L480.9,755.6M469.7,772.6L484.6,757.1" stroke="#f5a030" stroke-width="1.0" fill="none"/><path d="M423.7,718.5L423.5,719.9L423.4,721.4L423.3,722.8L423.2,724.1L423.1,725.5L423.1,726.7L423.1,728.0L423.2,729.1L423.4,730.2L423.6,731.2L423.9,732.2L424.2,733.0L424.7,733.8L425.2,734.5L425.7,735.1M464.4,735.2L464.9,735.9L465.4,736.7L465.7,737.5L466.0,738.5L466.3,739.5L466.4,740.6L466.5,741.7L466.5,742.9L466.5,744.2L466.4,745.5L466.3,746.9L466.2,748.2L466.0,749.7L465.8,751.1L465.5,752.6L465.3,754.1L465.1,755.5L464.9,757.0L464.6,758.4L464.5,759.9L464.3,761.2L464.2,762.6L464.1,763.9L464.1,765.1L464.1,766.3L464.2,767.4L464.3,768.5L464.6,769.5L464.9,770.4L465.2,771.2L465.7,772.0L466.2,772.6" fill="none" stroke="#8a5008" stroke-width="2.7" stroke-linecap="round"/><path d="M423.7,718.5L423.5,719.9L423.4,721.4L423.3,722.8L423.2,724.1L423.1,725.5L423.1,726.7L423.1,728.0L423.2,729.1L423.4,730.2L423.6,731.2L423.9,732.2L424.2,733.0L424.7,733.8L425.2,734.5L425.7,735.1M464.4,735.2L464.9,735.9L465.4,736.7L465.7,737.5L466.0,738.5L466.3,739.5L466.4,740.6L466.5,741.7L466.5,742.9L466.5,744.2L466.4,745.5L466.3,746.9L466.2,748.2L466.0,749.7L465.8,751.1L465.5,752.6L465.3,754.1L465.1,755.5L464.9,757.0L464.6,758.4L464.5,759.9L464.3,761.2L464.2,762.6L464.1,763.9L464.1,765.1L464.1,766.3L464.2,767.4L464.3,768.5L464.6,769.5L464.9,770.4L465.2,771.2L465.7,772.0L466.2,772.6" fill="none" stroke="#f0951e" stroke-width="1.9" stroke-linecap="round"/><path d="M445.6,718.0L446.2,718.7L446.6,719.5L447.0,720.3L447.3,721.2L447.6,722.2L447.8,723.3L447.9,724.4L447.9,725.6L447.9,726.9L447.9,728.2L447.8,729.5L447.6,730.9L447.5,732.4L447.3,733.8L447.1,735.3L446.9,736.8L446.7,738.2L446.5,739.7L446.3,741.1L446.1,742.6L446.0,744.0L445.9,745.3L445.8,746.6L445.8,747.9L445.8,749.1L445.9,750.2L446.1,751.3L446.3,752.2L446.6,753.1L447.0,754.0L447.4,754.7L448.0,755.4" fill="none" stroke="#8a5008" stroke-width="2.7" stroke-linecap="round"/><path d="M445.6,718.0L446.2,718.7L446.6,719.5L447.0,720.3L447.3,721.2L447.6,722.2L447.8,723.3L447.9,724.4L447.9,725.6L447.9,726.9L447.9,728.2L447.8,729.5L447.6,730.9L447.5,732.4L447.3,733.8L447.1,735.3L446.9,736.8L446.7,738.2L446.5,739.7L446.3,741.1L446.1,742.6L446.0,744.0L445.9,745.3L445.8,746.6L445.8,747.9L445.8,749.1L445.9,750.2L446.1,751.3L446.3,752.2L446.6,753.1L447.0,754.0L447.4,754.7L448.0,755.4" fill="none" stroke="#f0951e" stroke-width="1.9" stroke-linecap="round"/><path d="M405,780 C408,770 416,764 424,763 C430,764 432,772 433,783 L428,780 L422,779 L414,779 L409,781 Z" fill="#fff"/><path d="M408,779 L410,770 M412,779 L415,766 M417,779 L419,764 M422,779 L423,763 M427,780 L428,765 M431,783 L431,769 M403,790 L409,786 M402,797 L409,796 M402,803 L409,805" fill="none" stroke="#8a2a10" stroke-width="1.5" stroke-linecap="round" stroke-linejoin="round"/><path d="M408,779 L410,770 M412,779 L415,766 M417,779 L419,764 M422,779 L423,763 M427,780 L428,765 M431,783 L431,769 M403,790 L409,786 M402,797 L409,796 M402,803 L409,805" fill="none" stroke="#e0582e" stroke-width="0.9" stroke-linecap="round" stroke-linejoin="round"/><path d="M405,780 C408,770 416,764 424,763 C430,764 432,772 433,783" fill="none" stroke="#222" stroke-width="1.9" stroke-linecap="round" stroke-linejoin="round"/><path d="M405,780 C408,770 416,764 424,763 C430,764 432,772 433,783" fill="none" stroke="#5a5a5a" stroke-width="1.3" stroke-linecap="round" stroke-linejoin="round"/><path d="M401,803 C401,795 402,787 409,781 C415,778 424,777 431,785" fill="none" stroke="#8a2a10" stroke-width="2.1" stroke-linecap="round" stroke-linejoin="round"/><path d="M401,803 C401,795 402,787 409,781 C415,778 424,777 431,785" fill="none" stroke="#e0582e" stroke-width="1.5" stroke-linecap="round" stroke-linejoin="round"/><ellipse cx="477" cy="781.5" rx="7" ry="4.2" fill="#fff"/><path d="M492.0,787.2L483.9,788.5M491.9,792.2L483.9,790.6M489.8,796.8L483.0,792.6M485.9,800.3L481.4,794.1M481.0,802.2L479.2,794.9M475.5,802.3L477.0,794.9M470.5,800.5L474.8,794.2M466.5,797.1L473.1,792.7M464.2,792.6L472.2,790.8M463.9,787.7L472.1,788.7" fill="none" stroke="#6a3418" stroke-width="1.5" stroke-linecap="round" stroke-linejoin="round"/><path d="M492.0,787.2L483.9,788.5M491.9,792.2L483.9,790.6M489.8,796.8L483.0,792.6M485.9,800.3L481.4,794.1M481.0,802.2L479.2,794.9M475.5,802.3L477.0,794.9M470.5,800.5L474.8,794.2M466.5,797.1L473.1,792.7M464.2,792.6L472.2,790.8M463.9,787.7L472.1,788.7" fill="none" stroke="#b0663e" stroke-width="0.9" stroke-linecap="round" stroke-linejoin="round"/><path d="M463.5,789.5 A14.5,13.3 0 1 0 492.5,789.5 A14.5,13.3 0 1 0 463.5,789.5" fill="none" stroke="#6a3418" stroke-width="2.2" stroke-linecap="round" stroke-linejoin="round"/><path d="M463.5,789.5 A14.5,13.3 0 1 0 492.5,789.5 A14.5,13.3 0 1 0 463.5,789.5" fill="none" stroke="#b0663e" stroke-width="1.6" stroke-linecap="round" stroke-linejoin="round"/><path d="M450.5,793 L452,780 L462,771 L472,773 L484,766 L482,755 M453,779 L470,777 L490,781 L492.5,792 L488,800 M462,771 L468,779 M476,772 L480,778" fill="none" stroke="#261a70" stroke-width="2.0" stroke-linecap="round" stroke-linejoin="round"/><path d="M450.5,793 L452,780 L462,771 L472,773 L484,766 L482,755 M453,779 L470,777 L490,781 L492.5,792 L488,800 M462,771 L468,779 M476,772 L480,778" fill="none" stroke="#4a3ca8" stroke-width="1.4" stroke-linecap="round" stroke-linejoin="round"/><path d="M408.1,798.7L408.1,799.7L408.4,800.8L408.8,801.9L409.4,803.0L410.3,804.2L411.2,805.3L412.3,806.4L413.6,807.4L414.8,808.4L416.2,809.4L417.5,810.3L418.8,811.1L420.0,811.9L421.1,812.6L422.1,813.2L423.0,813.9L423.7,814.4L424.2,815.0L424.5,815.5M418.4,839.1L419.5,839.6L420.8,840.0L422.0,840.1L423.5,840.0L424.9,839.7L426.3,839.1L427.7,838.4L429.1,837.5L430.3,836.4L431.5,835.3L432.6,834.1L433.6,832.9L434.4,831.7L435.2,830.6L435.9,829.6L436.5,828.7L437.0,828.0L437.5,827.4L438.0,827.1M461.3,835.1L461.9,834.2L462.3,833.1L462.6,832.0L462.6,830.7" fill="none" stroke="#2a2a2a" stroke-width="2.7" stroke-linecap="round"/><path d="M408.1,798.7L408.1,799.7L408.4,800.8L408.8,801.9L409.4,803.0L410.3,804.2L411.2,805.3L412.3,806.4L413.6,807.4L414.8,808.4L416.2,809.4L417.5,810.3L418.8,811.1L420.0,811.9L421.1,812.6L422.1,813.2L423.0,813.9L423.7,814.4L424.2,815.0L424.5,815.5M418.4,839.1L419.5,839.6L420.8,840.0L422.0,840.1L423.5,840.0L424.9,839.7L426.3,839.1L427.7,838.4L429.1,837.5L430.3,836.4L431.5,835.3L432.6,834.1L433.6,832.9L434.4,831.7L435.2,830.6L435.9,829.6L436.5,828.7L437.0,828.0L437.5,827.4L438.0,827.1M461.3,835.1L461.9,834.2L462.3,833.1L462.6,832.0L462.6,830.7" fill="none" stroke="#6a6a6a" stroke-width="1.9" stroke-linecap="round"/><path d="M419.0,797.3L420.0,798.5L421.0,799.7L422.0,800.8L422.8,801.8L423.6,802.8L424.1,803.7L424.6,804.5L424.8,805.3L424.9,806.0M408.3,824.7L408.9,825.7L409.7,826.6L410.7,827.3L411.9,828.0L413.2,828.5L414.7,828.9L416.3,829.0L417.9,829.1L419.6,829.0L421.2,828.8L422.8,828.4L424.2,828.0L425.6,827.6L426.8,827.1L427.9,826.7L428.9,826.3L429.7,826.0L430.4,825.9L430.9,825.8M447.6,843.0L448.6,842.4L449.3,841.5L450.0,840.4L450.6,839.1L451.0,837.8L451.3,836.3L451.5,834.7L451.6,833.1L451.6,831.4L451.5,829.8L451.4,828.2L451.2,826.7L451.1,825.3L451.0,824.0L450.9,822.9L450.9,821.8L451.0,820.9L451.3,820.2L451.7,819.6" fill="none" stroke="#3a64a8" stroke-width="2.7" stroke-linecap="round"/><path d="M419.0,797.3L420.0,798.5L421.0,799.7L422.0,800.8L422.8,801.8L423.6,802.8L424.1,803.7L424.6,804.5L424.8,805.3L424.9,806.0M408.3,824.7L408.9,825.7L409.7,826.6L410.7,827.3L411.9,828.0L413.2,828.5L414.7,828.9L416.3,829.0L417.9,829.1L419.6,829.0L421.2,828.8L422.8,828.4L424.2,828.0L425.6,827.6L426.8,827.1L427.9,826.7L428.9,826.3L429.7,826.0L430.4,825.9L430.9,825.8M447.6,843.0L448.6,842.4L449.3,841.5L450.0,840.4L450.6,839.1L451.0,837.8L451.3,836.3L451.5,834.7L451.6,833.1L451.6,831.4L451.5,829.8L451.4,828.2L451.2,826.7L451.1,825.3L451.0,824.0L450.9,822.9L450.9,821.8L451.0,820.9L451.3,820.2L451.7,819.6" fill="none" stroke="#6b95d8" stroke-width="1.9" stroke-linecap="round"/><path d="M411.9,794.9L418.4,797.1M409.6,797.8L421.4,801.1M409.7,801.3L423.3,804.4M412.1,805.2L423.4,807.0M415.9,808.8L421.3,809.3M419.8,811.9L417.5,811.8M422.6,814.3L413.3,815.0M423.3,816.5L410.1,818.9M422.0,819.1L409.1,823.0M419.5,822.8L410.9,826.5M417.1,827.4L414.9,828.7M416.2,832.4L420.2,829.2M417.6,836.7L425.2,828.3M421.2,838.9L428.8,827.2M425.9,838.4L431.0,827.2M430.5,835.8L432.4,829.1M434.1,832.2L434.0,832.7M436.6,829.3L436.6,837.1M438.6,828.1L440.3,840.8M441.0,829.0L444.5,842.4M444.4,831.4L448.2,841.4M448.8,834.2L450.7,838.0M453.6,836.0L451.8,833.0M457.8,835.9L451.8,827.8M460.7,833.8L451.8,823.4M461.8,829.8L452.5,820.5" stroke="#2a2a2a" stroke-width="1.2" fill="none" stroke-opacity="0.7"/><path d="M411.9,794.9L418.4,797.1M409.6,797.8L421.4,801.1M409.7,801.3L423.3,804.4M412.1,805.2L423.4,807.0M415.9,808.8L421.3,809.3M419.8,811.9L417.5,811.8M422.6,814.3L413.3,815.0M423.3,816.5L410.1,818.9M422.0,819.1L409.1,823.0M419.5,822.8L410.9,826.5M417.1,827.4L414.9,828.7M416.2,832.4L420.2,829.2M417.6,836.7L425.2,828.3M421.2,838.9L428.8,827.2M425.9,838.4L431.0,827.2M430.5,835.8L432.4,829.1M434.1,832.2L434.0,832.7M436.6,829.3L436.6,837.1M438.6,828.1L440.3,840.8M441.0,829.0L444.5,842.4M444.4,831.4L448.2,841.4M448.8,834.2L450.7,838.0M453.6,836.0L451.8,833.0M457.8,835.9L451.8,827.8M460.7,833.8L451.8,823.4M461.8,829.8L452.5,820.5" stroke="#8a8a8a" stroke-width="0.9" fill="none"/><path d="M411.3,794.7L410.3,795.4L409.4,796.1L408.8,796.9L408.3,797.8M424.6,816.1L424.5,816.7L424.2,817.4L423.7,818.1L423.1,818.9L422.4,819.8L421.6,820.8L420.7,821.9L419.8,823.1L418.9,824.4L418.0,825.8L417.3,827.3L416.7,828.8L416.2,830.3L415.9,831.9L415.8,833.4L415.9,834.8L416.2,836.1L416.8,837.2L417.5,838.3M438.5,826.9L439.1,827.0L439.7,827.2L440.4,827.6L441.2,828.1L442.0,828.8L443.0,829.6L444.0,830.5L445.2,831.4L446.5,832.4L447.8,833.3L449.2,834.1L450.6,834.9L452.0,835.6L453.5,836.2L454.9,836.6L456.2,836.8L457.5,836.8L458.6,836.7L459.7,836.3L460.6,835.8" fill="none" stroke="#2a2a2a" stroke-width="2.7" stroke-linecap="round"/><path d="M411.3,794.7L410.3,795.4L409.4,796.1L408.8,796.9L408.3,797.8M424.6,816.1L424.5,816.7L424.2,817.4L423.7,818.1L423.1,818.9L422.4,819.8L421.6,820.8L420.7,821.9L419.8,823.1L418.9,824.4L418.0,825.8L417.3,827.3L416.7,828.8L416.2,830.3L415.9,831.9L415.8,833.4L415.9,834.8L416.2,836.1L416.8,837.2L417.5,838.3M438.5,826.9L439.1,827.0L439.7,827.2L440.4,827.6L441.2,828.1L442.0,828.8L443.0,829.6L444.0,830.5L445.2,831.4L446.5,832.4L447.8,833.3L449.2,834.1L450.6,834.9L452.0,835.6L453.5,836.2L454.9,836.6L456.2,836.8L457.5,836.8L458.6,836.7L459.7,836.3L460.6,835.8" fill="none" stroke="#6a6a6a" stroke-width="1.9" stroke-linecap="round"/><path d="M424.7,806.7L424.4,807.3L423.8,807.9L423.1,808.5L422.2,809.1L421.1,809.7L419.9,810.4L418.7,811.1L417.3,811.8L415.9,812.7L414.6,813.5L413.2,814.5L412.0,815.5L410.8,816.6L409.8,817.7L409.0,818.9L408.4,820.1L408.0,821.2L407.9,822.5L407.9,823.6M431.3,826.0L431.7,826.3L432.0,826.8L432.3,827.5L432.6,828.4L432.9,829.5L433.3,830.6L433.7,831.9L434.2,833.3L434.9,834.8L435.6,836.2L436.5,837.6L437.4,838.9L438.5,840.2L439.6,841.3L440.7,842.2L441.9,842.9L443.2,843.4L444.3,843.7L445.5,843.7L446.6,843.5" fill="none" stroke="#3a64a8" stroke-width="2.7" stroke-linecap="round"/><path d="M424.7,806.7L424.4,807.3L423.8,807.9L423.1,808.5L422.2,809.1L421.1,809.7L419.9,810.4L418.7,811.1L417.3,811.8L415.9,812.7L414.6,813.5L413.2,814.5L412.0,815.5L410.8,816.6L409.8,817.7L409.0,818.9L408.4,820.1L408.0,821.2L407.9,822.5L407.9,823.6M431.3,826.0L431.7,826.3L432.0,826.8L432.3,827.5L432.6,828.4L432.9,829.5L433.3,830.6L433.7,831.9L434.2,833.3L434.9,834.8L435.6,836.2L436.5,837.6L437.4,838.9L438.5,840.2L439.6,841.3L440.7,842.2L441.9,842.9L443.2,843.4L444.3,843.7L445.5,843.7L446.6,843.5" fill="none" stroke="#6b95d8" stroke-width="1.9" stroke-linecap="round"/><path d="M446,846 L455,835 L458,826" fill="none" stroke="#3a64a8" stroke-width="2.1" stroke-linecap="round" stroke-linejoin="round"/><path d="M446,846 L455,835 L458,826" fill="none" stroke="#6b95d8" stroke-width="1.5" stroke-linecap="round" stroke-linejoin="round"/><text x="451.6" y="708.6" font-size="8.4" font-weight="bold" font-style="italic" fill="#1f6a2a">REC</text><text x="489.5" y="725.6" font-size="8.4" font-weight="bold" font-style="italic" fill="#8c8c1c">WED</text><text x="492.0" y="780.2" font-size="8.4" font-weight="bold" font-style="italic" fill="#5a4aa8">S1</text><text x="474.2" y="812.6" font-size="8.4" font-weight="bold" font-style="italic" fill="#a0442a">PK</text><text x="376.2" y="818.0" font-size="8.4" font-weight="bold" font-style="italic" fill="#d8442a">Spacer</text><text x="464.0" y="834.2" font-size="8.4" font-weight="bold" font-style="italic" fill="#2f6b6b">RuvC</text><text x="405.6" y="848.4" font-size="8.4" font-weight="bold" font-style="italic" fill="#5a3050">ZF</text><text x="429.2" y="855.6" font-size="8.4" font-weight="bold" font-style="italic" fill="#2f8fd8">NTS</text><text x="453.8" y="848.4" font-size="8.4" font-weight="bold" font-style="italic" fill="#666">TS</text></g></defs><text x="333.9" y="700.9" font-size="15" text-anchor="start" font-weight="bold" font-style="normal" fill="#231815" >f</text><use href="#st"/><path d="M370,683 C362,681 356,688 357,697 C358,705 364,709 371,708 C377,706 381,700 381,694 C380,688 376,684 370,683Z" fill="none"/><path d="M366,688 L378,690 M363,694 L380,696 M362,700 L379,702 M365,705 L376,706" fill="none" stroke="#666" stroke-width="1.4" stroke-linecap="round" stroke-linejoin="round"/><path d="M366,688 L378,690 M363,694 L380,696 M362,700 L379,702 M365,705 L376,706" fill="none" stroke="#eeeeee" stroke-width="0.8" stroke-linecap="round" stroke-linejoin="round"/><path d="M372,683 C376,684 380,689 381,694 C381,700 377,706 371,708" fill="none" stroke="#4a4a4a" stroke-width="2.6" stroke-linecap="round" stroke-linejoin="round"/><path d="M372,683 C376,684 380,689 381,694 C381,700 377,706 371,708" fill="none" stroke="#c8c8c8" stroke-width="2.0" stroke-linecap="round" stroke-linejoin="round"/><path d="M372,683 C362,681 356,688 357,697 C358,704 363,708 371,708" fill="none" stroke="#8a5008" stroke-width="2.6" stroke-linecap="round" stroke-linejoin="round"/><path d="M372,683 C362,681 356,688 357,697 C358,704 363,708 371,708" fill="none" stroke="#ef9420" stroke-width="2.0" stroke-linecap="round" stroke-linejoin="round"/><path d="M360,692 L366,692 M359,698 L364,699" fill="none" stroke="#8a5008" stroke-width="1.5" stroke-linecap="round" stroke-linejoin="round"/><path d="M360,692 L366,692 M359,698 L364,699" fill="none" stroke="#ef9420" stroke-width="0.9" stroke-linecap="round" stroke-linejoin="round"/><path d="M384.3,710.3L385.1,710.5L385.9,710.5L386.9,710.3L387.9,710.0L389.0,709.6L390.2,709.1L391.5,708.5L392.9,707.8L394.3,707.1L395.8,706.3L397.3,705.5L398.9,704.7L400.5,703.9L402.1,703.1L403.6,702.4L405.2,701.8L406.7,701.3L408.2,700.8L409.6,700.5L411.0,700.2L412.2,700.1L413.4,700.2L414.4,700.4L415.4,700.7L416.2,701.2M413.5,735.5L414.1,736.0L414.8,736.4L415.7,736.6L416.8,736.8L417.9,736.9L419.2,736.9L420.6,736.8L422.1,736.7L423.6,736.5L425.3,736.3L427.0,736.1L428.7,735.9L430.4,735.6L432.2,735.4L433.9,735.2L435.6,735.1L437.3,735.0L438.8,735.0L440.3,735.0" fill="none" stroke="#555" stroke-width="2.8" stroke-linecap="round"/><path d="M384.3,710.3L385.1,710.5L385.9,710.5L386.9,710.3L387.9,710.0L389.0,709.6L390.2,709.1L391.5,708.5L392.9,707.8L394.3,707.1L395.8,706.3L397.3,705.5L398.9,704.7L400.5,703.9L402.1,703.1L403.6,702.4L405.2,701.8L406.7,701.3L408.2,700.8L409.6,700.5L411.0,700.2L412.2,700.1L413.4,700.2L414.4,700.4L415.4,700.7L416.2,701.2M413.5,735.5L414.1,736.0L414.8,736.4L415.7,736.6L416.8,736.8L417.9,736.9L419.2,736.9L420.6,736.8L422.1,736.7L423.6,736.5L425.3,736.3L427.0,736.1L428.7,735.9L430.4,735.6L432.2,735.4L433.9,735.2L435.6,735.1L437.3,735.0L438.8,735.0L440.3,735.0" fill="none" stroke="#d4d4d4" stroke-width="2.0" stroke-linecap="round"/><path d="M378.5,697.7L379.8,696.6L381.2,695.5L382.6,694.4L384.0,693.4L385.4,692.3L386.8,691.4L388.2,690.5L389.5,689.7L390.9,689.0L392.2,688.5L393.4,688.1L394.6,687.9L395.7,687.8L396.8,687.9L397.7,688.2M400.9,722.4L401.5,722.8L402.3,723.1L403.2,723.3L404.1,723.3L405.3,723.3L406.5,723.1L407.8,722.9L409.2,722.6L410.7,722.2L412.3,721.8L413.9,721.4L415.6,720.9L417.3,720.4L419.0,720.0L420.7,719.6L422.4,719.2L424.0,718.9L425.6,718.7L427.1,718.5L428.5,718.4L429.9,718.5L431.1,718.6L432.2,718.9L433.2,719.3L434.0,719.8L434.7,720.4" fill="none" stroke="#555" stroke-width="2.8" stroke-linecap="round"/><path d="M378.5,697.7L379.8,696.6L381.2,695.5L382.6,694.4L384.0,693.4L385.4,692.3L386.8,691.4L388.2,690.5L389.5,689.7L390.9,689.0L392.2,688.5L393.4,688.1L394.6,687.9L395.7,687.8L396.8,687.9L397.7,688.2M400.9,722.4L401.5,722.8L402.3,723.1L403.2,723.3L404.1,723.3L405.3,723.3L406.5,723.1L407.8,722.9L409.2,722.6L410.7,722.2L412.3,721.8L413.9,721.4L415.6,720.9L417.3,720.4L419.0,720.0L420.7,719.6L422.4,719.2L424.0,718.9L425.6,718.7L427.1,718.5L428.5,718.4L429.9,718.5L431.1,718.6L432.2,718.9L433.2,719.3L434.0,719.8L434.7,720.4" fill="none" stroke="#d4d4d4" stroke-width="2.0" stroke-linecap="round"/><path d="M379.9,694.3L378.6,697.4M380.8,699.3L382.9,694.5M381.7,703.7L387.4,691.8M383.0,706.8L391.6,690.0M385.0,708.5L395.4,689.7M387.9,708.6L398.3,690.9M391.6,707.5L400.3,693.7M396.0,705.7L401.2,697.9M400.8,703.7L401.4,702.9M405.7,702.0L401.1,708.2M410.1,701.3L400.7,713.1M413.6,701.9L400.8,717.2M416.0,704.0L401.7,720.1M417.1,707.3L403.7,721.8M417.1,711.7L406.9,722.2M416.2,716.7L411.2,721.8M415.0,721.9L416.1,720.8M414.0,726.6L421.3,719.9M413.6,730.5L426.2,719.5M414.4,733.4L430.3,720.0M416.4,735.1L433.1,721.7M419.8,735.8L434.5,724.4M424.3,735.9L434.4,728.2M429.4,735.6L433.3,732.8M434.6,735.4L431.4,737.6M439.4,735.7L429.4,742.4" stroke="#555" stroke-width="1.4000000000000001" fill="none" stroke-opacity="0.7"/><path d="M379.9,694.3L378.6,697.4M380.8,699.3L382.9,694.5M381.7,703.7L387.4,691.8M383.0,706.8L391.6,690.0M385.0,708.5L395.4,689.7M387.9,708.6L398.3,690.9M391.6,707.5L400.3,693.7M396.0,705.7L401.2,697.9M400.8,703.7L401.4,702.9M405.7,702.0L401.1,708.2M410.1,701.3L400.7,713.1M413.6,701.9L400.8,717.2M416.0,704.0L401.7,720.1M417.1,707.3L403.7,721.8M417.1,711.7L406.9,722.2M416.2,716.7L411.2,721.8M415.0,721.9L416.1,720.8M414.0,726.6L421.3,719.9M413.6,730.5L426.2,719.5M414.4,733.4L430.3,720.0M416.4,735.1L433.1,721.7M419.8,735.8L434.5,724.4M424.3,735.9L434.4,728.2M429.4,735.6L433.3,732.8M434.6,735.4L431.4,737.6M439.4,735.7L429.4,742.4" stroke="#ffffff" stroke-width="1.1" fill="none"/><path d="M380.0,694.0L380.2,695.8L380.4,697.5L380.5,699.2L380.7,700.8L380.8,702.3L381.0,703.7L381.2,705.1L381.5,706.3L381.8,707.3L382.1,708.2L382.6,709.0L383.1,709.6L383.7,710.1M416.9,701.8L417.4,702.6L417.9,703.5L418.2,704.5L418.3,705.7L418.4,707.0L418.4,708.4L418.2,709.8L417.9,711.4L417.6,713.0L417.2,714.6L416.7,716.3L416.2,718.0L415.7,719.6L415.1,721.3L414.6,722.9L414.1,724.5L413.6,726.1L413.2,727.5L412.9,728.9L412.6,730.1L412.4,731.3L412.4,732.4L412.5,733.3L412.7,734.2L413.0,734.9" fill="none" stroke="#555" stroke-width="2.8" stroke-linecap="round"/><path d="M380.0,694.0L380.2,695.8L380.4,697.5L380.5,699.2L380.7,700.8L380.8,702.3L381.0,703.7L381.2,705.1L381.5,706.3L381.8,707.3L382.1,708.2L382.6,709.0L383.1,709.6L383.7,710.1M416.9,701.8L417.4,702.6L417.9,703.5L418.2,704.5L418.3,705.7L418.4,707.0L418.4,708.4L418.2,709.8L417.9,711.4L417.6,713.0L417.2,714.6L416.7,716.3L416.2,718.0L415.7,719.6L415.1,721.3L414.6,722.9L414.1,724.5L413.6,726.1L413.2,727.5L412.9,728.9L412.6,730.1L412.4,731.3L412.4,732.4L412.5,733.3L412.7,734.2L413.0,734.9" fill="none" stroke="#d4d4d4" stroke-width="2.0" stroke-linecap="round"/><path d="M398.6,688.6L399.3,689.2L400.0,690.0L400.5,690.9L400.9,692.0L401.3,693.2L401.5,694.5L401.7,695.9L401.7,697.5L401.7,699.1L401.6,700.8L401.5,702.5L401.3,704.2L401.0,706.0L400.8,707.7L400.5,709.4L400.3,711.1L400.0,712.7L399.8,714.2L399.7,715.7L399.6,717.0L399.6,718.2L399.6,719.3L399.8,720.3L400.1,721.1L400.4,721.8M435.2,721.1L435.6,722.0L435.8,722.9L435.9,724.0L435.8,725.2L435.6,726.4L435.3,727.8L434.9,729.2L434.4,730.7L433.8,732.2L433.1,733.8L432.3,735.3L431.6,736.9L430.8,738.5L430.0,740.0L429.2,741.6L428.5,743.1" fill="none" stroke="#555" stroke-width="2.8" stroke-linecap="round"/><path d="M398.6,688.6L399.3,689.2L400.0,690.0L400.5,690.9L400.9,692.0L401.3,693.2L401.5,694.5L401.7,695.9L401.7,697.5L401.7,699.1L401.6,700.8L401.5,702.5L401.3,704.2L401.0,706.0L400.8,707.7L400.5,709.4L400.3,711.1L400.0,712.7L399.8,714.2L399.7,715.7L399.6,717.0L399.6,718.2L399.6,719.3L399.8,720.3L400.1,721.1L400.4,721.8M435.2,721.1L435.6,722.0L435.8,722.9L435.9,724.0L435.8,725.2L435.6,726.4L435.3,727.8L434.9,729.2L434.4,730.7L433.8,732.2L433.1,733.8L432.3,735.3L431.6,736.9L430.8,738.5L430.0,740.0L429.2,741.6L428.5,743.1" fill="none" stroke="#d4d4d4" stroke-width="2.0" stroke-linecap="round"/><line x1="382.7" y1="681.9" x2="436.9" y2="705.7" stroke="#c8283a" stroke-width="1.2"/><text x="0" y="0" font-size="8.4" font-weight="bold" font-style="italic" fill="#c8283a" transform="translate(396.6,686.0) rotate(23.7)">Del 15bp</text><text x="362.8" y="721.6" font-size="8.4" font-weight="bold" font-style="italic" fill="#f0a020">S2</text><use href="#st" x="173"/><text x="594.5" y="711.0" font-size="8.4" font-weight="bold" font-style="italic" fill="#f0a020">S2</text><line x1="505.4" y1="794.7" x2="543" y2="794.7" stroke="#111" stroke-width="1"/><path d="M547,794.7 L541,791.8 L541,797.6Z" fill="#111"/></svg></body></html>
